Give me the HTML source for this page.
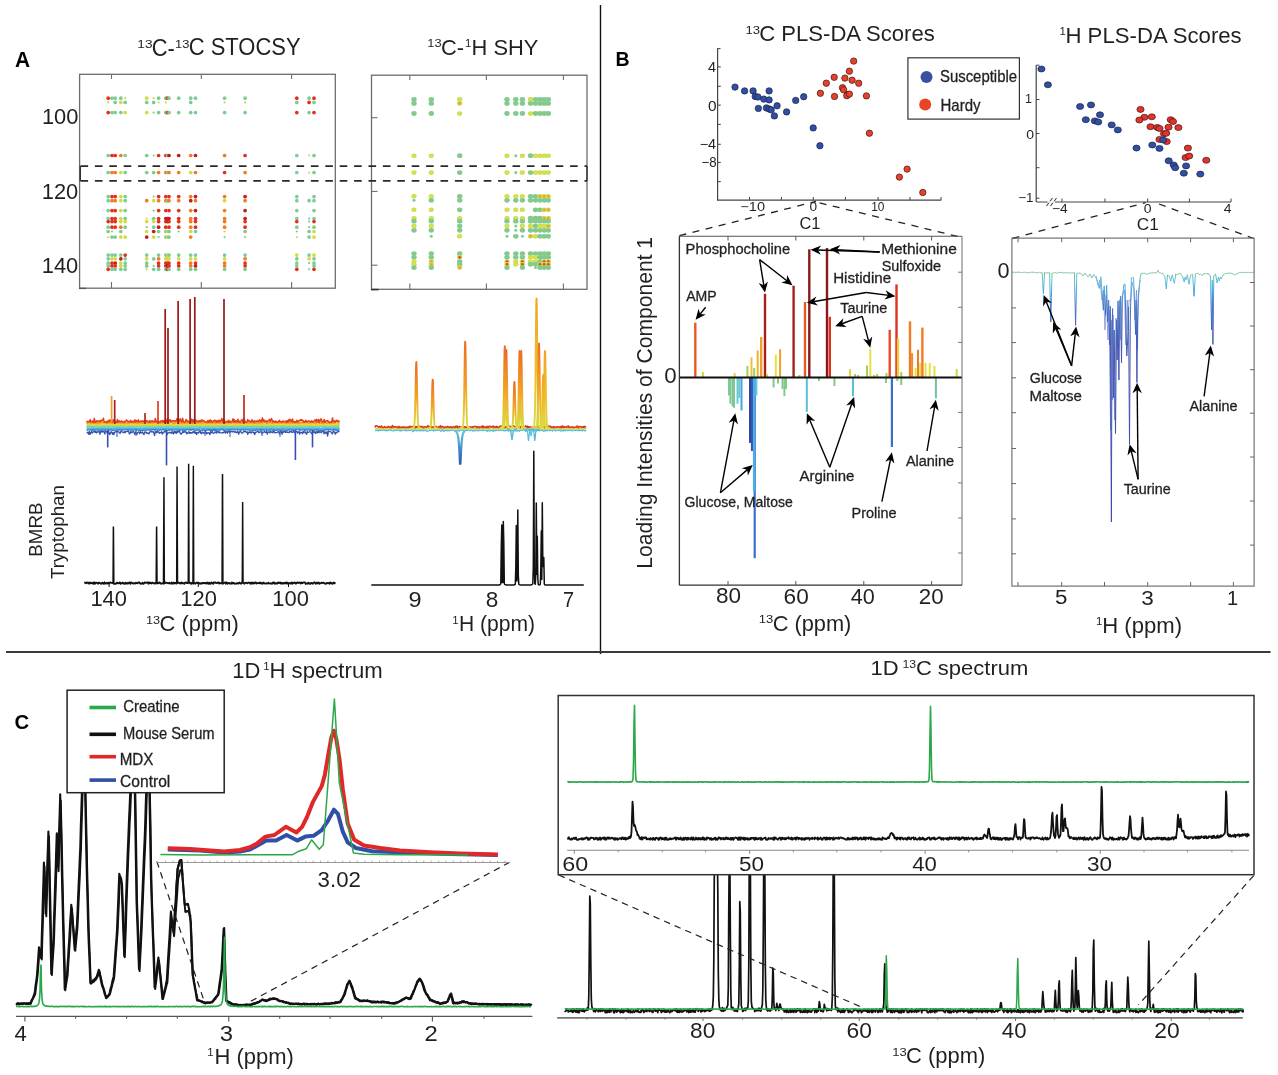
<!DOCTYPE html>
<html><head><meta charset="utf-8"><style>
html,body{margin:0;padding:0;background:#fff;}
svg{display:block;font-family:"Liberation Sans",sans-serif;will-change:transform;}
</style></head><body>
<svg width="1278" height="1075" viewBox="0 0 1278 1075">
<rect width="1278" height="1075" fill="#fff"/>
<line x1="600.5" y1="5.0" x2="600.5" y2="654.0" stroke="#111" stroke-width="1.4" />
<line x1="6.0" y1="652.0" x2="1270.6" y2="652.0" stroke="#3a3a38" stroke-width="2.1" />
<g>
<circle cx="108.2" cy="98.2" r="1.85" fill="#e3301c" stroke="none" stroke-width="0" />
<circle cx="112.0" cy="98.2" r="1.85" fill="#7dcc95" stroke="none" stroke-width="0" />
<circle cx="115.2" cy="98.2" r="1.85" fill="#7dcc95" stroke="none" stroke-width="0" />
<circle cx="120.8" cy="98.2" r="1.85" fill="#7dcc95" stroke="none" stroke-width="0" />
<circle cx="125.2" cy="98.2" r="1.1" fill="#d3db3e" stroke="none" stroke-width="0" />
<circle cx="146.7" cy="98.2" r="1.85" fill="#d3db3e" stroke="none" stroke-width="0" />
<circle cx="153.7" cy="98.2" r="1.1" fill="#d3db3e" stroke="none" stroke-width="0" />
<circle cx="158.6" cy="98.2" r="1.85" fill="#7dcc95" stroke="none" stroke-width="0" />
<circle cx="165.8" cy="98.2" r="1.85" fill="#7dcc95" stroke="none" stroke-width="0" />
<circle cx="167.5" cy="98.2" r="1.85" fill="#e3301c" stroke="none" stroke-width="0" />
<circle cx="169.0" cy="98.2" r="1.85" fill="#7dcc95" stroke="none" stroke-width="0" />
<circle cx="178.7" cy="98.2" r="1.85" fill="#7dcc95" stroke="none" stroke-width="0" />
<circle cx="190.7" cy="98.2" r="1.85" fill="#7dcc95" stroke="none" stroke-width="0" />
<circle cx="195.5" cy="98.2" r="1.85" fill="#7dcc95" stroke="none" stroke-width="0" />
<circle cx="224.6" cy="98.2" r="1.85" fill="#7dcc95" stroke="none" stroke-width="0" />
<circle cx="245.1" cy="98.2" r="1.85" fill="#7dcc95" stroke="none" stroke-width="0" />
<circle cx="296.8" cy="98.2" r="1.85" fill="#e3301c" stroke="none" stroke-width="0" />
<circle cx="309.1" cy="98.2" r="1.85" fill="#7dcc95" stroke="none" stroke-width="0" />
<circle cx="314.0" cy="98.2" r="1.85" fill="#e3301c" stroke="none" stroke-width="0" />
<circle cx="108.2" cy="102.4" r="1.1" fill="#d3db3e" stroke="none" stroke-width="0" />
<circle cx="115.2" cy="102.4" r="1.85" fill="#7dcc95" stroke="none" stroke-width="0" />
<circle cx="120.8" cy="102.4" r="1.85" fill="#d3db3e" stroke="none" stroke-width="0" />
<circle cx="125.2" cy="102.4" r="1.85" fill="#7dcc95" stroke="none" stroke-width="0" />
<circle cx="146.7" cy="102.4" r="1.85" fill="#7dcc95" stroke="none" stroke-width="0" />
<circle cx="153.7" cy="102.4" r="1.85" fill="#7dcc95" stroke="none" stroke-width="0" />
<circle cx="158.6" cy="102.4" r="1.1" fill="#d3db3e" stroke="none" stroke-width="0" />
<circle cx="165.8" cy="102.4" r="1.1" fill="#d3db3e" stroke="none" stroke-width="0" />
<circle cx="190.7" cy="102.4" r="1.85" fill="#7dcc95" stroke="none" stroke-width="0" />
<circle cx="224.6" cy="102.4" r="1.1" fill="#d3db3e" stroke="none" stroke-width="0" />
<circle cx="245.1" cy="102.4" r="1.1" fill="#d3db3e" stroke="none" stroke-width="0" />
<circle cx="296.8" cy="102.4" r="1.85" fill="#7dcc95" stroke="none" stroke-width="0" />
<circle cx="309.1" cy="102.4" r="1.85" fill="#e3301c" stroke="none" stroke-width="0" />
<circle cx="314.0" cy="102.4" r="1.85" fill="#7dcc95" stroke="none" stroke-width="0" />
<circle cx="108.2" cy="112.6" r="1.85" fill="#e3301c" stroke="none" stroke-width="0" />
<circle cx="112.0" cy="112.6" r="1.85" fill="#7dcc95" stroke="none" stroke-width="0" />
<circle cx="115.2" cy="112.6" r="1.85" fill="#7dcc95" stroke="none" stroke-width="0" />
<circle cx="120.8" cy="112.6" r="1.85" fill="#7dcc95" stroke="none" stroke-width="0" />
<circle cx="125.2" cy="112.6" r="1.85" fill="#d3db3e" stroke="none" stroke-width="0" />
<circle cx="146.7" cy="112.6" r="1.85" fill="#d3db3e" stroke="none" stroke-width="0" />
<circle cx="153.7" cy="112.6" r="1.1" fill="#7dcc95" stroke="none" stroke-width="0" />
<circle cx="158.6" cy="112.6" r="1.85" fill="#7dcc95" stroke="none" stroke-width="0" />
<circle cx="165.8" cy="112.6" r="1.85" fill="#7dcc95" stroke="none" stroke-width="0" />
<circle cx="167.5" cy="112.6" r="1.85" fill="#e3301c" stroke="none" stroke-width="0" />
<circle cx="169.0" cy="112.6" r="1.85" fill="#7dcc95" stroke="none" stroke-width="0" />
<circle cx="178.7" cy="112.6" r="1.85" fill="#7dcc95" stroke="none" stroke-width="0" />
<circle cx="190.7" cy="112.6" r="1.85" fill="#7dcc95" stroke="none" stroke-width="0" />
<circle cx="195.5" cy="112.6" r="1.85" fill="#7dcc95" stroke="none" stroke-width="0" />
<circle cx="224.6" cy="112.6" r="1.85" fill="#7dcc95" stroke="none" stroke-width="0" />
<circle cx="245.1" cy="112.6" r="1.85" fill="#7dcc95" stroke="none" stroke-width="0" />
<circle cx="296.8" cy="112.6" r="1.85" fill="#e3301c" stroke="none" stroke-width="0" />
<circle cx="309.1" cy="112.6" r="1.85" fill="#7dcc95" stroke="none" stroke-width="0" />
<circle cx="314.0" cy="112.6" r="1.85" fill="#e3301c" stroke="none" stroke-width="0" />
<circle cx="108.2" cy="155.5" r="1.85" fill="#7dcc95" stroke="none" stroke-width="0" />
<circle cx="112.0" cy="155.5" r="1.85" fill="#e3301c" stroke="none" stroke-width="0" />
<circle cx="115.2" cy="155.5" r="1.85" fill="#e3301c" stroke="none" stroke-width="0" />
<circle cx="120.8" cy="155.5" r="1.85" fill="#f07c22" stroke="none" stroke-width="0" />
<circle cx="125.2" cy="155.5" r="1.85" fill="#7dcc95" stroke="none" stroke-width="0" />
<circle cx="146.7" cy="155.5" r="1.85" fill="#7dcc95" stroke="none" stroke-width="0" />
<circle cx="153.7" cy="155.5" r="1.1" fill="#7dcc95" stroke="none" stroke-width="0" />
<circle cx="158.6" cy="155.5" r="1.85" fill="#e3301c" stroke="none" stroke-width="0" />
<circle cx="165.8" cy="155.5" r="1.85" fill="#e3301c" stroke="none" stroke-width="0" />
<circle cx="167.5" cy="155.5" r="1.85" fill="#7dcc95" stroke="none" stroke-width="0" />
<circle cx="169.0" cy="155.5" r="1.85" fill="#c21d1e" stroke="none" stroke-width="0" />
<circle cx="178.7" cy="155.5" r="1.85" fill="#c21d1e" stroke="none" stroke-width="0" />
<circle cx="190.7" cy="155.5" r="1.85" fill="#f07c22" stroke="none" stroke-width="0" />
<circle cx="195.5" cy="155.5" r="1.85" fill="#c21d1e" stroke="none" stroke-width="0" />
<circle cx="224.6" cy="155.5" r="1.85" fill="#f07c22" stroke="none" stroke-width="0" />
<circle cx="245.1" cy="155.5" r="1.85" fill="#e3301c" stroke="none" stroke-width="0" />
<circle cx="296.8" cy="155.5" r="1.85" fill="#7dcc95" stroke="none" stroke-width="0" />
<circle cx="309.1" cy="155.5" r="1.1" fill="#d3db3e" stroke="none" stroke-width="0" />
<circle cx="314.0" cy="155.5" r="1.85" fill="#7dcc95" stroke="none" stroke-width="0" />
<circle cx="108.2" cy="172.5" r="1.85" fill="#7dcc95" stroke="none" stroke-width="0" />
<circle cx="112.0" cy="172.5" r="1.85" fill="#f07c22" stroke="none" stroke-width="0" />
<circle cx="115.2" cy="172.5" r="1.85" fill="#f07c22" stroke="none" stroke-width="0" />
<circle cx="120.8" cy="172.5" r="1.85" fill="#d3db3e" stroke="none" stroke-width="0" />
<circle cx="125.2" cy="172.5" r="1.85" fill="#7dcc95" stroke="none" stroke-width="0" />
<circle cx="146.7" cy="172.5" r="1.85" fill="#7dcc95" stroke="none" stroke-width="0" />
<circle cx="153.7" cy="172.5" r="1.85" fill="#7dcc95" stroke="none" stroke-width="0" />
<circle cx="158.6" cy="172.5" r="1.85" fill="#f07c22" stroke="none" stroke-width="0" />
<circle cx="165.8" cy="172.5" r="1.85" fill="#f07c22" stroke="none" stroke-width="0" />
<circle cx="167.5" cy="172.5" r="1.85" fill="#7dcc95" stroke="none" stroke-width="0" />
<circle cx="169.0" cy="172.5" r="1.85" fill="#f07c22" stroke="none" stroke-width="0" />
<circle cx="178.7" cy="172.5" r="1.85" fill="#f07c22" stroke="none" stroke-width="0" />
<circle cx="190.7" cy="172.5" r="1.85" fill="#d3db3e" stroke="none" stroke-width="0" />
<circle cx="195.5" cy="172.5" r="1.85" fill="#f07c22" stroke="none" stroke-width="0" />
<circle cx="224.6" cy="172.5" r="1.85" fill="#e3301c" stroke="none" stroke-width="0" />
<circle cx="245.1" cy="172.5" r="1.85" fill="#f07c22" stroke="none" stroke-width="0" />
<circle cx="296.8" cy="172.5" r="1.85" fill="#7dcc95" stroke="none" stroke-width="0" />
<circle cx="309.1" cy="172.5" r="1.1" fill="#d3db3e" stroke="none" stroke-width="0" />
<circle cx="314.0" cy="172.5" r="1.85" fill="#7dcc95" stroke="none" stroke-width="0" />
<circle cx="108.2" cy="196.6" r="1.85" fill="#7dcc95" stroke="none" stroke-width="0" />
<circle cx="112.0" cy="196.6" r="1.85" fill="#e3301c" stroke="none" stroke-width="0" />
<circle cx="115.2" cy="196.6" r="1.85" fill="#e3301c" stroke="none" stroke-width="0" />
<circle cx="120.8" cy="196.6" r="1.85" fill="#d3db3e" stroke="none" stroke-width="0" />
<circle cx="125.2" cy="196.6" r="1.85" fill="#7dcc95" stroke="none" stroke-width="0" />
<circle cx="153.7" cy="196.6" r="1.1" fill="#7dcc95" stroke="none" stroke-width="0" />
<circle cx="158.6" cy="196.6" r="1.85" fill="#e3301c" stroke="none" stroke-width="0" />
<circle cx="165.8" cy="196.6" r="1.85" fill="#e3301c" stroke="none" stroke-width="0" />
<circle cx="169.0" cy="196.6" r="1.85" fill="#e3301c" stroke="none" stroke-width="0" />
<circle cx="178.7" cy="196.6" r="1.85" fill="#e3301c" stroke="none" stroke-width="0" />
<circle cx="190.7" cy="196.6" r="1.85" fill="#f07c22" stroke="none" stroke-width="0" />
<circle cx="195.5" cy="196.6" r="1.85" fill="#c21d1e" stroke="none" stroke-width="0" />
<circle cx="224.6" cy="196.6" r="1.85" fill="#f07c22" stroke="none" stroke-width="0" />
<circle cx="245.1" cy="196.6" r="1.85" fill="#c21d1e" stroke="none" stroke-width="0" />
<circle cx="296.8" cy="196.6" r="1.85" fill="#7dcc95" stroke="none" stroke-width="0" />
<circle cx="314.0" cy="196.6" r="1.85" fill="#7dcc95" stroke="none" stroke-width="0" />
<circle cx="108.2" cy="200.7" r="1.85" fill="#7dcc95" stroke="none" stroke-width="0" />
<circle cx="112.0" cy="200.7" r="1.85" fill="#f07c22" stroke="none" stroke-width="0" />
<circle cx="115.2" cy="200.7" r="1.85" fill="#f07c22" stroke="none" stroke-width="0" />
<circle cx="120.8" cy="200.7" r="1.85" fill="#d3db3e" stroke="none" stroke-width="0" />
<circle cx="125.2" cy="200.7" r="1.85" fill="#7dcc95" stroke="none" stroke-width="0" />
<circle cx="146.7" cy="200.7" r="1.85" fill="#f07c22" stroke="none" stroke-width="0" />
<circle cx="153.7" cy="200.7" r="1.85" fill="#d3db3e" stroke="none" stroke-width="0" />
<circle cx="158.6" cy="200.7" r="1.85" fill="#f07c22" stroke="none" stroke-width="0" />
<circle cx="165.8" cy="200.7" r="1.85" fill="#f07c22" stroke="none" stroke-width="0" />
<circle cx="167.5" cy="200.7" r="1.85" fill="#7dcc95" stroke="none" stroke-width="0" />
<circle cx="169.0" cy="200.7" r="1.85" fill="#f07c22" stroke="none" stroke-width="0" />
<circle cx="178.7" cy="200.7" r="1.85" fill="#f07c22" stroke="none" stroke-width="0" />
<circle cx="190.7" cy="200.7" r="1.85" fill="#c21d1e" stroke="none" stroke-width="0" />
<circle cx="195.5" cy="200.7" r="1.85" fill="#f07c22" stroke="none" stroke-width="0" />
<circle cx="224.6" cy="200.7" r="1.85" fill="#d3db3e" stroke="none" stroke-width="0" />
<circle cx="245.1" cy="200.7" r="1.85" fill="#f07c22" stroke="none" stroke-width="0" />
<circle cx="296.8" cy="200.7" r="1.85" fill="#7dcc95" stroke="none" stroke-width="0" />
<circle cx="309.1" cy="200.7" r="1.85" fill="#7dcc95" stroke="none" stroke-width="0" />
<circle cx="314.0" cy="200.7" r="1.85" fill="#7dcc95" stroke="none" stroke-width="0" />
<circle cx="108.2" cy="210.6" r="1.85" fill="#7dcc95" stroke="none" stroke-width="0" />
<circle cx="112.0" cy="210.6" r="1.85" fill="#e3301c" stroke="none" stroke-width="0" />
<circle cx="115.2" cy="210.6" r="1.85" fill="#e3301c" stroke="none" stroke-width="0" />
<circle cx="120.8" cy="210.6" r="1.85" fill="#d3db3e" stroke="none" stroke-width="0" />
<circle cx="125.2" cy="210.6" r="1.85" fill="#7dcc95" stroke="none" stroke-width="0" />
<circle cx="153.7" cy="210.6" r="1.1" fill="#7dcc95" stroke="none" stroke-width="0" />
<circle cx="158.6" cy="210.6" r="1.85" fill="#e3301c" stroke="none" stroke-width="0" />
<circle cx="165.8" cy="210.6" r="1.85" fill="#e3301c" stroke="none" stroke-width="0" />
<circle cx="169.0" cy="210.6" r="1.85" fill="#e3301c" stroke="none" stroke-width="0" />
<circle cx="178.7" cy="210.6" r="1.85" fill="#e3301c" stroke="none" stroke-width="0" />
<circle cx="190.7" cy="210.6" r="1.85" fill="#f07c22" stroke="none" stroke-width="0" />
<circle cx="195.5" cy="210.6" r="1.85" fill="#c21d1e" stroke="none" stroke-width="0" />
<circle cx="224.6" cy="210.6" r="1.85" fill="#f07c22" stroke="none" stroke-width="0" />
<circle cx="245.1" cy="210.6" r="1.85" fill="#c21d1e" stroke="none" stroke-width="0" />
<circle cx="296.8" cy="210.6" r="1.85" fill="#7dcc95" stroke="none" stroke-width="0" />
<circle cx="314.0" cy="210.6" r="1.85" fill="#7dcc95" stroke="none" stroke-width="0" />
<circle cx="108.2" cy="218.5" r="1.85" fill="#7dcc95" stroke="none" stroke-width="0" />
<circle cx="112.0" cy="218.5" r="1.85" fill="#e3301c" stroke="none" stroke-width="0" />
<circle cx="115.2" cy="218.5" r="1.85" fill="#e3301c" stroke="none" stroke-width="0" />
<circle cx="120.8" cy="218.5" r="1.85" fill="#d3db3e" stroke="none" stroke-width="0" />
<circle cx="125.2" cy="218.5" r="1.85" fill="#7dcc95" stroke="none" stroke-width="0" />
<circle cx="146.7" cy="218.5" r="1.1" fill="#d3db3e" stroke="none" stroke-width="0" />
<circle cx="153.7" cy="218.5" r="1.85" fill="#7dcc95" stroke="none" stroke-width="0" />
<circle cx="158.6" cy="218.5" r="1.85" fill="#e3301c" stroke="none" stroke-width="0" />
<circle cx="165.8" cy="218.5" r="1.85" fill="#c21d1e" stroke="none" stroke-width="0" />
<circle cx="167.5" cy="218.5" r="1.85" fill="#c21d1e" stroke="none" stroke-width="0" />
<circle cx="169.0" cy="218.5" r="1.85" fill="#c21d1e" stroke="none" stroke-width="0" />
<circle cx="178.7" cy="218.5" r="1.85" fill="#e3301c" stroke="none" stroke-width="0" />
<circle cx="190.7" cy="218.5" r="1.85" fill="#f07c22" stroke="none" stroke-width="0" />
<circle cx="195.5" cy="218.5" r="1.85" fill="#e3301c" stroke="none" stroke-width="0" />
<circle cx="224.6" cy="218.5" r="1.85" fill="#f07c22" stroke="none" stroke-width="0" />
<circle cx="245.1" cy="218.5" r="1.85" fill="#c21d1e" stroke="none" stroke-width="0" />
<circle cx="296.8" cy="218.5" r="1.85" fill="#7dcc95" stroke="none" stroke-width="0" />
<circle cx="309.1" cy="218.5" r="1.1" fill="#7dcc95" stroke="none" stroke-width="0" />
<circle cx="314.0" cy="218.5" r="1.85" fill="#7dcc95" stroke="none" stroke-width="0" />
<circle cx="108.2" cy="221.6" r="1.85" fill="#e3301c" stroke="none" stroke-width="0" />
<circle cx="112.0" cy="221.6" r="1.85" fill="#e3301c" stroke="none" stroke-width="0" />
<circle cx="115.2" cy="221.6" r="1.85" fill="#e3301c" stroke="none" stroke-width="0" />
<circle cx="120.8" cy="221.6" r="1.85" fill="#d3db3e" stroke="none" stroke-width="0" />
<circle cx="125.2" cy="221.6" r="1.85" fill="#d3db3e" stroke="none" stroke-width="0" />
<circle cx="146.7" cy="221.6" r="1.85" fill="#d3db3e" stroke="none" stroke-width="0" />
<circle cx="153.7" cy="221.6" r="1.85" fill="#d3db3e" stroke="none" stroke-width="0" />
<circle cx="158.6" cy="221.6" r="1.85" fill="#e3301c" stroke="none" stroke-width="0" />
<circle cx="165.8" cy="221.6" r="1.85" fill="#e3301c" stroke="none" stroke-width="0" />
<circle cx="167.5" cy="221.6" r="1.85" fill="#c21d1e" stroke="none" stroke-width="0" />
<circle cx="169.0" cy="221.6" r="1.85" fill="#e3301c" stroke="none" stroke-width="0" />
<circle cx="178.7" cy="221.6" r="1.85" fill="#e3301c" stroke="none" stroke-width="0" />
<circle cx="190.7" cy="221.6" r="1.85" fill="#f07c22" stroke="none" stroke-width="0" />
<circle cx="195.5" cy="221.6" r="1.85" fill="#e3301c" stroke="none" stroke-width="0" />
<circle cx="224.6" cy="221.6" r="1.85" fill="#f07c22" stroke="none" stroke-width="0" />
<circle cx="245.1" cy="221.6" r="1.85" fill="#e3301c" stroke="none" stroke-width="0" />
<circle cx="296.8" cy="221.6" r="1.85" fill="#e3301c" stroke="none" stroke-width="0" />
<circle cx="309.1" cy="221.6" r="1.1" fill="#7dcc95" stroke="none" stroke-width="0" />
<circle cx="314.0" cy="221.6" r="1.85" fill="#e3301c" stroke="none" stroke-width="0" />
<circle cx="108.2" cy="227.2" r="1.85" fill="#7dcc95" stroke="none" stroke-width="0" />
<circle cx="112.0" cy="227.2" r="1.85" fill="#e3301c" stroke="none" stroke-width="0" />
<circle cx="115.2" cy="227.2" r="1.85" fill="#e3301c" stroke="none" stroke-width="0" />
<circle cx="120.8" cy="227.2" r="1.85" fill="#f07c22" stroke="none" stroke-width="0" />
<circle cx="125.2" cy="227.2" r="1.85" fill="#7dcc95" stroke="none" stroke-width="0" />
<circle cx="146.7" cy="227.2" r="1.1" fill="#7dcc95" stroke="none" stroke-width="0" />
<circle cx="153.7" cy="227.2" r="1.85" fill="#7dcc95" stroke="none" stroke-width="0" />
<circle cx="158.6" cy="227.2" r="1.85" fill="#c21d1e" stroke="none" stroke-width="0" />
<circle cx="165.8" cy="227.2" r="1.85" fill="#e3301c" stroke="none" stroke-width="0" />
<circle cx="169.0" cy="227.2" r="1.85" fill="#e3301c" stroke="none" stroke-width="0" />
<circle cx="178.7" cy="227.2" r="1.85" fill="#e3301c" stroke="none" stroke-width="0" />
<circle cx="190.7" cy="227.2" r="1.85" fill="#f07c22" stroke="none" stroke-width="0" />
<circle cx="195.5" cy="227.2" r="1.85" fill="#e3301c" stroke="none" stroke-width="0" />
<circle cx="224.6" cy="227.2" r="1.85" fill="#f07c22" stroke="none" stroke-width="0" />
<circle cx="245.1" cy="227.2" r="1.85" fill="#e3301c" stroke="none" stroke-width="0" />
<circle cx="296.8" cy="227.2" r="1.85" fill="#7dcc95" stroke="none" stroke-width="0" />
<circle cx="309.1" cy="227.2" r="1.1" fill="#7dcc95" stroke="none" stroke-width="0" />
<circle cx="314.0" cy="227.2" r="1.85" fill="#7dcc95" stroke="none" stroke-width="0" />
<circle cx="108.2" cy="231.5" r="1.85" fill="#7dcc95" stroke="none" stroke-width="0" />
<circle cx="112.0" cy="231.5" r="1.1" fill="#7dcc95" stroke="none" stroke-width="0" />
<circle cx="120.8" cy="231.5" r="1.85" fill="#7dcc95" stroke="none" stroke-width="0" />
<circle cx="146.7" cy="231.5" r="1.85" fill="#d3db3e" stroke="none" stroke-width="0" />
<circle cx="153.7" cy="231.5" r="1.85" fill="#c21d1e" stroke="none" stroke-width="0" />
<circle cx="158.6" cy="231.5" r="1.85" fill="#7dcc95" stroke="none" stroke-width="0" />
<circle cx="165.8" cy="231.5" r="1.85" fill="#7dcc95" stroke="none" stroke-width="0" />
<circle cx="167.5" cy="231.5" r="1.85" fill="#d3db3e" stroke="none" stroke-width="0" />
<circle cx="169.0" cy="231.5" r="1.85" fill="#7dcc95" stroke="none" stroke-width="0" />
<circle cx="178.7" cy="231.5" r="1.1" fill="#7dcc95" stroke="none" stroke-width="0" />
<circle cx="190.7" cy="231.5" r="1.85" fill="#d3db3e" stroke="none" stroke-width="0" />
<circle cx="195.5" cy="231.5" r="1.85" fill="#7dcc95" stroke="none" stroke-width="0" />
<circle cx="224.6" cy="231.5" r="1.1" fill="#d3db3e" stroke="none" stroke-width="0" />
<circle cx="245.1" cy="231.5" r="1.85" fill="#7dcc95" stroke="none" stroke-width="0" />
<circle cx="296.8" cy="231.5" r="1.1" fill="#7dcc95" stroke="none" stroke-width="0" />
<circle cx="309.1" cy="231.5" r="1.85" fill="#7dcc95" stroke="none" stroke-width="0" />
<circle cx="314.0" cy="231.5" r="1.85" fill="#d3db3e" stroke="none" stroke-width="0" />
<circle cx="108.2" cy="237.1" r="1.1" fill="#d3db3e" stroke="none" stroke-width="0" />
<circle cx="112.0" cy="237.1" r="1.85" fill="#7dcc95" stroke="none" stroke-width="0" />
<circle cx="115.2" cy="237.1" r="1.85" fill="#7dcc95" stroke="none" stroke-width="0" />
<circle cx="120.8" cy="237.1" r="1.85" fill="#d3db3e" stroke="none" stroke-width="0" />
<circle cx="125.2" cy="237.1" r="1.85" fill="#d3db3e" stroke="none" stroke-width="0" />
<circle cx="146.7" cy="237.1" r="1.85" fill="#c21d1e" stroke="none" stroke-width="0" />
<circle cx="153.7" cy="237.1" r="1.85" fill="#d3db3e" stroke="none" stroke-width="0" />
<circle cx="158.6" cy="237.1" r="1.1" fill="#7dcc95" stroke="none" stroke-width="0" />
<circle cx="165.8" cy="237.1" r="1.85" fill="#7dcc95" stroke="none" stroke-width="0" />
<circle cx="167.5" cy="237.1" r="1.85" fill="#d3db3e" stroke="none" stroke-width="0" />
<circle cx="169.0" cy="237.1" r="1.85" fill="#7dcc95" stroke="none" stroke-width="0" />
<circle cx="190.7" cy="237.1" r="1.85" fill="#f07c22" stroke="none" stroke-width="0" />
<circle cx="224.6" cy="237.1" r="1.1" fill="#7dcc95" stroke="none" stroke-width="0" />
<circle cx="245.1" cy="237.1" r="1.1" fill="#7dcc95" stroke="none" stroke-width="0" />
<circle cx="296.8" cy="237.1" r="1.1" fill="#d3db3e" stroke="none" stroke-width="0" />
<circle cx="309.1" cy="237.1" r="1.85" fill="#7dcc95" stroke="none" stroke-width="0" />
<circle cx="314.0" cy="237.1" r="1.85" fill="#d3db3e" stroke="none" stroke-width="0" />
<circle cx="108.2" cy="255.1" r="1.85" fill="#7dcc95" stroke="none" stroke-width="0" />
<circle cx="112.0" cy="255.1" r="1.85" fill="#7dcc95" stroke="none" stroke-width="0" />
<circle cx="115.2" cy="255.1" r="1.85" fill="#7dcc95" stroke="none" stroke-width="0" />
<circle cx="120.8" cy="255.1" r="1.85" fill="#7dcc95" stroke="none" stroke-width="0" />
<circle cx="125.2" cy="255.1" r="1.85" fill="#e3301c" stroke="none" stroke-width="0" />
<circle cx="146.7" cy="255.1" r="1.85" fill="#7dcc95" stroke="none" stroke-width="0" />
<circle cx="158.6" cy="255.1" r="1.85" fill="#7dcc95" stroke="none" stroke-width="0" />
<circle cx="165.8" cy="255.1" r="1.85" fill="#7dcc95" stroke="none" stroke-width="0" />
<circle cx="167.5" cy="255.1" r="1.85" fill="#d3db3e" stroke="none" stroke-width="0" />
<circle cx="169.0" cy="255.1" r="1.85" fill="#7dcc95" stroke="none" stroke-width="0" />
<circle cx="178.7" cy="255.1" r="1.85" fill="#7dcc95" stroke="none" stroke-width="0" />
<circle cx="190.7" cy="255.1" r="1.85" fill="#7dcc95" stroke="none" stroke-width="0" />
<circle cx="195.5" cy="255.1" r="1.85" fill="#7dcc95" stroke="none" stroke-width="0" />
<circle cx="224.6" cy="255.1" r="1.85" fill="#7dcc95" stroke="none" stroke-width="0" />
<circle cx="245.1" cy="255.1" r="1.85" fill="#7dcc95" stroke="none" stroke-width="0" />
<circle cx="296.8" cy="255.1" r="1.85" fill="#d3db3e" stroke="none" stroke-width="0" />
<circle cx="309.1" cy="255.1" r="1.85" fill="#7dcc95" stroke="none" stroke-width="0" />
<circle cx="314.0" cy="255.1" r="1.85" fill="#d3db3e" stroke="none" stroke-width="0" />
<circle cx="108.2" cy="258.8" r="1.85" fill="#7dcc95" stroke="none" stroke-width="0" />
<circle cx="112.0" cy="258.8" r="1.85" fill="#d3db3e" stroke="none" stroke-width="0" />
<circle cx="115.2" cy="258.8" r="1.85" fill="#d3db3e" stroke="none" stroke-width="0" />
<circle cx="120.8" cy="258.8" r="1.85" fill="#c21d1e" stroke="none" stroke-width="0" />
<circle cx="125.2" cy="258.8" r="1.85" fill="#7dcc95" stroke="none" stroke-width="0" />
<circle cx="146.7" cy="258.8" r="1.85" fill="#d3db3e" stroke="none" stroke-width="0" />
<circle cx="153.7" cy="258.8" r="1.85" fill="#7dcc95" stroke="none" stroke-width="0" />
<circle cx="158.6" cy="258.8" r="1.85" fill="#f07c22" stroke="none" stroke-width="0" />
<circle cx="165.8" cy="258.8" r="1.85" fill="#d3db3e" stroke="none" stroke-width="0" />
<circle cx="167.5" cy="258.8" r="1.85" fill="#d3db3e" stroke="none" stroke-width="0" />
<circle cx="169.0" cy="258.8" r="1.85" fill="#d3db3e" stroke="none" stroke-width="0" />
<circle cx="178.7" cy="258.8" r="1.85" fill="#d3db3e" stroke="none" stroke-width="0" />
<circle cx="190.7" cy="258.8" r="1.85" fill="#d3db3e" stroke="none" stroke-width="0" />
<circle cx="195.5" cy="258.8" r="1.85" fill="#d3db3e" stroke="none" stroke-width="0" />
<circle cx="224.6" cy="258.8" r="1.85" fill="#d3db3e" stroke="none" stroke-width="0" />
<circle cx="245.1" cy="258.8" r="1.85" fill="#f07c22" stroke="none" stroke-width="0" />
<circle cx="296.8" cy="258.8" r="1.85" fill="#7dcc95" stroke="none" stroke-width="0" />
<circle cx="309.1" cy="258.8" r="1.85" fill="#d3db3e" stroke="none" stroke-width="0" />
<circle cx="314.0" cy="258.8" r="1.85" fill="#7dcc95" stroke="none" stroke-width="0" />
<circle cx="108.2" cy="263.1" r="1.85" fill="#7dcc95" stroke="none" stroke-width="0" />
<circle cx="112.0" cy="263.1" r="1.85" fill="#e3301c" stroke="none" stroke-width="0" />
<circle cx="115.2" cy="263.1" r="1.85" fill="#c21d1e" stroke="none" stroke-width="0" />
<circle cx="120.8" cy="263.1" r="1.85" fill="#d3db3e" stroke="none" stroke-width="0" />
<circle cx="125.2" cy="263.1" r="1.85" fill="#7dcc95" stroke="none" stroke-width="0" />
<circle cx="146.7" cy="263.1" r="1.85" fill="#7dcc95" stroke="none" stroke-width="0" />
<circle cx="158.6" cy="263.1" r="1.85" fill="#e3301c" stroke="none" stroke-width="0" />
<circle cx="165.8" cy="263.1" r="1.85" fill="#e3301c" stroke="none" stroke-width="0" />
<circle cx="167.5" cy="263.1" r="1.85" fill="#e3301c" stroke="none" stroke-width="0" />
<circle cx="169.0" cy="263.1" r="1.85" fill="#e3301c" stroke="none" stroke-width="0" />
<circle cx="178.7" cy="263.1" r="1.85" fill="#e3301c" stroke="none" stroke-width="0" />
<circle cx="190.7" cy="263.1" r="1.85" fill="#f07c22" stroke="none" stroke-width="0" />
<circle cx="195.5" cy="263.1" r="1.85" fill="#e3301c" stroke="none" stroke-width="0" />
<circle cx="224.6" cy="263.1" r="1.85" fill="#f07c22" stroke="none" stroke-width="0" />
<circle cx="245.1" cy="263.1" r="1.85" fill="#e3301c" stroke="none" stroke-width="0" />
<circle cx="296.8" cy="263.1" r="1.85" fill="#7dcc95" stroke="none" stroke-width="0" />
<circle cx="309.1" cy="263.1" r="1.1" fill="#7dcc95" stroke="none" stroke-width="0" />
<circle cx="314.0" cy="263.1" r="1.85" fill="#7dcc95" stroke="none" stroke-width="0" />
<circle cx="108.2" cy="265.9" r="1.85" fill="#7dcc95" stroke="none" stroke-width="0" />
<circle cx="112.0" cy="265.9" r="1.85" fill="#e3301c" stroke="none" stroke-width="0" />
<circle cx="115.2" cy="265.9" r="1.85" fill="#e3301c" stroke="none" stroke-width="0" />
<circle cx="120.8" cy="265.9" r="1.85" fill="#d3db3e" stroke="none" stroke-width="0" />
<circle cx="125.2" cy="265.9" r="1.85" fill="#7dcc95" stroke="none" stroke-width="0" />
<circle cx="146.7" cy="265.9" r="1.85" fill="#7dcc95" stroke="none" stroke-width="0" />
<circle cx="153.7" cy="265.9" r="1.1" fill="#7dcc95" stroke="none" stroke-width="0" />
<circle cx="158.6" cy="265.9" r="1.85" fill="#e3301c" stroke="none" stroke-width="0" />
<circle cx="165.8" cy="265.9" r="1.85" fill="#e3301c" stroke="none" stroke-width="0" />
<circle cx="167.5" cy="265.9" r="1.85" fill="#c21d1e" stroke="none" stroke-width="0" />
<circle cx="169.0" cy="265.9" r="1.85" fill="#e3301c" stroke="none" stroke-width="0" />
<circle cx="178.7" cy="265.9" r="1.85" fill="#e3301c" stroke="none" stroke-width="0" />
<circle cx="190.7" cy="265.9" r="1.85" fill="#f07c22" stroke="none" stroke-width="0" />
<circle cx="195.5" cy="265.9" r="1.85" fill="#c21d1e" stroke="none" stroke-width="0" />
<circle cx="224.6" cy="265.9" r="1.85" fill="#f07c22" stroke="none" stroke-width="0" />
<circle cx="245.1" cy="265.9" r="1.85" fill="#e3301c" stroke="none" stroke-width="0" />
<circle cx="296.8" cy="265.9" r="1.85" fill="#7dcc95" stroke="none" stroke-width="0" />
<circle cx="314.0" cy="265.9" r="1.85" fill="#7dcc95" stroke="none" stroke-width="0" />
<circle cx="108.2" cy="269.3" r="1.85" fill="#e3301c" stroke="none" stroke-width="0" />
<circle cx="112.0" cy="269.3" r="1.85" fill="#7dcc95" stroke="none" stroke-width="0" />
<circle cx="115.2" cy="269.3" r="1.85" fill="#7dcc95" stroke="none" stroke-width="0" />
<circle cx="120.8" cy="269.3" r="1.85" fill="#7dcc95" stroke="none" stroke-width="0" />
<circle cx="125.2" cy="269.3" r="1.85" fill="#7dcc95" stroke="none" stroke-width="0" />
<circle cx="146.7" cy="269.3" r="1.1" fill="#d3db3e" stroke="none" stroke-width="0" />
<circle cx="153.7" cy="269.3" r="1.85" fill="#7dcc95" stroke="none" stroke-width="0" />
<circle cx="158.6" cy="269.3" r="1.85" fill="#7dcc95" stroke="none" stroke-width="0" />
<circle cx="165.8" cy="269.3" r="1.85" fill="#7dcc95" stroke="none" stroke-width="0" />
<circle cx="167.5" cy="269.3" r="1.85" fill="#e3301c" stroke="none" stroke-width="0" />
<circle cx="169.0" cy="269.3" r="1.85" fill="#7dcc95" stroke="none" stroke-width="0" />
<circle cx="178.7" cy="269.3" r="1.85" fill="#7dcc95" stroke="none" stroke-width="0" />
<circle cx="190.7" cy="269.3" r="1.85" fill="#7dcc95" stroke="none" stroke-width="0" />
<circle cx="195.5" cy="269.3" r="1.85" fill="#7dcc95" stroke="none" stroke-width="0" />
<circle cx="224.6" cy="269.3" r="1.85" fill="#7dcc95" stroke="none" stroke-width="0" />
<circle cx="245.1" cy="269.3" r="1.85" fill="#7dcc95" stroke="none" stroke-width="0" />
<circle cx="296.8" cy="269.3" r="1.85" fill="#e3301c" stroke="none" stroke-width="0" />
<circle cx="309.1" cy="269.3" r="1.1" fill="#7dcc95" stroke="none" stroke-width="0" />
<circle cx="314.0" cy="269.3" r="1.85" fill="#e3301c" stroke="none" stroke-width="0" />
</g>
<rect x="79.6" y="74.3" width="255.7" height="213.9" fill="none" stroke="#6d6d6d" stroke-width="1.3" />
<line x1="111.5" y1="74.3" x2="111.5" y2="79.0" stroke="#6d6d6d" stroke-width="1.1" />
<line x1="111.5" y1="288.2" x2="111.5" y2="282.0" stroke="#6d6d6d" stroke-width="1.1" />
<line x1="201.3" y1="74.3" x2="201.3" y2="79.0" stroke="#6d6d6d" stroke-width="1.1" />
<line x1="201.3" y1="288.2" x2="201.3" y2="282.0" stroke="#6d6d6d" stroke-width="1.1" />
<line x1="291.6" y1="74.3" x2="291.6" y2="79.0" stroke="#6d6d6d" stroke-width="1.1" />
<line x1="291.6" y1="288.2" x2="291.6" y2="282.0" stroke="#6d6d6d" stroke-width="1.1" />
<ellipse cx="414" cy="99.4" rx="2.7" ry="2.4" fill="#84ca8c"/>
<ellipse cx="431.3" cy="99.4" rx="2.7" ry="2.4" fill="#84ca8c"/>
<ellipse cx="459.7" cy="99.4" rx="2.6" ry="2.3" fill="#c9dc55"/>
<circle cx="459.7" cy="99.4" r="1.3" fill="#e6e03a" stroke="none" stroke-width="0" />
<ellipse cx="507" cy="99.4" rx="2.7" ry="2.4" fill="#84ca8c"/>
<ellipse cx="515.8" cy="99.4" rx="2.7" ry="2.4" fill="#84ca8c"/>
<ellipse cx="522.4" cy="99.4" rx="2.7" ry="2.4" fill="#84ca8c"/>
<ellipse cx="530.5" cy="99.4" rx="2.6" ry="2.3" fill="#c9dc55"/>
<circle cx="530.5" cy="99.4" r="1.3" fill="#e6e03a" stroke="none" stroke-width="0" />
<ellipse cx="535.5" cy="99.4" rx="2.7" ry="2.4" fill="#84ca8c"/>
<ellipse cx="540" cy="99.4" rx="2.7" ry="2.4" fill="#84ca8c"/>
<ellipse cx="544.2" cy="99.4" rx="2.7" ry="2.4" fill="#84ca8c"/>
<ellipse cx="548.3" cy="99.4" rx="2.7" ry="2.4" fill="#84ca8c"/>
<ellipse cx="414" cy="103.4" rx="2.7" ry="2.4" fill="#84ca8c"/>
<ellipse cx="431.3" cy="103.4" rx="2.7" ry="2.4" fill="#84ca8c"/>
<ellipse cx="459.7" cy="103.4" rx="2.6" ry="2.3" fill="#c9dc55"/>
<circle cx="459.7" cy="103.4" r="1.4" fill="#f2a22a" stroke="none" stroke-width="0" />
<ellipse cx="507" cy="103.4" rx="2.7" ry="2.4" fill="#84ca8c"/>
<ellipse cx="515.8" cy="103.4" rx="2.7" ry="2.4" fill="#84ca8c"/>
<ellipse cx="522.4" cy="103.4" rx="2.7" ry="2.4" fill="#84ca8c"/>
<ellipse cx="530.5" cy="103.4" rx="2.7" ry="2.4" fill="#84ca8c"/>
<ellipse cx="535.5" cy="103.4" rx="2.7" ry="2.4" fill="#84ca8c"/>
<ellipse cx="540" cy="103.4" rx="2.7" ry="2.4" fill="#84ca8c"/>
<ellipse cx="544.2" cy="103.4" rx="2.7" ry="2.4" fill="#84ca8c"/>
<ellipse cx="548.3" cy="103.4" rx="2.7" ry="2.4" fill="#84ca8c"/>
<ellipse cx="414" cy="113.5" rx="2.7" ry="2.4" fill="#84ca8c"/>
<ellipse cx="431.3" cy="113.5" rx="2.7" ry="2.4" fill="#84ca8c"/>
<ellipse cx="459.7" cy="113.5" rx="2.6" ry="2.3" fill="#c9dc55"/>
<circle cx="459.7" cy="113.5" r="1.3" fill="#e6e03a" stroke="none" stroke-width="0" />
<ellipse cx="507" cy="113.5" rx="2.7" ry="2.4" fill="#84ca8c"/>
<ellipse cx="515.8" cy="113.5" rx="2.7" ry="2.4" fill="#84ca8c"/>
<ellipse cx="522.4" cy="113.5" rx="2.7" ry="2.4" fill="#84ca8c"/>
<ellipse cx="530.5" cy="113.5" rx="2.6" ry="2.3" fill="#c9dc55"/>
<circle cx="530.5" cy="113.5" r="1.3" fill="#e6e03a" stroke="none" stroke-width="0" />
<ellipse cx="535.5" cy="113.5" rx="2.7" ry="2.4" fill="#84ca8c"/>
<ellipse cx="540" cy="113.5" rx="2.7" ry="2.4" fill="#84ca8c"/>
<ellipse cx="544.2" cy="113.5" rx="2.7" ry="2.4" fill="#84ca8c"/>
<ellipse cx="548.3" cy="113.5" rx="2.7" ry="2.4" fill="#84ca8c"/>
<ellipse cx="414" cy="155.7" rx="2.6" ry="2.3" fill="#c9dc55"/>
<circle cx="414.0" cy="155.7" r="1.3" fill="#e6e03a" stroke="none" stroke-width="0" />
<ellipse cx="431.3" cy="155.7" rx="2.6" ry="2.3" fill="#c9dc55"/>
<circle cx="431.3" cy="155.7" r="1.3" fill="#e6e03a" stroke="none" stroke-width="0" />
<ellipse cx="459.7" cy="155.7" rx="2.7" ry="2.4" fill="#84ca8c"/>
<ellipse cx="507" cy="155.7" rx="2.6" ry="2.3" fill="#c9dc55"/>
<circle cx="507.0" cy="155.7" r="1.3" fill="#e6e03a" stroke="none" stroke-width="0" />
<circle cx="515.8" cy="155.7" r="1.5" fill="#7dcc95" stroke="none" stroke-width="0" />
<ellipse cx="522.4" cy="155.7" rx="2.6" ry="2.3" fill="#c9dc55"/>
<circle cx="522.4" cy="155.7" r="1.3" fill="#e6e03a" stroke="none" stroke-width="0" />
<ellipse cx="530.5" cy="155.7" rx="2.7" ry="2.4" fill="#84ca8c"/>
<ellipse cx="535.5" cy="155.7" rx="2.6" ry="2.3" fill="#c9dc55"/>
<circle cx="535.5" cy="155.7" r="1.3" fill="#e6e03a" stroke="none" stroke-width="0" />
<ellipse cx="540" cy="155.7" rx="2.6" ry="2.3" fill="#c9dc55"/>
<circle cx="540.0" cy="155.7" r="1.3" fill="#e6e03a" stroke="none" stroke-width="0" />
<ellipse cx="544.2" cy="155.7" rx="2.6" ry="2.3" fill="#c9dc55"/>
<circle cx="544.2" cy="155.7" r="1.3" fill="#e6e03a" stroke="none" stroke-width="0" />
<ellipse cx="548.3" cy="155.7" rx="2.6" ry="2.3" fill="#c9dc55"/>
<circle cx="548.3" cy="155.7" r="1.3" fill="#e6e03a" stroke="none" stroke-width="0" />
<ellipse cx="414" cy="172.6" rx="2.6" ry="2.3" fill="#c9dc55"/>
<circle cx="414.0" cy="172.6" r="1.3" fill="#e6e03a" stroke="none" stroke-width="0" />
<ellipse cx="431.3" cy="172.6" rx="2.6" ry="2.3" fill="#c9dc55"/>
<circle cx="431.3" cy="172.6" r="1.3" fill="#e6e03a" stroke="none" stroke-width="0" />
<ellipse cx="459.7" cy="172.6" rx="2.7" ry="2.4" fill="#84ca8c"/>
<ellipse cx="507" cy="172.6" rx="2.6" ry="2.3" fill="#c9dc55"/>
<circle cx="507.0" cy="172.6" r="1.3" fill="#e6e03a" stroke="none" stroke-width="0" />
<circle cx="515.8" cy="172.6" r="1.5" fill="#7dcc95" stroke="none" stroke-width="0" />
<ellipse cx="522.4" cy="172.6" rx="2.6" ry="2.3" fill="#c9dc55"/>
<circle cx="522.4" cy="172.6" r="1.3" fill="#e6e03a" stroke="none" stroke-width="0" />
<ellipse cx="530.5" cy="172.6" rx="2.7" ry="2.4" fill="#84ca8c"/>
<ellipse cx="535.5" cy="172.6" rx="2.6" ry="2.3" fill="#c9dc55"/>
<circle cx="535.5" cy="172.6" r="1.3" fill="#e6e03a" stroke="none" stroke-width="0" />
<ellipse cx="540" cy="172.6" rx="2.6" ry="2.3" fill="#c9dc55"/>
<circle cx="540.0" cy="172.6" r="1.3" fill="#e6e03a" stroke="none" stroke-width="0" />
<ellipse cx="544.2" cy="172.6" rx="2.6" ry="2.3" fill="#c9dc55"/>
<circle cx="544.2" cy="172.6" r="1.3" fill="#e6e03a" stroke="none" stroke-width="0" />
<ellipse cx="548.3" cy="172.6" rx="2.6" ry="2.3" fill="#c9dc55"/>
<circle cx="548.3" cy="172.6" r="1.3" fill="#e6e03a" stroke="none" stroke-width="0" />
<ellipse cx="414" cy="196.3" rx="2.6" ry="2.3" fill="#c9dc55"/>
<circle cx="414.0" cy="196.3" r="1.3" fill="#e6e03a" stroke="none" stroke-width="0" />
<ellipse cx="431.3" cy="196.3" rx="2.6" ry="2.3" fill="#c9dc55"/>
<circle cx="431.3" cy="196.3" r="1.3" fill="#e6e03a" stroke="none" stroke-width="0" />
<ellipse cx="459.7" cy="196.3" rx="2.7" ry="2.4" fill="#84ca8c"/>
<ellipse cx="507" cy="196.3" rx="2.6" ry="2.3" fill="#c9dc55"/>
<circle cx="507.0" cy="196.3" r="1.3" fill="#e6e03a" stroke="none" stroke-width="0" />
<ellipse cx="515.8" cy="196.3" rx="2.6" ry="2.3" fill="#c9dc55"/>
<circle cx="515.8" cy="196.3" r="1.3" fill="#e6e03a" stroke="none" stroke-width="0" />
<ellipse cx="522.4" cy="196.3" rx="2.6" ry="2.3" fill="#c9dc55"/>
<circle cx="522.4" cy="196.3" r="1.3" fill="#e6e03a" stroke="none" stroke-width="0" />
<ellipse cx="530.5" cy="196.3" rx="2.7" ry="2.4" fill="#84ca8c"/>
<ellipse cx="535.5" cy="196.3" rx="2.7" ry="2.4" fill="#84ca8c"/>
<ellipse cx="540" cy="196.3" rx="2.6" ry="2.3" fill="#c9dc55"/>
<circle cx="540.0" cy="196.3" r="1.4" fill="#f2a22a" stroke="none" stroke-width="0" />
<ellipse cx="544.2" cy="196.3" rx="2.6" ry="2.3" fill="#c9dc55"/>
<circle cx="544.2" cy="196.3" r="1.4" fill="#f2a22a" stroke="none" stroke-width="0" />
<ellipse cx="548.3" cy="196.3" rx="2.6" ry="2.3" fill="#c9dc55"/>
<circle cx="548.3" cy="196.3" r="1.4" fill="#f2a22a" stroke="none" stroke-width="0" />
<circle cx="414.0" cy="200.3" r="1.5" fill="#7dcc95" stroke="none" stroke-width="0" />
<ellipse cx="431.3" cy="200.3" rx="2.7" ry="2.4" fill="#84ca8c"/>
<ellipse cx="459.7" cy="200.3" rx="2.7" ry="2.4" fill="#84ca8c"/>
<ellipse cx="507" cy="200.3" rx="2.7" ry="2.4" fill="#84ca8c"/>
<ellipse cx="515.8" cy="200.3" rx="2.7" ry="2.4" fill="#84ca8c"/>
<ellipse cx="522.4" cy="200.3" rx="2.7" ry="2.4" fill="#84ca8c"/>
<ellipse cx="530.5" cy="200.3" rx="2.7" ry="2.4" fill="#84ca8c"/>
<ellipse cx="535.5" cy="200.3" rx="2.7" ry="2.4" fill="#84ca8c"/>
<ellipse cx="540" cy="200.3" rx="2.7" ry="2.4" fill="#84ca8c"/>
<ellipse cx="544.2" cy="200.3" rx="2.7" ry="2.4" fill="#84ca8c"/>
<ellipse cx="548.3" cy="200.3" rx="2.7" ry="2.4" fill="#84ca8c"/>
<ellipse cx="414" cy="209.8" rx="2.6" ry="2.3" fill="#c9dc55"/>
<circle cx="414.0" cy="209.8" r="1.3" fill="#e6e03a" stroke="none" stroke-width="0" />
<ellipse cx="431.3" cy="209.8" rx="2.6" ry="2.3" fill="#c9dc55"/>
<circle cx="431.3" cy="209.8" r="1.3" fill="#e6e03a" stroke="none" stroke-width="0" />
<ellipse cx="459.7" cy="209.8" rx="2.7" ry="2.4" fill="#84ca8c"/>
<ellipse cx="507" cy="209.8" rx="2.6" ry="2.3" fill="#c9dc55"/>
<circle cx="507.0" cy="209.8" r="1.3" fill="#e6e03a" stroke="none" stroke-width="0" />
<ellipse cx="515.8" cy="209.8" rx="2.6" ry="2.3" fill="#c9dc55"/>
<circle cx="515.8" cy="209.8" r="1.3" fill="#e6e03a" stroke="none" stroke-width="0" />
<ellipse cx="522.4" cy="209.8" rx="2.6" ry="2.3" fill="#c9dc55"/>
<circle cx="522.4" cy="209.8" r="1.3" fill="#e6e03a" stroke="none" stroke-width="0" />
<ellipse cx="535.5" cy="209.8" rx="2.7" ry="2.4" fill="#84ca8c"/>
<ellipse cx="540" cy="209.8" rx="2.7" ry="2.4" fill="#84ca8c"/>
<ellipse cx="544.2" cy="209.8" rx="2.6" ry="2.3" fill="#c9dc55"/>
<circle cx="544.2" cy="209.8" r="1.4" fill="#f2a22a" stroke="none" stroke-width="0" />
<ellipse cx="548.3" cy="209.8" rx="2.6" ry="2.3" fill="#c9dc55"/>
<circle cx="548.3" cy="209.8" r="1.4" fill="#f2a22a" stroke="none" stroke-width="0" />
<ellipse cx="414" cy="218.2" rx="2.6" ry="2.3" fill="#c9dc55"/>
<circle cx="414.0" cy="218.2" r="1.3" fill="#e6e03a" stroke="none" stroke-width="0" />
<ellipse cx="431.3" cy="218.2" rx="2.6" ry="2.3" fill="#c9dc55"/>
<circle cx="431.3" cy="218.2" r="1.3" fill="#e6e03a" stroke="none" stroke-width="0" />
<ellipse cx="459.7" cy="218.2" rx="2.6" ry="2.3" fill="#c9dc55"/>
<circle cx="459.7" cy="218.2" r="1.3" fill="#e6e03a" stroke="none" stroke-width="0" />
<ellipse cx="507" cy="218.2" rx="2.6" ry="2.3" fill="#c9dc55"/>
<circle cx="507.0" cy="218.2" r="1.3" fill="#e6e03a" stroke="none" stroke-width="0" />
<ellipse cx="515.8" cy="218.2" rx="2.6" ry="2.3" fill="#c9dc55"/>
<circle cx="515.8" cy="218.2" r="1.3" fill="#e6e03a" stroke="none" stroke-width="0" />
<ellipse cx="522.4" cy="218.2" rx="2.6" ry="2.3" fill="#c9dc55"/>
<circle cx="522.4" cy="218.2" r="1.3" fill="#e6e03a" stroke="none" stroke-width="0" />
<ellipse cx="530.5" cy="218.2" rx="2.7" ry="2.4" fill="#84ca8c"/>
<ellipse cx="535.5" cy="218.2" rx="2.7" ry="2.4" fill="#84ca8c"/>
<ellipse cx="540" cy="218.2" rx="2.7" ry="2.4" fill="#84ca8c"/>
<ellipse cx="544.2" cy="218.2" rx="2.6" ry="2.3" fill="#c9dc55"/>
<circle cx="544.2" cy="218.2" r="1.4" fill="#f2a22a" stroke="none" stroke-width="0" />
<ellipse cx="548.3" cy="218.2" rx="2.6" ry="2.3" fill="#c9dc55"/>
<circle cx="548.3" cy="218.2" r="1.4" fill="#f2a22a" stroke="none" stroke-width="0" />
<ellipse cx="414" cy="221.2" rx="2.7" ry="2.4" fill="#84ca8c"/>
<ellipse cx="431.3" cy="221.2" rx="2.7" ry="2.4" fill="#84ca8c"/>
<ellipse cx="459.7" cy="221.2" rx="2.7" ry="2.4" fill="#84ca8c"/>
<ellipse cx="507" cy="221.2" rx="2.7" ry="2.4" fill="#84ca8c"/>
<ellipse cx="515.8" cy="221.2" rx="2.7" ry="2.4" fill="#84ca8c"/>
<ellipse cx="522.4" cy="221.2" rx="2.7" ry="2.4" fill="#84ca8c"/>
<ellipse cx="530.5" cy="221.2" rx="2.7" ry="2.4" fill="#84ca8c"/>
<ellipse cx="535.5" cy="221.2" rx="2.7" ry="2.4" fill="#84ca8c"/>
<ellipse cx="540" cy="221.2" rx="2.7" ry="2.4" fill="#84ca8c"/>
<ellipse cx="544.2" cy="221.2" rx="2.7" ry="2.4" fill="#84ca8c"/>
<ellipse cx="548.3" cy="221.2" rx="2.7" ry="2.4" fill="#84ca8c"/>
<ellipse cx="414" cy="226.1" rx="2.6" ry="2.3" fill="#c9dc55"/>
<circle cx="414.0" cy="226.1" r="1.3" fill="#e6e03a" stroke="none" stroke-width="0" />
<ellipse cx="431.3" cy="226.1" rx="2.6" ry="2.3" fill="#c9dc55"/>
<circle cx="431.3" cy="226.1" r="1.3" fill="#e6e03a" stroke="none" stroke-width="0" />
<ellipse cx="459.7" cy="226.1" rx="2.7" ry="2.4" fill="#84ca8c"/>
<ellipse cx="507" cy="226.1" rx="2.6" ry="2.3" fill="#c9dc55"/>
<circle cx="507.0" cy="226.1" r="1.3" fill="#e6e03a" stroke="none" stroke-width="0" />
<circle cx="515.8" cy="226.1" r="1.5" fill="#7dcc95" stroke="none" stroke-width="0" />
<ellipse cx="522.4" cy="226.1" rx="2.6" ry="2.3" fill="#c9dc55"/>
<circle cx="522.4" cy="226.1" r="1.3" fill="#e6e03a" stroke="none" stroke-width="0" />
<ellipse cx="530.5" cy="226.1" rx="2.6" ry="2.3" fill="#c9dc55"/>
<circle cx="530.5" cy="226.1" r="1.3" fill="#e6e03a" stroke="none" stroke-width="0" />
<ellipse cx="535.5" cy="226.1" rx="2.7" ry="2.4" fill="#84ca8c"/>
<ellipse cx="540" cy="226.1" rx="2.6" ry="2.3" fill="#c9dc55"/>
<circle cx="540.0" cy="226.1" r="1.3" fill="#e6e03a" stroke="none" stroke-width="0" />
<ellipse cx="544.2" cy="226.1" rx="2.6" ry="2.3" fill="#c9dc55"/>
<circle cx="544.2" cy="226.1" r="1.3" fill="#e6e03a" stroke="none" stroke-width="0" />
<ellipse cx="548.3" cy="226.1" rx="2.6" ry="2.3" fill="#c9dc55"/>
<circle cx="548.3" cy="226.1" r="1.4" fill="#f2a22a" stroke="none" stroke-width="0" />
<ellipse cx="414" cy="230.3" rx="2.7" ry="2.4" fill="#84ca8c"/>
<ellipse cx="431.3" cy="230.3" rx="2.7" ry="2.4" fill="#84ca8c"/>
<ellipse cx="459.7" cy="230.3" rx="2.7" ry="2.4" fill="#84ca8c"/>
<ellipse cx="507" cy="230.3" rx="2.7" ry="2.4" fill="#84ca8c"/>
<circle cx="515.8" cy="230.3" r="1.5" fill="#7dcc95" stroke="none" stroke-width="0" />
<ellipse cx="522.4" cy="230.3" rx="2.7" ry="2.4" fill="#84ca8c"/>
<ellipse cx="530.5" cy="230.3" rx="2.7" ry="2.4" fill="#84ca8c"/>
<ellipse cx="535.5" cy="230.3" rx="2.7" ry="2.4" fill="#84ca8c"/>
<ellipse cx="540" cy="230.3" rx="2.7" ry="2.4" fill="#84ca8c"/>
<ellipse cx="544.2" cy="230.3" rx="2.7" ry="2.4" fill="#84ca8c"/>
<ellipse cx="548.3" cy="230.3" rx="2.7" ry="2.4" fill="#84ca8c"/>
<circle cx="431.3" cy="236.3" r="1.5" fill="#7dcc95" stroke="none" stroke-width="0" />
<ellipse cx="459.7" cy="236.3" rx="2.6" ry="2.3" fill="#c9dc55"/>
<circle cx="459.7" cy="236.3" r="1.3" fill="#e6e03a" stroke="none" stroke-width="0" />
<circle cx="507.0" cy="236.3" r="1.5" fill="#7dcc95" stroke="none" stroke-width="0" />
<ellipse cx="515.8" cy="236.3" rx="2.7" ry="2.4" fill="#84ca8c"/>
<circle cx="522.4" cy="236.3" r="1.5" fill="#7dcc95" stroke="none" stroke-width="0" />
<ellipse cx="530.5" cy="236.3" rx="2.6" ry="2.3" fill="#c9dc55"/>
<circle cx="530.5" cy="236.3" r="1.4" fill="#f2a22a" stroke="none" stroke-width="0" />
<ellipse cx="535.5" cy="236.3" rx="2.6" ry="2.3" fill="#c9dc55"/>
<circle cx="535.5" cy="236.3" r="1.3" fill="#e6e03a" stroke="none" stroke-width="0" />
<ellipse cx="540" cy="236.3" rx="2.7" ry="2.4" fill="#84ca8c"/>
<ellipse cx="544.2" cy="236.3" rx="2.7" ry="2.4" fill="#84ca8c"/>
<ellipse cx="548.3" cy="236.3" rx="2.7" ry="2.4" fill="#84ca8c"/>
<ellipse cx="414" cy="253.6" rx="2.7" ry="2.4" fill="#84ca8c"/>
<ellipse cx="431.3" cy="253.6" rx="2.7" ry="2.4" fill="#84ca8c"/>
<ellipse cx="459.7" cy="253.6" rx="2.7" ry="2.4" fill="#84ca8c"/>
<ellipse cx="507" cy="253.6" rx="2.7" ry="2.4" fill="#84ca8c"/>
<ellipse cx="515.8" cy="253.6" rx="2.7" ry="2.4" fill="#84ca8c"/>
<ellipse cx="522.4" cy="253.6" rx="2.7" ry="2.4" fill="#84ca8c"/>
<ellipse cx="530.5" cy="253.6" rx="2.7" ry="2.4" fill="#84ca8c"/>
<ellipse cx="535.5" cy="253.6" rx="2.7" ry="2.4" fill="#84ca8c"/>
<ellipse cx="540" cy="253.6" rx="2.7" ry="2.4" fill="#84ca8c"/>
<ellipse cx="544.2" cy="253.6" rx="2.7" ry="2.4" fill="#84ca8c"/>
<ellipse cx="548.3" cy="253.6" rx="2.7" ry="2.4" fill="#84ca8c"/>
<ellipse cx="414" cy="257.3" rx="2.7" ry="2.4" fill="#84ca8c"/>
<ellipse cx="431.3" cy="257.3" rx="2.7" ry="2.4" fill="#84ca8c"/>
<ellipse cx="459.7" cy="257.3" rx="2.6" ry="2.3" fill="#c9dc55"/>
<circle cx="459.7" cy="257.3" r="1.4" fill="#ec4a1e" stroke="none" stroke-width="0" />
<ellipse cx="507" cy="257.3" rx="2.7" ry="2.4" fill="#84ca8c"/>
<ellipse cx="515.8" cy="257.3" rx="2.7" ry="2.4" fill="#84ca8c"/>
<ellipse cx="522.4" cy="257.3" rx="2.7" ry="2.4" fill="#84ca8c"/>
<ellipse cx="530.5" cy="257.3" rx="2.6" ry="2.3" fill="#c9dc55"/>
<circle cx="530.5" cy="257.3" r="1.3" fill="#e6e03a" stroke="none" stroke-width="0" />
<ellipse cx="535.5" cy="257.3" rx="2.6" ry="2.3" fill="#c9dc55"/>
<circle cx="535.5" cy="257.3" r="1.3" fill="#e6e03a" stroke="none" stroke-width="0" />
<ellipse cx="540" cy="257.3" rx="2.7" ry="2.4" fill="#84ca8c"/>
<ellipse cx="544.2" cy="257.3" rx="2.7" ry="2.4" fill="#84ca8c"/>
<ellipse cx="548.3" cy="257.3" rx="2.7" ry="2.4" fill="#84ca8c"/>
<ellipse cx="414" cy="261.6" rx="2.6" ry="2.3" fill="#c9dc55"/>
<circle cx="414.0" cy="261.6" r="1.3" fill="#e6e03a" stroke="none" stroke-width="0" />
<ellipse cx="431.3" cy="261.6" rx="2.6" ry="2.3" fill="#c9dc55"/>
<circle cx="431.3" cy="261.6" r="1.4" fill="#f2a22a" stroke="none" stroke-width="0" />
<ellipse cx="459.7" cy="261.6" rx="2.7" ry="2.4" fill="#84ca8c"/>
<ellipse cx="507" cy="261.6" rx="2.6" ry="2.3" fill="#c9dc55"/>
<circle cx="507.0" cy="261.6" r="1.4" fill="#ec4a1e" stroke="none" stroke-width="0" />
<ellipse cx="515.8" cy="261.6" rx="2.6" ry="2.3" fill="#c9dc55"/>
<circle cx="515.8" cy="261.6" r="1.3" fill="#e6e03a" stroke="none" stroke-width="0" />
<ellipse cx="522.4" cy="261.6" rx="2.6" ry="2.3" fill="#c9dc55"/>
<circle cx="522.4" cy="261.6" r="1.4" fill="#ec4a1e" stroke="none" stroke-width="0" />
<ellipse cx="530.5" cy="261.6" rx="2.6" ry="2.3" fill="#c9dc55"/>
<circle cx="530.5" cy="261.6" r="1.3" fill="#e6e03a" stroke="none" stroke-width="0" />
<ellipse cx="535.5" cy="261.6" rx="2.6" ry="2.3" fill="#c9dc55"/>
<circle cx="535.5" cy="261.6" r="1.3" fill="#e6e03a" stroke="none" stroke-width="0" />
<ellipse cx="540" cy="261.6" rx="2.7" ry="2.4" fill="#84ca8c"/>
<ellipse cx="544.2" cy="261.6" rx="2.6" ry="2.3" fill="#c9dc55"/>
<circle cx="544.2" cy="261.6" r="1.4" fill="#ec4a1e" stroke="none" stroke-width="0" />
<ellipse cx="548.3" cy="261.6" rx="2.6" ry="2.3" fill="#c9dc55"/>
<circle cx="548.3" cy="261.6" r="1.4" fill="#ec4a1e" stroke="none" stroke-width="0" />
<ellipse cx="414" cy="264.3" rx="2.6" ry="2.3" fill="#c9dc55"/>
<circle cx="414.0" cy="264.3" r="1.3" fill="#e6e03a" stroke="none" stroke-width="0" />
<ellipse cx="431.3" cy="264.3" rx="2.6" ry="2.3" fill="#c9dc55"/>
<circle cx="431.3" cy="264.3" r="1.4" fill="#f2a22a" stroke="none" stroke-width="0" />
<ellipse cx="459.7" cy="264.3" rx="2.7" ry="2.4" fill="#84ca8c"/>
<ellipse cx="507" cy="264.3" rx="2.6" ry="2.3" fill="#c9dc55"/>
<circle cx="507.0" cy="264.3" r="1.4" fill="#ec4a1e" stroke="none" stroke-width="0" />
<ellipse cx="515.8" cy="264.3" rx="2.6" ry="2.3" fill="#c9dc55"/>
<circle cx="515.8" cy="264.3" r="1.3" fill="#e6e03a" stroke="none" stroke-width="0" />
<ellipse cx="522.4" cy="264.3" rx="2.6" ry="2.3" fill="#c9dc55"/>
<circle cx="522.4" cy="264.3" r="1.4" fill="#ec4a1e" stroke="none" stroke-width="0" />
<ellipse cx="530.5" cy="264.3" rx="2.7" ry="2.4" fill="#84ca8c"/>
<ellipse cx="535.5" cy="264.3" rx="2.7" ry="2.4" fill="#84ca8c"/>
<ellipse cx="540" cy="264.3" rx="2.6" ry="2.3" fill="#c9dc55"/>
<circle cx="540.0" cy="264.3" r="1.4" fill="#ec4a1e" stroke="none" stroke-width="0" />
<ellipse cx="544.2" cy="264.3" rx="2.6" ry="2.3" fill="#c9dc55"/>
<circle cx="544.2" cy="264.3" r="1.4" fill="#ec4a1e" stroke="none" stroke-width="0" />
<ellipse cx="548.3" cy="264.3" rx="2.6" ry="2.3" fill="#c9dc55"/>
<circle cx="548.3" cy="264.3" r="1.4" fill="#ec4a1e" stroke="none" stroke-width="0" />
<ellipse cx="414" cy="267.6" rx="2.7" ry="2.4" fill="#84ca8c"/>
<ellipse cx="431.3" cy="267.6" rx="2.7" ry="2.4" fill="#84ca8c"/>
<ellipse cx="459.7" cy="267.6" rx="2.6" ry="2.3" fill="#c9dc55"/>
<circle cx="459.7" cy="267.6" r="1.4" fill="#f2a22a" stroke="none" stroke-width="0" />
<ellipse cx="507" cy="267.6" rx="2.7" ry="2.4" fill="#84ca8c"/>
<ellipse cx="522.4" cy="267.6" rx="2.7" ry="2.4" fill="#84ca8c"/>
<circle cx="535.5" cy="267.6" r="1.5" fill="#7dcc95" stroke="none" stroke-width="0" />
<ellipse cx="540" cy="267.6" rx="2.7" ry="2.4" fill="#84ca8c"/>
<ellipse cx="544.2" cy="267.6" rx="2.7" ry="2.4" fill="#84ca8c"/>
<ellipse cx="548.3" cy="267.6" rx="2.7" ry="2.4" fill="#84ca8c"/>
<rect x="371.5" y="75.2" width="215.5" height="214.1" fill="none" stroke="#6d6d6d" stroke-width="1.3" />
<line x1="409.8" y1="75.2" x2="409.8" y2="80.0" stroke="#6d6d6d" stroke-width="1.1" />
<line x1="409.8" y1="289.3" x2="409.8" y2="283.5" stroke="#6d6d6d" stroke-width="1.1" />
<line x1="486.4" y1="75.2" x2="486.4" y2="80.0" stroke="#6d6d6d" stroke-width="1.1" />
<line x1="486.4" y1="289.3" x2="486.4" y2="283.5" stroke="#6d6d6d" stroke-width="1.1" />
<line x1="563.4" y1="75.2" x2="563.4" y2="80.0" stroke="#6d6d6d" stroke-width="1.1" />
<line x1="563.4" y1="289.3" x2="563.4" y2="283.5" stroke="#6d6d6d" stroke-width="1.1" />
<line x1="371.5" y1="117.7" x2="377.5" y2="117.7" stroke="#6d6d6d" stroke-width="1.1" />
<line x1="371.5" y1="191.4" x2="377.5" y2="191.4" stroke="#6d6d6d" stroke-width="1.1" />
<line x1="371.5" y1="265.2" x2="377.5" y2="265.2" stroke="#6d6d6d" stroke-width="1.1" />
<line x1="371.0" y1="289.6" x2="378.5" y2="289.6" stroke="#333" stroke-width="1.6" />
<line x1="79.0" y1="288.4" x2="86.0" y2="288.4" stroke="#555" stroke-width="1.4" />
<line x1="80.5" y1="166.1" x2="587.0" y2="166.1" stroke="#2a2a2a" stroke-width="1.6" stroke-dasharray="7.6 6.8"/>
<line x1="80.5" y1="180.9" x2="587.0" y2="180.9" stroke="#2a2a2a" stroke-width="1.6" stroke-dasharray="7.6 6.8"/>
<line x1="80.3" y1="166.1" x2="80.3" y2="180.9" stroke="#2a2a2a" stroke-width="1.3" />
<line x1="587.0" y1="166.1" x2="587.0" y2="180.9" stroke="#2a2a2a" stroke-width="1.3" />
<polyline points="86.6,432.9 87.3,432.8 88.0,432.1 88.7,434.4 89.4,431.4 90.1,434.4 90.8,432.7 91.5,431.5 92.2,433.1 92.9,431.9 93.6,431.8 94.3,431.6 95.0,432.2 95.7,431.4 96.4,433.0 97.1,431.7 97.8,432.2 98.5,431.3 99.2,431.8 99.9,434.3 100.6,431.3 101.3,432.0 102.0,431.4 102.7,431.9 103.4,431.7 104.1,431.7 104.8,434.0 105.5,431.2 106.2,431.4 106.9,432.1 107.6,434.0 108.3,431.5 109.0,432.1 109.7,434.7 110.4,433.2 111.1,431.7 111.8,432.1 112.5,434.4 113.2,432.5 113.9,434.6 114.6,432.1 115.3,431.9 116.0,431.7 116.7,431.8 117.4,431.5 118.1,431.6 118.8,431.8 119.5,433.0 120.2,433.3 120.9,431.2 121.6,431.8 122.3,432.2 123.0,431.9 123.7,432.7 124.4,431.8 125.1,432.7 125.8,431.3 126.5,431.7 127.2,431.5 127.9,431.2 128.6,431.2 129.3,433.9 130.0,433.6 130.7,431.5 131.4,432.4 132.1,432.6 132.8,431.6 133.5,431.2 134.2,432.7 134.9,434.4 135.6,432.0 136.3,433.4 137.0,434.2 137.7,432.6 138.4,431.9 139.1,432.3 139.8,433.6 140.5,431.6 141.2,433.0 141.9,432.7 142.6,432.0 143.3,433.9 144.0,434.5 144.7,432.0 145.4,432.3 146.1,431.9 146.8,433.6 147.5,433.2 148.2,432.9 148.9,433.9 149.6,432.4 150.4,431.5 151.1,431.6 151.8,432.0 152.5,431.9 153.2,431.6 153.9,433.0 154.6,435.6 155.3,431.4 156.0,431.6 156.7,432.9 157.4,431.3 158.1,432.1 158.8,431.8 159.5,433.4 160.2,432.7 160.9,432.6 161.6,431.6 162.3,434.1 163.0,432.3 163.7,432.8 164.4,431.5 165.1,431.6 165.8,431.8 166.5,431.6 167.2,434.6 167.9,432.9 168.6,433.0 169.3,432.4 170.0,432.1 170.7,432.8 171.4,433.4 172.1,431.6 172.8,432.7 173.5,433.9 174.2,431.2 174.9,432.7 175.6,431.4 176.3,433.5 177.0,431.4 177.7,432.4 178.4,431.4 179.1,431.8 179.8,431.6 180.5,434.2 181.2,434.1 181.9,433.1 182.6,431.7 183.3,432.5 184.0,431.2 184.7,432.1 185.4,431.8 186.1,431.8 186.8,434.0 187.5,432.8 188.2,433.1 188.9,431.5 189.6,433.3 190.3,432.4 191.0,433.2 191.7,432.6 192.4,432.9 193.1,431.5 193.8,432.8 194.5,431.5 195.2,433.3 195.9,432.1 196.6,434.5 197.3,432.3 198.0,432.7 198.7,433.0 199.4,431.3 200.1,431.2 200.8,433.3 201.5,433.7 202.2,431.8 202.9,432.7 203.6,433.2 204.3,432.4 205.0,432.8 205.7,431.4 206.4,433.8 207.1,432.8 207.8,433.4 208.5,432.7 209.2,432.8 209.9,434.7 210.6,431.7 211.3,432.9 212.0,431.4 212.7,432.5 213.4,433.5 214.1,432.7 214.8,431.8 215.5,432.0 216.2,433.3 216.9,431.3 217.6,432.1 218.3,431.6 219.0,433.0 219.7,431.9 220.4,432.5 221.1,432.9 221.8,432.9 222.5,432.7 223.2,432.9 223.9,432.0 224.6,431.3 225.3,433.1 226.0,431.9 226.7,431.6 227.4,433.3 228.1,431.5 228.8,431.5 229.5,432.2 230.2,431.4 230.9,431.9 231.6,431.5 232.3,431.6 233.0,432.0 233.7,431.3 234.4,431.6 235.1,432.5 235.8,431.5 236.5,432.6 237.2,432.4 237.9,431.4 238.6,434.2 239.3,432.6 240.0,431.2 240.7,431.5 241.4,432.6 242.1,433.2 242.8,432.9 243.5,431.5 244.2,431.5 244.9,431.7 245.6,431.6 246.3,432.4 247.0,431.6 247.7,434.3 248.4,432.9 249.1,431.8 249.8,432.5 250.5,432.0 251.2,433.1 251.9,431.7 252.6,431.8 253.3,432.7 254.0,432.2 254.7,434.7 255.4,432.2 256.1,432.2 256.8,432.0 257.5,431.2 258.2,431.2 258.9,432.6 259.6,432.3 260.3,431.8 261.0,431.7 261.7,433.2 262.4,433.3 263.1,432.3 263.8,432.2 264.5,431.4 265.2,432.3 265.9,432.5 266.6,431.4 267.3,434.2 268.0,431.9 268.7,432.1 269.4,431.8 270.1,432.8 270.8,431.4 271.5,432.3 272.2,431.8 272.9,432.8 273.6,431.4 274.3,431.6 275.0,432.8 275.7,432.6 276.5,432.6 277.2,432.3 277.9,431.6 278.6,431.7 279.3,433.8 280.0,432.9 280.7,431.3 281.4,431.7 282.1,434.4 282.8,431.4 283.5,432.2 284.2,431.3 284.9,432.0 285.6,432.4 286.3,431.3 287.0,432.4 287.7,432.2 288.4,432.4 289.1,432.7 289.8,431.2 290.5,431.9 291.2,431.3 291.9,432.4 292.6,432.4 293.3,431.5 294.0,431.7 294.7,432.8 295.4,432.5 296.1,431.5 296.8,431.3 297.5,433.1 298.2,432.2 298.9,431.4 299.6,434.2 300.3,432.1 301.0,432.5 301.7,432.3 302.4,433.6 303.1,431.4 303.8,432.8 304.5,432.0 305.2,431.7 305.9,433.1 306.6,434.3 307.3,431.6 308.0,432.3 308.7,432.1 309.4,431.8 310.1,431.9 310.8,432.0 311.5,433.7 312.2,433.6 312.9,432.3 313.6,431.7 314.3,432.6 315.0,431.8 315.7,433.6 316.4,431.9 317.1,431.6 317.8,433.0 318.5,431.4 319.2,432.5 319.9,431.2 320.6,432.3 321.3,432.7 322.0,431.4 322.7,431.7 323.4,431.5 324.1,433.8 324.8,431.7 325.5,433.2 326.2,433.4 326.9,431.6 327.6,436.2 328.3,431.9 329.0,431.3 329.7,431.6 330.4,431.7 331.1,432.0 331.8,433.3 332.5,433.9 333.2,431.4 333.9,431.9 334.6,432.0 335.3,434.2 336.0,432.3 336.7,432.8 337.4,431.9 338.1,431.6 338.8,431.5 339.5,431.5" fill="none" stroke="#3552b0" stroke-width="1.3" stroke-linejoin="round" />
<polyline points="86.6,430.2 87.3,430.2 88.0,429.8 88.7,429.5 89.4,429.2 90.1,430.0 90.8,429.8 91.5,430.1 92.2,429.6 92.9,430.1 93.6,429.5 94.3,430.2 95.0,430.1 95.7,429.7 96.4,429.8 97.1,430.0 97.8,429.4 98.5,429.9 99.2,430.2 99.9,429.5 100.6,430.2 101.3,430.0 102.0,430.2 102.7,429.6 103.4,429.3 104.1,430.2 104.8,430.2 105.5,429.7 106.2,429.3 106.9,429.4 107.6,430.0 108.3,429.5 109.0,430.3 109.7,429.9 110.4,429.4 111.1,430.0 111.8,429.6 112.5,430.3 113.2,430.3 113.9,429.8 114.6,430.0 115.3,430.0 116.0,430.2 116.7,430.4 117.4,429.2 118.1,429.6 118.8,429.9 119.5,429.6 120.2,429.9 120.9,429.3 121.6,430.3 122.3,429.8 123.0,429.3 123.7,430.0 124.4,429.6 125.1,429.4 125.8,429.8 126.5,429.4 127.2,429.5 127.9,430.2 128.6,430.0 129.3,429.2 130.0,430.1 130.7,429.2 131.4,429.6 132.1,430.3 132.8,429.9 133.5,429.6 134.2,429.7 134.9,429.7 135.6,429.4 136.3,430.4 137.0,429.3 137.7,429.7 138.4,430.1 139.1,429.7 139.8,430.4 140.5,429.5 141.2,430.4 141.9,430.3 142.6,430.0 143.3,430.3 144.0,429.7 144.7,430.2 145.4,430.2 146.1,429.8 146.8,429.8 147.5,430.0 148.2,429.7 148.9,429.3 149.6,430.1 150.4,429.5 151.1,429.8 151.8,430.1 152.5,429.4 153.2,429.2 153.9,429.3 154.6,429.9 155.3,429.6 156.0,429.5 156.7,429.7 157.4,430.3 158.1,429.5 158.8,429.7 159.5,430.3 160.2,429.9 160.9,429.5 161.6,429.8 162.3,429.8 163.0,429.4 163.7,429.7 164.4,429.6 165.1,430.2 165.8,429.6 166.5,430.0 167.2,430.4 167.9,430.3 168.6,429.7 169.3,429.9 170.0,429.6 170.7,429.7 171.4,429.8 172.1,430.2 172.8,430.3 173.5,429.5 174.2,429.2 174.9,429.7 175.6,429.3 176.3,429.2 177.0,430.1 177.7,429.3 178.4,430.1 179.1,429.6 179.8,430.3 180.5,430.2 181.2,429.3 181.9,429.4 182.6,430.3 183.3,429.9 184.0,429.7 184.7,430.1 185.4,430.2 186.1,429.8 186.8,429.8 187.5,429.3 188.2,429.6 188.9,429.4 189.6,430.0 190.3,429.9 191.0,429.4 191.7,430.0 192.4,429.3 193.1,429.3 193.8,430.0 194.5,429.8 195.2,430.3 195.9,430.0 196.6,430.0 197.3,429.4 198.0,430.2 198.7,429.3 199.4,429.9 200.1,430.3 200.8,430.3 201.5,430.3 202.2,429.7 202.9,430.0 203.6,430.1 204.3,429.4 205.0,430.3 205.7,430.3 206.4,429.7 207.1,430.1 207.8,429.7 208.5,429.5 209.2,430.1 209.9,429.3 210.6,430.2 211.3,430.4 212.0,429.5 212.7,430.3 213.4,429.3 214.1,430.2 214.8,429.5 215.5,430.4 216.2,429.7 216.9,430.3 217.6,429.2 218.3,429.3 219.0,430.2 219.7,430.0 220.4,429.8 221.1,429.2 221.8,429.4 222.5,429.6 223.2,429.3 223.9,430.4 224.6,430.1 225.3,430.3 226.0,430.0 226.7,429.6 227.4,429.3 228.1,430.1 228.8,429.3 229.5,429.9 230.2,429.8 230.9,429.8 231.6,429.3 232.3,429.3 233.0,429.8 233.7,429.2 234.4,429.8 235.1,429.4 235.8,429.5 236.5,429.4 237.2,429.9 237.9,429.7 238.6,429.5 239.3,429.5 240.0,429.9 240.7,430.3 241.4,429.7 242.1,429.4 242.8,429.6 243.5,429.5 244.2,429.9 244.9,430.1 245.6,429.9 246.3,429.4 247.0,429.6 247.7,429.7 248.4,429.7 249.1,429.7 249.8,430.4 250.5,429.9 251.2,430.0 251.9,430.1 252.6,430.0 253.3,430.2 254.0,429.6 254.7,430.0 255.4,430.4 256.1,429.4 256.8,430.0 257.5,429.7 258.2,429.3 258.9,429.2 259.6,430.1 260.3,429.3 261.0,430.1 261.7,429.3 262.4,429.6 263.1,429.2 263.8,429.9 264.5,430.1 265.2,429.5 265.9,429.9 266.6,430.3 267.3,429.6 268.0,429.8 268.7,430.1 269.4,430.2 270.1,429.4 270.8,430.0 271.5,429.3 272.2,429.3 272.9,430.4 273.6,429.3 274.3,430.3 275.0,430.1 275.7,430.0 276.5,430.1 277.2,430.0 277.9,429.5 278.6,429.7 279.3,429.4 280.0,430.2 280.7,430.1 281.4,430.1 282.1,429.5 282.8,429.9 283.5,429.5 284.2,430.1 284.9,430.1 285.6,430.4 286.3,430.0 287.0,430.0 287.7,430.1 288.4,429.3 289.1,429.9 289.8,429.2 290.5,429.6 291.2,429.3 291.9,430.3 292.6,429.2 293.3,430.3 294.0,430.3 294.7,429.7 295.4,430.2 296.1,429.3 296.8,429.4 297.5,429.2 298.2,429.3 298.9,429.2 299.6,430.2 300.3,429.3 301.0,429.9 301.7,429.5 302.4,429.4 303.1,429.7 303.8,429.4 304.5,430.4 305.2,429.7 305.9,429.9 306.6,429.9 307.3,430.0 308.0,429.8 308.7,429.5 309.4,429.4 310.1,430.3 310.8,429.4 311.5,429.7 312.2,430.2 312.9,429.9 313.6,430.3 314.3,430.2 315.0,429.8 315.7,429.3 316.4,429.9 317.1,429.8 317.8,430.2 318.5,429.8 319.2,430.0 319.9,430.2 320.6,429.8 321.3,430.2 322.0,430.3 322.7,429.4 323.4,430.3 324.1,430.2 324.8,430.2 325.5,429.6 326.2,429.5 326.9,429.4 327.6,429.6 328.3,430.2 329.0,429.6 329.7,429.2 330.4,429.6 331.1,429.3 331.8,429.9 332.5,430.1 333.2,430.3 333.9,429.3 334.6,429.7 335.3,429.4 336.0,430.3 336.7,430.2 337.4,429.8 338.1,430.3 338.8,429.8 339.5,430.1" fill="none" stroke="#3c7cc8" stroke-width="1.6" stroke-linejoin="round" />
<polyline points="86.6,428.3 87.3,428.2 88.0,428.7 88.7,428.6 89.4,428.4 90.1,428.6 90.8,428.4 91.5,428.5 92.2,428.0 92.9,428.0 93.6,428.0 94.3,428.4 95.0,428.5 95.7,428.0 96.4,428.3 97.1,428.0 97.8,428.5 98.5,428.5 99.2,428.0 99.9,428.7 100.6,428.4 101.3,428.0 102.0,428.2 102.7,428.0 103.4,428.5 104.1,428.6 104.8,428.0 105.5,428.0 106.2,428.4 106.9,428.6 107.6,428.5 108.3,428.3 109.0,428.0 109.7,428.4 110.4,428.3 111.1,428.5 111.8,428.4 112.5,428.5 113.2,428.7 113.9,428.4 114.6,428.6 115.3,428.1 116.0,427.9 116.7,428.6 117.4,427.9 118.1,428.7 118.8,428.3 119.5,427.9 120.2,428.1 120.9,428.5 121.6,428.2 122.3,428.4 123.0,428.0 123.7,428.6 124.4,428.2 125.1,428.6 125.8,428.0 126.5,428.4 127.2,428.3 127.9,428.2 128.6,427.9 129.3,428.3 130.0,428.6 130.7,428.0 131.4,428.3 132.1,427.9 132.8,428.7 133.5,428.7 134.2,428.4 134.9,428.3 135.6,428.0 136.3,428.0 137.0,428.5 137.7,428.5 138.4,428.7 139.1,428.6 139.8,428.3 140.5,428.1 141.2,428.3 141.9,428.2 142.6,428.3 143.3,428.6 144.0,428.3 144.7,428.7 145.4,428.5 146.1,427.9 146.8,428.5 147.5,428.4 148.2,428.4 148.9,427.9 149.6,428.6 150.4,428.3 151.1,428.3 151.8,428.0 152.5,427.9 153.2,427.9 153.9,428.1 154.6,428.1 155.3,428.0 156.0,427.9 156.7,428.5 157.4,428.5 158.1,428.6 158.8,428.1 159.5,428.5 160.2,428.4 160.9,428.0 161.6,428.6 162.3,428.2 163.0,428.0 163.7,428.0 164.4,428.6 165.1,428.1 165.8,428.2 166.5,428.3 167.2,428.2 167.9,428.4 168.6,428.0 169.3,428.2 170.0,428.4 170.7,428.4 171.4,428.4 172.1,428.1 172.8,428.4 173.5,428.7 174.2,428.3 174.9,428.4 175.6,428.6 176.3,428.1 177.0,428.1 177.7,428.7 178.4,428.1 179.1,428.2 179.8,428.2 180.5,428.7 181.2,428.3 181.9,428.6 182.6,428.0 183.3,428.1 184.0,428.4 184.7,428.2 185.4,428.4 186.1,428.3 186.8,428.0 187.5,428.0 188.2,428.3 188.9,428.3 189.6,428.0 190.3,428.1 191.0,427.9 191.7,428.1 192.4,428.1 193.1,428.2 193.8,428.4 194.5,428.6 195.2,428.5 195.9,428.5 196.6,428.1 197.3,428.3 198.0,428.5 198.7,428.6 199.4,428.1 200.1,427.9 200.8,427.9 201.5,428.3 202.2,428.6 202.9,428.0 203.6,428.5 204.3,428.4 205.0,428.6 205.7,428.6 206.4,428.0 207.1,428.5 207.8,428.0 208.5,428.0 209.2,428.2 209.9,428.3 210.6,428.0 211.3,428.1 212.0,428.0 212.7,428.0 213.4,428.0 214.1,427.9 214.8,428.1 215.5,428.2 216.2,428.2 216.9,428.5 217.6,428.4 218.3,428.3 219.0,428.2 219.7,428.4 220.4,428.1 221.1,428.0 221.8,428.0 222.5,428.4 223.2,428.0 223.9,428.1 224.6,428.2 225.3,428.4 226.0,428.4 226.7,428.4 227.4,428.4 228.1,428.1 228.8,428.6 229.5,428.5 230.2,428.2 230.9,428.2 231.6,428.4 232.3,428.0 233.0,428.4 233.7,428.6 234.4,428.2 235.1,428.3 235.8,428.1 236.5,428.6 237.2,428.2 237.9,428.2 238.6,428.5 239.3,428.2 240.0,428.6 240.7,428.2 241.4,428.4 242.1,428.1 242.8,428.4 243.5,428.3 244.2,428.0 244.9,428.6 245.6,428.0 246.3,428.4 247.0,428.4 247.7,428.3 248.4,428.2 249.1,428.3 249.8,428.7 250.5,427.9 251.2,428.6 251.9,428.4 252.6,428.3 253.3,428.4 254.0,428.4 254.7,428.6 255.4,428.7 256.1,428.3 256.8,428.2 257.5,428.2 258.2,428.6 258.9,428.3 259.6,428.0 260.3,428.4 261.0,428.0 261.7,428.2 262.4,428.4 263.1,428.4 263.8,428.3 264.5,428.6 265.2,428.4 265.9,428.7 266.6,428.5 267.3,428.1 268.0,428.5 268.7,428.2 269.4,428.7 270.1,428.4 270.8,428.2 271.5,428.0 272.2,428.6 272.9,428.2 273.6,427.9 274.3,428.5 275.0,427.9 275.7,427.9 276.5,427.9 277.2,428.4 277.9,428.3 278.6,428.3 279.3,428.6 280.0,428.3 280.7,428.1 281.4,428.7 282.1,428.0 282.8,427.9 283.5,428.1 284.2,428.7 284.9,428.2 285.6,428.2 286.3,428.2 287.0,428.2 287.7,428.5 288.4,428.4 289.1,428.1 289.8,428.1 290.5,428.6 291.2,428.3 291.9,428.3 292.6,428.1 293.3,428.7 294.0,428.3 294.7,428.6 295.4,428.4 296.1,428.4 296.8,427.9 297.5,428.6 298.2,428.6 298.9,428.0 299.6,428.0 300.3,428.4 301.0,428.4 301.7,428.1 302.4,428.7 303.1,428.0 303.8,428.4 304.5,428.3 305.2,428.2 305.9,428.4 306.6,428.3 307.3,428.5 308.0,428.5 308.7,427.9 309.4,428.2 310.1,428.3 310.8,428.1 311.5,428.4 312.2,427.9 312.9,428.0 313.6,428.3 314.3,428.1 315.0,428.1 315.7,428.2 316.4,428.4 317.1,428.4 317.8,428.4 318.5,428.3 319.2,428.2 319.9,428.6 320.6,428.6 321.3,428.6 322.0,428.7 322.7,428.4 323.4,428.1 324.1,428.5 324.8,428.1 325.5,428.1 326.2,428.2 326.9,427.9 327.6,428.3 328.3,428.1 329.0,428.1 329.7,428.2 330.4,428.5 331.1,428.4 331.8,428.2 332.5,428.5 333.2,428.2 333.9,428.2 334.6,428.2 335.3,428.1 336.0,428.0 336.7,428.7 337.4,428.4 338.1,428.4 338.8,428.4 339.5,428.3" fill="none" stroke="#4fb4e0" stroke-width="1.8" stroke-linejoin="round" />
<polyline points="86.6,426.9 87.3,426.4 88.0,426.5 88.7,426.8 89.4,426.8 90.1,426.4 90.8,426.6 91.5,426.6 92.2,427.2 92.9,427.1 93.6,426.4 94.3,426.7 95.0,426.7 95.7,426.5 96.4,426.6 97.1,427.2 97.8,427.1 98.5,426.6 99.2,427.0 99.9,426.5 100.6,426.9 101.3,426.5 102.0,426.9 102.7,426.9 103.4,427.2 104.1,426.9 104.8,427.1 105.5,426.6 106.2,426.9 106.9,426.6 107.6,426.5 108.3,427.2 109.0,426.4 109.7,426.7 110.4,426.7 111.1,426.6 111.8,427.1 112.5,427.0 113.2,426.7 113.9,426.9 114.6,427.1 115.3,426.4 116.0,426.9 116.7,427.1 117.4,426.9 118.1,426.8 118.8,426.6 119.5,426.5 120.2,426.5 120.9,426.7 121.6,426.6 122.3,427.0 123.0,426.5 123.7,426.5 124.4,427.0 125.1,426.8 125.8,426.5 126.5,427.1 127.2,426.4 127.9,426.7 128.6,426.7 129.3,426.8 130.0,426.6 130.7,427.1 131.4,426.9 132.1,426.7 132.8,426.9 133.5,426.7 134.2,426.8 134.9,426.9 135.6,426.6 136.3,427.1 137.0,426.5 137.7,427.1 138.4,426.7 139.1,426.8 139.8,426.5 140.5,426.8 141.2,426.7 141.9,426.9 142.6,426.9 143.3,426.5 144.0,426.5 144.7,427.1 145.4,426.6 146.1,426.9 146.8,427.0 147.5,427.0 148.2,426.4 148.9,426.9 149.6,427.1 150.4,426.4 151.1,426.4 151.8,427.1 152.5,427.0 153.2,427.0 153.9,427.0 154.6,426.9 155.3,426.6 156.0,426.5 156.7,426.4 157.4,426.9 158.1,426.9 158.8,427.2 159.5,426.6 160.2,426.5 160.9,426.7 161.6,427.2 162.3,426.6 163.0,427.1 163.7,426.9 164.4,427.0 165.1,426.5 165.8,427.0 166.5,426.7 167.2,427.0 167.9,426.4 168.6,426.6 169.3,426.9 170.0,426.6 170.7,426.8 171.4,426.5 172.1,426.6 172.8,426.9 173.5,426.7 174.2,427.2 174.9,426.7 175.6,426.6 176.3,426.7 177.0,426.9 177.7,426.7 178.4,427.2 179.1,426.6 179.8,426.9 180.5,427.1 181.2,426.6 181.9,426.6 182.6,426.8 183.3,427.1 184.0,427.1 184.7,427.1 185.4,427.0 186.1,426.5 186.8,427.1 187.5,426.5 188.2,426.4 188.9,426.8 189.6,426.4 190.3,426.4 191.0,426.6 191.7,427.2 192.4,426.6 193.1,427.1 193.8,427.2 194.5,426.6 195.2,426.5 195.9,426.6 196.6,426.9 197.3,427.0 198.0,426.7 198.7,427.0 199.4,426.5 200.1,426.4 200.8,426.7 201.5,426.9 202.2,427.1 202.9,427.2 203.6,427.1 204.3,427.2 205.0,426.9 205.7,426.7 206.4,426.4 207.1,426.9 207.8,427.1 208.5,427.0 209.2,426.8 209.9,426.9 210.6,427.0 211.3,427.2 212.0,427.0 212.7,426.9 213.4,427.2 214.1,427.2 214.8,426.4 215.5,427.2 216.2,426.6 216.9,426.4 217.6,426.6 218.3,426.5 219.0,426.4 219.7,427.0 220.4,426.7 221.1,426.5 221.8,427.0 222.5,426.6 223.2,426.7 223.9,426.7 224.6,426.7 225.3,427.0 226.0,426.6 226.7,427.0 227.4,426.8 228.1,426.7 228.8,426.7 229.5,427.1 230.2,426.6 230.9,426.7 231.6,426.6 232.3,426.5 233.0,426.4 233.7,426.9 234.4,427.1 235.1,426.7 235.8,426.8 236.5,427.1 237.2,426.4 237.9,426.6 238.6,427.0 239.3,426.6 240.0,426.6 240.7,426.8 241.4,426.6 242.1,426.5 242.8,426.4 243.5,427.2 244.2,427.0 244.9,426.6 245.6,426.5 246.3,426.8 247.0,426.8 247.7,427.1 248.4,426.7 249.1,426.5 249.8,427.1 250.5,426.5 251.2,426.6 251.9,426.6 252.6,427.1 253.3,427.2 254.0,426.7 254.7,426.9 255.4,427.0 256.1,426.8 256.8,427.0 257.5,426.7 258.2,427.0 258.9,426.5 259.6,426.5 260.3,426.5 261.0,426.5 261.7,427.2 262.4,426.6 263.1,426.9 263.8,426.4 264.5,427.1 265.2,427.0 265.9,426.9 266.6,427.2 267.3,426.4 268.0,427.0 268.7,426.5 269.4,427.2 270.1,426.4 270.8,426.7 271.5,426.8 272.2,426.8 272.9,427.0 273.6,426.5 274.3,427.1 275.0,426.4 275.7,427.2 276.5,427.0 277.2,426.4 277.9,426.4 278.6,426.5 279.3,426.5 280.0,426.5 280.7,426.6 281.4,426.8 282.1,426.8 282.8,426.6 283.5,427.2 284.2,426.9 284.9,426.8 285.6,427.1 286.3,426.9 287.0,427.1 287.7,427.1 288.4,426.7 289.1,427.1 289.8,426.9 290.5,426.4 291.2,426.7 291.9,426.9 292.6,427.0 293.3,427.0 294.0,427.0 294.7,427.0 295.4,427.1 296.1,426.6 296.8,427.1 297.5,427.1 298.2,427.0 298.9,426.6 299.6,426.9 300.3,427.1 301.0,427.1 301.7,426.6 302.4,426.4 303.1,426.8 303.8,426.5 304.5,426.8 305.2,426.5 305.9,426.5 306.6,427.1 307.3,426.9 308.0,426.5 308.7,426.8 309.4,426.6 310.1,426.8 310.8,427.0 311.5,427.1 312.2,426.4 312.9,426.4 313.6,427.1 314.3,426.5 315.0,427.1 315.7,426.9 316.4,426.9 317.1,426.9 317.8,426.7 318.5,427.1 319.2,427.2 319.9,426.6 320.6,426.6 321.3,426.7 322.0,426.7 322.7,426.8 323.4,427.2 324.1,426.7 324.8,427.1 325.5,426.6 326.2,426.7 326.9,427.0 327.6,426.9 328.3,427.1 329.0,426.9 329.7,426.6 330.4,427.0 331.1,426.6 331.8,426.4 332.5,426.7 333.2,427.2 333.9,426.4 334.6,427.1 335.3,427.0 336.0,426.9 336.7,426.9 337.4,426.6 338.1,426.8 338.8,427.2 339.5,427.1" fill="none" stroke="#68cfc8" stroke-width="1.8" stroke-linejoin="round" />
<polyline points="86.6,425.2 87.3,425.3 88.0,425.2 88.7,425.2 89.4,425.2 90.1,425.1 90.8,425.6 91.5,424.9 92.2,425.0 92.9,425.4 93.6,425.6 94.3,425.4 95.0,425.0 95.7,425.3 96.4,425.7 97.1,425.6 97.8,425.1 98.5,425.7 99.2,425.7 99.9,425.0 100.6,425.6 101.3,425.1 102.0,424.9 102.7,425.2 103.4,425.7 104.1,425.5 104.8,425.0 105.5,425.6 106.2,425.1 106.9,425.5 107.6,425.3 108.3,425.4 109.0,425.3 109.7,425.4 110.4,425.4 111.1,425.6 111.8,425.3 112.5,425.6 113.2,425.3 113.9,425.0 114.6,425.4 115.3,425.6 116.0,425.2 116.7,425.2 117.4,425.4 118.1,425.1 118.8,425.1 119.5,425.3 120.2,425.0 120.9,425.3 121.6,425.3 122.3,425.3 123.0,425.3 123.7,425.3 124.4,425.5 125.1,425.6 125.8,425.2 126.5,425.4 127.2,425.1 127.9,425.1 128.6,425.3 129.3,425.1 130.0,425.1 130.7,425.4 131.4,425.3 132.1,425.0 132.8,425.4 133.5,425.7 134.2,425.1 134.9,425.5 135.6,425.2 136.3,425.5 137.0,425.6 137.7,425.7 138.4,425.6 139.1,425.1 139.8,425.6 140.5,425.0 141.2,425.6 141.9,425.4 142.6,425.7 143.3,425.2 144.0,425.6 144.7,425.3 145.4,425.0 146.1,425.6 146.8,425.0 147.5,425.4 148.2,425.4 148.9,425.4 149.6,425.4 150.4,425.7 151.1,425.4 151.8,424.9 152.5,425.4 153.2,425.7 153.9,425.5 154.6,425.3 155.3,425.3 156.0,425.5 156.7,425.5 157.4,424.9 158.1,425.1 158.8,425.2 159.5,424.9 160.2,425.4 160.9,425.4 161.6,425.1 162.3,425.4 163.0,425.7 163.7,425.3 164.4,425.1 165.1,425.3 165.8,425.4 166.5,425.0 167.2,425.4 167.9,425.4 168.6,424.9 169.3,425.3 170.0,424.9 170.7,425.4 171.4,425.1 172.1,425.0 172.8,425.2 173.5,425.4 174.2,424.9 174.9,425.5 175.6,425.2 176.3,425.4 177.0,425.3 177.7,425.3 178.4,425.0 179.1,424.9 179.8,425.1 180.5,425.7 181.2,425.4 181.9,425.0 182.6,425.4 183.3,425.3 184.0,425.1 184.7,425.5 185.4,425.6 186.1,425.7 186.8,425.3 187.5,425.6 188.2,425.6 188.9,425.1 189.6,425.3 190.3,425.1 191.0,425.5 191.7,425.6 192.4,425.5 193.1,425.2 193.8,425.5 194.5,425.2 195.2,425.0 195.9,425.2 196.6,425.1 197.3,425.7 198.0,424.9 198.7,425.6 199.4,425.2 200.1,424.9 200.8,425.6 201.5,425.2 202.2,425.0 202.9,425.4 203.6,425.3 204.3,425.3 205.0,425.2 205.7,425.0 206.4,425.6 207.1,425.0 207.8,425.0 208.5,425.3 209.2,425.5 209.9,425.2 210.6,425.7 211.3,425.6 212.0,425.4 212.7,425.6 213.4,425.7 214.1,425.1 214.8,425.1 215.5,425.7 216.2,425.2 216.9,425.7 217.6,425.5 218.3,425.4 219.0,425.4 219.7,425.5 220.4,425.6 221.1,425.4 221.8,425.0 222.5,424.9 223.2,425.0 223.9,425.5 224.6,425.0 225.3,424.9 226.0,425.1 226.7,425.1 227.4,425.6 228.1,425.5 228.8,424.9 229.5,425.2 230.2,425.4 230.9,425.1 231.6,425.7 232.3,425.6 233.0,425.0 233.7,425.1 234.4,425.6 235.1,425.7 235.8,425.0 236.5,425.1 237.2,425.5 237.9,425.2 238.6,425.1 239.3,425.4 240.0,425.4 240.7,424.9 241.4,425.3 242.1,425.3 242.8,425.1 243.5,425.1 244.2,425.6 244.9,425.0 245.6,425.0 246.3,425.3 247.0,424.9 247.7,425.0 248.4,425.2 249.1,425.3 249.8,425.6 250.5,425.1 251.2,425.1 251.9,425.4 252.6,425.2 253.3,425.0 254.0,425.0 254.7,425.4 255.4,425.4 256.1,425.1 256.8,425.0 257.5,425.0 258.2,425.2 258.9,425.6 259.6,425.5 260.3,425.6 261.0,425.5 261.7,425.3 262.4,424.9 263.1,425.0 263.8,424.9 264.5,425.6 265.2,425.2 265.9,425.6 266.6,425.2 267.3,425.0 268.0,425.4 268.7,425.0 269.4,425.6 270.1,425.3 270.8,425.2 271.5,425.2 272.2,425.4 272.9,425.2 273.6,425.1 274.3,425.6 275.0,425.4 275.7,425.0 276.5,425.5 277.2,425.3 277.9,425.1 278.6,425.1 279.3,425.5 280.0,425.1 280.7,425.4 281.4,425.0 282.1,425.2 282.8,425.4 283.5,425.1 284.2,424.9 284.9,425.2 285.6,425.4 286.3,424.9 287.0,425.3 287.7,425.2 288.4,425.5 289.1,425.0 289.8,425.0 290.5,424.9 291.2,425.5 291.9,425.4 292.6,425.5 293.3,425.4 294.0,425.7 294.7,425.1 295.4,424.9 296.1,425.4 296.8,425.1 297.5,425.0 298.2,425.0 298.9,425.4 299.6,425.6 300.3,425.0 301.0,425.2 301.7,425.6 302.4,425.5 303.1,425.7 303.8,425.1 304.5,425.4 305.2,424.9 305.9,425.2 306.6,425.3 307.3,425.1 308.0,425.2 308.7,424.9 309.4,425.6 310.1,425.0 310.8,425.3 311.5,425.1 312.2,425.3 312.9,425.2 313.6,425.6 314.3,425.5 315.0,425.6 315.7,425.4 316.4,424.9 317.1,425.5 317.8,425.1 318.5,425.5 319.2,425.4 319.9,425.1 320.6,425.7 321.3,425.5 322.0,425.3 322.7,425.1 323.4,425.1 324.1,425.0 324.8,424.9 325.5,425.1 326.2,425.1 326.9,425.6 327.6,425.1 328.3,425.7 329.0,425.3 329.7,425.0 330.4,425.0 331.1,425.7 331.8,425.0 332.5,425.4 333.2,425.4 333.9,425.2 334.6,425.0 335.3,425.3 336.0,425.3 336.7,425.3 337.4,425.0 338.1,425.0 338.8,425.2 339.5,425.1" fill="none" stroke="#b8dc58" stroke-width="1.8" stroke-linejoin="round" />
<polyline points="86.6,424.2 87.3,424.0 88.0,423.9 88.7,424.0 89.4,424.2 90.1,424.3 90.8,424.4 91.5,424.0 92.2,424.0 92.9,423.9 93.6,424.0 94.3,423.8 95.0,424.4 95.7,424.1 96.4,424.0 97.1,424.2 97.8,424.2 98.5,423.8 99.2,424.2 99.9,424.2 100.6,423.9 101.3,424.1 102.0,424.1 102.7,423.6 103.4,424.2 104.1,423.9 104.8,423.9 105.5,424.2 106.2,423.8 106.9,423.6 107.6,424.0 108.3,423.8 109.0,424.3 109.7,423.8 110.4,424.3 111.1,423.9 111.8,424.3 112.5,424.2 113.2,424.2 113.9,424.2 114.6,424.3 115.3,424.3 116.0,424.1 116.7,424.3 117.4,423.8 118.1,423.7 118.8,424.3 119.5,424.0 120.2,424.1 120.9,423.6 121.6,423.8 122.3,424.2 123.0,423.7 123.7,424.3 124.4,424.3 125.1,424.2 125.8,423.7 126.5,424.1 127.2,424.3 127.9,423.6 128.6,423.9 129.3,423.7 130.0,424.3 130.7,423.7 131.4,424.3 132.1,424.2 132.8,424.2 133.5,424.4 134.2,424.3 134.9,423.7 135.6,424.2 136.3,423.9 137.0,424.4 137.7,423.9 138.4,423.8 139.1,424.0 139.8,423.9 140.5,424.1 141.2,424.0 141.9,423.9 142.6,424.1 143.3,424.4 144.0,424.0 144.7,424.2 145.4,424.2 146.1,423.9 146.8,423.7 147.5,424.0 148.2,424.0 148.9,423.8 149.6,424.0 150.4,423.9 151.1,423.9 151.8,424.0 152.5,424.3 153.2,424.1 153.9,424.3 154.6,424.2 155.3,424.0 156.0,423.8 156.7,424.2 157.4,424.1 158.1,423.6 158.8,423.7 159.5,424.4 160.2,423.8 160.9,423.6 161.6,424.3 162.3,424.4 163.0,424.1 163.7,424.2 164.4,423.8 165.1,423.9 165.8,424.0 166.5,423.7 167.2,423.8 167.9,424.1 168.6,423.9 169.3,424.1 170.0,424.4 170.7,424.4 171.4,424.4 172.1,423.9 172.8,424.0 173.5,423.9 174.2,423.7 174.9,423.6 175.6,423.9 176.3,424.2 177.0,423.9 177.7,424.0 178.4,423.7 179.1,423.8 179.8,424.3 180.5,424.2 181.2,424.4 181.9,424.0 182.6,423.8 183.3,424.1 184.0,423.8 184.7,423.8 185.4,423.9 186.1,424.2 186.8,424.2 187.5,423.8 188.2,424.3 188.9,424.3 189.6,423.7 190.3,423.7 191.0,424.0 191.7,423.7 192.4,424.4 193.1,423.8 193.8,424.1 194.5,423.7 195.2,424.1 195.9,423.8 196.6,423.8 197.3,424.0 198.0,423.8 198.7,424.1 199.4,424.3 200.1,423.8 200.8,423.9 201.5,424.0 202.2,424.3 202.9,423.7 203.6,423.8 204.3,423.7 205.0,424.3 205.7,423.8 206.4,424.2 207.1,424.3 207.8,424.3 208.5,424.0 209.2,423.9 209.9,423.8 210.6,424.0 211.3,424.3 212.0,423.8 212.7,424.4 213.4,424.3 214.1,423.7 214.8,423.8 215.5,424.1 216.2,423.7 216.9,423.6 217.6,423.9 218.3,423.9 219.0,423.8 219.7,424.1 220.4,424.2 221.1,424.3 221.8,424.1 222.5,424.2 223.2,423.6 223.9,424.1 224.6,424.0 225.3,423.8 226.0,423.6 226.7,424.4 227.4,423.7 228.1,423.7 228.8,423.8 229.5,423.7 230.2,424.1 230.9,424.0 231.6,423.8 232.3,424.0 233.0,424.3 233.7,424.0 234.4,424.4 235.1,424.2 235.8,423.8 236.5,424.0 237.2,423.8 237.9,423.7 238.6,423.7 239.3,424.2 240.0,423.8 240.7,424.3 241.4,423.7 242.1,424.2 242.8,423.8 243.5,423.7 244.2,424.1 244.9,424.2 245.6,423.9 246.3,423.9 247.0,423.7 247.7,424.1 248.4,423.9 249.1,424.4 249.8,424.2 250.5,424.1 251.2,424.3 251.9,424.4 252.6,424.0 253.3,424.0 254.0,423.7 254.7,424.0 255.4,423.9 256.1,423.6 256.8,424.4 257.5,423.6 258.2,423.8 258.9,423.8 259.6,424.3 260.3,423.8 261.0,424.4 261.7,424.1 262.4,423.9 263.1,423.9 263.8,424.0 264.5,424.2 265.2,424.2 265.9,423.7 266.6,424.0 267.3,423.6 268.0,423.7 268.7,424.1 269.4,423.8 270.1,423.8 270.8,424.4 271.5,423.7 272.2,423.9 272.9,423.9 273.6,424.1 274.3,424.2 275.0,423.9 275.7,423.8 276.5,424.3 277.2,424.1 277.9,424.1 278.6,424.4 279.3,423.8 280.0,423.9 280.7,424.1 281.4,423.8 282.1,423.6 282.8,423.8 283.5,423.9 284.2,424.1 284.9,424.3 285.6,423.9 286.3,423.9 287.0,424.0 287.7,424.3 288.4,424.2 289.1,423.7 289.8,424.2 290.5,424.0 291.2,423.7 291.9,423.8 292.6,423.6 293.3,423.8 294.0,423.9 294.7,424.1 295.4,423.8 296.1,424.1 296.8,424.1 297.5,424.3 298.2,424.1 298.9,423.9 299.6,424.0 300.3,424.1 301.0,423.6 301.7,423.9 302.4,424.1 303.1,423.6 303.8,423.7 304.5,423.7 305.2,424.2 305.9,423.6 306.6,423.8 307.3,424.3 308.0,424.3 308.7,424.1 309.4,424.0 310.1,423.8 310.8,424.1 311.5,423.6 312.2,424.3 312.9,424.1 313.6,424.1 314.3,424.4 315.0,424.1 315.7,424.2 316.4,423.8 317.1,424.1 317.8,424.1 318.5,424.3 319.2,424.4 319.9,423.8 320.6,423.7 321.3,424.1 322.0,424.2 322.7,423.6 323.4,423.9 324.1,424.1 324.8,424.4 325.5,423.8 326.2,423.8 326.9,423.8 327.6,423.8 328.3,424.1 329.0,424.3 329.7,423.9 330.4,423.9 331.1,423.9 331.8,423.9 332.5,423.7 333.2,423.8 333.9,423.8 334.6,424.2 335.3,423.8 336.0,424.4 336.7,423.7 337.4,423.6 338.1,423.8 338.8,424.2 339.5,423.7" fill="none" stroke="#f0d232" stroke-width="1.8" stroke-linejoin="round" />
<polyline points="86.6,422.4 87.3,423.1 88.0,422.0 88.7,421.8 89.4,422.1 90.1,423.3 90.8,423.0 91.5,423.1 92.2,422.0 92.9,422.8 93.6,422.4 94.3,423.1 95.0,423.0 95.7,422.2 96.4,423.2 97.1,422.7 97.8,423.3 98.5,422.8 99.2,421.0 99.9,423.2 100.6,421.8 101.3,422.4 102.0,422.1 102.7,422.2 103.4,422.6 104.1,422.8 104.8,422.6 105.5,421.9 106.2,422.9 106.9,423.1 107.6,423.2 108.3,422.6 109.0,422.9 109.7,421.5 110.4,422.6 111.1,421.3 111.8,423.1 112.5,423.1 113.2,422.5 113.9,422.5 114.6,422.3 115.3,423.1 116.0,422.9 116.7,423.0 117.4,422.9 118.1,423.0 118.8,421.4 119.5,422.3 120.2,423.3 120.9,423.2 121.6,422.2 122.3,422.7 123.0,422.9 123.7,423.3 124.4,421.0 125.1,423.3 125.8,422.4 126.5,422.8 127.2,423.0 127.9,423.0 128.6,422.8 129.3,423.0 130.0,421.3 130.7,421.7 131.4,422.1 132.1,422.9 132.8,422.9 133.5,422.9 134.2,422.9 134.9,420.1 135.6,422.8 136.3,423.3 137.0,422.6 137.7,420.9 138.4,423.2 139.1,421.9 139.8,422.4 140.5,423.0 141.2,422.7 141.9,422.1 142.6,423.2 143.3,422.9 144.0,422.2 144.7,421.7 145.4,422.4 146.1,422.7 146.8,420.9 147.5,421.6 148.2,423.1 148.9,423.2 149.6,423.0 150.4,422.4 151.1,422.7 151.8,423.0 152.5,422.5 153.2,423.0 153.9,422.1 154.6,422.6 155.3,421.9 156.0,422.2 156.7,421.6 157.4,423.0 158.1,422.9 158.8,422.2 159.5,423.1 160.2,422.6 160.9,423.2 161.6,422.3 162.3,423.0 163.0,420.7 163.7,422.5 164.4,422.7 165.1,422.7 165.8,422.6 166.5,423.0 167.2,422.8 167.9,422.9 168.6,422.7 169.3,420.7 170.0,422.5 170.7,422.2 171.4,421.2 172.1,421.9 172.8,423.2 173.5,422.9 174.2,423.3 174.9,423.0 175.6,422.3 176.3,421.3 177.0,421.6 177.7,423.0 178.4,422.9 179.1,422.8 179.8,423.1 180.5,422.2 181.2,422.6 181.9,423.2 182.6,423.0 183.3,421.8 184.0,422.8 184.7,423.2 185.4,422.3 186.1,422.8 186.8,422.9 187.5,422.9 188.2,421.6 188.9,422.4 189.6,422.5 190.3,423.0 191.0,423.1 191.7,422.7 192.4,423.2 193.1,423.0 193.8,423.0 194.5,423.2 195.2,422.6 195.9,422.7 196.6,423.2 197.3,422.1 198.0,423.0 198.7,422.8 199.4,422.9 200.1,420.9 200.8,423.0 201.5,421.0 202.2,422.8 202.9,420.2 203.6,422.7 204.3,422.3 205.0,422.5 205.7,422.1 206.4,423.1 207.1,423.0 207.8,423.1 208.5,422.5 209.2,422.3 209.9,422.8 210.6,421.8 211.3,423.2 212.0,422.8 212.7,423.0 213.4,422.3 214.1,421.9 214.8,423.2 215.5,422.0 216.2,422.9 216.9,421.9 217.6,421.8 218.3,423.1 219.0,421.5 219.7,423.1 220.4,421.9 221.1,423.1 221.8,423.1 222.5,422.2 223.2,422.5 223.9,422.9 224.6,422.4 225.3,422.7 226.0,423.0 226.7,422.8 227.4,422.9 228.1,422.4 228.8,422.9 229.5,422.1 230.2,423.1 230.9,421.6 231.6,423.0 232.3,422.4 233.0,421.8 233.7,420.8 234.4,423.2 235.1,421.0 235.8,421.8 236.5,421.4 237.2,423.1 237.9,422.6 238.6,422.7 239.3,423.1 240.0,421.6 240.7,423.0 241.4,422.6 242.1,422.9 242.8,423.0 243.5,420.8 244.2,422.3 244.9,422.2 245.6,422.1 246.3,422.1 247.0,423.1 247.7,422.3 248.4,422.3 249.1,423.2 249.8,422.5 250.5,422.6 251.2,423.2 251.9,421.1 252.6,422.4 253.3,422.8 254.0,423.2 254.7,423.2 255.4,423.0 256.1,423.3 256.8,421.3 257.5,422.7 258.2,422.9 258.9,422.6 259.6,423.0 260.3,422.7 261.0,421.6 261.7,421.6 262.4,423.0 263.1,421.4 263.8,422.0 264.5,421.7 265.2,421.7 265.9,422.9 266.6,423.2 267.3,423.0 268.0,422.6 268.7,422.4 269.4,422.6 270.1,422.2 270.8,421.7 271.5,422.7 272.2,422.9 272.9,423.1 273.6,422.2 274.3,422.3 275.0,422.5 275.7,422.7 276.5,423.1 277.2,422.6 277.9,422.8 278.6,422.7 279.3,422.2 280.0,422.7 280.7,421.8 281.4,423.0 282.1,422.8 282.8,422.7 283.5,422.7 284.2,422.0 284.9,422.9 285.6,423.1 286.3,421.2 287.0,423.2 287.7,422.6 288.4,422.4 289.1,423.1 289.8,422.0 290.5,423.1 291.2,421.3 291.9,422.9 292.6,422.5 293.3,421.6 294.0,422.8 294.7,423.3 295.4,423.1 296.1,422.5 296.8,422.9 297.5,423.2 298.2,421.1 298.9,423.1 299.6,422.8 300.3,423.2 301.0,423.1 301.7,422.9 302.4,421.8 303.1,420.4 303.8,422.7 304.5,422.5 305.2,422.4 305.9,422.5 306.6,422.3 307.3,422.2 308.0,422.8 308.7,422.7 309.4,422.9 310.1,422.4 310.8,422.7 311.5,422.0 312.2,422.4 312.9,422.3 313.6,421.8 314.3,423.2 315.0,422.2 315.7,423.2 316.4,422.3 317.1,422.2 317.8,421.9 318.5,422.4 319.2,423.2 319.9,422.7 320.6,421.9 321.3,422.8 322.0,423.2 322.7,422.4 323.4,423.3 324.1,422.4 324.8,422.3 325.5,422.6 326.2,423.1 326.9,423.2 327.6,422.6 328.3,421.7 329.0,423.1 329.7,422.9 330.4,422.8 331.1,422.8 331.8,421.2 332.5,422.7 333.2,423.2 333.9,422.6 334.6,422.9 335.3,422.3 336.0,421.2 336.7,420.3 337.4,421.8 338.1,422.7 338.8,422.9 339.5,423.3" fill="none" stroke="#f3992a" stroke-width="1.7" stroke-linejoin="round" />
<polyline points="86.6,420.9 87.3,421.7 88.0,421.4 88.7,421.9 89.4,421.2 90.1,419.7 90.8,421.9 91.5,421.6 92.2,421.0 92.9,422.2 93.6,422.4 94.3,418.4 95.0,421.9 95.7,422.4 96.4,421.0 97.1,420.7 97.8,421.4 98.5,421.5 99.2,421.6 99.9,420.8 100.6,421.5 101.3,420.2 102.0,420.6 102.7,420.4 103.4,418.2 104.1,421.9 104.8,422.0 105.5,422.1 106.2,421.5 106.9,422.4 107.6,421.1 108.3,421.9 109.0,420.1 109.7,419.9 110.4,421.6 111.1,420.5 111.8,421.9 112.5,422.2 113.2,419.7 113.9,420.8 114.6,421.8 115.3,421.5 116.0,422.0 116.7,422.2 117.4,419.4 118.1,422.3 118.8,421.3 119.5,420.7 120.2,421.8 120.9,421.7 121.6,421.0 122.3,421.8 123.0,421.8 123.7,421.9 124.4,422.3 125.1,421.7 125.8,420.9 126.5,419.9 127.2,420.8 127.9,421.8 128.6,421.4 129.3,421.8 130.0,422.1 130.7,420.2 131.4,422.0 132.1,421.7 132.8,421.5 133.5,422.1 134.2,420.6 134.9,420.0 135.6,422.1 136.3,420.6 137.0,421.4 137.7,421.0 138.4,419.9 139.1,422.3 139.8,421.7 140.5,421.2 141.2,420.9 141.9,421.6 142.6,421.0 143.3,421.6 144.0,420.8 144.7,420.7 145.4,422.3 146.1,420.4 146.8,420.8 147.5,421.4 148.2,421.9 148.9,422.1 149.6,420.6 150.4,422.3 151.1,421.0 151.8,421.4 152.5,420.7 153.2,421.4 153.9,421.4 154.6,422.3 155.3,418.5 156.0,420.9 156.7,422.0 157.4,422.2 158.1,420.4 158.8,422.4 159.5,421.7 160.2,422.2 160.9,421.0 161.6,421.3 162.3,420.6 163.0,422.3 163.7,420.7 164.4,422.0 165.1,420.7 165.8,422.4 166.5,421.9 167.2,419.0 167.9,421.9 168.6,420.8 169.3,420.3 170.0,419.6 170.7,421.7 171.4,421.4 172.1,420.6 172.8,420.7 173.5,421.1 174.2,420.7 174.9,421.5 175.6,420.8 176.3,420.9 177.0,418.6 177.7,419.5 178.4,421.1 179.1,421.7 179.8,419.1 180.5,419.0 181.2,421.4 181.9,422.0 182.6,418.3 183.3,421.1 184.0,422.2 184.7,422.0 185.4,421.6 186.1,419.4 186.8,420.4 187.5,421.9 188.2,421.0 188.9,421.5 189.6,421.9 190.3,422.2 191.0,421.7 191.7,419.1 192.4,422.4 193.1,419.8 193.8,421.8 194.5,421.7 195.2,420.6 195.9,420.3 196.6,421.3 197.3,421.2 198.0,422.0 198.7,420.9 199.4,420.7 200.1,421.6 200.8,421.6 201.5,419.9 202.2,420.3 202.9,420.8 203.6,420.7 204.3,420.9 205.0,421.7 205.7,421.9 206.4,422.1 207.1,422.3 207.8,420.6 208.5,422.3 209.2,420.2 209.9,421.9 210.6,420.0 211.3,420.5 212.0,422.3 212.7,422.3 213.4,420.7 214.1,421.0 214.8,420.2 215.5,420.7 216.2,422.2 216.9,420.6 217.6,422.1 218.3,421.5 219.0,420.0 219.7,421.9 220.4,420.9 221.1,421.3 221.8,418.4 222.5,419.8 223.2,422.3 223.9,419.6 224.6,421.2 225.3,422.2 226.0,422.2 226.7,421.7 227.4,421.2 228.1,422.3 228.8,420.2 229.5,422.2 230.2,421.4 230.9,422.0 231.6,421.8 232.3,421.5 233.0,418.8 233.7,421.9 234.4,419.8 235.1,421.4 235.8,422.1 236.5,420.9 237.2,421.6 237.9,419.2 238.6,421.9 239.3,421.3 240.0,422.3 240.7,421.2 241.4,420.7 242.1,419.5 242.8,422.0 243.5,422.0 244.2,418.4 244.9,422.2 245.6,422.0 246.3,422.2 247.0,421.9 247.7,419.5 248.4,421.1 249.1,420.7 249.8,421.1 250.5,422.0 251.2,421.6 251.9,419.9 252.6,420.4 253.3,422.0 254.0,422.4 254.7,420.7 255.4,421.5 256.1,421.5 256.8,421.1 257.5,421.1 258.2,421.7 258.9,420.4 259.6,419.9 260.3,421.8 261.0,420.3 261.7,421.6 262.4,417.8 263.1,421.0 263.8,419.7 264.5,421.8 265.2,421.1 265.9,420.7 266.6,421.8 267.3,421.8 268.0,420.8 268.7,420.3 269.4,419.4 270.1,421.5 270.8,420.3 271.5,418.5 272.2,420.6 272.9,422.0 273.6,420.9 274.3,422.0 275.0,422.0 275.7,421.1 276.5,422.0 277.2,421.9 277.9,422.2 278.6,421.4 279.3,420.4 280.0,421.7 280.7,421.6 281.4,422.0 282.1,422.2 282.8,421.0 283.5,421.4 284.2,421.8 284.9,421.5 285.6,421.5 286.3,421.0 287.0,422.4 287.7,420.6 288.4,421.8 289.1,419.2 289.8,420.9 290.5,419.5 291.2,420.9 291.9,421.6 292.6,419.1 293.3,422.1 294.0,421.8 294.7,422.0 295.4,421.6 296.1,422.2 296.8,420.4 297.5,420.8 298.2,421.9 298.9,421.2 299.6,420.4 300.3,419.7 301.0,420.4 301.7,419.5 302.4,420.8 303.1,420.9 303.8,422.2 304.5,422.3 305.2,421.1 305.9,420.4 306.6,422.1 307.3,421.7 308.0,421.2 308.7,421.0 309.4,421.0 310.1,421.6 310.8,422.1 311.5,420.9 312.2,421.4 312.9,422.2 313.6,421.1 314.3,420.9 315.0,419.8 315.7,421.1 316.4,419.4 317.1,422.1 317.8,420.5 318.5,419.4 319.2,422.2 319.9,420.9 320.6,419.1 321.3,419.1 322.0,421.9 322.7,421.4 323.4,421.7 324.1,419.5 324.8,422.4 325.5,421.2 326.2,420.8 326.9,421.0 327.6,420.6 328.3,421.4 329.0,422.2 329.7,422.4 330.4,421.9 331.1,422.3 331.8,421.8 332.5,418.0 333.2,421.3 333.9,421.3 334.6,420.7 335.3,422.2 336.0,421.2 336.7,420.5 337.4,420.7 338.1,421.2 338.8,420.9 339.5,421.9" fill="none" stroke="#e3401e" stroke-width="1.5" stroke-linejoin="round" />
<line x1="111.6" y1="424.0" x2="111.6" y2="396.0" stroke="#f09a2a" stroke-width="1.7" />
<line x1="114.7" y1="424.0" x2="114.7" y2="400.0" stroke="#a82020" stroke-width="1.7" />
<line x1="145.0" y1="424.0" x2="145.0" y2="413.0" stroke="#b02820" stroke-width="1.7" />
<line x1="158.0" y1="424.0" x2="158.0" y2="401.0" stroke="#e0401e" stroke-width="1.7" />
<line x1="165.2" y1="424.0" x2="165.2" y2="309.0" stroke="#9a1818" stroke-width="1.7" />
<line x1="168.0" y1="424.0" x2="168.0" y2="328.0" stroke="#9a1818" stroke-width="1.7" />
<line x1="178.1" y1="424.0" x2="178.1" y2="301.0" stroke="#9a1818" stroke-width="1.7" />
<line x1="190.1" y1="424.0" x2="190.1" y2="299.0" stroke="#9a1818" stroke-width="1.7" />
<line x1="194.8" y1="424.0" x2="194.8" y2="297.0" stroke="#9a1818" stroke-width="1.7" />
<line x1="224.0" y1="424.0" x2="224.0" y2="299.0" stroke="#9a1818" stroke-width="1.7" />
<line x1="244.0" y1="424.0" x2="244.0" y2="395.0" stroke="#c42a1c" stroke-width="1.7" />
<line x1="107.7" y1="430.0" x2="107.7" y2="447.4" stroke="#3550b0" stroke-width="1.6" />
<line x1="166.5" y1="430.0" x2="166.5" y2="465.4" stroke="#3550b0" stroke-width="1.6" />
<line x1="295.4" y1="430.0" x2="295.4" y2="460.0" stroke="#3550b0" stroke-width="1.6" />
<line x1="312.5" y1="430.0" x2="312.5" y2="447.4" stroke="#3550b0" stroke-width="1.6" />
<line x1="117.0" y1="430.0" x2="117.0" y2="437.0" stroke="#3e62be" stroke-width="1.1" />
<line x1="136.0" y1="430.0" x2="136.0" y2="436.0" stroke="#3e62be" stroke-width="1.1" />
<line x1="205.0" y1="430.0" x2="205.0" y2="436.0" stroke="#3e62be" stroke-width="1.1" />
<line x1="230.0" y1="430.0" x2="230.0" y2="437.0" stroke="#3e62be" stroke-width="1.1" />
<line x1="262.0" y1="430.0" x2="262.0" y2="436.0" stroke="#3e62be" stroke-width="1.1" />
<line x1="280.0" y1="430.0" x2="280.0" y2="437.0" stroke="#3e62be" stroke-width="1.1" />
<defs><linearGradient id="gshy" x1="0" y1="0" x2="0" y2="1"><stop offset="0" stop-color="#ec6a22"/><stop offset="0.55" stop-color="#f2a626"/><stop offset="1" stop-color="#d8dc40"/></linearGradient><linearGradient id="gshy2" x1="0" y1="0" x2="0" y2="1"><stop offset="0" stop-color="#f2a420"/><stop offset="0.6" stop-color="#f0c028"/><stop offset="1" stop-color="#d8dc40"/></linearGradient><linearGradient id="gneg" x1="0" y1="0" x2="0" y2="1"><stop offset="0" stop-color="#68c8d0"/><stop offset="0.4" stop-color="#4a9ad8"/><stop offset="1" stop-color="#3058b0"/></linearGradient></defs>
<polyline points="375.0,430.5 375.6,430.8 376.2,430.5 376.8,430.5 377.4,430.2 378.0,431.0 378.6,430.3 379.2,430.7 379.8,430.4 380.4,430.0 381.0,430.6 381.6,430.0 382.2,430.2 382.8,430.1 383.4,430.1 384.0,430.4 384.6,430.0 385.2,430.2 385.8,431.0 386.4,430.0 387.0,430.6 387.6,430.6 388.2,430.5 388.8,430.1 389.4,430.3 390.0,430.0 390.6,430.5 391.2,430.2 391.8,430.6 392.4,430.9 393.0,431.0 393.6,431.0 394.2,430.7 394.8,430.2 395.4,430.4 396.0,430.6 396.6,430.1 397.2,430.2 397.8,430.3 398.4,430.3 399.0,430.1 399.6,430.4 400.2,431.2 400.8,430.2 401.4,430.0 402.0,431.0 402.6,430.8 403.2,430.5 403.8,430.5 404.4,430.5 405.0,430.2 405.6,430.4 406.2,431.1 406.8,430.6 407.4,430.5 408.0,430.3 408.6,430.6 409.2,430.2 409.8,430.6 410.4,430.0 411.0,430.3 411.6,430.0 412.2,430.4 412.8,431.8 413.4,430.7 414.0,430.0 414.6,430.9 415.2,430.3 415.8,430.1 416.4,430.8 417.0,430.8 417.6,430.3 418.2,430.2 418.8,430.3 419.4,430.8 420.0,431.1 420.6,430.5 421.2,430.7 421.8,430.1 422.4,430.3 423.0,431.0 423.6,430.4 424.2,430.1 424.8,430.6 425.4,430.4 426.0,430.8 426.6,431.2 427.2,430.9 427.8,431.5 428.4,431.0 429.0,430.8 429.6,430.2 430.2,430.5 430.8,430.5 431.4,430.3 432.0,430.3 432.6,430.3 433.2,430.3 433.8,431.0 434.4,430.5 435.0,430.1 435.6,430.7 436.2,430.1 436.8,430.2 437.4,430.0 438.0,430.5 438.6,430.3 439.2,430.2 439.8,430.5 440.4,430.2 441.0,431.4 441.6,431.0 442.2,430.0 442.8,430.7 443.4,430.0 444.0,431.5 444.6,431.0 445.2,430.2 445.8,430.4 446.4,430.1 447.0,430.6 447.6,430.9 448.2,430.6 448.8,430.6 449.4,430.7 450.0,430.4 450.6,430.3 451.2,430.4 451.8,430.5 452.4,430.1 453.0,430.0 453.6,430.1 454.2,430.6 454.8,431.4 455.4,430.8 456.0,430.1 456.6,430.7 457.2,430.9 457.8,430.4 458.4,430.2 459.0,431.3 459.6,430.8 460.2,430.3 460.8,430.2 461.4,430.2 462.0,430.1 462.6,430.6 463.2,430.1 463.8,430.8 464.4,430.9 465.0,430.2 465.6,430.3 466.2,430.5 466.8,430.1 467.4,430.4 468.0,430.0 468.6,430.2 469.2,430.3 469.8,430.7 470.4,430.7 471.0,430.2 471.6,430.1 472.2,430.3 472.8,431.2 473.4,430.2 474.0,431.0 474.6,430.7 475.2,430.0 475.8,430.9 476.4,430.4 477.0,430.4 477.6,430.8 478.2,430.0 478.8,430.9 479.4,430.1 480.0,430.2 480.6,430.4 481.2,430.3 481.8,430.4 482.4,430.3 483.0,430.8 483.6,430.0 484.2,430.3 484.8,430.1 485.4,430.6 486.0,430.4 486.6,430.2 487.2,431.6 487.8,430.3 488.4,430.9 489.0,430.8 489.6,430.1 490.2,431.0 490.8,430.4 491.4,430.6 492.0,430.1 492.6,430.8 493.2,431.7 493.8,430.2 494.4,430.1 495.0,431.0 495.6,430.5 496.2,430.0 496.8,430.7 497.4,430.1 498.0,430.1 498.6,430.4 499.2,430.5 499.8,430.6 500.4,430.1 501.0,430.3 501.6,430.2 502.2,430.6 502.8,430.2 503.4,430.0 504.0,430.9 504.6,430.4 505.2,430.9 505.8,430.4 506.4,430.1 507.0,430.5 507.6,430.5 508.2,431.0 508.8,431.1 509.4,430.6 510.0,430.4 510.6,431.0 511.2,430.0 511.8,430.8 512.4,430.7 513.0,430.7 513.6,430.7 514.2,430.6 514.8,431.0 515.4,430.3 516.0,430.9 516.6,430.0 517.2,431.3 517.8,430.6 518.4,430.5 519.0,430.7 519.6,431.4 520.2,430.1 520.8,430.0 521.4,430.2 522.0,430.5 522.6,430.3 523.2,430.2 523.8,430.2 524.4,430.1 525.0,430.5 525.6,431.4 526.2,430.0 526.8,430.7 527.4,431.2 528.0,430.9 528.6,430.1 529.2,430.4 529.8,430.4 530.4,430.7 531.0,430.2 531.6,430.4 532.2,430.5 532.8,430.2 533.4,430.0 534.0,431.2 534.6,430.5 535.2,430.7 535.8,430.3 536.4,430.8 537.0,430.1 537.6,430.6 538.2,430.6 538.8,430.2 539.4,430.8 540.0,430.3 540.6,430.1 541.2,430.4 541.8,430.4 542.4,430.3 543.0,430.6 543.6,431.4 544.2,431.1 544.8,430.2 545.4,430.9 546.0,430.4 546.6,430.7 547.2,430.1 547.8,430.8 548.4,430.2 549.0,430.1 549.6,430.4 550.2,430.8 550.8,430.0 551.4,430.4 552.0,430.3 552.6,431.2 553.2,430.4 553.8,430.2 554.4,430.2 555.0,430.3 555.6,431.1 556.2,430.2 556.8,430.0 557.4,430.2 558.0,430.6 558.6,430.4 559.2,430.1 559.8,430.4 560.4,431.1 561.0,431.1 561.6,430.6 562.2,430.8 562.8,430.1 563.4,431.1 564.0,430.6 564.6,430.0 565.2,431.0 565.8,430.1 566.4,430.2 567.0,430.3 567.6,430.8 568.2,430.5 568.8,430.5 569.4,430.2 570.0,430.5 570.6,430.1 571.2,430.6 571.8,430.3 572.4,430.8 573.0,430.2 573.6,430.1 574.2,430.7 574.8,430.3 575.4,430.2 576.0,430.4 576.6,430.0 577.2,430.2 577.8,430.7 578.4,430.2 579.0,430.4 579.6,430.8 580.2,430.2 580.8,430.2 581.4,430.7 582.0,430.3 582.6,430.8 583.2,430.5 583.8,430.1 584.4,430.7 585.0,431.0 585.6,430.5 586.2,430.0" fill="none" stroke="#5cb8e0" stroke-width="1.2" stroke-linejoin="round" />
<polyline points="375.0,428.8 375.6,428.9 376.2,429.0 376.8,428.6 377.4,429.1 378.0,428.9 378.6,428.6 379.2,429.2 379.8,429.1 380.4,429.2 381.0,429.0 381.6,428.7 382.2,429.1 382.8,429.2 383.4,428.9 384.0,429.2 384.6,429.3 385.2,428.8 385.8,429.3 386.4,429.2 387.0,429.1 387.6,428.5 388.2,428.8 388.8,429.0 389.4,429.0 390.0,429.1 390.6,429.0 391.2,428.6 391.8,429.2 392.4,428.9 393.0,429.2 393.6,428.7 394.2,429.3 394.8,428.9 395.4,429.1 396.0,429.1 396.6,429.2 397.2,428.8 397.8,428.6 398.4,428.8 399.0,428.6 399.6,428.9 400.2,429.2 400.8,428.8 401.4,428.6 402.0,428.5 402.6,428.8 403.2,429.0 403.8,428.5 404.4,429.0 405.0,428.7 405.6,428.6 406.2,429.2 406.8,428.9 407.4,429.2 408.0,428.9 408.6,428.6 409.2,428.7 409.8,428.8 410.4,429.0 411.0,429.1 411.6,429.1 412.2,429.0 412.8,428.7 413.4,428.8 414.0,428.8 414.6,428.9 415.2,428.7 415.8,428.9 416.4,428.9 417.0,428.5 417.6,429.2 418.2,429.0 418.8,429.1 419.4,429.1 420.0,429.1 420.6,429.3 421.2,428.8 421.8,428.8 422.4,428.5 423.0,429.0 423.6,429.0 424.2,429.0 424.8,429.3 425.4,428.7 426.0,428.7 426.6,429.1 427.2,429.1 427.8,428.9 428.4,428.5 429.0,428.8 429.6,429.2 430.2,428.9 430.8,428.9 431.4,428.8 432.0,429.0 432.6,429.0 433.2,429.1 433.8,429.2 434.4,429.1 435.0,428.8 435.6,428.7 436.2,429.1 436.8,429.1 437.4,429.2 438.0,428.7 438.6,429.2 439.2,429.2 439.8,428.6 440.4,428.7 441.0,429.0 441.6,428.6 442.2,429.2 442.8,428.7 443.4,429.0 444.0,428.7 444.6,428.7 445.2,428.7 445.8,428.9 446.4,429.1 447.0,428.7 447.6,429.0 448.2,428.8 448.8,429.0 449.4,428.8 450.0,428.7 450.6,428.6 451.2,428.5 451.8,429.1 452.4,428.8 453.0,428.6 453.6,429.2 454.2,429.0 454.8,428.5 455.4,429.1 456.0,429.0 456.6,428.9 457.2,428.9 457.8,429.3 458.4,428.8 459.0,429.0 459.6,429.0 460.2,428.8 460.8,428.8 461.4,429.1 462.0,429.0 462.6,428.9 463.2,428.9 463.8,428.7 464.4,429.1 465.0,428.5 465.6,429.0 466.2,428.9 466.8,428.7 467.4,429.0 468.0,429.0 468.6,428.6 469.2,428.9 469.8,428.6 470.4,429.1 471.0,428.8 471.6,428.8 472.2,428.7 472.8,428.5 473.4,428.6 474.0,428.6 474.6,429.0 475.2,429.2 475.8,428.7 476.4,428.6 477.0,428.9 477.6,428.6 478.2,428.8 478.8,429.1 479.4,428.7 480.0,429.1 480.6,428.9 481.2,428.6 481.8,428.7 482.4,429.0 483.0,428.6 483.6,428.7 484.2,429.0 484.8,429.2 485.4,428.9 486.0,429.0 486.6,428.5 487.2,428.7 487.8,428.8 488.4,429.2 489.0,428.8 489.6,429.1 490.2,428.5 490.8,428.9 491.4,429.2 492.0,429.1 492.6,429.0 493.2,428.6 493.8,429.2 494.4,428.6 495.0,429.3 495.6,429.1 496.2,429.1 496.8,428.9 497.4,428.6 498.0,428.8 498.6,429.0 499.2,429.0 499.8,428.8 500.4,429.1 501.0,428.5 501.6,428.7 502.2,428.6 502.8,428.8 503.4,429.1 504.0,429.1 504.6,428.6 505.2,428.7 505.8,428.6 506.4,429.0 507.0,428.9 507.6,428.7 508.2,428.8 508.8,429.2 509.4,428.8 510.0,429.1 510.6,429.0 511.2,428.9 511.8,428.9 512.4,428.8 513.0,428.7 513.6,428.9 514.2,428.7 514.8,428.8 515.4,428.6 516.0,429.2 516.6,428.8 517.2,428.7 517.8,428.5 518.4,428.7 519.0,429.2 519.6,428.8 520.2,429.0 520.8,428.7 521.4,429.0 522.0,428.9 522.6,429.1 523.2,428.9 523.8,428.8 524.4,428.7 525.0,429.0 525.6,429.2 526.2,429.1 526.8,428.9 527.4,428.8 528.0,429.2 528.6,429.2 529.2,428.6 529.8,429.0 530.4,429.1 531.0,429.0 531.6,429.3 532.2,429.2 532.8,428.7 533.4,429.3 534.0,428.8 534.6,428.8 535.2,429.3 535.8,428.6 536.4,428.8 537.0,429.0 537.6,428.7 538.2,428.7 538.8,429.1 539.4,429.0 540.0,429.1 540.6,429.1 541.2,429.2 541.8,429.2 542.4,429.2 543.0,429.3 543.6,428.9 544.2,429.1 544.8,428.9 545.4,429.3 546.0,429.0 546.6,428.8 547.2,429.0 547.8,428.7 548.4,428.6 549.0,428.8 549.6,428.6 550.2,428.5 550.8,428.6 551.4,428.9 552.0,429.1 552.6,428.5 553.2,429.0 553.8,428.6 554.4,428.9 555.0,428.7 555.6,428.9 556.2,429.1 556.8,428.8 557.4,428.8 558.0,429.1 558.6,428.6 559.2,428.8 559.8,429.1 560.4,429.2 561.0,429.3 561.6,428.7 562.2,429.0 562.8,428.8 563.4,429.1 564.0,429.2 564.6,428.6 565.2,428.8 565.8,429.2 566.4,428.8 567.0,429.0 567.6,429.2 568.2,428.7 568.8,429.1 569.4,428.5 570.0,428.8 570.6,428.6 571.2,428.8 571.8,428.7 572.4,428.5 573.0,429.1 573.6,428.6 574.2,429.0 574.8,428.9 575.4,429.2 576.0,429.2 576.6,429.0 577.2,428.6 577.8,429.1 578.4,428.6 579.0,429.2 579.6,428.7 580.2,428.7 580.8,428.7 581.4,428.8 582.0,429.1 582.6,429.2 583.2,429.1 583.8,429.1 584.4,428.7 585.0,428.8 585.6,428.7 586.2,428.8" fill="none" stroke="#b8d850" stroke-width="1.4" stroke-linejoin="round" />
<polyline points="375.0,427.4 375.6,425.7 376.2,425.7 376.8,425.8 377.4,426.6 378.0,426.8 378.6,427.2 379.2,427.1 379.8,426.3 380.4,427.2 381.0,426.6 381.6,426.0 382.2,427.4 382.8,427.3 383.4,427.4 384.0,427.4 384.6,426.7 385.2,427.2 385.8,427.3 386.4,427.2 387.0,427.5 387.6,427.2 388.2,426.4 388.8,426.9 389.4,427.5 390.0,426.9 390.6,426.7 391.2,427.4 391.8,427.4 392.4,425.6 393.0,427.0 393.6,426.6 394.2,427.2 394.8,426.9 395.4,426.8 396.0,426.9 396.6,427.1 397.2,427.6 397.8,427.1 398.4,427.2 399.0,426.3 399.6,427.6 400.2,427.3 400.8,427.2 401.4,427.4 402.0,427.0 402.6,427.2 403.2,427.5 403.8,426.9 404.4,427.2 405.0,427.5 405.6,427.3 406.2,427.5 406.8,427.1 407.4,427.3 408.0,427.6 408.6,426.9 409.2,427.2 409.8,426.1 410.4,427.1 411.0,426.8 411.6,427.4 412.2,426.4 412.8,427.2 413.4,426.6 414.0,427.6 414.6,426.6 415.2,427.6 415.8,426.5 416.4,427.0 417.0,427.3 417.6,426.6 418.2,425.7 418.8,425.9 419.4,427.3 420.0,426.5 420.6,426.9 421.2,427.5 421.8,426.3 422.4,426.7 423.0,427.1 423.6,427.6 424.2,427.0 424.8,426.8 425.4,426.7 426.0,427.3 426.6,427.3 427.2,427.0 427.8,425.6 428.4,427.3 429.0,426.6 429.6,427.3 430.2,426.7 430.8,425.6 431.4,426.9 432.0,427.5 432.6,427.0 433.2,426.8 433.8,427.2 434.4,427.1 435.0,426.5 435.6,427.5 436.2,426.4 436.8,427.5 437.4,427.5 438.0,427.4 438.6,426.8 439.2,427.2 439.8,426.5 440.4,425.7 441.0,427.5 441.6,426.5 442.2,426.5 442.8,426.5 443.4,427.5 444.0,427.4 444.6,427.4 445.2,427.1 445.8,427.0 446.4,427.1 447.0,426.9 447.6,426.5 448.2,427.2 448.8,427.0 449.4,427.4 450.0,427.3 450.6,426.9 451.2,427.4 451.8,427.1 452.4,427.5 453.0,427.1 453.6,426.5 454.2,426.9 454.8,427.4 455.4,427.3 456.0,426.1 456.6,427.2 457.2,426.0 457.8,427.4 458.4,427.2 459.0,427.3 459.6,426.4 460.2,426.7 460.8,427.4 461.4,427.5 462.0,427.3 462.6,427.2 463.2,426.6 463.8,427.0 464.4,426.8 465.0,427.3 465.6,426.9 466.2,427.4 466.8,427.3 467.4,427.1 468.0,427.1 468.6,427.6 469.2,427.1 469.8,427.1 470.4,427.0 471.0,427.1 471.6,427.0 472.2,426.8 472.8,427.3 473.4,426.7 474.0,426.5 474.6,426.9 475.2,426.5 475.8,426.8 476.4,426.6 477.0,427.4 477.6,427.6 478.2,426.8 478.8,426.9 479.4,427.6 480.0,427.0 480.6,427.1 481.2,426.8 481.8,426.4 482.4,427.5 483.0,425.9 483.6,427.3 484.2,426.8 484.8,427.4 485.4,427.4 486.0,427.3 486.6,426.4 487.2,427.5 487.8,426.7 488.4,427.4 489.0,426.2 489.6,426.4 490.2,427.0 490.8,426.4 491.4,427.0 492.0,427.1 492.6,427.1 493.2,426.0 493.8,427.0 494.4,427.3 495.0,426.9 495.6,427.3 496.2,426.3 496.8,427.4 497.4,426.7 498.0,427.3 498.6,427.5 499.2,427.4 499.8,426.4 500.4,426.0 501.0,426.5 501.6,426.2 502.2,427.3 502.8,426.9 503.4,427.5 504.0,427.5 504.6,427.0 505.2,427.5 505.8,427.2 506.4,425.8 507.0,427.1 507.6,427.3 508.2,426.5 508.8,425.6 509.4,427.2 510.0,426.7 510.6,427.5 511.2,426.5 511.8,426.8 512.4,426.7 513.0,426.5 513.6,425.9 514.2,426.4 514.8,426.7 515.4,427.4 516.0,427.1 516.6,427.3 517.2,427.5 517.8,427.1 518.4,427.0 519.0,426.5 519.6,426.6 520.2,427.3 520.8,426.5 521.4,426.8 522.0,425.9 522.6,426.8 523.2,427.5 523.8,427.3 524.4,427.0 525.0,427.3 525.6,425.8 526.2,427.5 526.8,427.0 527.4,426.2 528.0,427.6 528.6,426.7 529.2,427.1 529.8,427.1 530.4,427.0 531.0,427.0 531.6,427.5 532.2,427.5 532.8,427.2 533.4,427.5 534.0,426.6 534.6,427.4 535.2,427.0 535.8,427.2 536.4,427.3 537.0,426.4 537.6,426.7 538.2,427.0 538.8,427.5 539.4,426.5 540.0,426.3 540.6,427.2 541.2,427.2 541.8,426.4 542.4,426.9 543.0,426.8 543.6,427.5 544.2,427.4 544.8,427.5 545.4,426.1 546.0,426.9 546.6,427.0 547.2,427.0 547.8,425.5 548.4,427.5 549.0,426.4 549.6,427.3 550.2,426.2 550.8,427.1 551.4,426.9 552.0,427.5 552.6,427.0 553.2,426.5 553.8,427.5 554.4,427.2 555.0,427.1 555.6,427.3 556.2,427.1 556.8,427.1 557.4,426.8 558.0,426.9 558.6,426.7 559.2,427.1 559.8,427.4 560.4,426.7 561.0,427.4 561.6,427.5 562.2,425.8 562.8,427.2 563.4,427.1 564.0,426.5 564.6,427.3 565.2,427.3 565.8,427.1 566.4,426.6 567.0,427.1 567.6,427.0 568.2,425.8 568.8,427.2 569.4,427.0 570.0,427.3 570.6,427.3 571.2,427.1 571.8,426.9 572.4,427.0 573.0,427.4 573.6,427.2 574.2,427.2 574.8,427.4 575.4,427.1 576.0,427.2 576.6,427.0 577.2,426.0 577.8,427.1 578.4,427.5 579.0,426.6 579.6,426.9 580.2,426.8 580.8,426.6 581.4,427.0 582.0,427.4 582.6,427.2 583.2,426.5 583.8,427.5 584.4,426.3 585.0,427.0 585.6,426.9 586.2,426.6" fill="none" stroke="#e03a1c" stroke-width="1.6" stroke-linejoin="round" />
<path d="M411.30,428.19 L411.55,428.16 L411.80,428.12 L412.05,428.08 L412.30,428.02 L412.55,427.96 L412.80,427.89 L413.05,427.79 L413.30,427.67 L413.55,427.49 L413.80,427.17 L414.05,426.57 L414.30,425.34 L414.55,422.92 L414.80,418.54 L415.05,411.42 L415.30,401.25 L415.55,388.71 L415.80,375.84 L416.05,365.84 L416.30,362.00 L416.55,365.84 L416.80,375.84 L417.05,388.71 L417.30,401.25 L417.55,411.42 L417.80,418.54 L418.05,422.92 L418.30,425.34 L418.55,426.57 L418.80,427.17 L419.05,427.49 L419.30,427.67 L419.55,427.79 L419.80,427.89 L420.05,427.96 L420.30,428.02 L420.55,428.08 L420.80,428.12 L421.05,428.16 L421.30,428.19" fill="none" stroke="url(#gshy)" stroke-width="1.9" stroke-linejoin="round"/>
<path d="M427.70,428.27 L427.95,428.25 L428.20,428.22 L428.45,428.19 L428.70,428.15 L428.95,428.11 L429.20,428.05 L429.45,427.98 L429.70,427.89 L429.95,427.75 L430.20,427.52 L430.45,427.08 L430.70,426.17 L430.95,424.40 L431.20,421.18 L431.45,415.94 L431.70,408.46 L431.95,399.24 L432.20,389.78 L432.45,382.42 L432.70,379.60 L432.95,382.42 L433.20,389.78 L433.45,399.24 L433.70,408.46 L433.95,415.94 L434.20,421.18 L434.45,424.40 L434.70,426.17 L434.95,427.08 L435.20,427.52 L435.45,427.75 L435.70,427.89 L435.95,427.98 L436.20,428.05 L436.45,428.11 L436.70,428.15 L436.95,428.19 L437.20,428.22 L437.45,428.25 L437.70,428.27" fill="none" stroke="url(#gshy)" stroke-width="1.9" stroke-linejoin="round"/>
<path d="M460.20,428.10 L460.45,428.05 L460.70,428.00 L460.95,427.95 L461.20,427.88 L461.45,427.80 L461.70,427.70 L461.95,427.58 L462.20,427.41 L462.45,427.18 L462.70,426.77 L462.95,425.97 L463.20,424.37 L463.45,421.21 L463.70,415.48 L463.95,406.18 L464.20,392.89 L464.45,376.50 L464.70,359.69 L464.95,346.62 L465.20,341.60 L465.45,346.62 L465.70,359.69 L465.95,376.50 L466.20,392.89 L466.45,406.18 L466.70,415.48 L466.95,421.21 L467.20,424.37 L467.45,425.97 L467.70,426.77 L467.95,427.18 L468.20,427.41 L468.45,427.58 L468.70,427.70 L468.95,427.80 L469.20,427.88 L469.45,427.95 L469.70,428.00 L469.95,428.05 L470.20,428.10" fill="none" stroke="url(#gshy)" stroke-width="1.9" stroke-linejoin="round"/>
<path d="M499.80,428.12 L500.05,428.08 L500.30,428.03 L500.55,427.98 L500.80,427.91 L501.05,427.84 L501.30,427.74 L501.55,427.63 L501.80,427.47 L502.05,427.25 L502.30,426.86 L502.55,426.11 L502.80,424.59 L503.05,421.60 L503.30,416.19 L503.55,407.39 L503.80,394.81 L504.05,379.31 L504.30,363.41 L504.55,351.04 L504.80,346.30 L505.05,351.04 L505.30,363.41 L505.55,379.31 L505.80,394.81 L506.05,407.39 L506.30,416.19 L506.55,421.60 L506.80,424.59 L507.05,426.11 L507.30,426.86 L507.55,427.25 L507.80,427.47 L508.05,427.63 L508.30,427.74 L508.55,427.84 L508.80,427.91 L509.05,427.98 L509.30,428.03 L509.55,428.08 L509.80,428.12" fill="none" stroke="url(#gshy)" stroke-width="1.9" stroke-linejoin="round"/>
<path d="M501.30,428.13 L501.55,428.10 L501.80,428.05 L502.05,428.00 L502.30,427.94 L502.55,427.87 L502.80,427.78 L503.05,427.67 L503.30,427.52 L503.55,427.30 L503.80,426.93 L504.05,426.22 L504.30,424.76 L504.55,421.91 L504.80,416.74 L505.05,408.34 L505.30,396.33 L505.55,381.53 L505.80,366.34 L506.05,354.53 L506.30,350.00 L506.55,354.53 L506.80,366.34 L507.05,381.53 L507.30,396.33 L507.55,408.34 L507.80,416.74 L508.05,421.91 L508.30,424.76 L508.55,426.22 L508.80,426.93 L509.05,427.30 L509.30,427.52 L509.55,427.67 L509.80,427.78 L510.05,427.87 L510.30,427.94 L510.55,428.00 L510.80,428.05 L511.05,428.10 L511.30,428.13" fill="none" stroke="url(#gshy)" stroke-width="1.9" stroke-linejoin="round"/>
<path d="M509.40,428.28 L509.65,428.26 L509.90,428.23 L510.15,428.20 L510.40,428.17 L510.65,428.12 L510.90,428.07 L511.15,428.01 L511.40,427.92 L511.65,427.79 L511.90,427.57 L512.15,427.15 L512.40,426.29 L512.65,424.60 L512.90,421.54 L513.15,416.56 L513.40,409.44 L513.65,400.67 L513.90,391.68 L514.15,384.68 L514.40,382.00 L514.65,384.68 L514.90,391.68 L515.15,400.67 L515.40,409.44 L515.65,416.56 L515.90,421.54 L516.15,424.60 L516.40,426.29 L516.65,427.15 L516.90,427.57 L517.15,427.79 L517.40,427.92 L517.65,428.01 L517.90,428.07 L518.15,428.12 L518.40,428.17 L518.65,428.20 L518.90,428.23 L519.15,428.26 L519.40,428.28" fill="none" stroke="url(#gshy)" stroke-width="1.9" stroke-linejoin="round"/>
<path d="M514.60,428.14 L514.85,428.10 L515.10,428.06 L515.35,428.01 L515.60,427.95 L515.85,427.87 L516.10,427.79 L516.35,427.68 L516.60,427.53 L516.85,427.32 L517.10,426.95 L517.35,426.25 L517.60,424.81 L517.85,422.00 L518.10,416.89 L518.35,408.60 L518.60,396.74 L518.85,382.12 L519.10,367.13 L519.35,355.47 L519.60,351.00 L519.85,355.47 L520.10,367.13 L520.35,382.12 L520.60,396.74 L520.85,408.60 L521.10,416.89 L521.35,422.00 L521.60,424.81 L521.85,426.25 L522.10,426.95 L522.35,427.32 L522.60,427.53 L522.85,427.68 L523.10,427.79 L523.35,427.87 L523.60,427.95 L523.85,428.01 L524.10,428.06 L524.35,428.10 L524.60,428.14" fill="none" stroke="url(#gshy)" stroke-width="1.9" stroke-linejoin="round"/>
<path d="M516.20,428.14 L516.45,428.10 L516.70,428.06 L516.95,428.01 L517.20,427.95 L517.45,427.87 L517.70,427.79 L517.95,427.68 L518.20,427.53 L518.45,427.32 L518.70,426.95 L518.95,426.25 L519.20,424.81 L519.45,422.00 L519.70,416.89 L519.95,408.60 L520.20,396.74 L520.45,382.12 L520.70,367.13 L520.95,355.47 L521.20,351.00 L521.45,355.47 L521.70,367.13 L521.95,382.12 L522.20,396.74 L522.45,408.60 L522.70,416.89 L522.95,422.00 L523.20,424.81 L523.45,426.25 L523.70,426.95 L523.95,427.32 L524.20,427.53 L524.45,427.68 L524.70,427.79 L524.95,427.87 L525.20,427.95 L525.45,428.01 L525.70,428.06 L525.95,428.10 L526.20,428.14" fill="none" stroke="url(#gshy)" stroke-width="1.9" stroke-linejoin="round"/>
<path d="M531.50,427.90 L531.75,427.83 L532.00,427.76 L532.25,427.67 L532.50,427.57 L532.75,427.45 L533.00,427.30 L533.25,427.12 L533.50,426.88 L533.75,426.52 L534.00,425.91 L534.25,424.72 L534.50,422.31 L534.75,417.59 L535.00,409.03 L535.25,395.11 L535.50,375.22 L535.75,350.71 L536.00,325.56 L536.25,306.00 L536.50,298.50 L536.75,306.00 L537.00,325.56 L537.25,350.71 L537.50,375.22 L537.75,395.11 L538.00,409.03 L538.25,417.59 L538.50,422.31 L538.75,424.72 L539.00,425.91 L539.25,426.52 L539.50,426.88 L539.75,427.12 L540.00,427.30 L540.25,427.45 L540.50,427.57 L540.75,427.67 L541.00,427.76 L541.25,427.83 L541.50,427.90" fill="none" stroke="url(#gshy2)" stroke-width="1.9" stroke-linejoin="round"/>
<path d="M534.00,428.10 L534.25,428.06 L534.50,428.02 L534.75,427.96 L535.00,427.89 L535.25,427.81 L535.50,427.72 L535.75,427.60 L536.00,427.44 L536.25,427.20 L536.50,426.80 L536.75,426.03 L537.00,424.46 L537.25,421.37 L537.50,415.77 L537.75,406.67 L538.00,393.66 L538.25,377.64 L538.50,361.19 L538.75,348.41 L539.00,343.50 L539.25,348.41 L539.50,361.19 L539.75,377.64 L540.00,393.66 L540.25,406.67 L540.50,415.77 L540.75,421.37 L541.00,424.46 L541.25,426.03 L541.50,426.80 L541.75,427.20 L542.00,427.44 L542.25,427.60 L542.50,427.72 L542.75,427.81 L543.00,427.89 L543.25,427.96 L543.50,428.02 L543.75,428.06 L544.00,428.10" fill="none" stroke="url(#gshy)" stroke-width="1.9" stroke-linejoin="round"/>
<path d="M540.00,428.14 L540.25,428.10 L540.50,428.06 L540.75,428.01 L541.00,427.95 L541.25,427.87 L541.50,427.79 L541.75,427.68 L542.00,427.53 L542.25,427.32 L542.50,426.95 L542.75,426.25 L543.00,424.81 L543.25,422.00 L543.50,416.89 L543.75,408.60 L544.00,396.74 L544.25,382.12 L544.50,367.13 L544.75,355.47 L545.00,351.00 L545.25,355.47 L545.50,367.13 L545.75,382.12 L546.00,396.74 L546.25,408.60 L546.50,416.89 L546.75,422.00 L547.00,424.81 L547.25,426.25 L547.50,426.95 L547.75,427.32 L548.00,427.53 L548.25,427.68 L548.50,427.79 L548.75,427.87 L549.00,427.95 L549.25,428.01 L549.50,428.06 L549.75,428.10 L550.00,428.14" fill="none" stroke="url(#gshy2)" stroke-width="1.9" stroke-linejoin="round"/>
<path d="M538.20,428.25 L538.45,428.23 L538.70,428.20 L538.95,428.16 L539.20,428.12 L539.45,428.07 L539.70,428.01 L539.95,427.93 L540.20,427.83 L540.45,427.68 L540.70,427.43 L540.95,426.94 L541.20,425.95 L541.45,424.01 L541.70,420.49 L541.95,414.76 L542.20,406.57 L542.45,396.49 L542.70,386.14 L542.95,378.09 L543.20,375.00 L543.45,378.09 L543.70,386.14 L543.95,396.49 L544.20,406.57 L544.45,414.76 L544.70,420.49 L544.95,424.01 L545.20,425.95 L545.45,426.94 L545.70,427.43 L545.95,427.68 L546.20,427.83 L546.45,427.93 L546.70,428.01 L546.95,428.07 L547.20,428.12 L547.45,428.16 L547.70,428.20 L547.95,428.23 L548.20,428.25" fill="none" stroke="url(#gshy2)" stroke-width="1.9" stroke-linejoin="round"/>
<path d="M455.20,430.64 L455.45,430.81 L455.70,431.01 L455.95,431.24 L456.20,431.50 L456.45,431.82 L456.70,432.20 L456.95,432.66 L457.20,433.22 L457.45,433.91 L457.70,434.77 L457.95,435.87 L458.20,437.27 L458.45,439.08 L458.70,441.45 L458.95,444.54 L459.20,448.49 L459.45,453.30 L459.70,458.50 L459.95,462.85 L460.20,464.60 L460.45,462.85 L460.70,458.50 L460.95,453.30 L461.20,448.49 L461.45,444.54 L461.70,441.45 L461.95,439.08 L462.20,437.27 L462.45,435.87 L462.70,434.77 L462.95,433.91 L463.20,433.22 L463.45,432.66 L463.70,432.20 L463.95,431.82 L464.20,431.50 L464.45,431.24 L464.70,431.01 L464.95,430.81 L465.20,430.64" fill="none" stroke="url(#gneg)" stroke-width="2.2"/>
<path d="M507.00,429.21 L507.25,429.23 L507.50,429.26 L507.75,429.29 L508.00,429.33 L508.25,429.37 L508.50,429.42 L508.75,429.49 L509.00,429.57 L509.25,429.67 L509.50,429.80 L509.75,429.97 L510.00,430.20 L510.25,430.52 L510.50,430.97 L510.75,431.63 L511.00,432.62 L511.25,434.12 L511.50,436.28 L511.75,438.76 L512.00,440.00 L512.25,438.76 L512.50,436.28 L512.75,434.12 L513.00,432.62 L513.25,431.63 L513.50,430.97 L513.75,430.52 L514.00,430.20 L514.25,429.97 L514.50,429.80 L514.75,429.67 L515.00,429.57 L515.25,429.49 L515.50,429.42 L515.75,429.37 L516.00,429.33 L516.25,429.29 L516.50,429.26 L516.75,429.23 L517.00,429.21" fill="none" stroke="#58b8e0" stroke-width="1.4"/>
<path d="M523.50,429.17 L523.75,429.19 L524.00,429.21 L524.25,429.23 L524.50,429.26 L524.75,429.30 L525.00,429.34 L525.25,429.40 L525.50,429.46 L525.75,429.55 L526.00,429.65 L526.25,429.80 L526.50,429.99 L526.75,430.26 L527.00,430.66 L527.25,431.25 L527.50,432.18 L527.75,433.68 L528.00,436.08 L528.25,439.22 L528.50,441.00 L528.75,439.22 L529.00,436.08 L529.25,433.68 L529.50,432.18 L529.75,431.25 L530.00,430.66 L530.25,430.26 L530.50,429.99 L530.75,429.80 L531.00,429.65 L531.25,429.55 L531.50,429.46 L531.75,429.40 L532.00,429.34 L532.25,429.30 L532.50,429.26 L532.75,429.23 L533.00,429.21 L533.25,429.19 L533.50,429.17" fill="none" stroke="#58c0e0" stroke-width="1.2"/>
<path d="M526.00,429.10 L526.25,429.11 L526.50,429.12 L526.75,429.14 L527.00,429.15 L527.25,429.17 L527.50,429.20 L527.75,429.23 L528.00,429.27 L528.25,429.32 L528.50,429.38 L528.75,429.46 L529.00,429.58 L529.25,429.74 L529.50,429.97 L529.75,430.31 L530.00,430.85 L530.25,431.73 L530.50,433.13 L530.75,434.96 L531.00,436.00 L531.25,434.96 L531.50,433.13 L531.75,431.73 L532.00,430.85 L532.25,430.31 L532.50,429.97 L532.75,429.74 L533.00,429.58 L533.25,429.46 L533.50,429.38 L533.75,429.32 L534.00,429.27 L534.25,429.23 L534.50,429.20 L534.75,429.17 L535.00,429.15 L535.25,429.14 L535.50,429.12 L535.75,429.11 L536.00,429.10" fill="none" stroke="#58c0e0" stroke-width="1.2"/>
<path d="M529.80,429.17 L530.05,429.19 L530.30,429.21 L530.55,429.23 L530.80,429.26 L531.05,429.30 L531.30,429.34 L531.55,429.40 L531.80,429.46 L532.05,429.55 L532.30,429.65 L532.55,429.80 L532.80,429.99 L533.05,430.26 L533.30,430.66 L533.55,431.25 L533.80,432.18 L534.05,433.68 L534.30,436.08 L534.55,439.22 L534.80,441.00 L535.05,439.22 L535.30,436.08 L535.55,433.68 L535.80,432.18 L536.05,431.25 L536.30,430.66 L536.55,430.26 L536.80,429.99 L537.05,429.80 L537.30,429.65 L537.55,429.55 L537.80,429.46 L538.05,429.40 L538.30,429.34 L538.55,429.30 L538.80,429.26 L539.05,429.23 L539.30,429.21 L539.55,429.19 L539.80,429.17" fill="none" stroke="#58b0e0" stroke-width="1.2"/>
<polyline points="84.2,582.3 84.8,582.5 85.4,582.9 86.0,583.4 86.6,582.5 87.2,582.5 87.8,582.7 88.4,583.5 89.0,582.5 89.6,583.5 90.2,583.4 90.8,582.5 91.4,583.2 92.0,583.0 92.6,583.0 93.2,583.9 93.8,582.4 94.4,582.3 95.0,583.8 95.6,582.9 96.2,582.6 96.8,582.8 97.4,582.9 98.0,583.8 98.6,582.6 99.2,582.6 99.8,583.2 100.4,583.2 101.0,583.8 101.6,583.6 102.2,582.9 102.8,582.6 103.4,583.6 104.0,583.9 104.6,582.3 105.2,583.5 105.8,583.7 106.4,583.3 107.0,582.6 107.6,583.6 108.2,583.5 108.8,582.6 109.4,583.3 110.0,582.7 110.6,582.4 111.2,582.8 111.8,582.8 112.4,582.9 113.0,583.3 113.6,583.6 114.2,583.8 114.8,583.9 115.4,583.9 116.0,583.6 116.6,582.8 117.2,582.6 117.8,583.3 118.4,583.2 119.0,583.4 119.6,582.4 120.2,582.6 120.8,583.8 121.4,583.3 122.0,583.4 122.6,582.5 123.2,582.9 123.8,583.8 124.4,583.3 125.0,583.9 125.6,582.6 126.2,583.0 126.8,583.6 127.4,583.0 128.0,583.6 128.6,583.2 129.2,582.5 129.8,582.5 130.4,583.9 131.0,582.5 131.6,582.6 132.2,582.8 132.8,583.4 133.4,583.7 134.0,583.1 134.6,583.1 135.2,583.6 135.8,582.7 136.4,582.9 137.0,583.3 137.6,583.3 138.2,582.4 138.8,582.5 139.4,582.5 140.0,583.5 140.6,583.4 141.2,583.9 141.8,583.5 142.4,582.7 143.0,583.5 143.6,583.9 144.2,582.9 144.8,582.3 145.4,582.9 146.0,582.8 146.6,582.6 147.2,582.4 147.8,582.5 148.4,583.7 149.0,582.4 149.6,583.3 150.2,582.6 150.8,582.6 151.4,583.6 152.0,582.8 152.6,582.6 153.2,583.0 153.8,583.4 154.4,583.1 155.0,583.7 155.6,582.9 156.2,583.1 156.8,583.4 157.4,583.0 158.0,583.4 158.6,583.0 159.2,582.5 159.8,582.5 160.4,583.6 161.0,583.5 161.6,583.8 162.2,583.4 162.8,583.2 163.4,582.6 164.0,583.7 164.6,582.5 165.2,583.0 165.8,582.5 166.4,582.9 167.0,582.8 167.6,583.0 168.2,583.4 168.8,583.2 169.4,582.7 170.0,583.5 170.6,583.5 171.2,583.6 171.8,582.4 172.4,583.3 173.0,583.7 173.6,582.7 174.2,582.6 174.8,583.6 175.4,582.9 176.0,582.9 176.6,583.6 177.2,582.9 177.8,582.6 178.4,582.6 179.0,582.9 179.6,583.4 180.2,582.9 180.8,583.5 181.4,582.4 182.0,582.7 182.6,583.3 183.2,583.1 183.8,583.1 184.4,583.8 185.0,582.7 185.6,582.6 186.2,582.4 186.8,583.1 187.4,582.8 188.0,583.1 188.6,582.3 189.2,582.3 189.8,582.9 190.4,583.5 191.0,582.8 191.6,583.8 192.2,583.2 192.8,582.9 193.4,583.5 194.0,582.7 194.6,583.3 195.2,583.7 195.8,583.2 196.4,582.8 197.0,582.5 197.6,583.2 198.2,582.6 198.8,582.9 199.4,583.2 200.0,583.8 200.6,583.4 201.2,583.1 201.8,583.7 202.4,582.8 203.0,582.9 203.6,583.4 204.2,583.2 204.8,582.7 205.4,583.0 206.0,583.6 206.6,582.7 207.2,583.4 207.8,582.4 208.4,583.8 209.0,583.4 209.6,582.8 210.2,583.9 210.8,583.6 211.4,582.4 212.0,582.7 212.6,583.1 213.2,583.9 213.8,582.5 214.4,582.4 215.0,582.8 215.6,582.4 216.2,583.0 216.8,583.2 217.4,583.0 218.0,582.5 218.6,582.3 219.2,583.6 219.8,583.0 220.4,583.1 221.0,583.1 221.6,583.4 222.2,583.7 222.8,583.6 223.4,583.5 224.0,582.8 224.6,582.6 225.2,582.4 225.8,583.7 226.4,582.4 227.0,583.2 227.6,583.8 228.2,582.8 228.8,582.9 229.4,583.0 230.0,583.8 230.6,583.4 231.2,583.6 231.8,582.4 232.4,583.5 233.0,583.0 233.6,582.9 234.2,583.6 234.8,583.5 235.4,583.8 236.0,583.5 236.6,583.8 237.2,583.0 237.8,583.2 238.4,583.6 239.0,583.0 239.6,582.5 240.2,583.2 240.8,583.7 241.4,583.7 242.0,582.5 242.6,582.9 243.2,582.7 243.8,582.8 244.4,583.8 245.0,583.0 245.6,582.8 246.2,582.7 246.8,583.0 247.4,583.4 248.0,582.8 248.6,582.6 249.2,582.7 249.8,582.7 250.4,583.7 251.0,582.6 251.6,583.5 252.2,582.5 252.8,583.6 253.4,582.7 254.0,583.5 254.6,583.0 255.2,582.4 255.8,582.5 256.4,583.6 257.0,583.2 257.6,583.1 258.2,582.9 258.8,583.4 259.4,583.1 260.0,582.4 260.6,583.3 261.2,582.8 261.8,583.7 262.4,583.2 263.0,583.5 263.6,582.5 264.2,583.4 264.8,583.3 265.4,583.7 266.0,583.7 266.6,583.2 267.2,583.2 267.8,583.5 268.4,582.7 269.0,583.2 269.6,583.6 270.2,583.3 270.8,583.2 271.4,583.7 272.0,583.9 272.6,582.7 273.2,582.4 273.8,583.3 274.4,582.5 275.0,583.9 275.6,583.1 276.2,583.2 276.8,583.6 277.4,583.7 278.0,582.5 278.6,583.0 279.2,582.6 279.8,583.0 280.4,582.5 281.0,583.7 281.6,582.9 282.2,582.9 282.8,583.7 283.4,583.6 284.0,582.8 284.6,583.1 285.2,583.4 285.8,582.6 286.4,582.5 287.0,583.7 287.6,582.6 288.2,583.4 288.8,583.5 289.4,583.2 290.0,582.9 290.6,583.7 291.2,583.6 291.8,582.4 292.4,583.7 293.0,583.3 293.6,582.8 294.2,582.6 294.8,582.5 295.4,583.6 296.0,583.7 296.6,582.9 297.2,582.6 297.8,582.4 298.4,583.0 299.0,582.8 299.6,582.4 300.2,582.8 300.8,583.6 301.4,582.4 302.0,582.9 302.6,583.1 303.2,582.6 303.8,582.4 304.4,582.4 305.0,582.5 305.6,583.9 306.2,583.7 306.8,583.4 307.4,583.7 308.0,582.8 308.6,582.7 309.2,583.7 309.8,583.3 310.4,583.8 311.0,582.9 311.6,583.0 312.2,583.4 312.8,583.7 313.4,582.6 314.0,582.7 314.6,582.3 315.2,583.2 315.8,583.8 316.4,583.2 317.0,582.5 317.6,583.4 318.2,583.3 318.8,582.5 319.4,583.8 320.0,583.4 320.6,583.1 321.2,582.9 321.8,582.6 322.4,583.0 323.0,582.9 323.6,582.7 324.2,583.3 324.8,583.4 325.4,583.8 326.0,583.8 326.6,583.0 327.2,583.4 327.8,582.9 328.4,583.0 329.0,583.2 329.6,583.9 330.2,582.4 330.8,583.0 331.4,582.8 332.0,583.6 332.6,583.8 333.2,583.1 333.8,582.4 334.4,583.3 335.0,583.2 335.6,583.4" fill="none" stroke="#111" stroke-width="1.8" stroke-linejoin="round" />
<path d="M112.9,583 L113.2,527 L113.6,527 L114.0,583" fill="none" stroke="#111" stroke-width="1.15"/>
<path d="M156.0,583 L156.4,527 L156.8,527 L157.2,583" fill="none" stroke="#111" stroke-width="1.15"/>
<path d="M163.3,583 L163.8,477.8 L164.1,477.8 L164.5,583" fill="none" stroke="#111" stroke-width="1.15"/>
<path d="M176.5,583 L176.9,467 L177.2,467 L177.7,583" fill="none" stroke="#111" stroke-width="1.15"/>
<path d="M188.1,583 L188.5,464.3 L188.8,464.3 L189.2,583" fill="none" stroke="#111" stroke-width="1.15"/>
<path d="M192.8,583 L193.2,466.2 L193.5,466.2 L193.9,583" fill="none" stroke="#111" stroke-width="1.15"/>
<path d="M221.9,583 L222.3,474.6 L222.7,474.6 L223.1,583" fill="none" stroke="#111" stroke-width="1.15"/>
<path d="M242.1,583 L242.5,502.6 L242.8,502.6 L243.2,583" fill="none" stroke="#111" stroke-width="1.15"/>
<line x1="109.1" y1="583.0" x2="109.1" y2="587.0" stroke="#111" stroke-width="1" />
<line x1="198.3" y1="583.0" x2="198.3" y2="587.0" stroke="#111" stroke-width="1" />
<line x1="288.5" y1="583.0" x2="288.5" y2="587.0" stroke="#111" stroke-width="1" />
<polyline points="371.3,585.1 371.8,585.1 372.3,585.1 372.8,585.1 373.3,585.1 373.8,585.1 374.3,585.1 374.8,585.1 375.3,585.1 375.8,585.1 376.3,585.1 376.8,585.1 377.3,585.1 377.8,585.1 378.3,585.1 378.8,585.1 379.3,585.1 379.8,585.1 380.3,585.1 380.8,585.1 381.3,585.1 381.8,585.1 382.3,585.1 382.8,585.1 383.3,585.1 383.8,585.1 384.3,585.1 384.8,585.1 385.3,585.1 385.8,585.1 386.3,585.1 386.8,585.1 387.3,585.1 387.8,585.1 388.3,585.1 388.8,585.1 389.3,585.1 389.8,585.1 390.3,585.1 390.8,585.1 391.3,585.1 391.8,585.1 392.3,585.1 392.8,585.1 393.3,585.1 393.8,585.1 394.3,585.1 394.8,585.1 395.3,585.1 395.8,585.1 396.3,585.1 396.8,585.1 397.3,585.1 397.8,585.1 398.3,585.1 398.8,585.1 399.3,585.1 399.8,585.1 400.3,585.1 400.8,585.1 401.3,585.1 401.8,585.1 402.3,585.1 402.8,585.1 403.3,585.1 403.8,585.1 404.3,585.1 404.8,585.1 405.3,585.1 405.8,585.1 406.3,585.1 406.8,585.1 407.3,585.1 407.8,585.1 408.3,585.1 408.8,585.1 409.3,585.1 409.8,585.1 410.3,585.1 410.8,585.1 411.3,585.1 411.8,585.1 412.3,585.1 412.8,585.1 413.3,585.1 413.8,585.1 414.3,585.1 414.8,585.1 415.3,585.1 415.8,585.1 416.3,585.1 416.8,585.1 417.3,585.1 417.8,585.1 418.3,585.1 418.8,585.1 419.3,585.1 419.8,585.1 420.3,585.1 420.8,585.1 421.3,585.1 421.8,585.1 422.3,585.1 422.8,585.1 423.3,585.1 423.8,585.1 424.3,585.1 424.8,585.1 425.3,585.1 425.8,585.1 426.3,585.1 426.8,585.1 427.3,585.1 427.8,585.1 428.3,585.1 428.8,585.1 429.3,585.1 429.8,585.1 430.3,585.1 430.8,585.1 431.3,585.1 431.8,585.1 432.3,585.1 432.8,585.1 433.3,585.1 433.8,585.1 434.3,585.1 434.8,585.1 435.3,585.1 435.8,585.1 436.3,585.1 436.8,585.1 437.3,585.1 437.8,585.1 438.3,585.1 438.8,585.1 439.3,585.1 439.8,585.1 440.3,585.1 440.8,585.1 441.3,585.1 441.8,585.1 442.3,585.1 442.8,585.1 443.3,585.1 443.8,585.1 444.3,585.1 444.8,585.1 445.3,585.1 445.8,585.1 446.3,585.1 446.8,585.1 447.3,585.1 447.8,585.1 448.3,585.1 448.8,585.1 449.3,585.1 449.8,585.1 450.3,585.1 450.8,585.1 451.3,585.1 451.8,585.1 452.3,585.1 452.8,585.1 453.3,585.1 453.8,585.1 454.3,585.1 454.8,585.1 455.3,585.1 455.8,585.1 456.3,585.1 456.8,585.1 457.3,585.1 457.8,585.1 458.3,585.1 458.8,585.1 459.3,585.1 459.8,585.1 460.3,585.1 460.8,585.1 461.3,585.1 461.8,585.1 462.3,585.1 462.8,585.1 463.3,585.1 463.8,585.1 464.3,585.1 464.8,585.1 465.3,585.1 465.8,585.1 466.3,585.1 466.8,585.1 467.3,585.1 467.8,585.1 468.3,585.1 468.8,585.1 469.3,585.1 469.8,585.1 470.3,585.1 470.8,585.1 471.3,585.1 471.8,585.1 472.3,585.1 472.8,585.1 473.3,585.1 473.8,585.1 474.3,585.1 474.8,585.1 475.3,585.1 475.8,585.1 476.3,585.1 476.8,585.1 477.3,585.1 477.8,585.1 478.3,585.1 478.8,585.1 479.3,585.1 479.8,585.1 480.3,585.1 480.8,585.1 481.3,585.1 481.8,585.1 482.3,585.1 482.8,585.1 483.3,585.1 483.8,585.1 484.3,585.1 484.8,585.1 485.3,585.1 485.8,585.1 486.3,585.1 486.8,585.1 487.3,585.1 487.8,585.1 488.3,585.1 488.8,585.1 489.3,585.1 489.8,585.1 490.3,585.1 490.8,585.1 491.3,585.1 491.8,585.1 492.3,585.1 492.8,585.1 493.3,585.1 493.8,585.1 494.3,585.1 494.8,585.1 495.3,585.1 495.8,585.1 496.3,585.0 496.8,585.0 497.3,585.0 497.8,585.0 498.3,585.0 498.8,584.9 499.3,584.9 499.8,584.7 500.3,584.5 500.8,583.6 501.3,545.5 501.8,525.1 502.3,582.6 502.8,582.4 503.3,521.5 503.8,543.1 504.3,583.5 504.8,584.4 505.3,584.7 505.8,584.8 506.3,584.9 506.8,585.0 507.3,585.0 507.8,585.0 508.3,585.0 508.8,585.0 509.3,585.1 509.8,585.1 510.3,585.1 510.8,585.1 511.3,585.1 511.8,585.0 512.3,585.0 512.8,585.0 513.3,585.0 513.8,584.9 514.3,584.8 514.8,584.7 515.3,584.2 515.8,567.8 516.3,525.4 516.8,581.1 517.3,575.2 517.8,510.1 518.3,575.2 518.8,584.3 519.3,584.6 519.8,584.8 520.3,584.9 520.8,585.0 521.3,585.0 521.8,585.0 522.3,585.0 522.8,585.0 523.3,585.1 523.8,585.1 524.3,585.1 524.8,585.1 525.3,585.1 525.8,585.1 526.3,585.1 526.8,585.1 527.3,585.0 527.8,585.0 528.3,585.0 528.8,585.0 529.3,585.0 529.8,585.0 530.3,584.9 530.8,584.9 531.3,584.8 531.8,584.6 532.3,584.3 532.8,583.6 533.3,567.4 533.8,451.3 534.3,567.4 534.8,583.6 535.3,584.2 535.8,574.2 536.3,503.0 536.8,574.2 537.3,536.2 537.8,578.6 538.3,584.6 538.8,584.8 539.3,584.9 539.8,584.7 540.3,584.3 540.8,569.4 541.3,531.0 541.8,579.6 542.3,502.8 542.8,561.3 543.3,566.8 543.8,557.4 544.3,583.9 544.8,584.8 545.3,584.9 545.8,585.0 546.3,585.0 546.8,585.0 547.3,585.0 547.8,585.0 548.3,585.1 548.8,585.1 549.3,585.1 549.8,585.1 550.3,585.1 550.8,585.1 551.3,585.1 551.8,585.1 552.3,585.1 552.8,585.1 553.3,585.1 553.8,585.1 554.3,585.1 554.8,585.1 555.3,585.1 555.8,585.1 556.3,585.1 556.8,585.1 557.3,585.1 557.8,585.1 558.3,585.1 558.8,585.1 559.3,585.1 559.8,585.1 560.3,585.1 560.8,585.1 561.3,585.1 561.8,585.1 562.3,585.1 562.8,585.1 563.3,585.1 563.8,585.1 564.3,585.1 564.8,585.1 565.3,585.1 565.8,585.1 566.3,585.1 566.8,585.1 567.3,585.1 567.8,585.1 568.3,585.1 568.8,585.1 569.3,585.1 569.8,585.1 570.3,585.1 570.8,585.1 571.3,585.1 571.8,585.1 572.3,585.1 572.8,585.1 573.3,585.1 573.8,585.1 574.3,585.1 574.8,585.1 575.3,585.1 575.8,585.1 576.3,585.1 576.8,585.1 577.3,585.1 577.8,585.1 578.3,585.1 578.8,585.1 579.3,585.1 579.8,585.1 580.3,585.1 580.8,585.1 581.3,585.1 581.8,585.1 582.3,585.1 582.8,585.1 583.3,585.1 583.8,585.1" fill="none" stroke="#111" stroke-width="1.5" stroke-linejoin="round" />
<line x1="717.6" y1="48.3" x2="717.6" y2="200.2" stroke="#444" stroke-width="1.2" />
<line x1="717.0" y1="200.2" x2="941.2" y2="200.2" stroke="#444" stroke-width="1.2" />
<line x1="717.6" y1="48.6" x2="720.5" y2="48.6" stroke="#444" stroke-width="1" />
<line x1="717.6" y1="66.9" x2="720.8" y2="66.9" stroke="#444" stroke-width="1" />
<line x1="717.6" y1="86.3" x2="720.8" y2="86.3" stroke="#444" stroke-width="1" />
<line x1="717.6" y1="105.1" x2="720.8" y2="105.1" stroke="#444" stroke-width="1" />
<line x1="717.6" y1="124.4" x2="720.8" y2="124.4" stroke="#444" stroke-width="1" />
<line x1="717.6" y1="144.3" x2="720.8" y2="144.3" stroke="#444" stroke-width="1" />
<line x1="717.6" y1="162.4" x2="720.8" y2="162.4" stroke="#444" stroke-width="1" />
<line x1="717.6" y1="181.6" x2="720.8" y2="181.6" stroke="#444" stroke-width="1" />
<line x1="749.5" y1="200.2" x2="749.5" y2="197.0" stroke="#444" stroke-width="1" />
<line x1="781.4" y1="200.2" x2="781.4" y2="197.0" stroke="#444" stroke-width="1" />
<line x1="813.3" y1="200.2" x2="813.3" y2="197.0" stroke="#444" stroke-width="1" />
<line x1="845.4" y1="200.2" x2="845.4" y2="197.0" stroke="#444" stroke-width="1" />
<line x1="878.1" y1="200.2" x2="878.1" y2="197.0" stroke="#444" stroke-width="1" />
<line x1="910.0" y1="200.2" x2="910.0" y2="197.0" stroke="#444" stroke-width="1" />
<line x1="941.0" y1="200.2" x2="941.0" y2="197.0" stroke="#444" stroke-width="1" />
<circle cx="735.0" cy="87.1" r="3.2" fill="#2f4ea6" stroke="#1c2340" stroke-width="0.7" />
<circle cx="744.6" cy="90.9" r="3.2" fill="#2f4ea6" stroke="#1c2340" stroke-width="0.7" />
<circle cx="753.1" cy="90.9" r="3.2" fill="#2f4ea6" stroke="#1c2340" stroke-width="0.7" />
<circle cx="769.1" cy="90.9" r="3.2" fill="#2f4ea6" stroke="#1c2340" stroke-width="0.7" />
<circle cx="755.2" cy="96.5" r="3.2" fill="#2f4ea6" stroke="#1c2340" stroke-width="0.7" />
<circle cx="757.9" cy="97.0" r="3.2" fill="#2f4ea6" stroke="#1c2340" stroke-width="0.7" />
<circle cx="763.8" cy="99.1" r="3.2" fill="#2f4ea6" stroke="#1c2340" stroke-width="0.7" />
<circle cx="769.1" cy="99.9" r="3.2" fill="#2f4ea6" stroke="#1c2340" stroke-width="0.7" />
<circle cx="758.4" cy="108.4" r="3.2" fill="#2f4ea6" stroke="#1c2340" stroke-width="0.7" />
<circle cx="766.4" cy="107.9" r="3.2" fill="#2f4ea6" stroke="#1c2340" stroke-width="0.7" />
<circle cx="769.1" cy="109.0" r="3.2" fill="#2f4ea6" stroke="#1c2340" stroke-width="0.7" />
<circle cx="771.2" cy="109.8" r="3.2" fill="#2f4ea6" stroke="#1c2340" stroke-width="0.7" />
<circle cx="777.1" cy="105.8" r="3.2" fill="#2f4ea6" stroke="#1c2340" stroke-width="0.7" />
<circle cx="774.4" cy="115.9" r="3.2" fill="#2f4ea6" stroke="#1c2340" stroke-width="0.7" />
<circle cx="786.6" cy="111.9" r="3.2" fill="#2f4ea6" stroke="#1c2340" stroke-width="0.7" />
<circle cx="795.7" cy="100.4" r="3.2" fill="#2f4ea6" stroke="#1c2340" stroke-width="0.7" />
<circle cx="803.7" cy="96.7" r="3.2" fill="#2f4ea6" stroke="#1c2340" stroke-width="0.7" />
<circle cx="813.2" cy="127.9" r="3.2" fill="#2f4ea6" stroke="#1c2340" stroke-width="0.7" />
<circle cx="819.9" cy="145.7" r="3.2" fill="#2f4ea6" stroke="#1c2340" stroke-width="0.7" />
<circle cx="853.7" cy="61.1" r="3.2" fill="#e8412a" stroke="#3a1a14" stroke-width="0.7" />
<circle cx="849.4" cy="71.2" r="3.2" fill="#e8412a" stroke="#3a1a14" stroke-width="0.7" />
<circle cx="834.2" cy="77.3" r="3.2" fill="#e8412a" stroke="#3a1a14" stroke-width="0.7" />
<circle cx="826.3" cy="83.2" r="3.2" fill="#e8412a" stroke="#3a1a14" stroke-width="0.7" />
<circle cx="844.9" cy="78.1" r="3.2" fill="#e8412a" stroke="#3a1a14" stroke-width="0.7" />
<circle cx="852.1" cy="80.2" r="3.2" fill="#e8412a" stroke="#3a1a14" stroke-width="0.7" />
<circle cx="858.7" cy="83.2" r="3.2" fill="#e8412a" stroke="#3a1a14" stroke-width="0.7" />
<circle cx="842.5" cy="87.7" r="3.2" fill="#e8412a" stroke="#3a1a14" stroke-width="0.7" />
<circle cx="843.6" cy="89.8" r="3.2" fill="#e8412a" stroke="#3a1a14" stroke-width="0.7" />
<circle cx="820.4" cy="93.3" r="3.2" fill="#e8412a" stroke="#3a1a14" stroke-width="0.7" />
<circle cx="834.5" cy="96.5" r="3.2" fill="#e8412a" stroke="#3a1a14" stroke-width="0.7" />
<circle cx="847.8" cy="94.6" r="3.2" fill="#e8412a" stroke="#3a1a14" stroke-width="0.7" />
<circle cx="846.8" cy="95.7" r="3.2" fill="#e8412a" stroke="#3a1a14" stroke-width="0.7" />
<circle cx="849.4" cy="94.1" r="3.2" fill="#e8412a" stroke="#3a1a14" stroke-width="0.7" />
<circle cx="866.4" cy="95.9" r="3.2" fill="#e8412a" stroke="#3a1a14" stroke-width="0.7" />
<circle cx="869.4" cy="133.2" r="3.2" fill="#e8412a" stroke="#3a1a14" stroke-width="0.7" />
<circle cx="907.1" cy="169.1" r="3.2" fill="#e8412a" stroke="#3a1a14" stroke-width="0.7" />
<circle cx="899.4" cy="177.1" r="3.2" fill="#e8412a" stroke="#3a1a14" stroke-width="0.7" />
<circle cx="922.8" cy="192.5" r="3.2" fill="#e8412a" stroke="#3a1a14" stroke-width="0.7" />
<rect x="907.9" y="57.8" width="111.5" height="61.3" fill="#fff" stroke="#333" stroke-width="1.2" />
<circle cx="926.5" cy="77.0" r="6.0" fill="#3a4fa2" stroke="none" stroke-width="0" />
<circle cx="925.2" cy="104.6" r="6.0" fill="#e84526" stroke="none" stroke-width="0" />
<line x1="1036.2" y1="65.0" x2="1036.2" y2="202.0" stroke="#444" stroke-width="1.2" />
<line x1="1036.2" y1="202.0" x2="1231.1" y2="202.0" stroke="#444" stroke-width="1.2" />
<line x1="1036.2" y1="65.2" x2="1039.5" y2="65.2" stroke="#444" stroke-width="1" />
<line x1="1036.2" y1="99.5" x2="1039.5" y2="99.5" stroke="#444" stroke-width="1" />
<line x1="1036.2" y1="133.5" x2="1039.5" y2="133.5" stroke="#444" stroke-width="1" />
<line x1="1036.2" y1="167.7" x2="1039.5" y2="167.7" stroke="#444" stroke-width="1" />
<line x1="1036.2" y1="198.2" x2="1039.5" y2="198.2" stroke="#444" stroke-width="1" />
<line x1="1062.0" y1="202.0" x2="1062.0" y2="198.5" stroke="#444" stroke-width="1" />
<line x1="1105.0" y1="202.0" x2="1105.0" y2="198.5" stroke="#444" stroke-width="1" />
<line x1="1147.7" y1="202.0" x2="1147.7" y2="198.5" stroke="#444" stroke-width="1" />
<line x1="1189.4" y1="202.0" x2="1189.4" y2="198.5" stroke="#444" stroke-width="1" />
<line x1="1231.0" y1="202.0" x2="1231.0" y2="198.5" stroke="#444" stroke-width="1" />
<line x1="1046.5" y1="206.0" x2="1052.5" y2="198.0" stroke="#444" stroke-width="1.1" />
<line x1="1050.5" y1="206.0" x2="1056.5" y2="198.0" stroke="#444" stroke-width="1.1" />
<line x1="1047.5" y1="202.0" x2="1055.0" y2="202.0" stroke="#fff" stroke-width="1.6" />
<ellipse cx="1140.5" cy="109.4" rx="3.6" ry="3.0" fill="#e8302c" stroke="#3a1a14" stroke-width="0.7"/>
<ellipse cx="1144.4" cy="117.3" rx="3.6" ry="3.0" fill="#e8302c" stroke="#3a1a14" stroke-width="0.7"/>
<ellipse cx="1151.8" cy="116.8" rx="3.6" ry="3.0" fill="#e8302c" stroke="#3a1a14" stroke-width="0.7"/>
<ellipse cx="1139.4" cy="120.0" rx="3.6" ry="3.0" fill="#e8302c" stroke="#3a1a14" stroke-width="0.7"/>
<ellipse cx="1150.5" cy="126.7" rx="3.6" ry="3.0" fill="#e8302c" stroke="#3a1a14" stroke-width="0.7"/>
<ellipse cx="1157.2" cy="127.4" rx="3.6" ry="3.0" fill="#e8302c" stroke="#3a1a14" stroke-width="0.7"/>
<ellipse cx="1159.5" cy="128.5" rx="3.6" ry="3.0" fill="#e8302c" stroke="#3a1a14" stroke-width="0.7"/>
<ellipse cx="1164.0" cy="133.7" rx="3.6" ry="3.0" fill="#e8302c" stroke="#3a1a14" stroke-width="0.7"/>
<ellipse cx="1166.2" cy="133.3" rx="3.6" ry="3.0" fill="#e8302c" stroke="#3a1a14" stroke-width="0.7"/>
<ellipse cx="1168.5" cy="127.2" rx="3.6" ry="3.0" fill="#e8302c" stroke="#3a1a14" stroke-width="0.7"/>
<ellipse cx="1178.4" cy="127.6" rx="3.6" ry="3.0" fill="#e8302c" stroke="#3a1a14" stroke-width="0.7"/>
<ellipse cx="1170.7" cy="119.7" rx="3.6" ry="3.0" fill="#e8302c" stroke="#3a1a14" stroke-width="0.7"/>
<ellipse cx="1173.0" cy="121.5" rx="3.6" ry="3.0" fill="#e8302c" stroke="#3a1a14" stroke-width="0.7"/>
<ellipse cx="1159.5" cy="139.4" rx="3.6" ry="3.0" fill="#e8302c" stroke="#3a1a14" stroke-width="0.7"/>
<ellipse cx="1166.7" cy="141.6" rx="3.6" ry="3.0" fill="#e8302c" stroke="#3a1a14" stroke-width="0.7"/>
<ellipse cx="1187.9" cy="148.1" rx="3.6" ry="3.0" fill="#e8302c" stroke="#3a1a14" stroke-width="0.7"/>
<ellipse cx="1185.6" cy="157.6" rx="3.6" ry="3.0" fill="#e8302c" stroke="#3a1a14" stroke-width="0.7"/>
<ellipse cx="1189.2" cy="156.0" rx="3.6" ry="3.0" fill="#e8302c" stroke="#3a1a14" stroke-width="0.7"/>
<ellipse cx="1206.3" cy="160.3" rx="3.6" ry="3.0" fill="#e8302c" stroke="#3a1a14" stroke-width="0.7"/>
<ellipse cx="1041.4" cy="69.0" rx="3.6" ry="3.0" fill="#2f4ea6" stroke="#1c2340" stroke-width="0.7"/>
<ellipse cx="1047.9" cy="84.8" rx="3.6" ry="3.0" fill="#2f4ea6" stroke="#1c2340" stroke-width="0.7"/>
<ellipse cx="1080.1" cy="106.5" rx="3.6" ry="3.0" fill="#2f4ea6" stroke="#1c2340" stroke-width="0.7"/>
<ellipse cx="1091.0" cy="104.9" rx="3.6" ry="3.0" fill="#2f4ea6" stroke="#1c2340" stroke-width="0.7"/>
<ellipse cx="1100.0" cy="114.8" rx="3.6" ry="3.0" fill="#2f4ea6" stroke="#1c2340" stroke-width="0.7"/>
<ellipse cx="1085.8" cy="119.7" rx="3.6" ry="3.0" fill="#2f4ea6" stroke="#1c2340" stroke-width="0.7"/>
<ellipse cx="1094.8" cy="120.9" rx="3.6" ry="3.0" fill="#2f4ea6" stroke="#1c2340" stroke-width="0.7"/>
<ellipse cx="1098.2" cy="122.0" rx="3.6" ry="3.0" fill="#2f4ea6" stroke="#1c2340" stroke-width="0.7"/>
<ellipse cx="1111.7" cy="124.9" rx="3.6" ry="3.0" fill="#2f4ea6" stroke="#1c2340" stroke-width="0.7"/>
<ellipse cx="1117.8" cy="129.9" rx="3.6" ry="3.0" fill="#2f4ea6" stroke="#1c2340" stroke-width="0.7"/>
<ellipse cx="1136.5" cy="148.1" rx="3.6" ry="3.0" fill="#2f4ea6" stroke="#1c2340" stroke-width="0.7"/>
<ellipse cx="1152.3" cy="145.0" rx="3.6" ry="3.0" fill="#2f4ea6" stroke="#1c2340" stroke-width="0.7"/>
<ellipse cx="1159.5" cy="148.4" rx="3.6" ry="3.0" fill="#2f4ea6" stroke="#1c2340" stroke-width="0.7"/>
<ellipse cx="1163.1" cy="140.0" rx="3.6" ry="3.0" fill="#2f4ea6" stroke="#1c2340" stroke-width="0.7"/>
<ellipse cx="1168.7" cy="160.8" rx="3.6" ry="3.0" fill="#2f4ea6" stroke="#1c2340" stroke-width="0.7"/>
<ellipse cx="1173.7" cy="165.0" rx="3.6" ry="3.0" fill="#2f4ea6" stroke="#1c2340" stroke-width="0.7"/>
<ellipse cx="1175.2" cy="167.7" rx="3.6" ry="3.0" fill="#2f4ea6" stroke="#1c2340" stroke-width="0.7"/>
<ellipse cx="1186.1" cy="165.9" rx="3.6" ry="3.0" fill="#2f4ea6" stroke="#1c2340" stroke-width="0.7"/>
<ellipse cx="1183.8" cy="173.2" rx="3.6" ry="3.0" fill="#2f4ea6" stroke="#1c2340" stroke-width="0.7"/>
<ellipse cx="1200.3" cy="174.1" rx="3.6" ry="3.0" fill="#2f4ea6" stroke="#1c2340" stroke-width="0.7"/>
<line x1="679.4" y1="235.7" x2="816.0" y2="201.5" stroke="#222" stroke-width="1.3" stroke-dasharray="7 6.5"/>
<line x1="819.6" y1="202.9" x2="962.0" y2="237.5" stroke="#222" stroke-width="1.3" stroke-dasharray="7 6.5"/>
<line x1="1012.5" y1="238.5" x2="1145.5" y2="202.7" stroke="#222" stroke-width="1.3" stroke-dasharray="7 6.5"/>
<line x1="1159.0" y1="204.0" x2="1253.7" y2="238.5" stroke="#222" stroke-width="1.3" stroke-dasharray="7 6.5"/>
<line x1="695.3" y1="377.5" x2="695.3" y2="322.7" stroke="#e85a24" stroke-width="2.4" />
<line x1="702.9" y1="377.5" x2="702.9" y2="372.0" stroke="#c8d840" stroke-width="2.0" />
<line x1="734.7" y1="377.5" x2="734.7" y2="373.0" stroke="#e0d840" stroke-width="2.0" />
<line x1="747.4" y1="377.5" x2="747.4" y2="366.0" stroke="#a8d050" stroke-width="2.0" />
<line x1="751.5" y1="377.5" x2="751.5" y2="357.3" stroke="#f0c030" stroke-width="2.0" />
<line x1="754.2" y1="377.5" x2="754.2" y2="368.0" stroke="#98d070" stroke-width="2.0" />
<line x1="757.7" y1="377.5" x2="757.7" y2="350.5" stroke="#f0b030" stroke-width="2.0" />
<line x1="761.2" y1="377.5" x2="761.2" y2="337.0" stroke="#f0a028" stroke-width="2.4" />
<line x1="765.0" y1="377.5" x2="765.0" y2="293.8" stroke="#a8201a" stroke-width="2.4" />
<line x1="767.1" y1="377.5" x2="767.1" y2="374.0" stroke="#c8d840" stroke-width="2.0" />
<line x1="775.8" y1="377.5" x2="775.8" y2="354.6" stroke="#e8e040" stroke-width="2.0" />
<line x1="780.1" y1="377.5" x2="780.1" y2="349.2" stroke="#f0a028" stroke-width="2.0" />
<line x1="793.6" y1="377.5" x2="793.6" y2="285.7" stroke="#a8201a" stroke-width="2.4" />
<line x1="799.5" y1="377.5" x2="799.5" y2="375.0" stroke="#a8d050" stroke-width="2.0" />
<line x1="805.0" y1="377.5" x2="805.0" y2="302.0" stroke="#ea5a24" stroke-width="2.4" />
<line x1="809.3" y1="377.5" x2="809.3" y2="249.3" stroke="#8a1a1a" stroke-width="2.4" />
<line x1="827.0" y1="377.5" x2="827.0" y2="248.0" stroke="#8a1a1a" stroke-width="2.4" />
<line x1="829.8" y1="377.5" x2="829.8" y2="316.8" stroke="#e03020" stroke-width="2.4" />
<line x1="850.0" y1="377.5" x2="850.0" y2="369.0" stroke="#e0d840" stroke-width="2.0" />
<line x1="855.0" y1="377.5" x2="855.0" y2="374.0" stroke="#a8d050" stroke-width="2.0" />
<line x1="858.0" y1="377.5" x2="858.0" y2="375.0" stroke="#a8d050" stroke-width="2.0" />
<line x1="867.0" y1="377.5" x2="867.0" y2="365.4" stroke="#a8d050" stroke-width="2.0" />
<line x1="870.3" y1="377.5" x2="870.3" y2="349.2" stroke="#e8e040" stroke-width="2.0" />
<line x1="874.0" y1="377.5" x2="874.0" y2="375.0" stroke="#a8d050" stroke-width="2.0" />
<line x1="877.0" y1="377.5" x2="877.0" y2="374.0" stroke="#a8d050" stroke-width="2.0" />
<line x1="886.5" y1="377.5" x2="886.5" y2="373.0" stroke="#a8d050" stroke-width="2.0" />
<line x1="889.7" y1="377.5" x2="889.7" y2="329.8" stroke="#e84a22" stroke-width="2.4" />
<line x1="896.5" y1="377.5" x2="896.5" y2="284.4" stroke="#e03020" stroke-width="2.4" />
<line x1="898.0" y1="377.5" x2="898.0" y2="338.4" stroke="#e8d040" stroke-width="2.4" />
<line x1="901.3" y1="377.5" x2="901.3" y2="372.0" stroke="#a8d050" stroke-width="2.0" />
<line x1="910.0" y1="377.5" x2="910.0" y2="321.4" stroke="#f07a26" stroke-width="2.4" />
<line x1="912.1" y1="377.5" x2="912.1" y2="353.2" stroke="#f08a28" stroke-width="2.0" />
<line x1="915.6" y1="377.5" x2="915.6" y2="368.0" stroke="#e8e040" stroke-width="2.0" />
<line x1="918.0" y1="377.5" x2="918.0" y2="349.7" stroke="#f07a26" stroke-width="2.0" />
<line x1="920.2" y1="377.5" x2="920.2" y2="363.0" stroke="#e8e040" stroke-width="2.0" />
<line x1="922.4" y1="377.5" x2="922.4" y2="327.6" stroke="#f07a26" stroke-width="2.4" />
<line x1="925.6" y1="377.5" x2="925.6" y2="363.0" stroke="#e8e040" stroke-width="2.0" />
<line x1="929.7" y1="377.5" x2="929.7" y2="363.0" stroke="#e8e040" stroke-width="2.0" />
<line x1="934.5" y1="377.5" x2="934.5" y2="366.0" stroke="#e8e040" stroke-width="2.0" />
<line x1="956.7" y1="377.5" x2="956.7" y2="369.0" stroke="#c8d840" stroke-width="2.0" />
<line x1="729.0" y1="377.5" x2="729.0" y2="395.6" stroke="#80c890" stroke-width="2.0" />
<line x1="730.4" y1="377.5" x2="730.4" y2="403.7" stroke="#80c890" stroke-width="2.0" />
<line x1="732.6" y1="377.5" x2="732.6" y2="406.4" stroke="#78c898" stroke-width="2.0" />
<line x1="734.0" y1="377.5" x2="734.0" y2="407.8" stroke="#80c890" stroke-width="2.0" />
<line x1="737.5" y1="377.5" x2="737.5" y2="403.7" stroke="#60c8e0" stroke-width="2.0" />
<line x1="739.3" y1="377.5" x2="739.3" y2="398.0" stroke="#70c8c0" stroke-width="2.0" />
<line x1="741.5" y1="377.5" x2="741.5" y2="410.5" stroke="#40a8e0" stroke-width="2.0" />
<line x1="750.1" y1="377.5" x2="750.1" y2="442.9" stroke="#3048a0" stroke-width="2.2" />
<line x1="752.0" y1="377.5" x2="752.0" y2="451.0" stroke="#3458b0" stroke-width="2.2" />
<line x1="754.7" y1="377.5" x2="754.7" y2="558.2" stroke="#3a70c8" stroke-width="2.2" />
<line x1="754.0" y1="377.5" x2="754.0" y2="491.5" stroke="#48b0e8" stroke-width="2.2" />
<line x1="756.4" y1="377.5" x2="756.4" y2="395.6" stroke="#60c8e0" stroke-width="2.0" />
<line x1="773.6" y1="377.5" x2="773.6" y2="387.5" stroke="#80c890" stroke-width="2.0" />
<line x1="778.0" y1="377.5" x2="778.0" y2="383.5" stroke="#90c880" stroke-width="2.0" />
<line x1="782.5" y1="377.5" x2="782.5" y2="389.0" stroke="#80c890" stroke-width="2.0" />
<line x1="784.4" y1="377.5" x2="784.4" y2="396.2" stroke="#88c888" stroke-width="2.0" />
<line x1="786.0" y1="377.5" x2="786.0" y2="389.0" stroke="#80c890" stroke-width="2.0" />
<line x1="806.8" y1="377.5" x2="806.8" y2="411.8" stroke="#58c0d8" stroke-width="2.0" />
<line x1="819.0" y1="377.5" x2="819.0" y2="381.0" stroke="#88c880" stroke-width="2.0" />
<line x1="834.4" y1="377.5" x2="834.4" y2="386.0" stroke="#88c880" stroke-width="2.0" />
<line x1="853.0" y1="377.5" x2="853.0" y2="396.2" stroke="#58c0d8" stroke-width="2.0" />
<line x1="886.0" y1="377.5" x2="886.0" y2="383.0" stroke="#88c880" stroke-width="2.0" />
<line x1="891.9" y1="377.5" x2="891.9" y2="447.0" stroke="#3a70c8" stroke-width="2.2" />
<line x1="897.3" y1="377.5" x2="897.3" y2="381.0" stroke="#88c880" stroke-width="2.0" />
<line x1="901.3" y1="377.5" x2="901.3" y2="385.0" stroke="#88c880" stroke-width="2.0" />
<line x1="935.9" y1="377.5" x2="935.9" y2="398.3" stroke="#70c0a0" stroke-width="2.0" />
<line x1="679.4" y1="377.5" x2="962.0" y2="377.5" stroke="#111" stroke-width="2.0" />
<line x1="679.4" y1="236.3" x2="962.0" y2="236.3" stroke="#555" stroke-width="1.1" />
<line x1="962.0" y1="236.3" x2="962.0" y2="585.2" stroke="#777" stroke-width="1.1" />
<line x1="679.4" y1="236.3" x2="679.4" y2="585.2" stroke="#333" stroke-width="1.3" />
<line x1="679.4" y1="585.2" x2="962.0" y2="585.2" stroke="#333" stroke-width="1.3" />
<line x1="728.0" y1="236.3" x2="728.0" y2="240.5" stroke="#555" stroke-width="1" />
<line x1="728.0" y1="585.2" x2="728.0" y2="581.0" stroke="#555" stroke-width="1" />
<line x1="795.8" y1="236.3" x2="795.8" y2="240.5" stroke="#555" stroke-width="1" />
<line x1="795.8" y1="585.2" x2="795.8" y2="581.0" stroke="#555" stroke-width="1" />
<line x1="863.8" y1="236.3" x2="863.8" y2="240.5" stroke="#555" stroke-width="1" />
<line x1="863.8" y1="585.2" x2="863.8" y2="581.0" stroke="#555" stroke-width="1" />
<line x1="931.6" y1="236.3" x2="931.6" y2="240.5" stroke="#555" stroke-width="1" />
<line x1="931.6" y1="585.2" x2="931.6" y2="581.0" stroke="#555" stroke-width="1" />
<line x1="962.0" y1="272.2" x2="958.0" y2="272.2" stroke="#777" stroke-width="1" />
<line x1="962.0" y1="307.3" x2="958.0" y2="307.3" stroke="#777" stroke-width="1" />
<line x1="962.0" y1="342.4" x2="958.0" y2="342.4" stroke="#777" stroke-width="1" />
<line x1="962.0" y1="412.4" x2="958.0" y2="412.4" stroke="#777" stroke-width="1" />
<line x1="962.0" y1="447.5" x2="958.0" y2="447.5" stroke="#777" stroke-width="1" />
<line x1="962.0" y1="482.9" x2="958.0" y2="482.9" stroke="#777" stroke-width="1" />
<line x1="962.0" y1="518.0" x2="958.0" y2="518.0" stroke="#777" stroke-width="1" />
<line x1="962.0" y1="553.0" x2="958.0" y2="553.0" stroke="#777" stroke-width="1" />
<line x1="705.6" y1="307.3" x2="699.5" y2="314.9" stroke="#000" stroke-width="1.4" />
<path d="M695.6,319.8 L698.5,308.7 L700.2,314.1 L705.8,314.5 Z" fill="#000"/>
<line x1="759.6" y1="259.6" x2="764.0" y2="286.3" stroke="#000" stroke-width="1.4" />
<path d="M765.0,292.5 L758.7,282.9 L763.8,285.2 L767.9,281.4 Z" fill="#000"/>
<line x1="759.6" y1="259.6" x2="787.5" y2="281.3" stroke="#000" stroke-width="1.4" />
<path d="M792.5,285.2 L781.3,282.5 L786.7,280.7 L787.1,275.0 Z" fill="#000"/>
<line x1="879.7" y1="252.0" x2="816.9" y2="250.0" stroke="#000" stroke-width="1.4" />
<path d="M810.6,249.8 L821.2,245.4 L817.9,250.0 L820.9,254.8 Z" fill="#000"/>
<line x1="879.7" y1="252.0" x2="836.1" y2="249.6" stroke="#000" stroke-width="1.4" />
<path d="M829.8,249.2 L840.5,245.1 L837.1,249.6 L840.0,254.5 Z" fill="#000"/>
<line x1="866.2" y1="292.5" x2="813.0" y2="301.7" stroke="#000" stroke-width="1.4" />
<path d="M806.8,302.8 L816.3,296.4 L814.0,301.5 L817.9,305.6 Z" fill="#000"/>
<line x1="866.2" y1="292.5" x2="889.1" y2="295.4" stroke="#000" stroke-width="1.4" />
<path d="M895.4,296.2 L884.4,299.5 L888.1,295.3 L885.6,290.2 Z" fill="#000"/>
<line x1="862.2" y1="316.3" x2="841.1" y2="324.0" stroke="#000" stroke-width="1.4" />
<path d="M835.2,326.2 L843.4,318.2 L842.1,323.7 L846.7,327.0 Z" fill="#000"/>
<line x1="862.2" y1="316.3" x2="868.7" y2="341.7" stroke="#000" stroke-width="1.4" />
<path d="M870.3,347.8 L863.1,338.8 L868.5,340.7 L872.2,336.5 Z" fill="#000"/>
<line x1="720.4" y1="492.8" x2="734.1" y2="419.4" stroke="#000" stroke-width="1.4" />
<path d="M735.3,413.2 L738.0,424.4 L733.9,420.4 L728.7,422.7 Z" fill="#000"/>
<line x1="720.4" y1="492.8" x2="748.0" y2="469.1" stroke="#000" stroke-width="1.4" />
<path d="M752.8,465.0 L747.9,475.4 L747.2,469.8 L741.8,468.3 Z" fill="#000"/>
<line x1="829.8" y1="467.2" x2="809.3" y2="419.0" stroke="#000" stroke-width="1.4" />
<path d="M806.8,413.2 L815.2,421.0 L809.7,420.0 L806.6,424.7 Z" fill="#000"/>
<line x1="829.8" y1="467.2" x2="852.0" y2="403.0" stroke="#000" stroke-width="1.4" />
<path d="M854.1,397.0 L855.1,408.5 L851.7,403.9 L846.2,405.4 Z" fill="#000"/>
<line x1="881.9" y1="501.7" x2="890.7" y2="458.5" stroke="#000" stroke-width="1.4" />
<path d="M891.9,452.3 L894.4,463.5 L890.4,459.5 L885.2,461.7 Z" fill="#000"/>
<line x1="927.0" y1="451.0" x2="934.8" y2="405.9" stroke="#000" stroke-width="1.4" />
<path d="M935.9,399.7 L938.7,410.8 L934.6,406.9 L929.5,409.2 Z" fill="#000"/>
<defs><linearGradient id="g1h" gradientUnits="userSpaceOnUse" x1="0" y1="268" x2="0" y2="525"><stop offset="0" stop-color="#78c070"/><stop offset="0.025" stop-color="#72c0a0"/><stop offset="0.045" stop-color="#5cc0dc"/><stop offset="0.09" stop-color="#4aa2dc"/><stop offset="0.16" stop-color="#4472c4"/><stop offset="0.3" stop-color="#4458b4"/><stop offset="1" stop-color="#3a48a8"/></linearGradient></defs>
<polyline points="1096.0,276.0 1098.0,285.0 1100.0,280.0 1102.0,300.0 1103.5,290.0 1105.0,330.0 1106.2,295.0 1108.0,340.0 1109.0,310.0 1110.6,430.0 1111.6,320.0 1112.3,400.0 1113.0,315.0 1114.6,420.0 1116.0,318.0 1117.5,350.0 1119.3,300.0 1120.8,340.0 1122.0,296.0 1124.5,290.0 1125.8,345.0 1127.2,300.0 1128.2,330.0 1129.0,300.0 1130.8,300.0 1132.0,282.0 1134.0,290.0 1135.0,320.0 1136.5,290.0 1137.5,350.0 1138.3,300.0 1140.0,280.0" fill="none" stroke="#7a8ed0" stroke-width="0.8" stroke-linejoin="round" />
<polyline points="1012.0,272.1 1012.5,272.3 1013.0,272.2 1013.5,272.4 1014.0,272.4 1014.5,272.0 1015.0,271.9 1015.5,272.6 1016.0,272.1 1016.5,272.1 1017.0,272.7 1017.5,272.3 1018.0,272.6 1018.5,272.3 1019.0,272.4 1019.5,272.0 1020.0,272.4 1020.5,272.6 1021.0,272.4 1021.5,272.5 1022.0,272.5 1022.5,272.0 1023.0,272.5 1023.5,272.4 1024.0,272.2 1024.5,272.0 1025.0,272.6 1025.5,272.3 1026.0,272.5 1026.5,272.7 1027.0,272.5 1027.5,272.7 1028.0,272.3 1028.5,272.6 1029.0,272.3 1029.5,272.7 1030.0,272.7 1030.5,272.0 1031.0,272.1 1031.5,272.1 1032.0,272.7 1032.5,272.3 1033.0,272.5 1033.5,272.2 1034.0,272.4 1034.5,272.3 1035.0,272.3 1035.5,272.5 1036.0,272.5 1036.5,272.7 1037.0,272.5 1037.5,272.7 1038.0,272.7 1038.5,272.8 1039.0,272.5 1039.5,272.1 1040.0,272.7 1040.5,272.8 1041.1,272.8 1041.7,272.5 1042.2,272.7 1042.8,283.1 1043.4,293.7 1044.0,283.2 1044.6,272.6 1045.1,273.1 1045.6,272.9 1046.1,272.7 1046.6,272.5 1047.1,273.2 1047.6,273.3 1048.1,272.6 1048.6,273.2 1049.1,272.9 1049.6,272.7 1050.2,297.4 1050.8,321.9 1051.4,297.5 1052.0,273.0 1052.5,273.4 1053.0,273.4 1053.5,272.7 1054.0,273.1 1054.5,272.6 1055.0,273.1 1055.5,272.8 1056.0,273.2 1056.5,273.2 1057.0,272.8 1057.5,273.2 1058.0,272.6 1058.5,272.4 1059.0,272.8 1059.5,272.3 1060.0,272.4 1060.5,272.5 1061.0,272.7 1061.5,272.4 1062.1,272.3 1062.6,273.0 1063.1,272.5 1063.6,273.1 1064.1,273.0 1064.6,272.6 1065.1,272.7 1065.7,272.8 1066.2,272.9 1066.7,272.9 1067.2,272.8 1067.7,272.9 1068.2,273.2 1068.7,272.8 1069.3,272.8 1069.8,273.0 1070.3,272.7 1070.8,272.7 1071.3,273.3 1071.8,272.9 1072.3,273.0 1072.9,272.6 1073.4,272.9 1073.9,273.0 1074.4,272.6 1075.0,299.1 1075.6,325.3 1076.2,299.2 1076.8,273.3 1077.3,273.3 1077.9,272.8 1078.4,273.2 1078.9,273.0 1079.5,273.2 1080.0,272.9 1080.5,273.7 1081.0,274.2 1081.5,274.1 1082.0,274.6 1082.5,275.5 1083.0,276.0 1083.5,275.4 1084.0,274.9 1084.5,273.6 1085.0,273.0 1085.5,273.7 1086.0,274.2 1086.5,274.9 1087.0,275.7 1087.5,276.3 1088.0,277.0 1088.5,276.2 1089.0,275.5 1089.5,274.6 1090.0,273.9 1090.5,275.1 1091.0,276.0 1091.5,277.0 1092.0,278.0 1092.5,277.1 1093.0,276.2 1093.5,275.2 1094.0,274.4 1094.5,275.7 1095.1,276.4 1095.6,277.3 1096.2,278.3 1096.7,279.2 1097.2,281.0 1097.7,282.9 1098.2,284.7 1098.7,286.6 1099.2,288.4 1099.8,284.5 1100.3,280.6 1100.9,276.7 1101.4,283.4 1101.9,290.1 1102.4,296.8 1102.9,303.5 1103.4,310.2 1104.2,285.9 1104.8,300.5 1105.5,315.2 1106.1,300.1 1106.7,285.1 1107.6,321.9 1108.2,310.9 1108.7,300.0 1109.2,322.5 1109.7,345.0 1110.3,306.0 1110.8,414.0 1111.4,522.0 1112.0,330.0 1112.6,308.5 1113.5,398.0 1114.2,330.0 1114.8,381.8 1115.5,433.6 1116.0,376.8 1116.5,320.0 1117.2,360.0 1118.0,301.0 1118.9,380.0 1119.7,310.0 1120.5,296.0 1121.0,329.5 1121.5,363.0 1122.3,300.0 1122.8,294.7 1123.4,289.5 1123.9,284.2 1124.5,284.2 1125.1,284.2 1126.0,330.0 1126.8,356.0 1127.7,340.0 1128.5,306.8 1129.0,375.5 1129.5,444.2 1130.3,320.0 1130.8,298.8 1131.4,277.6 1131.9,277.6 1132.5,277.6 1133.0,277.6 1133.5,277.6 1134.0,288.8 1134.5,300.0 1135.0,317.2 1135.6,334.5 1136.2,300.0 1136.9,382.4 1137.6,320.0 1138.5,292.6 1139.1,287.6 1139.6,282.6 1140.2,277.6 1141.0,273.8 1141.5,274.0 1142.0,273.8 1142.5,273.1 1143.0,272.8 1143.5,273.4 1144.0,273.1 1144.5,273.2 1145.0,273.5 1145.5,273.9 1146.0,273.6 1146.5,273.9 1147.0,274.1 1147.5,274.3 1148.0,273.8 1148.5,273.9 1149.0,273.1 1149.5,273.1 1150.0,273.1 1150.5,273.3 1151.0,272.9 1151.5,272.7 1152.0,272.6 1152.5,272.9 1153.0,272.6 1153.5,273.0 1154.0,273.0 1154.5,272.5 1155.0,272.5 1155.5,272.9 1156.0,272.8 1156.5,272.9 1157.0,272.5 1157.5,271.3 1158.0,270.3 1158.5,271.8 1159.0,272.4 1159.5,272.6 1160.0,272.8 1160.5,272.9 1161.0,273.0 1161.5,273.5 1162.0,273.0 1162.5,273.0 1163.0,273.9 1163.6,274.6 1164.2,275.6 1164.8,276.0 1165.3,280.3 1165.8,284.5 1166.3,288.8 1166.9,281.9 1167.6,274.9 1168.1,275.7 1168.7,275.7 1169.2,276.0 1169.7,277.7 1170.3,279.5 1170.8,281.2 1171.5,277.9 1172.2,274.8 1172.7,276.7 1173.2,278.9 1173.8,281.2 1174.3,283.4 1174.8,280.3 1175.3,277.1 1175.8,273.8 1176.3,274.3 1176.9,274.5 1177.5,274.5 1178.0,274.5 1178.5,274.1 1179.0,273.9 1179.5,273.5 1180.0,273.2 1180.5,274.1 1181.0,274.3 1181.5,275.2 1182.0,275.5 1182.5,276.0 1183.1,278.0 1183.6,280.1 1184.2,282.1 1185.1,277.0 1186.0,279.8 1186.7,277.4 1187.3,274.6 1187.9,278.1 1188.4,281.2 1189.0,284.3 1189.5,281.2 1190.0,278.1 1190.5,275.3 1191.0,274.9 1191.5,274.8 1192.1,274.6 1192.6,274.3 1193.3,285.1 1194.0,296.3 1194.7,285.1 1195.4,274.1 1195.9,273.5 1196.4,274.0 1197.0,273.4 1197.5,273.4 1198.0,273.6 1198.5,273.7 1199.0,273.8 1199.5,274.5 1200.0,274.4 1200.5,274.4 1201.1,274.6 1201.8,275.4 1202.4,275.4 1202.9,275.0 1203.5,274.0 1204.0,273.3 1204.5,273.5 1205.0,273.8 1205.5,273.2 1206.0,273.7 1206.5,273.8 1207.0,273.7 1207.5,273.8 1208.0,273.1 1208.5,274.1 1209.0,274.8 1209.5,274.6 1210.0,275.5 1210.5,276.0 1211.0,303.0 1211.6,330.0 1212.3,280.0 1212.9,344.4 1213.8,276.0 1214.4,275.2 1214.9,274.5 1215.5,274.0 1216.1,277.0 1216.6,280.0 1217.2,283.0 1217.8,280.0 1218.4,277.0 1219.3,281.0 1219.8,279.0 1220.3,277.0 1220.8,278.0 1221.3,279.0 1221.9,277.7 1222.4,276.3 1223.0,274.9 1223.5,274.7 1224.0,274.7 1224.5,273.9 1225.0,273.6 1225.5,273.5 1226.0,273.2 1226.5,273.1 1227.0,273.8 1227.5,273.6 1228.0,272.9 1228.5,273.2 1229.0,273.0 1229.5,272.9 1230.0,272.9 1230.5,273.3 1231.0,273.4 1231.5,273.4 1232.0,273.4 1232.5,273.7 1233.0,273.7 1233.5,274.3 1234.0,274.7 1234.5,274.7 1235.0,274.7 1235.5,274.4 1236.0,274.1 1236.5,274.0 1237.0,273.7 1237.5,273.2 1238.0,273.4 1238.5,273.1 1239.0,272.8 1239.5,272.6 1240.0,272.5 1240.5,272.7 1241.0,272.4 1241.5,272.6 1242.0,272.4 1242.5,272.3 1243.0,272.5 1243.5,272.6 1244.0,272.1 1244.5,272.4 1245.0,272.4 1245.5,272.7 1246.0,272.8 1246.5,272.3 1247.0,272.7 1247.5,272.6 1248.0,272.2 1248.5,272.3 1249.0,272.1 1249.5,272.6 1250.0,272.5 1250.5,272.7 1251.0,272.6 1251.5,272.5 1252.0,272.5 1252.5,272.4 1253.0,272.0 1253.5,272.4 1254.0,272.3" fill="none" stroke="url(#g1h)" stroke-width="1.0" stroke-linejoin="round" />
<rect x="1011.9" y="238.1" width="242.2" height="348.0" fill="none" stroke="#666" stroke-width="1.1" />
<line x1="1018.0" y1="238.1" x2="1018.0" y2="242.3" stroke="#666" stroke-width="1" />
<line x1="1018.0" y1="586.1" x2="1018.0" y2="582.0" stroke="#666" stroke-width="1" />
<line x1="1061.7" y1="238.1" x2="1061.7" y2="242.3" stroke="#666" stroke-width="1" />
<line x1="1061.7" y1="586.1" x2="1061.7" y2="582.0" stroke="#666" stroke-width="1" />
<line x1="1104.5" y1="238.1" x2="1104.5" y2="242.3" stroke="#666" stroke-width="1" />
<line x1="1104.5" y1="586.1" x2="1104.5" y2="582.0" stroke="#666" stroke-width="1" />
<line x1="1147.7" y1="238.1" x2="1147.7" y2="242.3" stroke="#666" stroke-width="1" />
<line x1="1147.7" y1="586.1" x2="1147.7" y2="582.0" stroke="#666" stroke-width="1" />
<line x1="1190.6" y1="238.1" x2="1190.6" y2="242.3" stroke="#666" stroke-width="1" />
<line x1="1190.6" y1="586.1" x2="1190.6" y2="582.0" stroke="#666" stroke-width="1" />
<line x1="1233.4" y1="238.1" x2="1233.4" y2="242.3" stroke="#666" stroke-width="1" />
<line x1="1233.4" y1="586.1" x2="1233.4" y2="582.0" stroke="#666" stroke-width="1" />
<line x1="1011.9" y1="307.9" x2="1016.0" y2="307.9" stroke="#666" stroke-width="1" />
<line x1="1011.9" y1="342.6" x2="1016.0" y2="342.6" stroke="#666" stroke-width="1" />
<line x1="1011.9" y1="377.8" x2="1016.0" y2="377.8" stroke="#666" stroke-width="1" />
<line x1="1011.9" y1="412.7" x2="1016.0" y2="412.7" stroke="#666" stroke-width="1" />
<line x1="1011.9" y1="448.5" x2="1016.0" y2="448.5" stroke="#666" stroke-width="1" />
<line x1="1011.9" y1="483.6" x2="1016.0" y2="483.6" stroke="#666" stroke-width="1" />
<line x1="1011.9" y1="518.9" x2="1016.0" y2="518.9" stroke="#666" stroke-width="1" />
<line x1="1011.9" y1="553.8" x2="1016.0" y2="553.8" stroke="#666" stroke-width="1" />
<line x1="1254.1" y1="282.5" x2="1250.0" y2="282.5" stroke="#666" stroke-width="1" />
<line x1="1254.1" y1="326.0" x2="1250.0" y2="326.0" stroke="#666" stroke-width="1" />
<line x1="1254.1" y1="369.7" x2="1250.0" y2="369.7" stroke="#666" stroke-width="1" />
<line x1="1254.1" y1="413.2" x2="1250.0" y2="413.2" stroke="#666" stroke-width="1" />
<line x1="1254.1" y1="457.0" x2="1250.0" y2="457.0" stroke="#666" stroke-width="1" />
<line x1="1254.1" y1="501.0" x2="1250.0" y2="501.0" stroke="#666" stroke-width="1" />
<line x1="1254.1" y1="545.1" x2="1250.0" y2="545.1" stroke="#666" stroke-width="1" />
<line x1="1071.6" y1="365.8" x2="1045.9" y2="300.8" stroke="#000" stroke-width="1.4" />
<path d="M1043.6,294.9 L1051.8,302.9 L1046.3,301.7 L1043.1,306.4 Z" fill="#000"/>
<line x1="1071.6" y1="365.8" x2="1055.5" y2="327.7" stroke="#000" stroke-width="1.4" />
<path d="M1053.1,321.9 L1061.5,329.8 L1056.0,328.7 L1052.8,333.4 Z" fill="#000"/>
<line x1="1071.6" y1="365.8" x2="1075.4" y2="332.7" stroke="#000" stroke-width="1.4" />
<path d="M1076.1,326.4 L1079.6,337.4 L1075.3,333.7 L1070.2,336.3 Z" fill="#000"/>
<line x1="1204.1" y1="396.3" x2="1210.0" y2="351.8" stroke="#000" stroke-width="1.4" />
<path d="M1210.8,345.6 L1214.1,356.6 L1209.8,352.9 L1204.8,355.4 Z" fill="#000"/>
<line x1="1138.1" y1="479.3" x2="1131.1" y2="450.3" stroke="#000" stroke-width="1.4" />
<path d="M1129.6,444.2 L1136.6,453.3 L1131.3,451.3 L1127.5,455.5 Z" fill="#000"/>
<line x1="1138.1" y1="479.3" x2="1137.2" y2="389.1" stroke="#000" stroke-width="1.4" />
<path d="M1137.1,382.8 L1141.9,393.3 L1137.2,390.1 L1132.5,393.3 Z" fill="#000"/>
<line x1="16.0" y1="1016.3" x2="532.4" y2="1016.3" stroke="#555" stroke-width="1.3" />
<line x1="24.9" y1="1016.3" x2="24.9" y2="1021.5" stroke="#555" stroke-width="1.1" />
<line x1="75.6" y1="1016.3" x2="75.6" y2="1018.8" stroke="#555" stroke-width="1.1" />
<line x1="126.6" y1="1016.3" x2="126.6" y2="1018.8" stroke="#555" stroke-width="1.1" />
<line x1="177.3" y1="1016.3" x2="177.3" y2="1018.8" stroke="#555" stroke-width="1.1" />
<line x1="228.8" y1="1016.3" x2="228.8" y2="1021.5" stroke="#555" stroke-width="1.1" />
<line x1="279.7" y1="1016.3" x2="279.7" y2="1018.8" stroke="#555" stroke-width="1.1" />
<line x1="330.1" y1="1016.3" x2="330.1" y2="1018.8" stroke="#555" stroke-width="1.1" />
<line x1="381.7" y1="1016.3" x2="381.7" y2="1018.8" stroke="#555" stroke-width="1.1" />
<line x1="432.4" y1="1016.3" x2="432.4" y2="1021.5" stroke="#555" stroke-width="1.1" />
<line x1="484.0" y1="1016.3" x2="484.0" y2="1018.8" stroke="#555" stroke-width="1.1" />
<polyline points="16.8,1003.8 17.3,1003.7 17.8,1003.4 18.3,1004.2 18.9,1003.3 19.4,1003.8 19.9,1004.2 20.4,1003.4 20.9,1003.8 21.4,1003.9 21.9,1003.3 22.5,1003.6 23.0,1003.9 23.5,1003.7 24.0,1003.9 24.5,1003.4 25.0,1003.4 25.6,1003.3 26.1,1003.7 26.6,1004.1 27.1,1003.8 27.6,1003.9 28.1,1003.5 28.6,1003.9 29.2,1003.3 29.7,1003.4 30.2,1003.8 30.7,1003.9 31.3,1002.4 31.8,1000.9 32.4,999.9 32.9,998.7 33.5,997.6 34.0,997.0 34.6,995.3 35.1,994.8 35.6,991.1 36.1,986.6 36.6,983.2 37.1,979.6 37.6,975.4 38.1,969.1 38.6,962.9 39.1,955.3 39.6,949.1 40.1,951.4 40.7,954.5 41.3,957.6 41.8,959.6 42.3,940.8 42.9,922.2 43.4,904.0 44.0,884.9 44.5,866.3 45.1,883.3 45.7,900.4 46.3,916.4 46.8,900.4 47.4,884.6 47.9,868.1 48.5,852.6 49.0,836.2 49.6,864.3 50.2,892.4 50.7,919.2 51.3,947.4 51.9,975.1 52.4,965.4 53.0,956.4 53.6,947.9 54.1,938.6 54.6,921.2 55.2,905.2 55.8,888.8 56.3,871.5 56.9,855.3 57.4,838.2 58.0,854.7 58.6,871.3 59.1,853.6 59.7,836.2 60.3,818.0 60.8,800.6 61.4,826.7 62.0,852.1 62.5,877.5 63.1,903.0 63.6,925.4 64.2,946.7 64.8,967.9 65.3,990.4 65.9,986.4 66.4,982.9 67.0,979.2 67.6,975.8 68.1,967.2 68.7,958.5 69.2,950.5 69.8,941.5 70.3,933.7 70.8,924.4 71.4,916.7 71.9,908.2 72.5,915.1 73.0,922.5 73.6,929.3 74.2,937.0 74.7,943.9 75.3,950.9 75.8,945.7 76.4,939.2 77.0,933.2 77.5,927.7 78.1,914.6 78.6,902.3 79.2,889.2 79.8,877.2 80.3,864.0 80.9,851.2 81.4,833.5 82.0,814.0 82.5,796.1 83.1,777.5 83.6,777.1 84.2,776.5 84.8,776.6 85.3,776.7 85.9,806.0 86.5,835.3 87.1,864.8 87.6,885.2 88.2,906.0 88.7,927.4 89.2,941.1 89.8,955.1 90.3,969.6 90.9,983.8 91.4,982.8 92.0,982.8 92.5,982.6 93.0,982.2 93.5,981.4 94.1,981.5 94.6,980.4 95.1,980.4 95.6,979.8 96.1,979.3 96.6,978.3 97.1,977.3 97.6,976.7 98.2,975.0 98.8,972.5 99.4,970.8 99.9,972.8 100.5,976.1 101.0,978.2 101.6,980.6 102.1,983.3 102.6,985.4 103.2,987.2 103.8,988.8 104.3,990.4 104.8,992.4 105.4,994.6 106.0,996.0 106.5,998.2 107.1,996.7 107.6,997.1 108.2,996.4 108.8,995.6 109.3,995.0 109.9,994.4 110.4,992.7 111.0,989.7 111.5,988.1 112.1,985.8 112.6,983.4 113.2,981.7 113.8,979.5 114.3,976.7 114.8,969.9 115.4,962.1 115.9,954.7 116.5,947.3 117.0,939.3 117.6,932.3 118.2,918.5 118.8,905.3 119.3,891.0 119.9,877.9 120.4,879.5 121.0,881.0 121.5,882.9 122.1,883.7 122.6,898.9 123.2,913.6 123.7,928.4 124.3,942.9 124.8,957.2 125.4,940.5 126.0,924.0 126.5,906.7 127.1,889.7 127.7,873.1 128.3,857.3 129.0,841.5 129.6,825.1 130.2,813.7 130.7,801.1 131.2,789.4 131.8,776.5 132.3,777.5 132.9,777.1 133.4,777.5 134.0,777.5 134.5,777.4 135.1,776.6 135.6,808.4 136.1,839.8 136.6,871.9 137.1,902.8 137.6,916.4 138.1,929.8 138.6,943.3 139.1,957.6 139.6,971.1 140.1,960.9 140.6,951.7 141.1,941.8 141.6,932.3 142.2,917.4 142.8,902.9 143.4,887.7 144.0,873.0 144.5,860.6 145.1,847.6 145.6,835.2 146.2,816.3 146.8,796.0 147.4,776.6 148.0,777.3 148.5,776.6 149.0,776.8 149.6,777.4 150.1,803.8 150.6,824.7 151.1,862.7 151.6,888.5 152.1,902.8 152.6,917.6 153.1,932.0 153.7,946.1 154.2,960.5 154.7,974.8 155.2,989.1 155.7,985.1 156.3,981.1 156.8,976.2 157.4,972.5 157.9,968.4 158.5,964.7 159.0,960.6 159.5,965.3 160.0,970.5 160.5,974.9 161.0,979.5 161.5,984.4 162.0,989.4 162.5,994.3 163.0,999.1 163.6,996.9 164.1,994.6 164.7,992.7 165.2,990.6 165.8,988.3 166.3,986.6 166.8,984.2 167.4,982.7 167.9,974.6 168.4,966.0 168.9,958.5 169.5,950.1 170.0,942.2 170.5,934.3 171.0,926.4 171.5,918.5 172.0,922.1 172.5,925.3 173.1,929.4 173.6,932.9 174.1,936.3 174.6,929.6 175.1,922.2 175.6,915.4 176.2,907.6 176.7,900.8 177.2,893.2 177.7,885.5 178.2,878.9 178.8,876.4 179.3,874.6 179.8,872.0 180.4,869.9 180.9,870.8 181.4,869.9 181.9,870.0 182.5,877.0 183.0,883.8 183.6,891.5 184.2,898.5 184.7,905.1 185.3,911.8 185.8,912.1 186.4,911.5 186.9,911.0 187.5,911.4 188.0,910.9 188.6,910.6 189.2,913.5 189.8,916.5 190.3,919.1 190.9,922.4 191.5,936.1 192.0,949.3 192.5,962.3 193.1,976.4 193.6,978.4 194.1,981.5 194.6,984.5 195.1,987.0 195.6,989.9 196.1,992.4 196.6,994.5 197.1,997.0 197.6,1000.0 198.1,1000.4 198.6,1000.2 199.2,1000.5 199.7,1001.1 200.2,1000.9 200.7,1001.2 201.2,1001.3 201.8,1001.9 202.3,1001.3 202.8,1001.7 203.3,1002.5 203.8,1002.6 204.4,1002.2 204.9,1002.5 205.4,1002.8 205.9,1003.1 206.4,1003.3 206.9,1002.6 207.5,1002.5 208.0,1002.9 208.5,1002.6 209.0,1002.9 209.5,1003.0 210.0,1002.8 210.5,1002.5 211.1,1002.2 211.6,1001.7 212.1,1002.4 212.6,1001.9 213.1,1001.3 213.6,1000.8 214.1,1000.5 214.6,999.4 215.1,999.1 215.7,998.5 216.2,997.0 216.7,996.6 217.2,996.5 217.7,995.7 218.2,995.2 218.7,993.8 219.3,990.1 219.8,986.5 220.4,982.1 221.0,978.2 221.5,974.5 222.1,969.7 222.7,959.1 223.2,949.5 223.7,938.8 224.3,928.0 224.9,952.0 225.6,974.8 226.1,987.5 226.6,1000.6 227.1,1000.6 227.6,1001.3 228.1,1001.9 228.6,1001.9 229.1,1002.7 229.6,1002.0 230.1,1002.5 230.6,1002.7 231.1,1003.4 231.6,1003.3 232.1,1004.1 232.6,1004.2 233.1,1004.3 233.6,1004.7 234.1,1004.7 234.6,1004.9 235.1,1004.2 235.6,1004.5 236.1,1005.1 236.6,1004.6 237.1,1004.6 237.6,1004.9 238.1,1004.6 238.6,1005.4 239.1,1005.2 239.6,1004.8 240.1,1005.7 240.6,1005.3 241.1,1005.0 241.6,1005.4 242.1,1005.7 242.6,1005.0 243.1,1004.7 243.6,1004.8 244.1,1004.7 244.6,1005.1 245.1,1004.9 245.6,1005.4 246.1,1004.7 246.6,1004.5 247.1,1004.9 247.6,1004.6 248.1,1004.7 248.6,1004.6 249.1,1004.6 249.6,1005.0 250.1,1005.3 250.6,1004.7 251.1,1004.8 251.6,1004.3 252.1,1004.7 252.6,1004.2 253.1,1003.5 253.6,1004.1 254.1,1003.4 254.6,1003.1 255.1,1002.9 255.6,1003.6 256.1,1003.3 256.6,1002.8 257.1,1002.8 257.6,1002.8 258.1,1002.0 258.6,1002.5 259.1,1002.2 259.6,1002.0 260.1,1000.8 260.6,1001.0 261.1,1000.6 261.6,1000.5 262.1,999.7 262.6,999.7 263.1,1000.1 263.6,999.7 264.1,1000.1 264.6,1000.6 265.1,1000.0 265.6,1001.1 266.1,1000.6 266.6,1001.0 267.1,1000.5 267.6,1000.8 268.1,1000.3 268.6,1000.2 269.1,999.4 269.6,999.9 270.1,999.6 270.6,999.2 271.1,998.7 271.6,998.7 272.1,998.8 272.6,998.4 273.1,999.2 273.6,998.6 274.1,999.1 274.6,998.3 275.1,998.7 275.6,998.8 276.1,998.9 276.6,998.9 277.1,998.8 277.6,999.4 278.1,999.6 278.6,1000.4 279.1,1000.7 279.6,1001.0 280.1,1001.2 280.6,1000.7 281.1,1000.7 281.6,1001.1 282.1,1000.9 282.6,1001.1 283.1,1001.7 283.6,1001.5 284.1,1002.0 284.6,1001.9 285.1,1001.9 285.6,1002.8 286.1,1002.1 286.6,1002.9 287.1,1002.7 287.6,1003.0 288.1,1002.6 288.6,1003.3 289.1,1003.6 289.6,1003.0 290.1,1003.4 290.6,1003.8 291.1,1003.6 291.6,1003.9 292.1,1003.8 292.6,1003.5 293.1,1003.9 293.6,1004.0 294.1,1003.7 294.6,1003.9 295.1,1003.9 295.6,1003.8 296.1,1003.4 296.6,1003.7 297.1,1004.1 297.6,1004.1 298.1,1003.5 298.6,1003.9 299.1,1004.0 299.6,1004.0 300.1,1003.6 300.6,1004.1 301.1,1004.2 301.6,1004.0 302.1,1004.5 302.6,1004.1 303.1,1003.5 303.6,1003.8 304.1,1004.2 304.6,1003.6 305.1,1004.5 305.6,1004.2 306.1,1004.3 306.6,1003.7 307.1,1003.6 307.6,1004.4 308.1,1004.1 308.6,1004.0 309.1,1004.1 309.6,1004.4 310.1,1004.0 310.6,1004.4 311.1,1003.8 311.6,1004.6 312.1,1004.3 312.6,1003.9 313.1,1004.1 313.6,1004.5 314.1,1004.0 314.6,1004.3 315.1,1004.6 315.6,1004.6 316.1,1003.9 316.6,1004.5 317.1,1004.3 317.6,1004.5 318.1,1003.7 318.6,1004.1 319.1,1004.1 319.6,1004.5 320.1,1004.1 320.6,1003.7 321.1,1003.9 321.6,1004.5 322.1,1004.5 322.6,1004.2 323.1,1003.6 323.6,1004.3 324.1,1004.4 324.6,1003.7 325.1,1003.9 325.6,1003.7 326.1,1003.4 326.6,1004.1 327.1,1003.5 327.6,1003.4 328.1,1004.2 328.6,1003.3 329.1,1003.9 329.6,1004.0 330.1,1003.4 330.6,1003.5 331.1,1003.2 331.6,1003.6 332.1,1003.8 332.6,1003.5 333.1,1003.2 333.6,1003.2 334.1,1002.9 334.6,1003.2 335.1,1002.6 335.6,1002.5 336.1,1002.9 336.6,1002.4 337.1,1003.0 337.6,1002.7 338.1,1002.1 338.6,1001.8 339.1,1002.3 339.6,1001.8 340.1,1002.1 340.6,1002.1 341.1,1001.4 341.6,1000.1 342.1,999.4 342.6,998.8 343.1,997.3 343.6,996.6 344.1,996.2 344.6,994.9 345.1,993.8 345.6,991.3 346.1,989.6 346.6,988.2 347.1,986.6 347.6,984.9 348.2,983.7 348.8,982.8 349.3,982.2 349.9,981.2 350.4,982.4 351.0,983.4 351.5,985.2 352.1,986.2 352.6,987.6 353.1,990.0 353.6,991.1 354.1,992.7 354.6,995.0 355.1,996.0 355.6,997.7 356.1,998.0 356.6,999.0 357.1,999.1 357.6,998.9 358.1,999.1 358.6,1000.2 359.1,999.7 359.6,1000.6 360.1,1000.9 360.6,1001.1 361.1,1000.9 361.6,1000.8 362.2,1000.7 362.7,1001.0 363.2,1000.5 363.7,1000.8 364.2,1000.5 364.7,1000.6 365.2,1001.1 365.8,1000.7 366.3,1000.8 366.8,1000.7 367.3,1000.2 367.9,1001.1 368.4,1001.4 368.9,1001.4 369.4,1001.3 370.0,1001.7 370.5,1001.9 371.0,1001.4 371.5,1001.4 372.1,1001.7 372.6,1001.5 373.1,1001.7 373.6,1001.6 374.1,1001.5 374.6,1001.9 375.1,1001.5 375.6,1002.0 376.1,1002.4 376.6,1002.2 377.1,1001.6 377.6,1002.2 378.1,1001.7 378.6,1002.3 379.1,1002.1 379.6,1002.0 380.1,1001.9 380.6,1002.5 381.1,1001.7 381.6,1002.4 382.1,1001.7 382.6,1001.6 383.1,1001.7 383.6,1001.5 384.1,1002.4 384.6,1001.8 385.1,1002.2 385.6,1002.0 386.1,1002.2 386.6,1002.6 387.1,1002.5 387.6,1002.2 388.1,1002.8 388.6,1002.2 389.1,1002.2 389.6,1002.9 390.1,1003.1 390.6,1003.1 391.1,1003.1 391.6,1003.4 392.1,1003.4 392.6,1003.1 393.1,1002.8 393.6,1003.2 394.1,1003.2 394.6,1003.5 395.1,1003.2 395.6,1003.0 396.1,1002.9 396.6,1002.6 397.1,1002.9 397.6,1002.6 398.1,1002.2 398.6,1001.8 399.1,1001.9 399.6,1001.4 400.1,1001.2 400.6,1000.7 401.1,1001.2 401.6,1000.4 402.1,1000.2 402.6,999.7 403.1,999.6 403.6,999.3 404.1,998.9 404.7,998.9 405.2,998.2 405.7,998.2 406.2,997.9 406.8,997.5 407.3,998.3 407.9,997.8 408.4,998.1 409.0,998.8 409.5,998.3 410.1,998.6 410.6,998.9 411.1,998.3 411.6,997.2 412.1,995.3 412.6,994.6 413.1,993.7 413.6,992.3 414.1,990.9 414.6,989.7 415.1,988.2 415.6,986.9 416.1,985.5 416.6,984.9 417.1,983.4 417.6,981.6 418.1,981.8 418.7,981.1 419.2,979.9 419.8,979.1 420.3,979.0 420.9,979.9 421.5,981.0 422.0,981.6 422.6,983.2 423.1,984.4 423.6,985.6 424.1,987.0 424.6,988.8 425.1,990.2 425.6,991.8 426.1,993.2 426.6,993.5 427.1,994.1 427.6,994.8 428.1,995.6 428.6,996.7 429.1,997.5 429.6,998.0 430.1,999.2 430.6,999.8 431.1,999.7 431.6,1000.3 432.1,1000.2 432.6,1000.4 433.1,1001.2 433.6,1001.0 434.1,1001.1 434.6,1001.5 435.1,1001.9 435.6,1001.9 436.1,1002.4 436.6,1002.4 437.1,1002.2 437.6,1003.0 438.1,1002.2 438.6,1002.6 439.1,1002.7 439.6,1003.1 440.1,1003.3 440.6,1003.5 441.1,1003.6 441.6,1003.2 442.1,1003.2 442.6,1003.3 443.1,1003.5 443.6,1003.4 444.1,1002.7 444.6,1002.6 445.1,1003.1 445.6,1002.8 446.1,1002.7 446.6,1001.8 447.1,1001.9 447.6,1001.9 448.1,1000.6 448.7,999.5 449.2,998.8 449.7,997.0 450.2,995.9 450.8,994.5 451.3,993.6 451.9,995.9 452.5,997.9 453.0,1000.2 453.6,1003.3 454.1,1003.3 454.6,1002.8 455.1,1002.7 455.6,1002.6 456.1,1003.1 456.6,1003.1 457.1,1003.4 457.6,1003.2 458.1,1003.1 458.6,1003.1 459.1,1003.3 459.7,1003.1 460.2,1002.2 460.8,1002.0 461.3,1001.9 461.8,1001.6 462.4,1002.3 462.9,1002.3 463.5,1001.7 464.0,1001.8 464.5,1001.8 465.0,1002.0 465.5,1001.9 466.0,1002.6 466.5,1002.1 467.0,1002.1 467.6,1002.2 468.1,1003.1 468.6,1003.2 469.1,1003.5 469.6,1003.6 470.1,1003.2 470.6,1003.5 471.1,1003.4 471.6,1004.0 472.1,1003.2 472.6,1003.5 473.1,1003.9 473.6,1003.9 474.1,1003.3 474.6,1003.5 475.1,1003.5 475.6,1003.6 476.1,1003.9 476.6,1003.5 477.1,1004.3 477.6,1004.0 478.1,1004.2 478.6,1003.9 479.1,1004.5 479.6,1003.7 480.1,1004.5 480.6,1003.9 481.1,1004.2 481.6,1004.3 482.1,1004.4 482.6,1004.3 483.1,1004.5 483.6,1003.8 484.1,1004.3 484.6,1004.3 485.1,1004.4 485.6,1003.9 486.1,1004.5 486.6,1003.9 487.1,1003.8 487.6,1003.9 488.1,1004.8 488.6,1004.0 489.1,1004.5 489.6,1003.9 490.1,1004.4 490.6,1004.1 491.1,1004.5 491.6,1004.6 492.1,1004.5 492.6,1004.4 493.1,1004.6 493.6,1003.9 494.1,1004.0 494.6,1004.1 495.1,1004.4 495.6,1004.7 496.1,1004.0 496.6,1004.1 497.1,1004.5 497.6,1004.3 498.1,1004.0 498.6,1004.3 499.1,1004.0 499.6,1004.0 500.1,1004.8 500.6,1004.3 501.1,1004.7 501.6,1004.3 502.1,1004.8 502.6,1004.9 503.1,1004.0 503.6,1004.6 504.1,1004.9 504.6,1004.8 505.1,1004.2 505.6,1004.8 506.1,1004.8 506.6,1004.2 507.1,1004.7 507.6,1004.7 508.1,1004.3 508.6,1004.9 509.1,1004.9 509.6,1004.2 510.1,1004.6 510.6,1004.7 511.1,1004.1 511.6,1004.6 512.1,1005.0 512.6,1004.4 513.1,1004.6 513.6,1005.1 514.1,1005.0 514.6,1005.1 515.1,1004.2 515.6,1005.1 516.1,1004.5 516.6,1004.5 517.1,1004.3 517.6,1005.0 518.1,1004.8 518.6,1004.6 519.1,1004.7 519.6,1004.7 520.1,1004.8 520.6,1004.3 521.1,1004.9 521.6,1004.5 522.1,1004.2 522.6,1005.2 523.1,1004.3 523.6,1005.0 524.1,1005.0 524.6,1004.7 525.1,1004.8 525.6,1004.5 526.1,1004.5 526.6,1005.1 527.1,1005.0 527.6,1005.0 528.1,1004.7 528.6,1004.3 529.1,1005.0 529.6,1005.2 530.1,1004.6 530.6,1004.9 531.1,1004.4 531.6,1005.3" fill="none" stroke="#111" stroke-width="1.9" stroke-linejoin="round" />
<polyline points="16.2,1003.5 16.7,1004.3 17.2,1003.4 17.7,1004.0 18.3,1003.4 18.8,1003.5 19.3,1004.3 19.8,1003.5 20.3,1003.9 20.8,1003.7 21.3,1003.7 21.9,1003.7 22.4,1003.4 22.9,1004.0 23.4,1003.3 23.9,1003.4 24.4,1003.2 25.0,1003.4 25.5,1003.6 26.0,1004.1 26.5,1003.5 27.0,1003.3 27.5,1003.4 28.0,1004.1 28.6,1003.2 29.1,1003.7 29.6,1003.5 30.1,1003.8 30.7,1002.3 31.2,1001.4 31.8,1000.0 32.3,999.0 32.9,998.1 33.4,996.6 34.0,994.9 34.5,993.7 35.0,990.7 35.5,986.4 36.0,982.3 36.5,979.3 37.0,975.1 37.5,968.3 38.0,961.5 38.5,954.0 39.0,947.2 39.5,950.5 40.1,952.5 40.7,956.0 41.2,958.1 41.7,939.5 42.3,920.3 42.8,901.3 43.4,882.0 43.9,862.5 44.5,879.3 45.1,896.4 45.7,913.8 46.2,897.3 46.8,880.4 47.3,864.7 47.9,847.8 48.4,831.5 49.0,859.6 49.6,888.2 50.1,916.5 50.7,945.4 51.3,973.9 51.8,964.5 52.4,955.0 53.0,945.9 53.5,936.5 54.0,918.7 54.6,901.8 55.1,884.5 55.7,867.9 56.2,851.1 56.8,833.2 57.4,850.5 58.0,866.8 58.5,848.4 59.1,831.0 59.7,812.5 60.2,794.2 60.8,820.8 61.4,847.0 61.9,873.5 62.5,899.9 63.0,922.3 63.6,944.9 64.2,967.1 64.7,989.3 65.3,985.6 65.8,982.0 66.4,978.7 67.0,974.9 67.5,966.5 68.1,957.5 68.6,948.9 69.2,940.4 69.7,930.8 70.2,921.9 70.8,913.3 71.3,904.8 71.9,912.4 72.4,920.0 73.0,927.1 73.6,935.1 74.1,941.6 74.7,949.8 75.2,943.1 75.8,937.6 76.4,930.7 76.9,925.5 77.5,912.2 78.0,899.5 78.6,886.0 79.2,872.6 79.7,860.4 80.3,846.8 80.8,827.3 81.4,808.6 82.0,789.2 82.5,770.0 83.0,769.7 83.6,769.6 84.2,770.1 84.7,770.0 85.3,799.6 85.9,829.9 86.5,860.2 87.0,881.9 87.6,903.3 88.1,924.9 88.6,939.4 89.2,953.7 89.8,968.2 90.3,982.9 90.8,982.2 91.4,982.4 91.9,981.9 92.4,981.4 92.9,980.4 93.5,980.3 94.0,979.9 94.5,979.0 95.0,979.2 95.5,978.4 96.0,977.5 96.5,977.1 97.0,976.0 97.6,973.8 98.2,971.9 98.8,969.8 99.3,972.4 99.9,974.5 100.4,977.8 101.0,980.7 101.5,983.2 102.0,985.2 102.6,987.1 103.2,988.2 103.7,990.0 104.2,992.1 104.8,994.4 105.4,995.6 105.9,997.9 106.5,997.3 107.0,996.4 107.6,995.9 108.2,995.7 108.7,994.9 109.3,993.9 109.8,992.2 110.4,989.3 111.0,987.3 111.5,985.7 112.0,983.3 112.6,980.6 113.2,978.3 113.7,976.4 114.2,968.9 114.8,961.1 115.3,953.6 115.9,945.7 116.5,938.0 117.0,930.1 117.6,915.8 118.2,901.8 118.7,887.8 119.3,873.7 119.8,875.7 120.4,876.8 121.0,878.3 121.5,880.6 122.0,895.3 122.6,910.6 123.1,925.5 123.7,941.4 124.2,956.0 124.8,938.6 125.4,921.7 125.9,904.0 126.5,886.4 127.1,869.6 127.7,852.7 128.4,836.3 129.0,820.5 129.6,807.8 130.1,795.2 130.6,782.2 131.2,770.3 131.8,770.1 132.3,770.3 132.8,769.9 133.4,770.3 133.9,770.3 134.5,769.9 135.0,802.7 135.5,835.3 136.0,868.0 136.5,900.4 137.0,914.2 137.5,927.5 138.0,941.9 138.5,955.9 139.0,969.2 139.5,959.7 140.0,950.2 140.5,940.3 141.0,930.4 141.6,914.4 142.2,899.7 142.8,884.8 143.4,869.4 143.9,856.0 144.5,842.6 145.0,830.4 145.6,810.4 146.2,790.2 146.8,769.9 147.4,770.3 147.9,770.3 148.4,770.2 149.0,770.1 149.5,797.3 150.0,824.8 150.5,852.4 151.0,879.8 151.5,895.4 152.0,910.3 152.5,926.3 153.1,941.3 153.6,956.4 154.1,971.9 154.6,987.4 155.1,983.1 155.7,979.2 156.2,974.2 156.8,970.0 157.3,965.7 157.9,961.3 158.4,957.5 158.9,962.1 159.4,967.2 159.9,972.8 160.4,978.2 160.9,983.4 161.4,988.3 161.9,993.3 162.4,999.0 163.0,996.6 163.5,994.1 164.1,992.0 164.6,990.1 165.2,988.0 165.7,985.7 166.2,982.7 166.8,980.6 167.3,972.1 167.8,963.2 168.3,955.1 168.9,945.8 169.4,937.9 169.9,929.0 170.4,920.4 170.9,911.5 171.4,916.1 171.9,919.7 172.5,924.1 173.0,928.1 173.5,931.9 174.0,924.4 174.5,916.1 175.0,908.1 175.6,900.8 176.1,892.7 176.6,884.6 177.1,877.2 177.6,869.2 178.2,866.6 178.7,865.1 179.2,862.5 179.8,860.8 180.3,860.3 180.8,860.7 181.3,860.1 181.9,867.5 182.4,875.2 183.0,882.9 183.6,890.4 184.1,897.6 184.7,904.5 185.2,904.6 185.8,904.1 186.3,904.2 186.9,904.6 187.4,903.8 188.0,904.0 188.6,907.0 189.2,909.6 189.7,913.2 190.3,915.7 190.9,930.3 191.4,945.2 191.9,959.2 192.5,974.6 193.0,976.9 193.5,979.9 194.0,983.1 194.5,985.1 195.0,988.8 195.5,990.7 196.0,994.1 196.5,997.0 197.0,1000.2 197.5,999.8 198.0,1000.6 198.6,1000.5 199.1,1000.6 199.6,1000.5 200.1,1000.8 200.6,1001.2 201.2,1001.4 201.7,1001.6 202.2,1002.3 202.7,1002.1 203.2,1002.5 203.8,1002.2 204.3,1002.5 204.8,1003.3 205.3,1003.4 205.8,1002.8 206.3,1002.4 206.9,1002.5 207.4,1002.6 207.9,1002.5 208.4,1002.6 208.9,1002.3 209.4,1002.5 209.9,1002.6 210.5,1002.5 211.0,1002.4 211.5,1002.2 212.0,1001.8 212.5,1001.7 213.0,1000.5 213.5,1000.4 214.0,999.3 214.5,998.8 215.1,998.0 215.6,997.5 216.1,996.6 216.6,996.2 217.1,995.7 217.6,994.6 218.1,994.2 218.7,990.0 219.2,986.0 219.8,981.9 220.4,978.1 220.9,974.2 221.5,969.7 222.1,959.2 222.6,949.5 223.1,938.3 223.7,928.6 224.3,951.9 225.0,974.7 225.5,988.0 226.0,1000.6 226.5,1001.5 227.0,1001.1 227.5,1001.3 228.0,1001.5 228.5,1002.4 229.0,1002.2 229.5,1002.6 230.0,1003.5 230.5,1003.6 231.0,1003.9 231.5,1004.0 232.0,1004.3 232.5,1003.8 233.0,1004.7 233.5,1004.2 234.0,1004.8 234.5,1004.5 235.0,1005.0 235.5,1004.2 236.0,1005.2 236.5,1004.4 237.0,1004.9 237.5,1004.9 238.0,1005.5 238.5,1005.3 239.0,1005.6 239.5,1005.6 240.0,1005.2 240.5,1004.9 241.0,1004.9 241.5,1005.4 242.0,1005.7 242.5,1005.3 243.0,1005.0 243.5,1005.2 244.0,1005.3 244.5,1004.8 245.0,1005.2 245.5,1004.7 246.0,1004.5 246.5,1004.5 247.0,1004.9 247.5,1005.1 248.0,1004.6 248.5,1004.8 249.0,1005.0 249.5,1004.6 250.0,1004.8 250.5,1004.7 251.0,1004.4 251.5,1004.0 252.0,1004.4 252.5,1004.2 253.0,1003.6 253.5,1004.0 254.0,1003.7 254.5,1003.8 255.0,1003.5 255.5,1003.1 256.0,1003.1 256.5,1002.6 257.0,1002.8 257.5,1002.0 258.0,1002.1 258.5,1002.0 259.0,1002.0 259.5,1001.4 260.0,1001.3 260.5,1000.9 261.0,1000.7 261.5,1000.0 262.0,999.6 262.5,999.7 263.0,999.6 263.5,1000.4 264.0,1000.4 264.5,1000.1 265.0,1000.4 265.5,1000.5 266.0,1001.2 266.5,1000.8 267.0,1000.2 267.5,1000.4 268.0,1000.1 268.5,999.5 269.0,999.4 269.5,999.7 270.0,998.6 270.5,998.7 271.0,999.0 271.5,999.2 272.0,999.2 272.5,998.6 273.0,999.0 273.5,998.3 274.0,998.5 274.5,998.9 275.0,998.7 275.5,998.7 276.0,999.1 276.5,999.2 277.0,999.5 277.5,1000.1 278.0,1000.5 278.5,1000.0 279.0,1000.8 279.5,1001.2 280.0,1001.1 280.5,1001.1 281.0,1001.1 281.5,1001.4 282.0,1001.6 282.5,1001.8 283.0,1001.4 283.5,1002.4 284.0,1001.8 284.5,1002.2 285.0,1002.0 285.5,1002.6 286.0,1002.1 286.5,1002.5 287.0,1002.7 287.5,1002.8 288.0,1003.1 288.5,1002.9 289.0,1003.3 289.5,1003.8 290.0,1003.7 290.5,1004.1 291.0,1004.1 291.5,1003.6 292.0,1003.6 292.5,1004.0 293.0,1004.1 293.5,1003.8 294.0,1003.9 294.5,1004.0 295.0,1003.8 295.5,1003.8 296.0,1003.7 296.5,1003.8 297.0,1003.9 297.5,1004.2 298.0,1003.6 298.5,1003.6 299.0,1004.4 299.5,1004.0 300.0,1004.2 300.5,1004.4 301.0,1004.2 301.5,1004.1 302.0,1004.5 302.5,1004.1 303.0,1004.0 303.5,1003.7 304.0,1003.7 304.5,1004.3 305.0,1004.4 305.5,1003.9 306.0,1004.1 306.5,1004.2 307.0,1004.2 307.5,1003.9 308.0,1004.5 308.5,1004.1 309.0,1004.3 309.5,1004.3 310.0,1004.0 310.5,1004.3 311.0,1003.8 311.5,1004.2 312.0,1004.3 312.5,1004.3 313.0,1003.9 313.5,1003.8 314.0,1003.7 314.5,1003.8 315.0,1003.8 315.5,1004.1 316.0,1004.2 316.5,1004.4 317.0,1004.1 317.5,1004.4 318.0,1003.7 318.5,1004.0 319.0,1003.8 319.5,1004.2 320.0,1004.3 320.5,1004.3 321.0,1004.1 321.5,1004.0 322.0,1003.9 322.5,1003.7 323.0,1003.7 323.5,1004.0 324.0,1004.0 324.5,1003.5 325.0,1004.2 325.5,1003.4 326.0,1003.5 326.5,1003.8 327.0,1003.6 327.5,1003.8 328.0,1003.9 328.5,1003.8 329.0,1003.9 329.5,1003.6 330.0,1003.8 330.5,1003.4 331.0,1003.1 331.5,1002.9 332.0,1003.0 332.5,1003.1 333.0,1002.9 333.5,1003.1 334.0,1003.1 334.5,1003.3 335.0,1002.4 335.5,1003.2 336.0,1002.1 336.5,1002.9 337.0,1003.0 337.5,1002.3 338.0,1002.6 338.5,1002.2 339.0,1002.2 339.5,1002.4 340.0,1002.4 340.5,1000.9 341.0,1000.0 341.5,999.8 342.0,998.6 342.5,998.0 343.0,996.5 343.5,996.2 344.0,994.7 344.5,993.0 345.0,991.5 345.5,990.4 346.0,988.2 346.5,986.6 347.0,984.8 347.6,983.5 348.1,982.8 348.7,981.8 349.3,980.6 349.8,982.5 350.4,983.5 350.9,985.6 351.5,987.0 352.0,988.1 352.5,989.3 353.0,991.4 353.5,993.1 354.0,994.8 354.5,996.3 355.0,998.2 355.5,998.8 356.0,998.8 356.5,998.4 357.0,999.3 357.5,999.6 358.0,999.8 358.5,1000.5 359.0,1000.0 359.5,1000.2 360.0,1001.2 360.5,1000.6 361.0,1000.6 361.6,1001.2 362.1,1000.7 362.6,1001.2 363.1,1001.1 363.6,1000.9 364.1,1000.6 364.6,1000.3 365.2,1001.1 365.7,1001.0 366.2,1001.0 366.7,1000.7 367.3,1000.6 367.8,1001.1 368.3,1001.0 368.8,1000.9 369.4,1001.0 369.9,1001.4 370.4,1001.3 370.9,1001.5 371.5,1002.4 372.0,1002.4 372.5,1002.4 373.0,1002.0 373.5,1002.3 374.0,1001.7 374.5,1002.1 375.0,1002.5 375.5,1002.3 376.0,1002.5 376.5,1002.1 377.0,1001.8 377.5,1001.5 378.0,1001.8 378.5,1002.3 379.0,1002.0 379.5,1002.1 380.0,1002.3 380.5,1001.8 381.0,1001.6 381.5,1002.4 382.0,1002.1 382.5,1001.5 383.0,1002.2 383.5,1002.3 384.0,1002.4 384.5,1001.8 385.0,1002.0 385.5,1002.5 386.0,1002.5 386.5,1002.3 387.0,1002.9 387.5,1002.3 388.0,1003.0 388.5,1002.3 389.0,1002.7 389.5,1003.3 390.0,1003.0 390.5,1003.1 391.0,1003.3 391.5,1003.1 392.0,1003.1 392.5,1003.4 393.0,1003.2 393.5,1003.7 394.0,1003.5 394.5,1002.8 395.0,1003.2 395.5,1003.5 396.0,1002.5 396.5,1002.2 397.0,1002.5 397.5,1002.4 398.0,1002.4 398.5,1002.2 399.0,1001.6 399.5,1001.4 400.0,1001.0 400.5,1001.1 401.0,1000.7 401.5,999.9 402.0,1000.1 402.5,999.2 403.0,999.2 403.5,998.8 404.1,999.1 404.6,998.1 405.1,997.9 405.6,997.8 406.2,997.6 406.7,998.0 407.2,998.0 407.8,998.6 408.4,998.8 408.9,998.8 409.4,999.2 410.0,999.0 410.5,998.1 411.0,996.3 411.5,995.5 412.0,994.3 412.5,993.8 413.0,992.2 413.5,991.0 414.0,990.2 414.5,989.1 415.0,987.7 415.5,986.3 416.0,984.8 416.5,983.6 417.0,982.1 417.5,981.2 418.1,980.5 418.6,979.7 419.2,979.1 419.7,978.6 420.3,980.1 420.9,980.5 421.4,981.8 422.0,982.8 422.5,984.5 423.0,985.6 423.5,987.6 424.0,989.4 424.5,990.9 425.0,991.9 425.5,992.5 426.0,993.8 426.5,994.7 427.0,994.9 427.5,995.6 428.0,997.0 428.5,997.5 429.0,998.4 429.5,999.3 430.0,1000.4 430.5,999.8 431.0,1000.1 431.5,1000.1 432.0,1000.9 432.5,1000.5 433.0,1001.4 433.5,1001.4 434.0,1001.5 434.5,1001.4 435.0,1002.2 435.5,1001.6 436.0,1002.2 436.5,1002.7 437.0,1002.7 437.5,1002.2 438.0,1002.5 438.5,1002.8 439.0,1003.5 439.5,1003.1 440.0,1004.1 440.5,1003.9 441.0,1003.4 441.5,1003.6 442.0,1003.3 442.5,1002.7 443.0,1002.8 443.5,1002.3 444.0,1002.6 444.5,1003.1 445.0,1002.4 445.5,1002.5 446.0,1002.1 446.5,1002.3 447.0,1001.8 447.5,1001.2 448.1,999.5 448.6,998.1 449.1,997.1 449.6,995.5 450.2,994.5 450.7,993.7 451.3,995.8 451.9,998.2 452.4,1000.4 453.0,1003.3 453.5,1003.4 454.0,1002.9 454.5,1002.5 455.0,1002.9 455.5,1003.4 456.0,1003.2 456.5,1002.7 457.0,1002.6 457.5,1003.4 458.0,1002.6 458.5,1003.0 459.1,1002.8 459.6,1002.2 460.2,1002.3 460.7,1002.6 461.2,1002.6 461.8,1001.5 462.3,1001.3 462.9,1001.4 463.4,1001.1 463.9,1002.1 464.4,1001.4 464.9,1001.9 465.4,1002.5 465.9,1002.3 466.4,1002.2 467.0,1002.2 467.5,1002.5 468.0,1002.8 468.5,1003.5 469.0,1003.2 469.5,1003.5 470.0,1003.4 470.5,1003.5 471.0,1004.1 471.5,1003.3 472.0,1003.9 472.5,1003.6 473.0,1003.7 473.5,1004.0 474.0,1003.7 474.5,1003.9 475.0,1003.9 475.5,1003.9 476.0,1003.5 476.5,1003.9 477.0,1003.9 477.5,1004.0 478.0,1003.9 478.5,1004.1 479.0,1004.4 479.5,1003.7 480.0,1003.8 480.5,1004.2 481.0,1004.3 481.5,1004.5 482.0,1003.8 482.5,1003.7 483.0,1004.4 483.5,1004.0 484.0,1004.3 484.5,1004.1 485.0,1003.9 485.5,1004.3 486.0,1004.1 486.5,1004.3 487.0,1004.7 487.5,1004.3 488.0,1004.7 488.5,1004.1 489.0,1004.0 489.5,1004.2 490.0,1004.1 490.5,1004.6 491.0,1004.0 491.5,1004.6 492.0,1004.1 492.5,1004.3 493.0,1004.1 493.5,1004.0 494.0,1004.0 494.5,1004.9 495.0,1004.0 495.5,1004.9 496.0,1004.4 496.5,1004.8 497.0,1004.1 497.5,1004.5 498.0,1004.7 498.5,1004.3 499.0,1004.6 499.5,1004.9 500.0,1004.4 500.5,1004.0 501.0,1004.6 501.5,1004.8 502.0,1004.5 502.5,1004.9 503.0,1004.4 503.5,1004.5 504.0,1004.5 504.5,1004.1 505.0,1004.1 505.5,1004.7 506.0,1004.9 506.5,1004.2 507.0,1005.0 507.5,1004.4 508.0,1004.5 508.5,1004.1 509.0,1004.1 509.5,1004.7 510.0,1005.0 510.5,1004.7 511.0,1004.2 511.5,1004.8 512.0,1004.2 512.5,1004.6 513.0,1004.9 513.5,1004.5 514.0,1004.5 514.5,1004.5 515.0,1004.4 515.5,1004.2 516.0,1004.9 516.5,1004.6 517.0,1004.4 517.5,1004.5 518.0,1004.2 518.5,1004.6 519.0,1004.8 519.5,1004.8 520.0,1004.6 520.5,1005.2 521.0,1004.4 521.5,1004.4 522.0,1004.8 522.5,1004.6 523.0,1004.5 523.5,1005.0 524.0,1004.7 524.5,1004.8 525.0,1004.9 525.5,1004.7 526.0,1004.8 526.5,1005.2 527.0,1004.4 527.5,1004.7 528.0,1004.9 528.5,1005.0 529.0,1004.4 529.5,1004.4 530.0,1004.6 530.5,1005.0 531.0,1004.5" fill="none" stroke="#111" stroke-width="2.1" stroke-linejoin="round" />
<polyline points="16.0,1006.4 16.5,1006.4 17.0,1006.5 17.5,1006.4 18.0,1006.4 18.5,1006.5 19.0,1006.8 19.5,1006.7 20.0,1006.7 20.5,1006.4 21.0,1006.6 21.5,1006.4 22.0,1006.4 22.5,1006.4 23.0,1006.4 23.5,1006.8 24.0,1006.7 24.5,1006.7 25.0,1006.7 25.5,1006.4 26.0,1006.4 26.5,1006.6 27.0,1006.6 27.5,1006.7 28.0,1006.7 28.5,1006.3 29.0,1006.6 29.5,1006.6 30.0,1006.5 30.5,1006.3 31.0,1006.4 31.5,1006.2 32.0,1006.6 32.5,1006.6 33.0,1006.4 33.5,1006.2 34.0,1006.5 34.5,1006.3 35.0,1006.4 35.5,1006.3 36.0,1006.0 36.5,1005.8 37.0,1005.7 37.5,1005.3 38.0,1004.7 38.5,1004.0 39.0,1002.7 39.5,999.2 40.0,991.3 40.5,970.4 41.0,965.0 41.5,988.7 42.0,998.4 42.5,1002.1 43.0,1004.1 43.5,1004.6 44.0,1005.2 44.5,1005.4 45.0,1005.9 45.5,1005.9 46.0,1006.0 46.5,1006.3 47.0,1006.1 47.5,1006.3 48.0,1006.5 48.5,1006.2 49.0,1006.2 49.5,1006.3 50.0,1006.6 50.5,1006.5 51.0,1006.3 51.5,1006.4 52.0,1006.3 52.5,1006.5 53.0,1006.3 53.5,1006.6 54.0,1006.7 54.5,1006.8 55.0,1006.6 55.5,1006.8 56.0,1006.3 56.5,1006.4 57.0,1006.8 57.5,1006.7 58.0,1006.5 58.5,1006.8 59.0,1006.6 59.5,1006.7 60.0,1006.5 60.5,1006.4 61.0,1006.5 61.5,1006.4 62.0,1006.5 62.5,1006.8 63.0,1006.5 63.5,1006.3 64.0,1006.3 64.5,1006.4 65.0,1006.7 65.5,1006.5 66.0,1006.5 66.5,1006.4 67.0,1006.8 67.5,1006.5 68.0,1006.4 68.5,1006.4 69.0,1006.4 69.5,1006.4 70.0,1006.7 70.5,1006.4 71.0,1006.4 71.5,1006.6 72.0,1006.5 72.5,1006.8 73.0,1006.4 73.5,1006.6 74.0,1006.7 74.5,1006.5 75.0,1006.8 75.5,1006.6 76.0,1006.5 76.5,1006.5 77.0,1006.4 77.5,1006.5 78.0,1006.5 78.5,1006.8 79.0,1006.8 79.5,1006.6 80.0,1006.4 80.5,1006.5 81.0,1006.5 81.5,1006.4 82.0,1006.5 82.5,1006.8 83.0,1006.4 83.5,1006.4 84.0,1006.8 84.5,1006.6 85.0,1006.8 85.5,1006.5 86.0,1006.8 86.5,1006.7 87.0,1006.7 87.5,1006.7 88.0,1006.6 88.5,1006.4 89.0,1006.4 89.5,1006.8 90.0,1006.8 90.5,1006.8 91.0,1006.5 91.5,1006.7 92.0,1006.7 92.5,1006.7 93.0,1006.8 93.5,1006.6 94.0,1006.7 94.5,1006.7 95.0,1006.5 95.5,1006.8 96.0,1006.8 96.5,1006.4 97.0,1006.8 97.5,1006.8 98.0,1006.7 98.5,1006.4 99.0,1006.8 99.5,1006.4 100.0,1006.8 100.5,1006.7 101.0,1006.4 101.5,1006.4 102.0,1006.7 102.5,1006.6 103.0,1006.7 103.5,1006.8 104.0,1006.5 104.5,1006.3 105.0,1006.8 105.5,1006.4 106.0,1006.8 106.5,1006.4 107.0,1006.7 107.5,1006.7 108.0,1006.8 108.5,1006.6 109.0,1006.8 109.5,1006.4 110.0,1006.7 110.5,1006.5 111.0,1006.8 111.5,1006.7 112.0,1006.6 112.5,1006.6 113.0,1006.4 113.5,1006.4 114.0,1006.6 114.5,1006.6 115.0,1006.8 115.5,1006.6 116.0,1006.4 116.5,1006.5 117.0,1006.7 117.5,1006.6 118.0,1006.4 118.5,1006.8 119.0,1006.8 119.5,1006.4 120.0,1006.6 120.5,1006.5 121.0,1006.7 121.5,1006.5 122.0,1006.5 122.5,1006.6 123.0,1006.8 123.5,1006.4 124.0,1006.4 124.5,1006.7 125.0,1006.8 125.5,1006.6 126.0,1006.6 126.5,1006.8 127.0,1006.7 127.5,1006.4 128.0,1006.8 128.5,1006.4 129.0,1006.5 129.5,1006.8 130.0,1006.6 130.5,1006.7 131.0,1006.4 131.5,1006.8 132.0,1006.4 132.5,1006.4 133.0,1006.6 133.5,1006.5 134.0,1006.6 134.5,1006.8 135.0,1006.7 135.5,1006.3 136.0,1006.5 136.5,1006.6 137.0,1006.6 137.5,1006.7 138.0,1006.6 138.5,1006.4 139.0,1006.5 139.5,1006.8 140.0,1006.5 140.5,1006.7 141.0,1006.8 141.5,1006.7 142.0,1006.7 142.5,1006.6 143.0,1006.5 143.5,1006.8 144.0,1006.6 144.5,1006.8 145.0,1006.5 145.5,1006.8 146.0,1006.7 146.5,1006.7 147.0,1006.6 147.5,1006.4 148.0,1006.7 148.5,1006.5 149.0,1006.7 149.5,1006.4 150.0,1006.4 150.5,1006.4 151.0,1006.7 151.5,1006.4 152.0,1006.8 152.5,1006.5 153.0,1006.6 153.5,1006.5 154.0,1006.7 154.5,1006.4 155.0,1006.5 155.5,1006.8 156.0,1006.4 156.5,1006.7 157.0,1006.5 157.5,1006.5 158.0,1006.4 158.5,1006.4 159.0,1006.8 159.5,1006.8 160.0,1006.7 160.5,1006.7 161.0,1006.8 161.5,1006.4 162.0,1006.6 162.5,1006.6 163.0,1006.6 163.5,1006.8 164.0,1006.7 164.5,1006.8 165.0,1006.4 165.5,1006.7 166.0,1006.7 166.5,1006.7 167.0,1006.7 167.5,1006.8 168.0,1006.5 168.5,1006.8 169.0,1006.5 169.5,1006.6 170.0,1006.8 170.5,1006.7 171.0,1006.5 171.5,1006.5 172.0,1006.5 172.5,1006.7 173.0,1006.8 173.5,1006.8 174.0,1006.5 174.5,1006.5 175.0,1006.7 175.5,1006.5 176.0,1006.5 176.5,1006.3 177.0,1006.4 177.5,1006.6 178.0,1006.7 178.5,1006.6 179.0,1006.5 179.5,1006.8 180.0,1006.6 180.5,1006.4 181.0,1006.4 181.5,1006.8 182.0,1006.8 182.5,1006.8 183.0,1006.6 183.5,1006.5 184.0,1006.4 184.5,1006.5 185.0,1006.4 185.5,1006.8 186.0,1006.8 186.5,1006.7 187.0,1006.4 187.5,1006.4 188.0,1006.5 188.5,1006.8 189.0,1006.4 189.5,1006.7 190.0,1006.7 190.5,1006.6 191.0,1006.8 191.5,1006.5 192.0,1006.6 192.5,1006.4 193.0,1006.4 193.5,1006.3 194.0,1006.5 194.5,1006.4 195.0,1006.4 195.5,1006.8 196.0,1006.5 196.5,1006.8 197.0,1006.7 197.5,1006.7 198.0,1006.6 198.5,1006.8 199.0,1006.7 199.5,1006.7 200.0,1006.6 200.5,1006.7 201.0,1006.7 201.5,1006.6 202.0,1006.5 202.5,1006.4 203.0,1006.7 203.5,1006.5 204.0,1006.3 204.5,1006.4 205.0,1006.7 205.5,1006.4 206.0,1006.5 206.5,1006.6 207.0,1006.7 207.5,1006.4 208.0,1006.4 208.5,1006.5 209.0,1006.3 209.5,1006.7 210.0,1006.2 210.5,1006.7 211.0,1006.3 211.5,1006.3 212.0,1006.6 212.5,1006.6 213.0,1006.3 213.5,1006.4 214.0,1006.4 214.5,1006.4 215.0,1006.2 215.5,1006.4 216.0,1006.5 216.5,1006.3 217.0,1006.3 217.5,1006.3 218.0,1005.9 218.5,1006.0 219.0,1005.9 219.5,1005.6 220.0,1005.1 220.5,1005.0 221.0,1004.7 221.5,1003.6 222.0,1002.5 222.5,1000.4 223.0,995.6 223.5,984.5 224.0,957.5 224.5,937.4 225.0,971.3 225.5,990.4 226.0,997.7 226.5,1001.4 227.0,1003.1 227.5,1004.0 228.0,1004.8 228.5,1005.3 229.0,1005.6 229.5,1005.8 230.0,1005.9 230.5,1006.0 231.0,1006.1 231.5,1006.1 232.0,1006.4 232.5,1006.1 233.0,1006.0 233.5,1006.4 234.0,1006.3 234.5,1006.4 235.0,1006.4 235.5,1006.3 236.0,1006.3 236.5,1006.2 237.0,1006.6 237.5,1006.7 238.0,1006.6 238.5,1006.3 239.0,1006.7 239.5,1006.7 240.0,1006.5 240.5,1006.3 241.0,1006.7 241.5,1006.6 242.0,1006.6 242.5,1006.3 243.0,1006.6 243.5,1006.3 244.0,1006.5 244.5,1006.4 245.0,1006.5 245.5,1006.7 246.0,1006.7 246.5,1006.7 247.0,1006.4 247.5,1006.5 248.0,1006.6 248.5,1006.3 249.0,1006.5 249.5,1006.8 250.0,1006.7 250.5,1006.7 251.0,1006.5 251.5,1006.7 252.0,1006.7 252.5,1006.7 253.0,1006.5 253.5,1006.4 254.0,1006.3 254.5,1006.8 255.0,1006.8 255.5,1006.5 256.0,1006.7 256.5,1006.5 257.0,1006.6 257.5,1006.7 258.0,1006.5 258.5,1006.6 259.0,1006.5 259.5,1006.6 260.0,1006.3 260.5,1006.5 261.0,1006.5 261.5,1006.8 262.0,1006.4 262.5,1006.7 263.0,1006.4 263.5,1006.8 264.0,1006.4 264.5,1006.4 265.0,1006.4 265.5,1006.8 266.0,1006.7 266.5,1006.8 267.0,1006.6 267.5,1006.4 268.0,1006.5 268.5,1006.6 269.0,1006.8 269.5,1006.4 270.0,1006.5 270.5,1006.8 271.0,1006.4 271.5,1006.8 272.0,1006.5 272.5,1006.6 273.0,1006.7 273.5,1006.8 274.0,1006.4 274.5,1006.8 275.0,1006.4 275.5,1006.7 276.0,1006.4 276.5,1006.7 277.0,1006.4 277.5,1006.4 278.0,1006.4 278.5,1006.5 279.0,1006.5 279.5,1006.8 280.0,1006.6 280.5,1006.5 281.0,1006.8 281.5,1006.4 282.0,1006.4 282.5,1006.8 283.0,1006.8 283.5,1006.7 284.0,1006.8 284.5,1006.4 285.0,1006.8 285.5,1006.7 286.0,1006.7 286.5,1006.8 287.0,1006.4 287.5,1006.4 288.0,1006.4 288.5,1006.6 289.0,1006.6 289.5,1006.6 290.0,1006.5 290.5,1006.7 291.0,1006.8 291.5,1006.7 292.0,1006.4 292.5,1006.4 293.0,1006.5 293.5,1006.5 294.0,1006.6 294.5,1006.4 295.0,1006.7 295.5,1006.5 296.0,1006.5 296.5,1006.7 297.0,1006.8 297.5,1006.4 298.0,1006.5 298.5,1006.8 299.0,1006.5 299.5,1006.4 300.0,1006.4 300.5,1006.8 301.0,1006.7 301.5,1006.8 302.0,1006.6 302.5,1006.4 303.0,1006.5 303.5,1006.7 304.0,1006.5 304.5,1006.4 305.0,1006.5 305.5,1006.6 306.0,1006.5 306.5,1006.6 307.0,1006.4 307.5,1006.4 308.0,1006.7 308.5,1006.7 309.0,1006.6 309.5,1006.4 310.0,1006.5 310.5,1006.6 311.0,1006.8 311.5,1006.6 312.0,1006.8 312.5,1006.6 313.0,1006.4 313.5,1006.7 314.0,1006.6 314.5,1006.6 315.0,1006.7 315.5,1006.4 316.0,1006.6 316.5,1006.7 317.0,1006.4 317.5,1006.4 318.0,1006.4 318.5,1006.5 319.0,1006.6 319.5,1006.5 320.0,1006.7 320.5,1006.4 321.0,1006.5 321.5,1006.7 322.0,1006.6 322.5,1006.8 323.0,1006.8 323.5,1006.5 324.0,1006.5 324.5,1006.6 325.0,1006.6 325.5,1006.5 326.0,1006.8 326.5,1006.4 327.0,1006.6 327.5,1006.4 328.0,1006.8 328.5,1006.6 329.0,1006.8 329.5,1006.4 330.0,1006.7 330.5,1006.6 331.0,1006.4 331.5,1006.8 332.0,1006.8 332.5,1006.4 333.0,1006.8 333.5,1006.7 334.0,1006.6 334.5,1006.6 335.0,1006.5 335.5,1006.4 336.0,1006.6 336.5,1006.8 337.0,1006.5 337.5,1006.6 338.0,1006.5 338.5,1006.7 339.0,1006.8 339.5,1006.8 340.0,1006.5 340.5,1006.6 341.0,1006.3 341.5,1006.6 342.0,1006.8 342.5,1006.8 343.0,1006.4 343.5,1006.6 344.0,1006.4 344.5,1006.6 345.0,1006.8 345.5,1006.5 346.0,1006.8 346.5,1006.8 347.0,1006.8 347.5,1006.4 348.0,1006.8 348.5,1006.8 349.0,1006.8 349.5,1006.4 350.0,1006.4 350.5,1006.5 351.0,1006.6 351.5,1006.6 352.0,1006.4 352.5,1006.7 353.0,1006.7 353.5,1006.7 354.0,1006.6 354.5,1006.6 355.0,1006.7 355.5,1006.4 356.0,1006.6 356.5,1006.4 357.0,1006.4 357.5,1006.7 358.0,1006.5 358.5,1006.5 359.0,1006.5 359.5,1006.6 360.0,1006.4 360.5,1006.7 361.0,1006.4 361.5,1006.8 362.0,1006.4 362.5,1006.7 363.0,1006.6 363.5,1006.6 364.0,1006.5 364.5,1006.5 365.0,1006.7 365.5,1006.6 366.0,1006.6 366.5,1006.5 367.0,1006.7 367.5,1006.4 368.0,1006.6 368.5,1006.7 369.0,1006.6 369.5,1006.6 370.0,1006.6 370.5,1006.4 371.0,1006.8 371.5,1006.7 372.0,1006.7 372.5,1006.8 373.0,1006.6 373.5,1006.5 374.0,1006.5 374.5,1006.5 375.0,1006.5 375.5,1006.5 376.0,1006.5 376.5,1006.6 377.0,1006.5 377.5,1006.5 378.0,1006.7 378.5,1006.5 379.0,1006.8 379.5,1006.7 380.0,1006.5 380.5,1006.8 381.0,1006.4 381.5,1006.4 382.0,1006.8 382.5,1006.4 383.0,1006.4 383.5,1006.8 384.0,1006.4 384.5,1006.7 385.0,1006.6 385.5,1006.5 386.0,1006.5 386.5,1006.8 387.0,1006.5 387.5,1006.5 388.0,1006.6 388.5,1006.7 389.0,1006.5 389.5,1006.4 390.0,1006.7 390.5,1006.4 391.0,1006.4 391.5,1006.4 392.0,1006.8 392.5,1006.6 393.0,1006.7 393.5,1006.6 394.0,1006.8 394.5,1006.5 395.0,1006.5 395.5,1006.7 396.0,1006.3 396.5,1006.5 397.0,1006.7 397.5,1006.6 398.0,1006.6 398.5,1006.8 399.0,1006.6 399.5,1006.7 400.0,1006.5 400.5,1006.4 401.0,1006.5 401.5,1006.5 402.0,1006.4 402.5,1006.5 403.0,1006.4 403.5,1006.6 404.0,1006.7 404.5,1006.7 405.0,1006.8 405.5,1006.5 406.0,1006.7 406.5,1006.8 407.0,1006.5 407.5,1006.8 408.0,1006.4 408.5,1006.8 409.0,1006.8 409.5,1006.8 410.0,1006.8 410.5,1006.7 411.0,1006.6 411.5,1006.7 412.0,1006.8 412.5,1006.6 413.0,1006.7 413.5,1006.8 414.0,1006.5 414.5,1006.5 415.0,1006.4 415.5,1006.8 416.0,1006.7 416.5,1006.7 417.0,1006.5 417.5,1006.4 418.0,1006.6 418.5,1006.8 419.0,1006.5 419.5,1006.6 420.0,1006.6 420.5,1006.8 421.0,1006.4 421.5,1006.8 422.0,1006.4 422.5,1006.7 423.0,1006.7 423.5,1006.6 424.0,1006.7 424.5,1006.5 425.0,1006.4 425.5,1006.5 426.0,1006.5 426.5,1006.7 427.0,1006.6 427.5,1006.7 428.0,1006.8 428.5,1006.7 429.0,1006.7 429.5,1006.8 430.0,1006.8 430.5,1006.7 431.0,1006.5 431.5,1006.6 432.0,1006.7 432.5,1006.7 433.0,1006.8 433.5,1006.7 434.0,1006.7 434.5,1006.5 435.0,1006.7 435.5,1006.4 436.0,1006.7 436.5,1006.4 437.0,1006.4 437.5,1006.8 438.0,1006.8 438.5,1006.5 439.0,1006.4 439.5,1006.8 440.0,1006.7 440.5,1006.4 441.0,1006.8 441.5,1006.8 442.0,1006.6 442.5,1006.5 443.0,1006.4 443.5,1006.4 444.0,1006.6 444.5,1006.7 445.0,1006.7 445.5,1006.5 446.0,1006.7 446.5,1006.4 447.0,1006.7 447.5,1006.4 448.0,1006.4 448.5,1006.4 449.0,1006.7 449.5,1006.5 450.0,1006.4 450.5,1006.6 451.0,1006.5 451.5,1006.6 452.0,1006.6 452.5,1006.7 453.0,1006.8 453.5,1006.5 454.0,1006.7 454.5,1006.4 455.0,1006.5 455.5,1006.4 456.0,1006.8 456.5,1006.5 457.0,1006.7 457.5,1006.8 458.0,1006.5 458.5,1006.5 459.0,1006.5 459.5,1006.6 460.0,1006.5 460.5,1006.4 461.0,1006.8 461.5,1006.7 462.0,1006.8 462.5,1006.8 463.0,1006.7 463.5,1006.8 464.0,1006.7 464.5,1006.6 465.0,1006.8 465.5,1006.8 466.0,1006.4 466.5,1006.4 467.0,1006.4 467.5,1006.6 468.0,1006.8 468.5,1006.6 469.0,1006.8 469.5,1006.5 470.0,1006.6 470.5,1006.5 471.0,1006.7 471.5,1006.5 472.0,1006.4 472.5,1006.5 473.0,1006.6 473.5,1006.8 474.0,1006.5 474.5,1006.8 475.0,1006.8 475.5,1006.4 476.0,1006.7 476.5,1006.8 477.0,1006.8 477.5,1006.7 478.0,1006.5 478.5,1006.6 479.0,1006.7 479.5,1006.7 480.0,1006.4 480.5,1006.8 481.0,1006.6 481.5,1006.4 482.0,1006.5 482.5,1006.4 483.0,1006.6 483.5,1006.4 484.0,1006.6 484.5,1006.5 485.0,1006.8 485.5,1006.7 486.0,1006.4 486.5,1006.8 487.0,1006.6 487.5,1006.5 488.0,1006.8 488.5,1006.4 489.0,1006.5 489.5,1006.6 490.0,1006.4 490.5,1006.6 491.0,1006.8 491.5,1006.5 492.0,1006.7 492.5,1006.4 493.0,1006.8 493.5,1006.8 494.0,1006.4 494.5,1006.7 495.0,1006.5 495.5,1006.4 496.0,1006.5 496.5,1006.7 497.0,1006.6 497.5,1006.6 498.0,1006.4 498.5,1006.4 499.0,1006.5 499.5,1006.6 500.0,1006.8 500.5,1006.6 501.0,1006.5 501.5,1006.8 502.0,1006.7 502.5,1006.7 503.0,1006.8 503.5,1006.6 504.0,1006.5 504.5,1006.4 505.0,1006.7 505.5,1006.7 506.0,1006.8 506.5,1006.8 507.0,1006.6 507.5,1006.6 508.0,1006.8 508.5,1006.4 509.0,1006.5 509.5,1006.6 510.0,1006.7 510.5,1006.7 511.0,1006.4 511.5,1006.6 512.0,1006.4 512.5,1006.5 513.0,1006.4 513.5,1006.5 514.0,1006.7 514.5,1006.5 515.0,1006.4 515.5,1006.6 516.0,1006.7 516.5,1006.5 517.0,1006.5 517.5,1006.6 518.0,1006.7 518.5,1006.4 519.0,1006.7 519.5,1006.4 520.0,1006.8 520.5,1006.4 521.0,1006.8 521.5,1006.4 522.0,1006.6 522.5,1006.5 523.0,1006.7 523.5,1006.7 524.0,1006.4 524.5,1006.4 525.0,1006.7 525.5,1006.6 526.0,1006.5 526.5,1006.5 527.0,1006.5 527.5,1006.6 528.0,1006.5 528.5,1006.4 529.0,1006.6 529.5,1006.8 530.0,1006.7 530.5,1006.7 531.0,1006.8" fill="none" stroke="#2aa84a" stroke-width="1.6" stroke-linejoin="round" />
<line x1="156.8" y1="861.4" x2="204.8" y2="1003.0" stroke="#222" stroke-width="1.2" stroke-dasharray="6.5 5"/>
<line x1="509.8" y1="862.2" x2="247.9" y2="1002.8" stroke="#222" stroke-width="1.2" stroke-dasharray="6.5 5"/>
<line x1="157.0" y1="862.5" x2="509.8" y2="862.5" stroke="#999" stroke-width="1.0" />
<line x1="165.5" y1="862.5" x2="165.5" y2="860.6" stroke="#999" stroke-width="0.8" />
<line x1="172.9" y1="862.5" x2="172.9" y2="860.6" stroke="#999" stroke-width="0.8" />
<line x1="180.3" y1="862.5" x2="180.3" y2="860.6" stroke="#999" stroke-width="0.8" />
<line x1="187.6" y1="862.5" x2="187.6" y2="860.6" stroke="#999" stroke-width="0.8" />
<line x1="195.0" y1="862.5" x2="195.0" y2="860.6" stroke="#999" stroke-width="0.8" />
<line x1="202.4" y1="862.5" x2="202.4" y2="860.6" stroke="#999" stroke-width="0.8" />
<line x1="209.8" y1="862.5" x2="209.8" y2="860.6" stroke="#999" stroke-width="0.8" />
<line x1="217.2" y1="862.5" x2="217.2" y2="860.6" stroke="#999" stroke-width="0.8" />
<line x1="224.5" y1="862.5" x2="224.5" y2="860.6" stroke="#999" stroke-width="0.8" />
<line x1="231.9" y1="862.5" x2="231.9" y2="860.6" stroke="#999" stroke-width="0.8" />
<line x1="239.3" y1="862.5" x2="239.3" y2="860.6" stroke="#999" stroke-width="0.8" />
<line x1="246.7" y1="862.5" x2="246.7" y2="860.6" stroke="#999" stroke-width="0.8" />
<line x1="254.1" y1="862.5" x2="254.1" y2="860.6" stroke="#999" stroke-width="0.8" />
<line x1="261.4" y1="862.5" x2="261.4" y2="860.6" stroke="#999" stroke-width="0.8" />
<line x1="268.8" y1="862.5" x2="268.8" y2="860.6" stroke="#999" stroke-width="0.8" />
<line x1="276.2" y1="862.5" x2="276.2" y2="860.6" stroke="#999" stroke-width="0.8" />
<line x1="283.6" y1="862.5" x2="283.6" y2="860.6" stroke="#999" stroke-width="0.8" />
<line x1="291.0" y1="862.5" x2="291.0" y2="860.6" stroke="#999" stroke-width="0.8" />
<line x1="298.3" y1="862.5" x2="298.3" y2="860.6" stroke="#999" stroke-width="0.8" />
<line x1="305.7" y1="862.5" x2="305.7" y2="860.6" stroke="#999" stroke-width="0.8" />
<line x1="313.1" y1="862.5" x2="313.1" y2="860.6" stroke="#999" stroke-width="0.8" />
<line x1="320.5" y1="862.5" x2="320.5" y2="860.6" stroke="#999" stroke-width="0.8" />
<line x1="327.9" y1="862.5" x2="327.9" y2="860.6" stroke="#999" stroke-width="0.8" />
<line x1="335.2" y1="862.5" x2="335.2" y2="860.6" stroke="#999" stroke-width="0.8" />
<line x1="342.6" y1="862.5" x2="342.6" y2="860.6" stroke="#999" stroke-width="0.8" />
<line x1="350.0" y1="862.5" x2="350.0" y2="860.6" stroke="#999" stroke-width="0.8" />
<line x1="357.4" y1="862.5" x2="357.4" y2="860.6" stroke="#999" stroke-width="0.8" />
<line x1="364.8" y1="862.5" x2="364.8" y2="860.6" stroke="#999" stroke-width="0.8" />
<line x1="372.1" y1="862.5" x2="372.1" y2="860.6" stroke="#999" stroke-width="0.8" />
<line x1="379.5" y1="862.5" x2="379.5" y2="860.6" stroke="#999" stroke-width="0.8" />
<line x1="386.9" y1="862.5" x2="386.9" y2="860.6" stroke="#999" stroke-width="0.8" />
<line x1="394.3" y1="862.5" x2="394.3" y2="860.6" stroke="#999" stroke-width="0.8" />
<line x1="401.7" y1="862.5" x2="401.7" y2="860.6" stroke="#999" stroke-width="0.8" />
<line x1="409.0" y1="862.5" x2="409.0" y2="860.6" stroke="#999" stroke-width="0.8" />
<line x1="416.4" y1="862.5" x2="416.4" y2="860.6" stroke="#999" stroke-width="0.8" />
<line x1="423.8" y1="862.5" x2="423.8" y2="860.6" stroke="#999" stroke-width="0.8" />
<line x1="431.2" y1="862.5" x2="431.2" y2="860.6" stroke="#999" stroke-width="0.8" />
<line x1="438.6" y1="862.5" x2="438.6" y2="860.6" stroke="#999" stroke-width="0.8" />
<line x1="445.9" y1="862.5" x2="445.9" y2="860.6" stroke="#999" stroke-width="0.8" />
<line x1="453.3" y1="862.5" x2="453.3" y2="860.6" stroke="#999" stroke-width="0.8" />
<line x1="460.7" y1="862.5" x2="460.7" y2="860.6" stroke="#999" stroke-width="0.8" />
<line x1="468.1" y1="862.5" x2="468.1" y2="860.6" stroke="#999" stroke-width="0.8" />
<line x1="475.5" y1="862.5" x2="475.5" y2="860.6" stroke="#999" stroke-width="0.8" />
<line x1="482.8" y1="862.5" x2="482.8" y2="860.6" stroke="#999" stroke-width="0.8" />
<line x1="490.2" y1="862.5" x2="490.2" y2="860.6" stroke="#999" stroke-width="0.8" />
<line x1="497.6" y1="862.5" x2="497.6" y2="860.6" stroke="#999" stroke-width="0.8" />
<line x1="505.0" y1="862.5" x2="505.0" y2="860.6" stroke="#999" stroke-width="0.8" />
<polyline points="176.1,892.7 176.6,884.6 177.1,877.2 177.6,869.2 178.2,866.6 178.7,865.1 179.2,862.5 179.8,860.8 180.3,860.3 180.8,860.7 181.3,860.1 181.9,867.5 182.4,875.2" fill="none" stroke="#111" stroke-width="2.1" stroke-linejoin="round" />
<polyline points="167.8,849.5 200.0,850.5 224.3,852.5 240.0,851.5 250.0,849.6 266.3,840.6 276.1,840.6 286.6,835.0 297.2,840.6 305.4,836.6 313.5,835.8 321.7,830.1 328.2,820.3 333.9,809.7 337.9,813.8 342.8,831.7 347.7,842.3 355.9,848.0 372.1,851.2 400.0,852.2 450.0,854.0 497.9,855.0" fill="none" stroke="#3050a8" stroke-width="4.0" stroke-linejoin="round" />
<polyline points="167.8,848.3 190.0,849.0 224.3,851.5 240.0,850.0 250.0,847.2 256.5,843.9 265.5,836.6 274.4,835.0 285.8,826.8 296.4,832.5 302.1,826.8 307.0,817.0 312.7,802.4 321.7,786.1 324.9,774.7 328.2,755.1 331.4,737.2 333.9,730.7 336.3,738.9 339.6,760.0 342.8,789.3 347.7,823.6 354.2,839.8 364.0,845.5 380.3,848.0 400.0,850.4 430.0,852.2 460.0,853.5 497.9,854.6" fill="none" stroke="#e02828" stroke-width="4.0" stroke-linejoin="round" />
<polyline points="160.4,854.6 200.0,855.0 250.0,854.8 292.3,854.8 298.9,851.2 306.2,848.8 311.6,839.8 319.2,849.3 323.3,844.7 334.4,699.0 339.3,782.8 353.4,852.9 364.0,854.2 400.0,854.8 468.2,855.0" fill="none" stroke="#2aa84a" stroke-width="1.5" stroke-linejoin="round" />
<rect x="67.1" y="690.2" width="157.1" height="102.5" fill="#fff" stroke="#222" stroke-width="1.5" />
<line x1="89.5" y1="707.5" x2="116.0" y2="707.5" stroke="#2aa84a" stroke-width="3.6" />
<line x1="89.5" y1="734.3" x2="116.0" y2="734.3" stroke="#111" stroke-width="3.6" />
<line x1="89.5" y1="756.7" x2="116.0" y2="756.7" stroke="#e02828" stroke-width="3.6" />
<line x1="89.5" y1="780.1" x2="116.0" y2="780.1" stroke="#3050a8" stroke-width="3.6" />
<polyline points="564.8,1010.7 565.3,1011.4 565.8,1011.4 566.3,1009.4 566.8,1008.8 567.3,1010.3 567.8,1009.9 568.3,1012.0 568.8,1011.5 569.3,1011.2 569.8,1011.0 570.3,1011.4 570.8,1009.4 571.3,1010.5 571.8,1009.4 572.3,1012.4 572.8,1009.0 573.3,1012.0 573.8,1009.1 574.3,1011.5 574.8,1010.1 575.3,1010.4 575.8,1012.1 576.3,1008.8 576.8,1009.0 577.3,1012.4 577.8,1010.8 578.3,1009.1 578.8,1012.7 579.3,1012.5 579.8,1009.2 580.3,1010.4 580.8,1009.2 581.3,1009.9 581.8,1011.2 582.3,1009.3 582.8,1011.4 583.3,1008.8 583.8,1009.3 584.3,1011.8 584.8,1010.1 585.3,1010.1 585.8,1010.7 586.3,1010.1 586.8,1009.6 587.3,1007.9 587.8,1010.1 588.3,1008.8 588.8,995.7 589.3,951.4 589.8,896.1 590.3,904.1 590.8,962.8 591.3,998.9 591.8,1006.2 592.3,1008.3 592.8,1009.3 593.3,1010.1 593.8,1011.5 594.3,1010.4 594.8,1008.6 595.3,1011.8 595.8,1010.3 596.3,1010.7 596.8,1009.5 597.3,1010.4 597.8,1010.2 598.3,1011.8 598.8,1009.1 599.3,1010.9 599.8,1009.4 600.3,1011.5 600.8,1008.9 601.3,1009.8 601.8,1010.1 602.3,1011.3 602.8,1009.0 603.3,1010.6 603.8,1009.6 604.3,1009.9 604.8,1010.7 605.3,1012.6 605.8,1010.7 606.3,1012.6 606.8,1009.4 607.3,1012.5 607.8,1010.2 608.3,1009.5 608.8,1011.8 609.3,1012.4 609.8,1008.8 610.3,1009.8 610.8,1011.9 611.3,1010.1 611.8,1009.7 612.3,1008.8 612.8,1008.9 613.3,1011.3 613.8,1012.7 614.3,1012.8 614.8,1010.8 615.3,1008.9 615.8,1010.1 616.3,1011.9 616.8,1012.1 617.3,1011.3 617.8,1009.7 618.3,1010.9 618.8,1010.7 619.3,1011.3 619.8,1009.8 620.3,1012.6 620.8,1012.4 621.3,1009.4 621.8,1009.9 622.3,1012.3 622.8,1009.9 623.3,1012.6 623.8,1010.8 624.3,1011.6 624.8,1011.6 625.3,1009.6 625.8,1009.9 626.3,1009.8 626.8,1011.5 627.3,1011.6 627.8,1009.3 628.3,1012.3 628.8,1010.5 629.3,1009.7 629.8,1010.5 630.3,1012.7 630.8,1011.0 631.3,1011.3 631.8,1012.5 632.3,1012.6 632.8,1011.8 633.3,1010.5 633.8,1011.1 634.3,1012.4 634.8,1011.9 635.3,1011.1 635.8,1010.2 636.3,1010.3 636.8,1011.7 637.3,1011.0 637.8,1008.9 638.3,1011.6 638.8,1012.4 639.3,1012.0 639.8,1012.4 640.3,1012.4 640.8,1010.9 641.3,1011.9 641.8,1010.3 642.3,1009.2 642.8,1010.2 643.3,1010.0 643.8,1012.5 644.3,1011.5 644.8,1010.9 645.3,1011.3 645.8,1009.3 646.3,1010.9 646.8,1011.6 647.3,1010.4 647.8,1009.8 648.3,1010.4 648.8,1010.1 649.3,1011.5 649.8,1009.3 650.3,1009.1 650.8,1010.0 651.3,1011.6 651.8,1011.8 652.3,1011.4 652.8,1012.5 653.3,1010.2 653.8,1008.9 654.3,1010.7 654.8,1010.6 655.3,1009.5 655.8,1011.4 656.3,1010.1 656.8,1009.7 657.3,1010.1 657.8,1012.6 658.3,1008.8 658.8,1010.2 659.3,1009.9 659.8,1009.6 660.3,1010.5 660.8,1009.7 661.3,1012.5 661.8,1010.8 662.3,1011.6 662.8,1009.4 663.3,1010.6 663.8,1011.2 664.3,1012.1 664.8,1009.8 665.3,1010.6 665.8,1012.2 666.3,1012.1 666.8,1009.7 667.3,1010.9 667.8,1011.8 668.3,1010.4 668.8,1011.5 669.3,1011.4 669.8,1012.7 670.3,1011.0 670.8,1011.5 671.3,1010.2 671.8,1011.7 672.3,1010.1 672.8,1010.8 673.3,1010.2 673.8,1010.0 674.3,1009.3 674.8,1009.7 675.3,1010.9 675.8,1009.8 676.3,1008.9 676.8,1012.0 677.3,1009.9 677.8,1012.5 678.3,1011.2 678.8,1010.3 679.3,1012.2 679.8,1012.3 680.3,1010.0 680.8,1009.3 681.3,1011.3 681.8,1012.1 682.3,1011.2 682.8,1011.9 683.3,1010.4 683.8,1011.2 684.3,1009.8 684.8,1010.4 685.3,1010.3 685.8,1010.3 686.3,1010.3 686.8,1012.0 687.3,1009.4 687.8,1009.6 688.3,1009.7 688.8,1012.6 689.3,1010.8 689.8,1008.9 690.3,1012.1 690.8,1012.2 691.3,1012.0 691.8,1010.1 692.3,1011.6 692.8,1009.9 693.3,1009.2 693.8,1012.2 694.3,1012.0 694.8,1009.5 695.3,1012.2 695.8,1008.8 696.3,1009.9 696.8,1008.7 697.3,1009.3 697.8,1009.3 698.3,1011.5 698.8,1009.8 699.3,1009.4 699.8,1009.3 700.3,1009.9 700.8,1012.0 701.3,1011.0 701.8,1009.0 702.3,1011.3 702.8,1010.7 703.3,1010.3 703.8,1010.6 704.3,1011.1 704.8,1011.6 705.3,1010.4 705.8,1010.9 706.3,1010.2 706.8,1010.8 707.3,1009.8 707.8,1009.8 708.3,1010.1 708.8,1010.8 709.3,1008.9 709.8,1011.3 710.3,1009.4 710.8,1010.5 711.3,1009.5 711.8,1010.0 712.3,1008.0 712.8,1005.2 713.3,997.1 713.8,962.3 714.3,870.7 714.8,850.0 715.3,850.0 715.8,850.0 716.3,850.0 716.8,850.0 717.3,850.0 717.8,890.3 718.3,971.9 718.8,998.6 719.3,1006.7 719.8,1007.9 720.3,1010.0 720.8,1010.5 721.3,1010.0 721.8,1011.0 722.3,1007.5 722.8,1008.4 723.3,1011.3 723.8,1009.5 724.3,1008.5 724.8,1010.6 725.3,1009.2 725.8,1009.5 726.3,1008.3 726.8,1007.5 727.3,1006.1 727.8,1005.5 728.3,987.8 728.8,904.9 729.3,850.0 729.8,850.0 730.3,926.1 730.8,992.3 731.3,1007.8 731.8,1008.5 732.3,1009.5 732.8,1007.3 733.3,1008.4 733.8,1009.6 734.3,1010.8 734.8,1011.2 735.3,1011.0 735.8,1009.3 736.3,1009.4 736.8,1011.3 737.3,1011.6 737.8,1009.3 738.3,1007.4 738.8,1003.6 739.3,968.6 739.8,901.7 740.3,912.3 740.8,979.0 741.3,1005.7 741.8,1007.4 742.3,1009.6 742.8,1011.5 743.3,1010.8 743.8,1008.9 744.3,1009.6 744.8,1008.3 745.3,1010.7 745.8,1010.2 746.3,1008.1 746.8,1009.3 747.3,1008.9 747.8,1007.6 748.3,1001.0 748.8,962.8 749.3,850.0 749.8,850.0 750.3,850.0 750.8,963.6 751.3,1001.3 751.8,1006.0 752.3,1008.1 752.8,1007.9 753.3,1008.8 753.8,1009.2 754.3,1009.3 754.8,1011.7 755.3,1009.2 755.8,1009.4 756.3,1010.8 756.8,1009.7 757.3,1010.2 757.8,1010.7 758.3,1008.4 758.8,1010.7 759.3,1008.3 759.8,1008.7 760.3,1010.8 760.8,1011.2 761.3,1009.5 761.8,1006.6 762.3,1005.3 762.8,990.7 763.3,932.2 763.8,850.0 764.3,850.0 764.8,862.3 765.3,964.2 765.8,1000.5 766.3,1006.9 766.8,1010.2 767.3,1008.8 767.8,1011.1 768.3,1009.2 768.8,1009.7 769.3,1009.4 769.8,1010.9 770.3,1011.0 770.8,1009.0 771.3,1009.9 771.8,1009.6 772.3,997.4 772.8,968.1 773.3,973.5 773.8,1002.3 774.3,1008.7 774.8,1009.2 775.3,1008.1 775.8,1010.6 776.3,1007.7 776.8,1003.4 777.3,1006.1 777.8,1008.9 778.3,1007.9 778.8,1010.6 779.3,1006.9 779.8,1004.1 780.3,1004.3 780.8,1007.5 781.3,1008.0 781.8,1008.6 782.3,1009.1 782.8,1009.9 783.3,1009.3 783.8,1009.1 784.3,1012.0 784.8,1010.2 785.3,1010.7 785.8,1011.1 786.3,1012.4 786.8,1009.3 787.3,1009.6 787.8,1012.2 788.3,1012.4 788.8,1012.5 789.3,1010.8 789.8,1010.2 790.3,1009.5 790.8,1012.4 791.3,1011.8 791.8,1010.9 792.3,1011.9 792.8,1009.8 793.3,1010.9 793.8,1012.4 794.3,1009.2 794.8,1011.2 795.3,1009.5 795.8,1012.1 796.3,1012.1 796.8,1011.3 797.3,1010.5 797.8,1008.8 798.3,1010.7 798.8,1010.2 799.3,1010.4 799.8,1009.1 800.3,1012.4 800.8,1010.8 801.3,1011.0 801.8,1012.1 802.3,1012.3 802.8,1011.0 803.3,1010.9 803.8,1012.1 804.3,1010.2 804.8,1012.4 805.3,1008.9 805.8,1011.9 806.3,1010.9 806.8,1011.2 807.3,1012.7 807.8,1009.6 808.3,1010.4 808.8,1011.9 809.3,1011.7 809.8,1010.8 810.3,1011.9 810.8,1011.5 811.3,1012.2 811.8,1011.3 812.3,1010.2 812.8,1009.9 813.3,1009.1 813.8,1009.2 814.3,1008.9 814.8,1012.6 815.3,1009.3 815.8,1011.1 816.3,1009.2 816.8,1012.5 817.3,1010.8 817.8,1009.3 818.3,1011.1 818.8,1006.6 819.3,1001.6 819.8,1004.0 820.3,1009.4 820.8,1011.2 821.3,1009.7 821.8,1010.9 822.3,1011.4 822.8,1011.6 823.3,1011.7 823.8,1010.0 824.3,1004.4 824.8,1006.9 825.3,1009.2 825.8,1009.1 826.3,1008.5 826.8,1010.9 827.3,1009.8 827.8,1008.7 828.3,1010.3 828.8,1009.9 829.3,1009.4 829.8,1010.1 830.3,1009.8 830.8,1009.3 831.3,1010.5 831.8,1008.7 832.3,997.5 832.8,948.7 833.3,850.0 833.8,850.0 834.3,875.1 834.8,975.9 835.3,1005.6 835.8,1008.5 836.3,1009.7 836.8,1008.2 837.3,1008.2 837.8,1011.8 838.3,1008.4 838.8,1009.0 839.3,1010.1 839.8,1011.7 840.3,1011.2 840.8,1012.5 841.3,1011.7 841.8,1010.3 842.3,1012.2 842.8,1009.9 843.3,1008.8 843.8,1012.5 844.3,1012.2 844.8,1011.3 845.3,1010.6 845.8,1009.5 846.3,1009.6 846.8,1009.0 847.3,1009.1 847.8,1010.6 848.3,1012.3 848.8,1012.5 849.3,1010.8 849.8,1011.4 850.3,1010.6 850.8,1011.8 851.3,1011.6 851.8,1012.7 852.3,1012.1 852.8,1011.5 853.3,1011.1 853.8,1009.4 854.3,1010.6 854.8,1010.5 855.3,1009.4 855.8,1009.6 856.3,1010.4 856.8,1009.5 857.3,1011.3 857.8,1010.1 858.3,1012.7 858.8,1011.5 859.3,1010.8 859.8,1010.5 860.3,1010.3 860.8,1009.6 861.3,1012.6 861.8,1012.4 862.3,1011.4 862.8,1011.4 863.3,1009.3 863.8,1010.9 864.3,1009.4 864.8,1010.1 865.3,1011.1 865.8,1009.5 866.3,1009.7 866.8,1011.7 867.3,1010.7 867.8,1012.3 868.3,1009.4 868.8,1009.1 869.3,1012.5 869.8,1011.2 870.3,1011.5 870.8,1011.0 871.3,1009.4 871.8,1012.7 872.3,1010.8 872.8,1012.4 873.3,1009.4 873.8,1009.9 874.3,1011.0 874.8,1009.8 875.3,1012.2 875.8,1009.8 876.3,1009.1 876.8,1009.4 877.3,1009.8 877.8,1012.5 878.3,1012.2 878.8,1011.4 879.3,1010.4 879.8,1008.9 880.3,1012.0 880.8,1009.1 881.3,1009.4 881.8,1010.3 882.3,1011.9 882.8,1009.0 883.3,1007.5 883.8,1003.2 884.3,974.2 884.8,963.8 885.3,986.6 885.8,1005.5 886.3,1008.7 886.8,1010.1 887.3,1012.2 887.8,1011.9 888.3,1010.8 888.8,1009.0 889.3,1009.4 889.8,1009.9 890.3,1011.9 890.8,1012.4 891.3,1008.8 891.8,1010.1 892.3,1012.6 892.8,1009.4 893.3,1009.1 893.8,1009.8 894.3,1012.3 894.8,1009.8 895.3,1011.7 895.8,1009.2 896.3,1011.4 896.8,1009.5 897.3,1011.2 897.8,1011.7 898.3,1012.3 898.8,1010.5 899.3,1012.7 899.8,1010.4 900.3,1012.6 900.8,1012.4 901.3,1012.8 901.8,1009.2 902.3,1009.9 902.8,1011.6 903.3,1012.3 903.8,1009.8 904.3,1011.9 904.8,1010.7 905.3,1008.8 905.8,1009.1 906.3,1008.8 906.8,1009.7 907.3,1012.5 907.8,1011.5 908.3,1012.2 908.8,1012.5 909.3,1010.4 909.8,1011.6 910.3,1011.4 910.8,1011.6 911.3,1009.2 911.8,1012.3 912.3,1009.4 912.8,1010.6 913.3,1011.5 913.8,1011.8 914.3,1012.1 914.8,1010.0 915.3,1010.0 915.8,1011.7 916.3,1009.0 916.8,1012.3 917.3,1010.1 917.8,1010.4 918.3,1010.0 918.8,1011.6 919.3,1009.5 919.8,1009.3 920.3,1009.1 920.8,1009.3 921.3,1011.3 921.8,1012.7 922.3,1008.8 922.8,1010.6 923.3,1010.2 923.8,1010.0 924.3,1010.2 924.8,1009.2 925.3,1010.5 925.8,1009.9 926.3,1009.0 926.8,1009.3 927.3,1012.5 927.8,1011.7 928.3,1012.7 928.8,1012.0 929.3,1011.7 929.8,1009.7 930.3,1009.2 930.8,1012.7 931.3,1011.5 931.8,1011.7 932.3,1009.4 932.8,1012.0 933.3,1010.9 933.8,1009.1 934.3,1009.6 934.8,1012.7 935.3,1011.3 935.8,1009.2 936.3,1009.1 936.8,1011.8 937.3,1010.2 937.8,1010.7 938.3,1009.3 938.8,1009.5 939.3,1010.8 939.8,1010.5 940.3,1009.5 940.8,1009.4 941.3,1010.6 941.8,1009.2 942.3,1009.0 942.8,1010.7 943.3,1009.0 943.8,1011.7 944.3,1011.9 944.8,1011.6 945.3,1012.6 945.8,1009.5 946.3,1010.5 946.8,1010.5 947.3,1009.1 947.8,1012.2 948.3,1009.0 948.8,1012.7 949.3,1011.5 949.8,1012.7 950.3,1009.0 950.8,1012.4 951.3,1012.7 951.8,1011.9 952.3,1011.1 952.8,1011.4 953.3,1010.7 953.8,1012.2 954.3,1011.1 954.8,1011.0 955.3,1010.4 955.8,1011.3 956.3,1011.1 956.8,1012.6 957.3,1011.9 957.8,1010.1 958.3,1011.7 958.8,1009.7 959.3,1010.7 959.8,1010.9 960.3,1011.7 960.8,1009.1 961.3,1009.4 961.8,1009.5 962.3,1011.3 962.8,1009.5 963.3,1011.0 963.8,1012.3 964.3,1010.5 964.8,1009.7 965.3,1011.2 965.8,1010.4 966.3,1010.5 966.8,1009.5 967.3,1011.5 967.8,1010.2 968.3,1012.7 968.8,1010.8 969.3,1011.5 969.8,1012.5 970.3,1012.7 970.8,1008.9 971.3,1012.5 971.8,1009.2 972.3,1012.6 972.8,1012.0 973.3,1009.8 973.8,1011.7 974.3,1011.0 974.8,1010.6 975.3,1011.3 975.8,1010.6 976.3,1011.4 976.8,1011.6 977.3,1008.8 977.8,1011.4 978.3,1011.6 978.8,1012.3 979.3,1010.9 979.8,1011.0 980.3,1009.4 980.8,1009.6 981.3,1012.4 981.8,1009.0 982.3,1012.4 982.8,1009.3 983.3,1010.3 983.8,1011.3 984.3,1008.9 984.8,1010.6 985.3,1012.0 985.8,1010.3 986.3,1009.5 986.8,1009.0 987.3,1012.6 987.8,1009.2 988.3,1011.5 988.8,1011.3 989.3,1009.9 989.8,1011.0 990.3,1011.5 990.8,1009.6 991.3,1009.8 991.8,1012.5 992.3,1009.6 992.8,1010.7 993.3,1010.6 993.8,1011.9 994.3,1012.2 994.8,1011.8 995.3,1011.3 995.8,1010.9 996.3,1009.1 996.8,1011.1 997.3,1010.5 997.8,1011.8 998.3,1010.2 998.8,1009.2 999.3,1010.0 999.8,1010.4 1000.3,1005.0 1000.8,1002.5 1001.3,1003.2 1001.8,1008.0 1002.3,1009.5 1002.8,1010.6 1003.3,1009.2 1003.8,1012.5 1004.3,1010.1 1004.8,1008.8 1005.3,1009.7 1005.8,1010.8 1006.3,1011.2 1006.8,1012.0 1007.3,1009.1 1007.8,1012.7 1008.3,1012.2 1008.8,1010.8 1009.3,1011.4 1009.8,1010.0 1010.3,1009.4 1010.8,1008.8 1011.3,1012.6 1011.8,1012.4 1012.3,1010.6 1012.8,1011.2 1013.3,1010.7 1013.8,1011.5 1014.3,1009.2 1014.8,1011.8 1015.3,1009.5 1015.8,1011.2 1016.3,1011.3 1016.8,1012.2 1017.3,1011.2 1017.8,1009.5 1018.3,1012.1 1018.8,1010.3 1019.3,1011.0 1019.8,1012.0 1020.3,1012.7 1020.8,1009.2 1021.3,1010.6 1021.8,1010.0 1022.3,1012.2 1022.8,1010.4 1023.3,1012.4 1023.8,1012.0 1024.3,1010.5 1024.8,1011.8 1025.3,1011.5 1025.8,1009.3 1026.3,1010.0 1026.8,1009.3 1027.3,1012.1 1027.8,1010.4 1028.3,1010.0 1028.8,1011.7 1029.3,1012.7 1029.8,1009.3 1030.3,1011.6 1030.8,1009.7 1031.3,1011.9 1031.8,1011.8 1032.3,1011.9 1032.8,1011.1 1033.3,1009.3 1033.8,1012.2 1034.3,1009.2 1034.8,1011.1 1035.3,1012.6 1035.8,1009.8 1036.3,1010.7 1036.8,1011.5 1037.3,1011.3 1037.8,1010.0 1038.3,1010.4 1038.8,1012.3 1039.3,1011.6 1039.8,1009.4 1040.3,1011.4 1040.8,1012.0 1041.3,1010.7 1041.8,1009.8 1042.3,999.9 1042.8,991.7 1043.3,998.2 1043.8,1005.1 1044.3,1008.4 1044.8,1009.1 1045.3,1012.1 1045.8,1011.9 1046.3,1009.5 1046.8,1011.7 1047.3,1009.5 1047.8,1011.2 1048.3,1008.8 1048.8,1011.0 1049.3,1011.7 1049.8,1010.7 1050.3,1011.2 1050.8,1009.2 1051.3,1010.5 1051.8,1011.8 1052.3,1010.2 1052.8,1011.6 1053.3,1010.9 1053.8,1011.6 1054.3,1009.9 1054.8,998.9 1055.3,990.3 1055.8,1000.9 1056.3,1008.5 1056.8,1011.1 1057.3,1009.8 1057.8,1009.6 1058.3,1001.7 1058.8,984.5 1059.3,980.9 1059.8,1001.0 1060.3,1009.2 1060.8,1010.7 1061.3,1010.6 1061.8,1010.4 1062.3,1009.3 1062.8,1011.2 1063.3,1010.4 1063.8,1010.0 1064.3,1010.7 1064.8,1009.2 1065.3,1011.3 1065.8,1011.8 1066.3,1010.1 1066.8,1009.3 1067.3,1012.5 1067.8,1011.1 1068.3,1009.9 1068.8,1008.9 1069.3,1010.8 1069.8,1009.3 1070.3,1011.8 1070.8,1010.3 1071.3,1002.4 1071.8,982.4 1072.3,970.4 1072.8,991.2 1073.3,1007.1 1073.8,1011.1 1074.3,1009.4 1074.8,1009.5 1075.3,989.4 1075.8,957.6 1076.3,977.7 1076.8,1003.3 1077.3,1007.7 1077.8,1002.1 1078.3,990.6 1078.8,996.0 1079.3,1006.4 1079.8,1010.6 1080.3,1011.1 1080.8,1010.8 1081.3,1009.2 1081.8,1012.1 1082.3,1010.4 1082.8,1010.8 1083.3,1012.2 1083.8,1009.2 1084.3,1010.7 1084.8,1010.4 1085.3,1011.2 1085.8,1009.6 1086.3,1009.6 1086.8,1009.6 1087.3,1010.9 1087.8,1009.9 1088.3,1012.3 1088.8,1012.1 1089.3,1011.5 1089.8,1010.2 1090.3,1011.8 1090.8,1010.6 1091.3,1011.3 1091.8,1011.6 1092.3,1005.9 1092.8,991.7 1093.3,949.2 1093.8,940.0 1094.3,982.9 1094.8,1004.1 1095.3,1011.2 1095.8,1008.9 1096.3,1008.3 1096.8,1008.8 1097.3,1010.6 1097.8,1011.3 1098.3,1012.2 1098.8,1011.3 1099.3,1009.1 1099.8,1012.4 1100.3,1012.2 1100.8,1011.9 1101.3,1012.3 1101.8,1012.0 1102.3,1011.4 1102.8,1011.7 1103.3,1008.7 1103.8,1012.5 1104.3,1008.4 1104.8,1009.6 1105.3,1004.9 1105.8,985.3 1106.3,980.9 1106.8,1001.9 1107.3,1008.8 1107.8,1011.0 1108.3,1008.6 1108.8,1009.9 1109.3,1011.1 1109.8,1010.3 1110.3,1008.2 1110.8,1006.9 1111.3,993.6 1111.8,982.4 1112.3,1000.5 1112.8,1008.7 1113.3,1012.3 1113.8,1010.6 1114.3,1011.9 1114.8,1011.2 1115.3,1011.9 1115.8,1010.3 1116.3,1012.4 1116.8,1012.7 1117.3,1012.3 1117.8,1012.4 1118.3,1010.2 1118.8,1010.1 1119.3,1012.3 1119.8,1012.0 1120.3,1011.1 1120.8,1011.0 1121.3,1008.8 1121.8,1011.0 1122.3,1008.9 1122.8,1010.8 1123.3,1009.6 1123.8,1011.1 1124.3,1009.3 1124.8,1009.9 1125.3,1011.6 1125.8,1010.7 1126.3,1008.4 1126.8,1008.1 1127.3,990.8 1127.8,977.2 1128.3,986.1 1128.8,1002.5 1129.3,1009.7 1129.8,1011.9 1130.3,1008.9 1130.8,1010.6 1131.3,1009.6 1131.8,1011.1 1132.3,1010.5 1132.8,1011.2 1133.3,1011.9 1133.8,1010.7 1134.3,1010.4 1134.8,1011.0 1135.3,1009.4 1135.8,1012.4 1136.3,1010.3 1136.8,1010.7 1137.3,1012.1 1137.8,1012.1 1138.3,1012.7 1138.8,1011.6 1139.3,1010.9 1139.8,1010.5 1140.3,1011.8 1140.8,1011.2 1141.3,1008.8 1141.8,1011.0 1142.3,1011.4 1142.8,1010.1 1143.3,1012.0 1143.8,1011.6 1144.3,1012.2 1144.8,1009.8 1145.3,1011.2 1145.8,1010.7 1146.3,1009.7 1146.8,1009.3 1147.3,1007.5 1147.8,1003.0 1148.3,969.5 1148.8,941.2 1149.3,969.4 1149.8,1001.9 1150.3,1009.1 1150.8,1011.5 1151.3,1008.4 1151.8,1008.9 1152.3,1009.1 1152.8,1007.0 1153.3,1004.4 1153.8,1008.1 1154.3,1011.9 1154.8,1012.4 1155.3,1009.9 1155.8,1011.7 1156.3,1010.0 1156.8,1009.0 1157.3,1012.3 1157.8,1009.2 1158.3,1012.7 1158.8,1010.6 1159.3,1012.2 1159.8,1010.7 1160.3,1012.4 1160.8,1011.8 1161.3,1009.5 1161.8,1008.9 1162.3,1009.5 1162.8,1011.2 1163.3,1009.2 1163.8,1009.1 1164.3,1010.3 1164.8,1009.0 1165.3,1010.0 1165.8,1011.3 1166.3,1009.7 1166.8,1011.9 1167.3,1009.8 1167.8,1010.2 1168.3,1010.4 1168.8,1012.2 1169.3,1009.0 1169.8,1012.0 1170.3,1009.2 1170.8,1012.7 1171.3,1011.0 1171.8,1011.8 1172.3,1010.8 1172.8,1011.5 1173.3,1011.5 1173.8,1009.4 1174.3,1009.6 1174.8,1012.4 1175.3,1009.7 1175.8,1009.8 1176.3,1009.0 1176.8,1011.6 1177.3,1011.9 1177.8,1008.9 1178.3,1012.2 1178.8,1009.2 1179.3,1010.8 1179.8,1010.8 1180.3,1009.8 1180.8,1010.1 1181.3,1010.7 1181.8,1011.9 1182.3,1009.8 1182.8,1009.7 1183.3,1012.7 1183.8,1009.8 1184.3,1009.2 1184.8,1012.5 1185.3,1012.5 1185.8,1009.6 1186.3,1010.9 1186.8,1012.3 1187.3,1010.1 1187.8,1010.1 1188.3,1008.8 1188.8,1009.3 1189.3,1011.2 1189.8,1010.7 1190.3,1012.2 1190.8,1010.5 1191.3,1009.8 1191.8,1010.2 1192.3,1009.2 1192.8,1010.5 1193.3,1011.2 1193.8,1008.9 1194.3,1008.5 1194.8,998.0 1195.3,973.5 1195.8,975.9 1196.3,1000.5 1196.8,1007.4 1197.3,1008.7 1197.8,1011.7 1198.3,1011.4 1198.8,1011.1 1199.3,1010.9 1199.8,1010.1 1200.3,1012.1 1200.8,1010.8 1201.3,1012.0 1201.8,1011.7 1202.3,1010.1 1202.8,1012.0 1203.3,1010.2 1203.8,1011.2 1204.3,1012.1 1204.8,1012.6 1205.3,1011.3 1205.8,1009.6 1206.3,1009.4 1206.8,1012.1 1207.3,1010.0 1207.8,1009.4 1208.3,1011.1 1208.8,1010.5 1209.3,1011.7 1209.8,1009.5 1210.3,1010.8 1210.8,1012.6 1211.3,1009.5 1211.8,1010.3 1212.3,1010.4 1212.8,1009.3 1213.3,1009.4 1213.8,1010.0 1214.3,1011.0 1214.8,1009.3 1215.3,1011.3 1215.8,1010.3 1216.3,1010.0 1216.8,1012.2 1217.3,1011.8 1217.8,1010.6 1218.3,1009.8 1218.8,1010.8 1219.3,1011.4 1219.8,1011.8 1220.3,1011.4 1220.8,1008.8 1221.3,1009.4 1221.8,1012.8 1222.3,1011.0 1222.8,1010.8 1223.3,1009.3 1223.8,1011.9 1224.3,1012.1 1224.8,1010.0 1225.3,1009.9 1225.8,1009.1 1226.3,1010.0 1226.8,1010.8 1227.3,1010.6 1227.8,1008.8 1228.3,1009.2 1228.8,1009.7 1229.3,1012.1 1229.8,1012.7 1230.3,1012.2 1230.8,1010.8 1231.3,1010.2 1231.8,1012.4 1232.3,1011.8 1232.8,1011.4 1233.3,1011.6 1233.8,1012.5 1234.3,1010.9 1234.8,1009.8 1235.3,1011.7 1235.8,1012.5 1236.3,1009.7 1236.8,1010.3 1237.3,1011.8 1237.8,1012.0 1238.3,1009.0 1238.8,1012.0 1239.3,1009.8 1239.8,1009.3 1240.3,1009.0 1240.8,1010.6 1241.3,1010.6 1241.8,1009.5 1242.3,1011.6 1242.8,1009.5 1243.3,1012.5" fill="none" stroke="#111" stroke-width="1.7" stroke-linejoin="round" />
<polyline points="564.8,1009.4 565.3,1009.0 565.8,1008.8 566.3,1008.8 566.8,1009.1 567.3,1009.0 567.8,1009.3 568.3,1009.0 568.8,1009.0 569.3,1008.9 569.8,1009.4 570.3,1009.3 570.8,1009.2 571.3,1008.9 571.8,1009.1 572.3,1009.3 572.8,1009.2 573.3,1009.0 573.8,1009.0 574.3,1009.3 574.8,1008.8 575.3,1009.2 575.8,1009.2 576.3,1009.1 576.8,1009.1 577.3,1009.4 577.8,1009.0 578.3,1009.3 578.8,1009.2 579.3,1009.2 579.8,1008.8 580.3,1009.2 580.8,1009.0 581.3,1008.9 581.8,1009.3 582.3,1009.0 582.8,1009.1 583.3,1009.0 583.8,1008.9 584.3,1009.0 584.8,1009.2 585.3,1009.2 585.8,1009.2 586.3,1008.9 586.8,1009.0 587.3,1009.3 587.8,1009.1 588.3,1009.2 588.8,1009.1 589.3,1009.1 589.8,1008.8 590.3,1009.3 590.8,1009.3 591.3,1009.2 591.8,1008.9 592.3,1009.2 592.8,1009.2 593.3,1009.0 593.8,1009.0 594.3,1009.3 594.8,1009.0 595.3,1009.2 595.8,1008.8 596.3,1008.8 596.8,1008.8 597.3,1009.0 597.8,1009.4 598.3,1009.1 598.8,1009.1 599.3,1008.9 599.8,1009.1 600.3,1008.9 600.8,1008.8 601.3,1009.0 601.8,1009.0 602.3,1009.3 602.8,1009.1 603.3,1009.2 603.8,1009.0 604.3,1009.0 604.8,1008.9 605.3,1009.0 605.8,1009.4 606.3,1009.2 606.8,1009.0 607.3,1009.2 607.8,1009.3 608.3,1009.3 608.8,1009.1 609.3,1008.9 609.8,1008.8 610.3,1008.8 610.8,1009.3 611.3,1009.3 611.8,1009.2 612.3,1009.2 612.8,1008.9 613.3,1009.1 613.8,1008.8 614.3,1008.8 614.8,1009.2 615.3,1008.8 615.8,1009.0 616.3,1009.0 616.8,1009.3 617.3,1009.0 617.8,1008.9 618.3,1009.2 618.8,1008.9 619.3,1009.4 619.8,1009.4 620.3,1009.4 620.8,1009.2 621.3,1008.9 621.8,1008.9 622.3,1009.2 622.8,1009.1 623.3,1009.2 623.8,1008.9 624.3,1009.1 624.8,1009.3 625.3,1009.0 625.8,1009.3 626.3,1008.9 626.8,1009.2 627.3,1008.8 627.8,1008.9 628.3,1008.8 628.8,1008.9 629.3,1009.1 629.8,1009.3 630.3,1009.3 630.8,1009.3 631.3,1008.9 631.8,1009.4 632.3,1009.1 632.8,1009.2 633.3,1009.2 633.8,1009.0 634.3,1009.0 634.8,1009.1 635.3,1009.0 635.8,1009.2 636.3,1009.3 636.8,1009.2 637.3,1008.8 637.8,1009.3 638.3,1009.3 638.8,1009.4 639.3,1008.9 639.8,1009.4 640.3,1009.0 640.8,1009.1 641.3,1008.9 641.8,1009.0 642.3,1009.1 642.8,1009.1 643.3,1009.0 643.8,1009.1 644.3,1009.1 644.8,1008.9 645.3,1009.2 645.8,1009.0 646.3,1008.8 646.8,1008.9 647.3,1009.1 647.8,1009.2 648.3,1008.8 648.8,1009.3 649.3,1008.8 649.8,1009.4 650.3,1008.8 650.8,1009.0 651.3,1009.0 651.8,1009.2 652.3,1008.9 652.8,1008.9 653.3,1009.3 653.8,1009.4 654.3,1008.8 654.8,1008.9 655.3,1009.0 655.8,1009.0 656.3,1009.2 656.8,1009.4 657.3,1009.2 657.8,1009.0 658.3,1008.9 658.8,1008.8 659.3,1008.8 659.8,1009.3 660.3,1009.3 660.8,1009.0 661.3,1008.9 661.8,1009.3 662.3,1008.9 662.8,1009.0 663.3,1009.3 663.8,1008.8 664.3,1009.0 664.8,1008.9 665.3,1009.1 665.8,1009.4 666.3,1009.4 666.8,1009.3 667.3,1009.3 667.8,1009.0 668.3,1009.2 668.8,1009.2 669.3,1009.3 669.8,1009.0 670.3,1009.3 670.8,1008.9 671.3,1009.2 671.8,1009.4 672.3,1009.2 672.8,1009.3 673.3,1008.9 673.8,1009.0 674.3,1009.1 674.8,1009.3 675.3,1008.9 675.8,1009.1 676.3,1009.2 676.8,1009.2 677.3,1009.0 677.8,1008.9 678.3,1009.0 678.8,1008.9 679.3,1009.1 679.8,1009.1 680.3,1008.8 680.8,1009.4 681.3,1009.3 681.8,1008.9 682.3,1009.0 682.8,1009.4 683.3,1008.8 683.8,1008.9 684.3,1009.0 684.8,1009.3 685.3,1008.8 685.8,1009.1 686.3,1009.3 686.8,1009.2 687.3,1009.1 687.8,1009.2 688.3,1009.2 688.8,1009.1 689.3,1009.0 689.8,1009.2 690.3,1009.3 690.8,1008.9 691.3,1009.2 691.8,1009.1 692.3,1008.9 692.8,1009.0 693.3,1008.8 693.8,1009.3 694.3,1009.1 694.8,1009.1 695.3,1009.3 695.8,1009.3 696.3,1009.0 696.8,1008.8 697.3,1009.2 697.8,1008.9 698.3,1009.2 698.8,1008.9 699.3,1009.3 699.8,1009.3 700.3,1008.9 700.8,1009.3 701.3,1008.9 701.8,1008.9 702.3,1009.1 702.8,1008.9 703.3,1009.0 703.8,1009.0 704.3,1009.3 704.8,1009.3 705.3,1009.3 705.8,1008.9 706.3,1009.0 706.8,1009.3 707.3,1009.0 707.8,1008.9 708.3,1009.1 708.8,1008.9 709.3,1009.2 709.8,1009.0 710.3,1008.9 710.8,1009.3 711.3,1009.3 711.8,1008.9 712.3,1008.9 712.8,1009.1 713.3,1008.9 713.8,1009.4 714.3,1009.1 714.8,1008.8 715.3,1008.9 715.8,1008.9 716.3,1009.0 716.8,1009.2 717.3,1009.3 717.8,1009.0 718.3,1009.1 718.8,1009.4 719.3,1009.1 719.8,1009.0 720.3,1009.3 720.8,1009.2 721.3,1009.0 721.8,1009.3 722.3,1008.9 722.8,1008.9 723.3,1008.9 723.8,1009.0 724.3,1009.3 724.8,1009.0 725.3,1008.8 725.8,1008.9 726.3,1009.3 726.8,1009.1 727.3,1009.4 727.8,1009.0 728.3,1008.9 728.8,1008.9 729.3,1009.3 729.8,1009.1 730.3,1009.3 730.8,1009.4 731.3,1009.1 731.8,1008.9 732.3,1009.3 732.8,1009.3 733.3,1009.1 733.8,1009.1 734.3,1009.3 734.8,1009.0 735.3,1008.8 735.8,1009.4 736.3,1009.1 736.8,1009.0 737.3,1009.3 737.8,1009.3 738.3,1009.1 738.8,1009.2 739.3,1009.4 739.8,1009.1 740.3,1009.1 740.8,1009.4 741.3,1008.9 741.8,1009.2 742.3,1008.9 742.8,1009.0 743.3,1009.3 743.8,1008.8 744.3,1009.3 744.8,1009.2 745.3,1009.4 745.8,1009.3 746.3,1009.2 746.8,1009.0 747.3,1008.9 747.8,1009.3 748.3,1009.3 748.8,1009.0 749.3,1009.0 749.8,1009.4 750.3,1009.0 750.8,1008.9 751.3,1008.9 751.8,1009.2 752.3,1009.3 752.8,1009.0 753.3,1009.2 753.8,1009.2 754.3,1009.2 754.8,1008.9 755.3,1009.3 755.8,1008.9 756.3,1008.9 756.8,1009.2 757.3,1009.3 757.8,1009.2 758.3,1009.3 758.8,1009.3 759.3,1009.2 759.8,1009.4 760.3,1009.4 760.8,1009.3 761.3,1008.9 761.8,1009.0 762.3,1009.1 762.8,1009.1 763.3,1009.1 763.8,1009.3 764.3,1009.2 764.8,1009.4 765.3,1009.4 765.8,1008.8 766.3,1009.0 766.8,1009.4 767.3,1008.9 767.8,1009.0 768.3,1008.9 768.8,1009.2 769.3,1009.1 769.8,1009.3 770.3,1009.4 770.8,1009.3 771.3,1009.0 771.8,1009.2 772.3,1009.4 772.8,1009.1 773.3,1009.1 773.8,1009.4 774.3,1009.1 774.8,1008.8 775.3,1009.1 775.8,1008.9 776.3,1008.8 776.8,1009.3 777.3,1009.3 777.8,1009.0 778.3,1009.4 778.8,1008.9 779.3,1008.8 779.8,1008.8 780.3,1009.1 780.8,1009.0 781.3,1009.2 781.8,1009.4 782.3,1009.1 782.8,1009.3 783.3,1008.9 783.8,1009.2 784.3,1008.9 784.8,1009.3 785.3,1009.1 785.8,1009.0 786.3,1009.0 786.8,1008.9 787.3,1009.2 787.8,1009.1 788.3,1008.9 788.8,1009.0 789.3,1009.0 789.8,1009.0 790.3,1008.9 790.8,1009.1 791.3,1009.2 791.8,1008.8 792.3,1009.2 792.8,1008.9 793.3,1009.1 793.8,1009.3 794.3,1009.0 794.8,1009.3 795.3,1008.9 795.8,1009.0 796.3,1008.8 796.8,1008.9 797.3,1009.2 797.8,1009.4 798.3,1009.3 798.8,1008.9 799.3,1009.2 799.8,1009.2 800.3,1009.0 800.8,1008.8 801.3,1009.3 801.8,1009.4 802.3,1009.0 802.8,1008.9 803.3,1009.3 803.8,1008.9 804.3,1008.8 804.8,1009.4 805.3,1008.9 805.8,1008.9 806.3,1009.2 806.8,1009.2 807.3,1009.2 807.8,1008.9 808.3,1009.3 808.8,1009.0 809.3,1008.9 809.8,1009.3 810.3,1008.9 810.8,1009.1 811.3,1009.0 811.8,1009.1 812.3,1009.3 812.8,1008.9 813.3,1009.4 813.8,1009.1 814.3,1009.3 814.8,1009.1 815.3,1009.0 815.8,1009.1 816.3,1008.8 816.8,1008.9 817.3,1008.9 817.8,1008.9 818.3,1009.0 818.8,1008.9 819.3,1009.4 819.8,1008.8 820.3,1009.0 820.8,1008.8 821.3,1009.2 821.8,1009.3 822.3,1009.1 822.8,1009.0 823.3,1009.3 823.8,1009.2 824.3,1009.2 824.8,1009.2 825.3,1009.0 825.8,1008.8 826.3,1009.0 826.8,1008.9 827.3,1009.2 827.8,1009.3 828.3,1008.8 828.8,1009.1 829.3,1009.1 829.8,1009.1 830.3,1008.9 830.8,1009.4 831.3,1009.3 831.8,1009.3 832.3,1009.3 832.8,1009.4 833.3,1009.3 833.8,1009.3 834.3,1009.2 834.8,1008.8 835.3,1009.0 835.8,1009.0 836.3,1009.3 836.8,1008.8 837.3,1009.2 837.8,1009.1 838.3,1008.9 838.8,1009.0 839.3,1009.0 839.8,1009.2 840.3,1009.0 840.8,1008.9 841.3,1009.3 841.8,1009.0 842.3,1009.3 842.8,1008.9 843.3,1009.0 843.8,1008.9 844.3,1008.9 844.8,1009.1 845.3,1009.3 845.8,1009.1 846.3,1009.3 846.8,1009.0 847.3,1008.8 847.8,1009.3 848.3,1009.0 848.8,1009.0 849.3,1009.2 849.8,1009.4 850.3,1009.1 850.8,1009.1 851.3,1008.9 851.8,1008.8 852.3,1009.0 852.8,1008.9 853.3,1009.1 853.8,1008.9 854.3,1009.0 854.8,1009.0 855.3,1008.8 855.8,1009.3 856.3,1009.0 856.8,1009.2 857.3,1009.2 857.8,1009.2 858.3,1009.1 858.8,1008.9 859.3,1009.2 859.8,1009.0 860.3,1009.0 860.8,1009.3 861.3,1009.3 861.8,1009.3 862.3,1009.3 862.8,1009.2 863.3,1009.3 863.8,1009.2 864.3,1009.3 864.8,1008.9 865.3,1008.9 865.8,1008.9 866.3,1009.0 866.8,1009.4 867.3,1009.1 867.8,1009.0 868.3,1009.2 868.8,1009.0 869.3,1009.2 869.8,1009.2 870.3,1009.2 870.8,1009.2 871.3,1009.0 871.8,1008.9 872.3,1008.9 872.8,1008.9 873.3,1009.0 873.8,1009.3 874.3,1009.3 874.8,1008.9 875.3,1009.2 875.8,1009.0 876.3,1009.0 876.8,1009.3 877.3,1009.2 877.8,1009.1 878.3,1009.4 878.8,1009.0 879.3,1009.0 879.8,1008.9 880.3,1009.0 880.8,1009.2 881.3,1008.8 881.8,1009.1 882.3,1008.9 882.8,1009.1 883.3,1008.8 883.8,1009.2 884.3,1009.1 884.8,1009.0 885.3,1004.3 885.8,982.7 886.3,955.7 886.8,969.7 887.3,998.9 887.8,1008.2 888.3,1009.3 888.8,1009.2 889.3,1009.2 889.8,1009.0 890.3,1009.1 890.8,1008.9 891.3,1009.2 891.8,1009.1 892.3,1009.4 892.8,1009.2 893.3,1009.2 893.8,1008.9 894.3,1009.4 894.8,1009.3 895.3,1009.0 895.8,1009.2 896.3,1009.2 896.8,1009.0 897.3,1009.0 897.8,1008.8 898.3,1008.9 898.8,1009.0 899.3,1009.0 899.8,1008.9 900.3,1009.3 900.8,1008.9 901.3,1009.0 901.8,1008.9 902.3,1009.0 902.8,1008.8 903.3,1008.9 903.8,1009.3 904.3,1009.2 904.8,1009.2 905.3,1009.1 905.8,1009.2 906.3,1008.9 906.8,1008.8 907.3,1009.1 907.8,1008.9 908.3,1008.8 908.8,1009.3 909.3,1009.2 909.8,1009.3 910.3,1009.0 910.8,1008.9 911.3,1009.3 911.8,1008.9 912.3,1009.0 912.8,1009.4 913.3,1009.2 913.8,1009.3 914.3,1009.3 914.8,1008.9 915.3,1008.9 915.8,1009.0 916.3,1009.3 916.8,1009.3 917.3,1008.9 917.8,1009.1 918.3,1008.8 918.8,1009.1 919.3,1009.3 919.8,1009.1 920.3,1009.0 920.8,1008.9 921.3,1009.3 921.8,1009.1 922.3,1008.8 922.8,1008.9 923.3,1008.9 923.8,1009.1 924.3,1008.9 924.8,1009.0 925.3,1008.9 925.8,1009.4 926.3,1009.2 926.8,1008.8 927.3,1009.2 927.8,1008.9 928.3,1009.3 928.8,1009.1 929.3,1009.3 929.8,1009.1 930.3,1009.2 930.8,1009.0 931.3,1009.2 931.8,1009.0 932.3,1008.9 932.8,1009.2 933.3,1009.4 933.8,1009.2 934.3,1008.9 934.8,1008.9 935.3,1008.9 935.8,1009.1 936.3,1009.0 936.8,1009.0 937.3,1009.2 937.8,1009.1 938.3,1008.9 938.8,1008.9 939.3,1009.2 939.8,1008.9 940.3,1009.2 940.8,1008.9 941.3,1009.0 941.8,1009.0 942.3,1009.3 942.8,1008.9 943.3,1009.3 943.8,1009.0 944.3,1008.9 944.8,1009.1 945.3,1009.3 945.8,1009.1 946.3,1008.9 946.8,1009.4 947.3,1008.9 947.8,1009.3 948.3,1009.3 948.8,1009.4 949.3,1009.4 949.8,1009.2 950.3,1009.2 950.8,1009.3 951.3,1009.3 951.8,1009.0 952.3,1009.3 952.8,1009.1 953.3,1009.2 953.8,1009.0 954.3,1009.2 954.8,1009.1 955.3,1008.9 955.8,1009.2 956.3,1008.9 956.8,1009.1 957.3,1009.3 957.8,1009.2 958.3,1008.9 958.8,1009.4 959.3,1008.9 959.8,1008.9 960.3,1008.8 960.8,1009.3 961.3,1009.0 961.8,1008.8 962.3,1009.0 962.8,1009.2 963.3,1009.0 963.8,1008.8 964.3,1009.0 964.8,1009.2 965.3,1009.3 965.8,1009.4 966.3,1009.4 966.8,1009.1 967.3,1008.9 967.8,1009.0 968.3,1009.3 968.8,1009.2 969.3,1009.1 969.8,1009.3 970.3,1009.0 970.8,1009.0 971.3,1009.1 971.8,1008.9 972.3,1009.3 972.8,1009.3 973.3,1009.0 973.8,1009.2 974.3,1009.0 974.8,1008.9 975.3,1008.8 975.8,1009.0 976.3,1009.0 976.8,1009.3 977.3,1009.1 977.8,1009.4 978.3,1009.2 978.8,1009.0 979.3,1009.1 979.8,1009.3 980.3,1008.9 980.8,1008.9 981.3,1008.9 981.8,1009.2 982.3,1009.4 982.8,1009.3 983.3,1009.3 983.8,1009.0 984.3,1009.4 984.8,1009.0 985.3,1009.0 985.8,1009.0 986.3,1009.3 986.8,1009.0 987.3,1009.3 987.8,1008.9 988.3,1009.2 988.8,1009.4 989.3,1009.1 989.8,1009.2 990.3,1009.3 990.8,1008.9 991.3,1009.2 991.8,1009.0 992.3,1008.8 992.8,1008.8 993.3,1009.1 993.8,1008.9 994.3,1009.1 994.8,1009.2 995.3,1009.0 995.8,1009.3 996.3,1008.9 996.8,1009.3 997.3,1009.2 997.8,1008.9 998.3,1009.1 998.8,1008.8 999.3,1009.2 999.8,1008.9 1000.3,1009.4 1000.8,1008.8 1001.3,1009.2 1001.8,1009.0 1002.3,1009.0 1002.8,1009.3 1003.3,1009.1 1003.8,1009.2 1004.3,1009.3 1004.8,1009.3 1005.3,1009.2 1005.8,1009.4 1006.3,1009.3 1006.8,1009.1 1007.3,1008.9 1007.8,1008.9 1008.3,1008.9 1008.8,1009.2 1009.3,1009.1 1009.8,1009.1 1010.3,1008.9 1010.8,1009.0 1011.3,1009.0 1011.8,1008.8 1012.3,1009.1 1012.8,1008.9 1013.3,1009.0 1013.8,1009.1 1014.3,1009.0 1014.8,1008.9 1015.3,1009.2 1015.8,1009.3 1016.3,1008.2 1016.8,999.5 1017.3,972.3 1017.8,958.6 1018.3,984.6 1018.8,1005.0 1019.3,1008.7 1019.8,1009.2 1020.3,1009.1 1020.8,1009.4 1021.3,1009.1 1021.8,1009.3 1022.3,1009.1 1022.8,1008.8 1023.3,1009.1 1023.8,1009.0 1024.3,1008.8 1024.8,1009.0 1025.3,1008.9 1025.8,1009.3 1026.3,1009.3 1026.8,1009.1 1027.3,1009.3 1027.8,1009.0 1028.3,1009.2 1028.8,1009.2 1029.3,1009.4 1029.8,1009.2 1030.3,1009.0 1030.8,1009.1 1031.3,1009.3 1031.8,1009.3 1032.3,1008.9 1032.8,1009.4 1033.3,1009.1 1033.8,1009.3 1034.3,1009.4 1034.8,1009.3 1035.3,1008.9 1035.8,1009.1 1036.3,1008.9 1036.8,1008.9 1037.3,1008.9 1037.8,1008.9 1038.3,1008.9 1038.8,1009.2 1039.3,1009.4 1039.8,1009.2 1040.3,1009.3 1040.8,1009.2 1041.3,1009.1 1041.8,1009.1 1042.3,1008.8 1042.8,1009.3 1043.3,1008.9 1043.8,1009.3 1044.3,1009.0 1044.8,1009.1 1045.3,1009.2 1045.8,1009.1 1046.3,1009.1 1046.8,1009.4 1047.3,1009.3 1047.8,1008.9 1048.3,1009.2 1048.8,1009.2 1049.3,1009.0 1049.8,1008.9 1050.3,1009.1 1050.8,1009.0 1051.3,1009.1 1051.8,1009.2 1052.3,1008.9 1052.8,1009.2 1053.3,1009.3 1053.8,1009.3 1054.3,1009.2 1054.8,1008.9 1055.3,1009.0 1055.8,1009.0 1056.3,1009.4 1056.8,1009.3 1057.3,1009.1 1057.8,1008.9 1058.3,1009.2 1058.8,1009.4 1059.3,1009.4 1059.8,1009.3 1060.3,1008.9 1060.8,1009.4 1061.3,1009.2 1061.8,1009.3 1062.3,1008.9 1062.8,1009.4 1063.3,1009.3 1063.8,1009.2 1064.3,1009.2 1064.8,1009.1 1065.3,1009.0 1065.8,1009.3 1066.3,1009.2 1066.8,1009.2 1067.3,1009.2 1067.8,1009.3 1068.3,1009.1 1068.8,1009.3 1069.3,1009.2 1069.8,1009.3 1070.3,1009.1 1070.8,1009.4 1071.3,1008.9 1071.8,1009.1 1072.3,1009.1 1072.8,1009.4 1073.3,1009.2 1073.8,1009.0 1074.3,1008.9 1074.8,1009.1 1075.3,1009.0 1075.8,1009.0 1076.3,1009.0 1076.8,1009.2 1077.3,1009.2 1077.8,1008.9 1078.3,1008.9 1078.8,1009.2 1079.3,1009.1 1079.8,1009.3 1080.3,1008.9 1080.8,1009.3 1081.3,1009.2 1081.8,1009.2 1082.3,1009.4 1082.8,1008.9 1083.3,1009.2 1083.8,1009.4 1084.3,1008.9 1084.8,1009.0 1085.3,1009.2 1085.8,1009.0 1086.3,1009.2 1086.8,1008.8 1087.3,1008.9 1087.8,1009.2 1088.3,1009.0 1088.8,1009.2 1089.3,1009.2 1089.8,1009.1 1090.3,1008.8 1090.8,1009.0 1091.3,1008.9 1091.8,1009.1 1092.3,1009.0 1092.8,1008.9 1093.3,1009.0 1093.8,1009.4 1094.3,1009.0 1094.8,1009.3 1095.3,1008.9 1095.8,1009.2 1096.3,1009.0 1096.8,1009.0 1097.3,1008.9 1097.8,1009.2 1098.3,1009.0 1098.8,1009.0 1099.3,1009.0 1099.8,1009.1 1100.3,1008.9 1100.8,1008.9 1101.3,1009.3 1101.8,1009.2 1102.3,1009.3 1102.8,1009.2 1103.3,1009.0 1103.8,1009.4 1104.3,1009.1 1104.8,1008.8 1105.3,1009.2 1105.8,1009.3 1106.3,1008.8 1106.8,1009.2 1107.3,1009.0 1107.8,1008.9 1108.3,1009.1 1108.8,1009.2 1109.3,1009.3 1109.8,1009.4 1110.3,1009.1 1110.8,1008.9 1111.3,1009.2 1111.8,1009.0 1112.3,1009.2 1112.8,1009.1 1113.3,1009.1 1113.8,1009.2 1114.3,1009.2 1114.8,1009.4 1115.3,1009.1 1115.8,1009.0 1116.3,1009.2 1116.8,1009.4 1117.3,1009.0 1117.8,1008.8 1118.3,1008.8 1118.8,1009.3 1119.3,1009.4 1119.8,1009.1 1120.3,1008.9 1120.8,1009.0 1121.3,1009.1 1121.8,1009.3 1122.3,1009.2 1122.8,1009.3 1123.3,1009.4 1123.8,1009.0 1124.3,1009.0 1124.8,1008.8 1125.3,1009.4 1125.8,1009.4 1126.3,1009.0 1126.8,1009.4 1127.3,1009.3 1127.8,1009.3 1128.3,1009.2 1128.8,1009.2 1129.3,1009.1 1129.8,1009.0 1130.3,1009.0 1130.8,1009.0 1131.3,1009.2 1131.8,1008.9 1132.3,1009.3 1132.8,1009.0 1133.3,1008.9 1133.8,1009.1 1134.3,1009.4 1134.8,1009.2 1135.3,1009.0 1135.8,1008.8 1136.3,1008.8 1136.8,1008.9 1137.3,1009.3 1137.8,1009.2 1138.3,1009.2 1138.8,1008.8 1139.3,1009.0 1139.8,1009.0 1140.3,1009.3 1140.8,1009.0 1141.3,1008.9 1141.8,1009.4 1142.3,1008.8 1142.8,1008.9 1143.3,1009.2 1143.8,1009.3 1144.3,1009.0 1144.8,1009.0 1145.3,1008.9 1145.8,1009.1 1146.3,1009.2 1146.8,1009.1 1147.3,1008.8 1147.8,1009.0 1148.3,1009.2 1148.8,1009.0 1149.3,1009.2 1149.8,1009.4 1150.3,1009.1 1150.8,1009.4 1151.3,1008.8 1151.8,1009.0 1152.3,1008.8 1152.8,1009.3 1153.3,1009.0 1153.8,1009.0 1154.3,1008.9 1154.8,1009.2 1155.3,1008.8 1155.8,1009.2 1156.3,1008.9 1156.8,1009.4 1157.3,1009.2 1157.8,1009.1 1158.3,1008.8 1158.8,1008.8 1159.3,1009.0 1159.8,1009.2 1160.3,1009.2 1160.8,1009.1 1161.3,1009.0 1161.8,1009.3 1162.3,1009.2 1162.8,1009.3 1163.3,1009.3 1163.8,1009.3 1164.3,1008.9 1164.8,1009.2 1165.3,1009.3 1165.8,1009.2 1166.3,1009.1 1166.8,1009.1 1167.3,1008.8 1167.8,1009.2 1168.3,1009.3 1168.8,1009.3 1169.3,1009.0 1169.8,1009.3 1170.3,1009.1 1170.8,1009.3 1171.3,1009.3 1171.8,1009.1 1172.3,1009.2 1172.8,1009.1 1173.3,1009.3 1173.8,1008.8 1174.3,1008.9 1174.8,1009.4 1175.3,1009.3 1175.8,1009.4 1176.3,1009.2 1176.8,1009.4 1177.3,1009.2 1177.8,1008.9 1178.3,1009.2 1178.8,1009.4 1179.3,1009.4 1179.8,1009.2 1180.3,1009.3 1180.8,1009.3 1181.3,1008.8 1181.8,1008.9 1182.3,1009.4 1182.8,1009.4 1183.3,1009.0 1183.8,1008.8 1184.3,1009.3 1184.8,1009.1 1185.3,1009.4 1185.8,1009.3 1186.3,1008.9 1186.8,1009.1 1187.3,1009.1 1187.8,1008.8 1188.3,1009.3 1188.8,1009.1 1189.3,1009.0 1189.8,1009.0 1190.3,1009.3 1190.8,1009.4 1191.3,1008.9 1191.8,1009.3 1192.3,1009.1 1192.8,1009.1 1193.3,1008.8 1193.8,1008.9 1194.3,1009.3 1194.8,1009.3 1195.3,1009.1 1195.8,1009.2 1196.3,1008.9 1196.8,1009.3 1197.3,1009.3 1197.8,1009.3 1198.3,1009.1 1198.8,1008.9 1199.3,1009.2 1199.8,1009.3 1200.3,1009.2 1200.8,1009.2 1201.3,1009.3 1201.8,1009.2 1202.3,1008.9 1202.8,1008.8 1203.3,1009.1 1203.8,1009.3 1204.3,1009.0 1204.8,1009.1 1205.3,1009.0 1205.8,1009.2 1206.3,1009.0 1206.8,1009.0 1207.3,1009.1 1207.8,1009.0 1208.3,1009.4 1208.8,1009.4 1209.3,1009.0 1209.8,1008.9 1210.3,1009.3 1210.8,1009.1 1211.3,1009.3 1211.8,1008.8 1212.3,1009.3 1212.8,1009.2 1213.3,1009.3 1213.8,1008.8 1214.3,1008.9 1214.8,1009.3 1215.3,1009.3 1215.8,1008.9 1216.3,1009.2 1216.8,1009.3 1217.3,1009.1 1217.8,1009.2 1218.3,1008.9 1218.8,1008.9 1219.3,1009.4 1219.8,1009.1 1220.3,1008.8 1220.8,1008.9 1221.3,1008.9 1221.8,1009.2 1222.3,1008.9 1222.8,1009.0 1223.3,1009.0 1223.8,1009.4 1224.3,1009.0 1224.8,1009.0 1225.3,1009.1 1225.8,1009.3 1226.3,1009.4 1226.8,1009.1 1227.3,1008.8 1227.8,1009.3 1228.3,1008.8 1228.8,1009.1 1229.3,1009.0 1229.8,1009.3 1230.3,1009.0 1230.8,1009.1 1231.3,1008.8 1231.8,1009.0 1232.3,1009.4 1232.8,1008.8 1233.3,1008.8 1233.8,1009.2 1234.3,1009.1 1234.8,1008.9 1235.3,1008.9 1235.8,1009.2 1236.3,1008.9 1236.8,1009.0 1237.3,1008.9 1237.8,1009.3 1238.3,1009.3 1238.8,1009.3 1239.3,1009.1 1239.8,1009.0 1240.3,1009.1 1240.8,1008.9 1241.3,1009.4 1241.8,1008.9 1242.3,1009.3 1242.8,1009.2 1243.3,1008.9" fill="none" stroke="#2aa84a" stroke-width="1.5" stroke-linejoin="round" />
<line x1="557.2" y1="1017.8" x2="1242.8" y2="1017.8" stroke="#777" stroke-width="1.8" />
<line x1="587.0" y1="1017.8" x2="587.0" y2="1019.6" stroke="#777" stroke-width="1.1" />
<line x1="625.9" y1="1017.8" x2="625.9" y2="1019.6" stroke="#777" stroke-width="1.1" />
<line x1="665.0" y1="1017.8" x2="665.0" y2="1019.6" stroke="#777" stroke-width="1.1" />
<line x1="703.0" y1="1017.8" x2="703.0" y2="1021.0" stroke="#777" stroke-width="1.1" />
<line x1="742.5" y1="1017.8" x2="742.5" y2="1019.6" stroke="#777" stroke-width="1.1" />
<line x1="781.6" y1="1017.8" x2="781.6" y2="1019.6" stroke="#777" stroke-width="1.1" />
<line x1="820.7" y1="1017.8" x2="820.7" y2="1019.6" stroke="#777" stroke-width="1.1" />
<line x1="859.2" y1="1017.8" x2="859.2" y2="1021.0" stroke="#777" stroke-width="1.1" />
<line x1="898.7" y1="1017.8" x2="898.7" y2="1019.6" stroke="#777" stroke-width="1.1" />
<line x1="937.6" y1="1017.8" x2="937.6" y2="1019.6" stroke="#777" stroke-width="1.1" />
<line x1="976.5" y1="1017.8" x2="976.5" y2="1019.6" stroke="#777" stroke-width="1.1" />
<line x1="1015.5" y1="1017.8" x2="1015.5" y2="1021.0" stroke="#777" stroke-width="1.1" />
<line x1="1054.4" y1="1017.8" x2="1054.4" y2="1019.6" stroke="#777" stroke-width="1.1" />
<line x1="1093.3" y1="1017.8" x2="1093.3" y2="1019.6" stroke="#777" stroke-width="1.1" />
<line x1="1132.3" y1="1017.8" x2="1132.3" y2="1019.6" stroke="#777" stroke-width="1.1" />
<line x1="1171.2" y1="1017.8" x2="1171.2" y2="1021.0" stroke="#777" stroke-width="1.1" />
<line x1="1209.5" y1="1017.8" x2="1209.5" y2="1019.6" stroke="#777" stroke-width="1.1" />
<line x1="558.7" y1="875.0" x2="862.7" y2="1007.7" stroke="#222" stroke-width="1.2" stroke-dasharray="6.5 5"/>
<line x1="1253.7" y1="875.6" x2="1138.5" y2="1004.8" stroke="#222" stroke-width="1.2" stroke-dasharray="6.5 5"/>
<rect x="558.2" y="695.5" width="695.8" height="179.2" fill="#fff" stroke="#333" stroke-width="1.5" />
<polyline points="567.5,782.3 568.0,781.7 568.5,782.1 569.0,781.8 569.5,782.3 570.0,781.7 570.5,782.2 571.0,782.1 571.5,782.2 572.0,782.3 572.5,781.8 573.0,781.9 573.5,782.1 574.0,781.9 574.5,781.9 575.0,781.8 575.5,782.2 576.0,782.2 576.5,782.2 577.0,781.8 577.5,782.3 578.0,782.0 578.5,781.8 579.0,782.0 579.5,782.0 580.0,781.7 580.5,782.0 581.0,781.9 581.5,782.0 582.0,782.3 582.5,782.1 583.0,781.9 583.5,782.2 584.0,782.3 584.5,782.0 585.0,782.3 585.5,781.7 586.0,781.8 586.5,781.8 587.0,782.3 587.5,782.1 588.0,782.1 588.5,781.9 589.0,782.0 589.5,782.2 590.0,781.8 590.5,781.8 591.0,781.7 591.5,782.0 592.0,782.2 592.5,782.0 593.0,781.9 593.5,782.0 594.0,781.8 594.5,782.3 595.0,781.9 595.5,781.8 596.0,781.9 596.5,782.2 597.0,781.9 597.5,782.2 598.0,781.9 598.5,782.0 599.0,781.7 599.5,782.2 600.0,782.2 600.5,782.0 601.0,781.8 601.5,782.0 602.0,781.9 602.5,782.2 603.0,782.3 603.5,782.1 604.0,781.9 604.5,781.7 605.0,782.2 605.5,782.3 606.0,781.8 606.5,782.0 607.0,782.0 607.5,782.3 608.0,781.7 608.5,781.7 609.0,782.2 609.5,782.0 610.0,782.0 610.5,782.2 611.0,782.1 611.5,782.1 612.0,781.8 612.5,781.7 613.0,781.7 613.5,781.9 614.0,782.1 614.5,781.9 615.0,781.9 615.5,782.1 616.0,782.1 616.5,782.0 617.0,781.9 617.5,782.2 618.0,782.2 618.5,782.2 619.0,782.2 619.5,781.7 620.0,782.1 620.5,781.9 621.0,781.9 621.5,782.0 622.0,781.8 622.5,781.8 623.0,782.3 623.5,781.9 624.0,782.2 624.5,782.1 625.0,781.9 625.5,781.9 626.0,782.0 626.5,782.1 627.0,781.9 627.5,781.7 628.0,781.7 628.5,782.1 629.0,782.0 629.5,781.6 630.0,782.1 630.5,781.9 631.0,781.7 631.5,781.9 632.0,781.3 632.5,781.0 633.0,778.6 633.5,762.7 634.0,723.1 634.5,705.4 635.0,740.5 635.5,771.9 636.0,780.5 636.5,781.1 637.0,781.8 637.5,781.5 638.0,781.9 638.5,782.0 639.0,782.0 639.5,781.9 640.0,781.9 640.5,782.1 641.0,781.9 641.5,781.8 642.0,782.0 642.5,782.0 643.0,781.7 643.5,782.0 644.0,781.9 644.5,781.8 645.0,782.1 645.5,782.1 646.0,781.9 646.5,782.2 647.0,782.3 647.5,782.1 648.0,781.9 648.5,781.8 649.0,781.8 649.5,781.9 650.0,782.3 650.5,781.7 651.0,782.2 651.5,782.1 652.0,782.2 652.5,781.8 653.0,782.1 653.5,781.8 654.0,782.1 654.5,782.2 655.0,782.1 655.5,782.0 656.0,782.2 656.5,781.8 657.0,781.8 657.5,782.2 658.0,781.7 658.5,781.9 659.0,781.9 659.5,782.2 660.0,781.9 660.5,782.0 661.0,782.0 661.5,782.0 662.0,782.0 662.5,782.0 663.0,782.1 663.5,782.0 664.0,782.0 664.5,782.3 665.0,782.3 665.5,781.8 666.0,782.3 666.5,781.7 667.0,781.9 667.5,782.2 668.0,781.8 668.5,782.1 669.0,782.3 669.5,782.1 670.0,782.0 670.5,781.7 671.0,782.0 671.5,782.0 672.0,782.2 672.5,781.9 673.0,782.2 673.5,781.9 674.0,782.1 674.5,782.2 675.0,781.8 675.5,782.3 676.0,782.0 676.5,782.0 677.0,782.3 677.5,782.0 678.0,782.0 678.5,781.8 679.0,781.8 679.5,782.2 680.0,782.0 680.5,782.1 681.0,782.1 681.5,782.1 682.0,781.9 682.5,782.2 683.0,782.0 683.5,781.8 684.0,782.2 684.5,782.2 685.0,781.8 685.5,782.2 686.0,782.1 686.5,781.9 687.0,782.0 687.5,782.3 688.0,781.8 688.5,782.1 689.0,781.8 689.5,781.8 690.0,782.3 690.5,782.3 691.0,782.1 691.5,782.2 692.0,781.9 692.5,782.0 693.0,782.1 693.5,782.2 694.0,782.1 694.5,782.0 695.0,782.1 695.5,781.9 696.0,782.2 696.5,782.2 697.0,782.2 697.5,781.9 698.0,781.9 698.5,782.3 699.0,781.9 699.5,782.1 700.0,781.8 700.5,781.8 701.0,781.8 701.5,782.1 702.0,781.8 702.5,782.1 703.0,781.7 703.5,782.1 704.0,782.1 704.5,781.9 705.0,781.8 705.5,781.8 706.0,782.0 706.5,781.8 707.0,781.8 707.5,782.2 708.0,782.3 708.5,781.8 709.0,782.0 709.5,782.1 710.0,782.3 710.5,782.0 711.0,782.0 711.5,782.2 712.0,782.2 712.5,782.1 713.0,782.1 713.5,782.2 714.0,781.7 714.5,782.2 715.0,781.8 715.5,781.9 716.0,781.9 716.5,782.0 717.0,782.1 717.5,782.1 718.0,781.9 718.5,781.9 719.0,782.1 719.5,782.3 720.0,781.9 720.5,781.7 721.0,782.2 721.5,782.2 722.0,782.2 722.5,782.1 723.0,781.9 723.5,781.7 724.0,782.3 724.5,782.0 725.0,781.8 725.5,782.1 726.0,781.7 726.5,781.9 727.0,782.1 727.5,782.2 728.0,781.9 728.5,781.8 729.0,781.9 729.5,782.2 730.0,781.8 730.5,781.8 731.0,781.9 731.5,782.3 732.0,782.2 732.5,782.3 733.0,781.7 733.5,782.0 734.0,781.8 734.5,782.1 735.0,782.2 735.5,782.0 736.0,782.1 736.5,782.1 737.0,782.0 737.5,781.9 738.0,781.8 738.5,782.1 739.0,782.3 739.5,782.3 740.0,782.3 740.5,782.2 741.0,782.1 741.5,782.0 742.0,781.8 742.5,782.2 743.0,781.8 743.5,782.3 744.0,782.2 744.5,781.9 745.0,782.2 745.5,782.2 746.0,782.2 746.5,781.8 747.0,781.9 747.5,781.8 748.0,782.3 748.5,781.8 749.0,782.0 749.5,782.2 750.0,781.9 750.5,782.1 751.0,782.1 751.5,781.9 752.0,782.3 752.5,782.1 753.0,782.1 753.5,782.1 754.0,782.1 754.5,781.8 755.0,782.2 755.5,782.3 756.0,781.8 756.5,781.9 757.0,781.8 757.5,781.8 758.0,782.0 758.5,782.0 759.0,781.8 759.5,782.0 760.0,782.1 760.5,781.8 761.0,782.1 761.5,782.1 762.0,782.2 762.5,782.3 763.0,782.2 763.5,781.9 764.0,781.7 764.5,781.9 765.0,781.8 765.5,782.2 766.0,781.9 766.5,782.0 767.0,782.1 767.5,782.0 768.0,782.3 768.5,782.1 769.0,782.1 769.5,781.8 770.0,781.8 770.5,782.1 771.0,782.0 771.5,782.0 772.0,782.2 772.5,782.1 773.0,782.2 773.5,781.9 774.0,781.7 774.5,781.9 775.0,782.2 775.5,781.8 776.0,781.8 776.5,781.7 777.0,782.3 777.5,781.8 778.0,781.7 778.5,781.9 779.0,781.7 779.5,782.1 780.0,782.1 780.5,782.0 781.0,782.1 781.5,781.7 782.0,782.2 782.5,782.1 783.0,782.2 783.5,781.8 784.0,782.3 784.5,782.3 785.0,782.0 785.5,781.9 786.0,782.0 786.5,782.1 787.0,782.0 787.5,782.0 788.0,782.3 788.5,782.1 789.0,781.9 789.5,782.2 790.0,782.2 790.5,781.7 791.0,782.0 791.5,781.9 792.0,781.9 792.5,781.9 793.0,782.2 793.5,782.1 794.0,781.8 794.5,781.7 795.0,781.8 795.5,781.9 796.0,782.0 796.5,782.0 797.0,782.0 797.5,782.0 798.0,781.9 798.5,782.3 799.0,781.8 799.5,781.9 800.0,782.1 800.5,782.2 801.0,781.9 801.5,782.1 802.0,781.9 802.5,781.7 803.0,782.3 803.5,781.7 804.0,782.2 804.5,781.7 805.0,781.9 805.5,782.0 806.0,782.2 806.5,782.2 807.0,781.9 807.5,781.7 808.0,782.2 808.5,782.1 809.0,782.3 809.5,781.8 810.0,782.1 810.5,782.1 811.0,782.2 811.5,782.2 812.0,782.2 812.5,782.2 813.0,781.7 813.5,782.3 814.0,782.1 814.5,782.2 815.0,781.8 815.5,782.0 816.0,782.2 816.5,782.3 817.0,782.1 817.5,782.2 818.0,781.7 818.5,781.8 819.0,781.9 819.5,782.2 820.0,782.1 820.5,782.0 821.0,782.2 821.5,782.0 822.0,781.8 822.5,782.3 823.0,782.1 823.5,782.3 824.0,782.2 824.5,782.0 825.0,782.2 825.5,781.8 826.0,781.7 826.5,781.9 827.0,782.3 827.5,781.8 828.0,782.2 828.5,782.0 829.0,781.8 829.5,781.8 830.0,782.1 830.5,781.9 831.0,782.2 831.5,781.7 832.0,782.0 832.5,782.2 833.0,781.8 833.5,781.9 834.0,782.0 834.5,781.8 835.0,782.1 835.5,782.3 836.0,781.9 836.5,781.8 837.0,782.2 837.5,781.7 838.0,782.2 838.5,782.0 839.0,782.2 839.5,781.9 840.0,782.3 840.5,782.1 841.0,782.1 841.5,781.7 842.0,782.0 842.5,781.8 843.0,782.1 843.5,781.9 844.0,781.8 844.5,781.8 845.0,781.9 845.5,781.8 846.0,781.9 846.5,782.0 847.0,782.2 847.5,782.2 848.0,781.9 848.5,782.3 849.0,781.9 849.5,782.0 850.0,782.0 850.5,782.1 851.0,782.0 851.5,782.1 852.0,781.8 852.5,781.8 853.0,781.9 853.5,782.0 854.0,781.9 854.5,782.0 855.0,781.7 855.5,782.0 856.0,782.0 856.5,782.1 857.0,781.8 857.5,782.1 858.0,782.0 858.5,782.3 859.0,781.8 859.5,781.9 860.0,782.2 860.5,782.3 861.0,782.2 861.5,782.2 862.0,782.0 862.5,781.8 863.0,781.9 863.5,782.1 864.0,782.1 864.5,782.0 865.0,781.8 865.5,782.2 866.0,781.9 866.5,781.8 867.0,782.2 867.5,782.2 868.0,782.1 868.5,782.2 869.0,782.1 869.5,782.1 870.0,781.9 870.5,781.8 871.0,782.3 871.5,781.8 872.0,782.2 872.5,781.9 873.0,782.1 873.5,782.2 874.0,782.2 874.5,781.7 875.0,782.2 875.5,781.8 876.0,781.9 876.5,782.3 877.0,782.2 877.5,781.8 878.0,782.2 878.5,781.9 879.0,782.1 879.5,782.2 880.0,781.7 880.5,781.8 881.0,781.8 881.5,781.8 882.0,782.2 882.5,781.7 883.0,781.9 883.5,782.2 884.0,781.7 884.5,782.0 885.0,782.2 885.5,782.2 886.0,782.2 886.5,781.7 887.0,781.7 887.5,782.1 888.0,782.0 888.5,782.0 889.0,782.1 889.5,782.2 890.0,781.9 890.5,782.3 891.0,781.9 891.5,782.2 892.0,781.7 892.5,781.7 893.0,782.1 893.5,782.1 894.0,782.1 894.5,781.7 895.0,782.3 895.5,782.3 896.0,782.2 896.5,782.1 897.0,781.7 897.5,782.0 898.0,781.8 898.5,781.8 899.0,782.0 899.5,782.2 900.0,782.1 900.5,782.3 901.0,781.9 901.5,781.8 902.0,782.2 902.5,782.2 903.0,782.0 903.5,781.8 904.0,782.1 904.5,781.8 905.0,781.9 905.5,782.0 906.0,782.1 906.5,782.1 907.0,781.8 907.5,781.9 908.0,782.0 908.5,781.9 909.0,781.7 909.5,781.8 910.0,782.0 910.5,782.1 911.0,782.3 911.5,781.8 912.0,782.0 912.5,781.8 913.0,781.8 913.5,781.9 914.0,781.9 914.5,782.2 915.0,781.9 915.5,782.3 916.0,782.2 916.5,781.9 917.0,782.2 917.5,781.8 918.0,781.7 918.5,782.0 919.0,782.1 919.5,782.1 920.0,781.7 920.5,781.7 921.0,782.1 921.5,782.2 922.0,782.0 922.5,782.1 923.0,781.8 923.5,781.7 924.0,781.9 924.5,782.2 925.0,781.7 925.5,781.9 926.0,782.0 926.5,781.5 927.0,782.0 927.5,781.5 928.0,781.8 928.5,781.4 929.0,779.5 929.5,768.1 930.0,733.2 930.5,706.4 931.0,733.4 931.5,768.2 932.0,779.5 932.5,781.2 933.0,781.7 933.5,781.7 934.0,781.8 934.5,781.6 935.0,781.7 935.5,781.7 936.0,781.9 936.5,781.7 937.0,781.6 937.5,782.2 938.0,782.2 938.5,781.7 939.0,782.2 939.5,781.8 940.0,782.0 940.5,782.0 941.0,781.7 941.5,781.9 942.0,781.9 942.5,782.0 943.0,782.0 943.5,781.9 944.0,782.0 944.5,781.8 945.0,782.1 945.5,782.0 946.0,781.8 946.5,782.0 947.0,782.0 947.5,782.0 948.0,781.8 948.5,782.0 949.0,782.0 949.5,782.3 950.0,782.2 950.5,782.2 951.0,781.9 951.5,782.0 952.0,781.9 952.5,782.1 953.0,782.2 953.5,782.2 954.0,782.3 954.5,782.2 955.0,782.2 955.5,782.0 956.0,781.8 956.5,781.9 957.0,782.0 957.5,782.0 958.0,782.0 958.5,781.7 959.0,782.3 959.5,781.9 960.0,781.9 960.5,782.2 961.0,781.9 961.5,782.2 962.0,781.8 962.5,782.0 963.0,781.7 963.5,782.0 964.0,782.2 964.5,781.9 965.0,782.1 965.5,782.1 966.0,781.9 966.5,781.8 967.0,782.1 967.5,782.2 968.0,782.3 968.5,782.3 969.0,782.2 969.5,781.9 970.0,782.2 970.5,782.2 971.0,782.0 971.5,782.2 972.0,781.8 972.5,782.1 973.0,782.1 973.5,781.8 974.0,781.8 974.5,782.1 975.0,781.8 975.5,781.9 976.0,782.2 976.5,782.1 977.0,781.9 977.5,782.0 978.0,781.9 978.5,782.1 979.0,782.0 979.5,782.1 980.0,781.8 980.5,782.3 981.0,781.9 981.5,782.1 982.0,782.3 982.5,782.2 983.0,781.7 983.5,782.0 984.0,782.1 984.5,782.0 985.0,781.9 985.5,781.8 986.0,781.9 986.5,782.1 987.0,782.0 987.5,782.2 988.0,781.9 988.5,782.1 989.0,782.3 989.5,781.9 990.0,781.9 990.5,781.9 991.0,781.7 991.5,781.8 992.0,782.2 992.5,781.9 993.0,781.9 993.5,782.2 994.0,781.7 994.5,781.9 995.0,781.8 995.5,781.9 996.0,781.8 996.5,782.1 997.0,781.9 997.5,782.1 998.0,781.8 998.5,782.2 999.0,781.8 999.5,782.2 1000.0,781.8 1000.5,782.0 1001.0,782.1 1001.5,781.8 1002.0,782.0 1002.5,782.1 1003.0,782.0 1003.5,782.1 1004.0,782.0 1004.5,781.7 1005.0,782.2 1005.5,782.3 1006.0,781.8 1006.5,781.8 1007.0,782.1 1007.5,782.1 1008.0,782.0 1008.5,781.8 1009.0,782.0 1009.5,781.9 1010.0,782.0 1010.5,782.3 1011.0,782.0 1011.5,782.3 1012.0,782.3 1012.5,781.8 1013.0,782.0 1013.5,781.8 1014.0,781.8 1014.5,782.0 1015.0,781.7 1015.5,782.2 1016.0,782.1 1016.5,782.3 1017.0,782.2 1017.5,782.2 1018.0,781.9 1018.5,782.3 1019.0,781.8 1019.5,782.2 1020.0,782.3 1020.5,782.2 1021.0,782.2 1021.5,781.8 1022.0,782.2 1022.5,781.8 1023.0,781.8 1023.5,781.8 1024.0,782.2 1024.5,782.2 1025.0,782.0 1025.5,781.7 1026.0,781.8 1026.5,782.2 1027.0,782.1 1027.5,781.9 1028.0,782.3 1028.5,782.0 1029.0,781.7 1029.5,782.3 1030.0,781.9 1030.5,782.0 1031.0,782.2 1031.5,782.3 1032.0,781.9 1032.5,782.2 1033.0,781.9 1033.5,781.7 1034.0,781.7 1034.5,781.8 1035.0,782.0 1035.5,781.9 1036.0,782.2 1036.5,781.9 1037.0,781.7 1037.5,782.0 1038.0,781.8 1038.5,781.7 1039.0,782.3 1039.5,781.8 1040.0,781.8 1040.5,781.9 1041.0,781.8 1041.5,782.0 1042.0,782.1 1042.5,781.9 1043.0,782.0 1043.5,781.7 1044.0,781.8 1044.5,781.9 1045.0,782.1 1045.5,782.1 1046.0,782.3 1046.5,782.0 1047.0,781.8 1047.5,781.9 1048.0,781.9 1048.5,782.2 1049.0,782.1 1049.5,782.0 1050.0,782.0 1050.5,782.1 1051.0,782.1 1051.5,782.2 1052.0,782.0 1052.5,782.2 1053.0,782.3 1053.5,782.2 1054.0,781.8 1054.5,782.3 1055.0,782.0 1055.5,782.2 1056.0,782.2 1056.5,782.2 1057.0,782.2 1057.5,782.1 1058.0,782.3 1058.5,782.0 1059.0,781.9 1059.5,782.0 1060.0,782.1 1060.5,782.2 1061.0,782.1 1061.5,782.0 1062.0,782.1 1062.5,782.0 1063.0,781.8 1063.5,782.3 1064.0,782.1 1064.5,782.1 1065.0,782.2 1065.5,782.0 1066.0,782.0 1066.5,781.7 1067.0,782.1 1067.5,781.9 1068.0,782.1 1068.5,782.2 1069.0,782.1 1069.5,782.1 1070.0,781.8 1070.5,782.1 1071.0,782.2 1071.5,782.0 1072.0,782.1 1072.5,781.9 1073.0,782.1 1073.5,781.9 1074.0,782.0 1074.5,782.2 1075.0,782.0 1075.5,782.1 1076.0,781.8 1076.5,782.0 1077.0,782.1 1077.5,782.1 1078.0,781.8 1078.5,782.0 1079.0,782.0 1079.5,782.0 1080.0,781.8 1080.5,782.2 1081.0,782.1 1081.5,781.9 1082.0,782.3 1082.5,782.1 1083.0,781.9 1083.5,781.9 1084.0,781.9 1084.5,781.8 1085.0,781.8 1085.5,781.8 1086.0,781.7 1086.5,782.1 1087.0,781.9 1087.5,781.9 1088.0,781.9 1088.5,782.3 1089.0,782.3 1089.5,781.9 1090.0,782.1 1090.5,782.3 1091.0,782.2 1091.5,782.0 1092.0,782.2 1092.5,781.8 1093.0,782.1 1093.5,781.9 1094.0,782.1 1094.5,781.9 1095.0,782.2 1095.5,781.8 1096.0,781.9 1096.5,781.8 1097.0,782.0 1097.5,781.7 1098.0,781.8 1098.5,781.8 1099.0,781.7 1099.5,782.1 1100.0,782.2 1100.5,782.3 1101.0,782.0 1101.5,781.9 1102.0,782.1 1102.5,781.9 1103.0,781.7 1103.5,781.9 1104.0,782.2 1104.5,781.9 1105.0,781.9 1105.5,781.9 1106.0,782.2 1106.5,781.9 1107.0,781.9 1107.5,781.8 1108.0,781.8 1108.5,782.2 1109.0,782.3 1109.5,782.2 1110.0,782.0 1110.5,781.9 1111.0,782.1 1111.5,782.0 1112.0,781.9 1112.5,782.1 1113.0,782.2 1113.5,782.1 1114.0,781.9 1114.5,782.3 1115.0,782.2 1115.5,782.1 1116.0,781.9 1116.5,781.8 1117.0,782.2 1117.5,781.9 1118.0,781.8 1118.5,781.9 1119.0,782.2 1119.5,782.2 1120.0,782.2 1120.5,782.2 1121.0,782.1 1121.5,782.1 1122.0,782.2 1122.5,782.0 1123.0,782.3 1123.5,781.9 1124.0,781.7 1124.5,782.2 1125.0,782.0 1125.5,782.2 1126.0,782.0 1126.5,782.1 1127.0,781.8 1127.5,782.0 1128.0,781.8 1128.5,781.7 1129.0,781.8 1129.5,782.1 1130.0,782.2 1130.5,781.7 1131.0,782.2 1131.5,782.0 1132.0,782.0 1132.5,781.7 1133.0,782.3 1133.5,782.1 1134.0,781.8 1134.5,782.0 1135.0,781.9 1135.5,781.9 1136.0,781.7 1136.5,782.3 1137.0,782.0 1137.5,781.8 1138.0,781.8 1138.5,781.9 1139.0,782.3 1139.5,782.0 1140.0,781.9 1140.5,782.2 1141.0,781.7 1141.5,782.1 1142.0,781.7 1142.5,782.0 1143.0,782.1 1143.5,782.1 1144.0,782.1 1144.5,782.0 1145.0,782.3 1145.5,782.2 1146.0,781.7 1146.5,781.7 1147.0,781.8 1147.5,781.9 1148.0,781.8 1148.5,781.9 1149.0,781.7 1149.5,781.9 1150.0,781.8 1150.5,781.8 1151.0,782.2 1151.5,782.1 1152.0,782.2 1152.5,781.9 1153.0,781.8 1153.5,781.8 1154.0,782.1 1154.5,781.8 1155.0,781.8 1155.5,781.9 1156.0,781.9 1156.5,781.9 1157.0,782.0 1157.5,782.2 1158.0,782.1 1158.5,781.9 1159.0,781.9 1159.5,782.3 1160.0,782.3 1160.5,781.9 1161.0,781.8 1161.5,781.8 1162.0,781.9 1162.5,782.2 1163.0,781.8 1163.5,782.0 1164.0,782.1 1164.5,781.7 1165.0,782.1 1165.5,781.8 1166.0,781.9 1166.5,782.0 1167.0,781.9 1167.5,781.9 1168.0,781.8 1168.5,781.9 1169.0,782.2 1169.5,782.2 1170.0,781.9 1170.5,781.8 1171.0,782.1 1171.5,782.0 1172.0,782.2 1172.5,782.0 1173.0,781.9 1173.5,781.7 1174.0,782.0 1174.5,781.8 1175.0,781.8 1175.5,781.9 1176.0,782.0 1176.5,781.9 1177.0,781.9 1177.5,781.7 1178.0,781.8 1178.5,781.8 1179.0,781.8 1179.5,781.9 1180.0,782.0 1180.5,782.1 1181.0,781.7 1181.5,781.8 1182.0,782.3 1182.5,782.1 1183.0,781.8 1183.5,782.2 1184.0,782.2 1184.5,782.1 1185.0,782.3 1185.5,781.9 1186.0,782.0 1186.5,781.8 1187.0,782.2 1187.5,781.8 1188.0,782.1 1188.5,782.2 1189.0,782.3 1189.5,782.0 1190.0,781.9 1190.5,781.8 1191.0,781.9 1191.5,781.8 1192.0,782.3 1192.5,781.8 1193.0,782.2 1193.5,781.9 1194.0,781.8 1194.5,782.2 1195.0,782.3 1195.5,781.8 1196.0,782.3 1196.5,781.8 1197.0,782.0 1197.5,781.9 1198.0,781.8 1198.5,781.8 1199.0,782.2 1199.5,782.0 1200.0,782.0 1200.5,781.8 1201.0,782.1 1201.5,782.0 1202.0,782.1 1202.5,782.1 1203.0,782.3 1203.5,782.1 1204.0,782.1 1204.5,781.9 1205.0,781.8 1205.5,782.3 1206.0,781.9 1206.5,782.2 1207.0,782.2 1207.5,781.8 1208.0,782.2 1208.5,781.8 1209.0,781.9 1209.5,781.8 1210.0,781.9 1210.5,782.1 1211.0,782.0 1211.5,782.2 1212.0,782.2 1212.5,781.9 1213.0,782.1 1213.5,782.0 1214.0,782.3 1214.5,782.2 1215.0,781.8 1215.5,782.1 1216.0,781.7 1216.5,782.1 1217.0,781.7 1217.5,781.8 1218.0,782.2 1218.5,782.0 1219.0,782.2 1219.5,781.7 1220.0,782.0 1220.5,781.7 1221.0,782.2 1221.5,781.9 1222.0,781.9 1222.5,782.0 1223.0,781.8 1223.5,782.0 1224.0,782.1 1224.5,782.2 1225.0,782.1 1225.5,781.9 1226.0,782.3 1226.5,782.3 1227.0,782.1 1227.5,782.2 1228.0,781.8 1228.5,782.2 1229.0,782.1 1229.5,781.7 1230.0,781.9 1230.5,782.1 1231.0,782.3 1231.5,782.3 1232.0,782.3 1232.5,782.3 1233.0,781.8 1233.5,782.2 1234.0,782.0 1234.5,782.2 1235.0,782.0 1235.5,782.0 1236.0,781.8 1236.5,782.3 1237.0,782.2 1237.5,781.9 1238.0,782.0 1238.5,782.2 1239.0,782.0 1239.5,781.8 1240.0,781.8 1240.5,781.8 1241.0,782.1 1241.5,782.1 1242.0,782.2 1242.5,782.0 1243.0,782.1 1243.5,782.0 1244.0,782.2 1244.5,782.1 1245.0,782.1 1245.5,782.2 1246.0,781.9 1246.5,782.3 1247.0,782.0 1247.5,781.7 1248.0,782.3 1248.5,781.7 1249.0,782.1" fill="none" stroke="#2aa84a" stroke-width="1.6" stroke-linejoin="round" />
<polyline points="567.5,839.5 568.0,838.6 568.5,837.4 569.0,837.3 569.5,838.8 570.0,839.0 570.5,839.7 571.0,839.7 571.5,838.5 572.0,839.5 572.5,838.5 573.0,838.3 573.5,838.6 574.0,837.7 574.5,838.5 575.0,839.0 575.5,837.7 576.0,837.5 576.5,838.8 577.0,839.9 577.5,839.7 578.0,839.9 578.5,839.1 579.0,839.3 579.5,839.3 580.0,838.8 580.5,838.7 581.0,838.5 581.5,839.3 582.0,838.1 582.5,839.5 583.0,839.6 583.5,839.3 584.0,838.3 584.5,838.8 585.0,838.1 585.5,838.6 586.0,837.5 586.5,837.3 587.0,838.0 587.5,837.8 588.0,839.9 588.5,838.4 589.0,838.6 589.5,839.6 590.0,838.7 590.5,837.6 591.0,837.9 591.5,837.6 592.0,838.1 592.5,837.8 593.0,838.0 593.5,838.0 594.0,839.4 594.5,839.4 595.0,839.2 595.5,838.0 596.0,837.6 596.5,838.5 597.0,837.9 597.5,839.8 598.0,839.1 598.5,838.5 599.0,839.7 599.5,837.7 600.0,837.4 600.5,838.7 601.0,839.8 601.5,838.1 602.0,838.6 602.5,837.8 603.0,838.4 603.5,838.8 604.0,837.3 604.5,837.4 605.0,839.7 605.5,839.6 606.0,838.0 606.5,839.5 607.0,838.6 607.5,837.4 608.0,837.5 608.5,837.7 609.0,838.8 609.5,837.5 610.0,838.7 610.5,838.7 611.0,838.6 611.5,837.8 612.0,837.7 612.5,838.1 613.0,838.6 613.5,838.2 614.0,839.5 614.5,839.8 615.0,837.9 615.5,839.6 616.0,839.0 616.5,838.7 617.0,838.2 617.5,839.8 618.0,839.2 618.5,839.2 619.0,838.5 619.5,838.6 620.0,838.1 620.5,838.2 621.0,839.0 621.5,839.2 622.0,837.5 622.5,837.7 623.0,837.5 623.5,839.2 624.0,839.2 624.5,838.3 625.0,837.6 625.5,839.6 626.0,838.5 626.5,839.4 627.0,837.9 627.5,838.2 628.0,838.8 628.5,838.0 629.0,836.9 629.5,838.2 630.0,836.5 630.5,837.8 631.0,836.2 631.5,831.8 632.0,816.5 632.5,801.7 633.0,806.9 633.5,821.7 634.0,826.0 634.5,824.8 635.0,825.5 635.5,827.6 636.0,830.4 636.5,831.1 637.0,831.9 637.5,835.1 638.0,834.4 638.5,835.6 639.0,836.5 639.5,838.3 640.0,838.8 640.5,837.9 641.0,839.4 641.5,837.1 642.0,839.2 642.5,839.5 643.0,837.5 643.5,837.8 644.0,837.6 644.5,838.0 645.0,837.5 645.5,837.7 646.0,837.3 646.5,839.2 647.0,839.4 647.5,838.7 648.0,839.1 648.5,838.7 649.0,838.7 649.5,839.5 650.0,839.7 650.5,838.0 651.0,838.6 651.5,838.9 652.0,839.4 652.5,839.8 653.0,837.8 653.5,838.1 654.0,839.4 654.5,838.6 655.0,839.9 655.5,838.0 656.0,838.2 656.5,837.8 657.0,838.5 657.5,838.8 658.0,838.2 658.5,839.9 659.0,839.8 659.5,838.0 660.0,838.0 660.5,837.4 661.0,838.0 661.5,839.5 662.0,837.9 662.5,839.1 663.0,838.3 663.5,839.1 664.0,839.5 664.5,838.0 665.0,839.8 665.5,837.7 666.0,837.6 666.5,837.6 667.0,839.6 667.5,839.8 668.0,839.9 668.5,839.6 669.0,838.8 669.5,839.4 670.0,838.1 670.5,838.5 671.0,839.3 671.5,839.4 672.0,838.5 672.5,838.9 673.0,838.9 673.5,838.3 674.0,838.2 674.5,838.4 675.0,837.5 675.5,837.5 676.0,839.9 676.5,837.8 677.0,838.8 677.5,837.8 678.0,837.7 678.5,839.1 679.0,839.3 679.5,839.1 680.0,838.1 680.5,837.5 681.0,839.4 681.5,838.4 682.0,839.9 682.5,839.8 683.0,838.8 683.5,837.7 684.0,839.8 684.5,839.6 685.0,837.8 685.5,837.7 686.0,838.1 686.5,839.5 687.0,838.0 687.5,839.7 688.0,837.6 688.5,839.4 689.0,838.5 689.5,838.3 690.0,838.2 690.5,839.5 691.0,839.1 691.5,837.3 692.0,838.8 692.5,839.7 693.0,838.0 693.5,837.4 694.0,839.5 694.5,839.8 695.0,839.3 695.5,839.4 696.0,837.5 696.5,838.5 697.0,839.3 697.5,838.7 698.0,839.6 698.5,837.8 699.0,838.9 699.5,839.1 700.0,838.0 700.5,839.7 701.0,838.4 701.5,839.3 702.0,838.3 702.5,837.4 703.0,839.5 703.5,837.5 704.0,839.1 704.5,839.8 705.0,838.1 705.5,839.5 706.0,839.1 706.5,839.6 707.0,837.5 707.5,838.4 708.0,837.7 708.5,838.1 709.0,837.9 709.5,838.6 710.0,839.5 710.5,838.5 711.0,837.9 711.5,839.9 712.0,839.5 712.5,838.7 713.0,839.5 713.5,838.8 714.0,838.3 714.5,838.7 715.0,837.6 715.5,839.9 716.0,838.2 716.5,839.2 717.0,838.9 717.5,839.8 718.0,839.0 718.5,837.5 719.0,837.4 719.5,838.4 720.0,837.7 720.5,838.0 721.0,839.5 721.5,838.9 722.0,838.0 722.5,838.9 723.0,838.1 723.5,839.2 724.0,838.0 724.5,839.4 725.0,839.3 725.5,838.3 726.0,837.4 726.5,838.8 727.0,838.4 727.5,839.1 728.0,837.8 728.5,838.6 729.0,839.2 729.5,838.8 730.0,839.1 730.5,837.9 731.0,839.8 731.5,838.0 732.0,839.4 732.5,837.9 733.0,838.0 733.5,839.8 734.0,838.7 734.5,838.0 735.0,837.8 735.5,837.4 736.0,837.6 736.5,838.0 737.0,838.1 737.5,838.9 738.0,839.9 738.5,837.3 739.0,838.1 739.5,839.6 740.0,837.4 740.5,839.8 741.0,837.4 741.5,837.8 742.0,838.5 742.5,837.9 743.0,839.3 743.5,839.2 744.0,837.5 744.5,839.9 745.0,839.6 745.5,838.0 746.0,839.2 746.5,838.3 747.0,838.0 747.5,839.4 748.0,839.8 748.5,838.3 749.0,838.8 749.5,839.5 750.0,839.4 750.5,837.9 751.0,839.0 751.5,838.1 752.0,837.7 752.5,838.4 753.0,838.2 753.5,838.8 754.0,837.7 754.5,839.9 755.0,838.1 755.5,839.4 756.0,837.6 756.5,838.6 757.0,839.2 757.5,838.4 758.0,839.2 758.5,838.3 759.0,838.0 759.5,838.5 760.0,838.6 760.5,839.6 761.0,837.7 761.5,839.0 762.0,839.9 762.5,838.9 763.0,838.6 763.5,838.7 764.0,838.1 764.5,838.0 765.0,838.1 765.5,837.4 766.0,839.6 766.5,839.8 767.0,839.5 767.5,839.8 768.0,839.4 768.5,837.9 769.0,838.5 769.5,838.7 770.0,838.9 770.5,838.8 771.0,838.0 771.5,838.4 772.0,839.1 772.5,838.7 773.0,837.9 773.5,839.9 774.0,837.4 774.5,839.6 775.0,837.4 775.5,837.8 776.0,837.9 776.5,838.8 777.0,838.8 777.5,839.5 778.0,839.7 778.5,838.5 779.0,838.6 779.5,837.8 780.0,837.6 780.5,838.2 781.0,839.9 781.5,838.5 782.0,837.6 782.5,839.0 783.0,837.8 783.5,838.8 784.0,838.6 784.5,839.3 785.0,837.8 785.5,838.8 786.0,839.3 786.5,838.9 787.0,837.8 787.5,838.0 788.0,837.7 788.5,837.3 789.0,838.8 789.5,838.3 790.0,838.2 790.5,838.6 791.0,839.2 791.5,837.5 792.0,839.5 792.5,839.6 793.0,838.1 793.5,838.8 794.0,838.4 794.5,838.8 795.0,837.7 795.5,837.9 796.0,839.7 796.5,837.5 797.0,837.6 797.5,837.5 798.0,838.3 798.5,839.4 799.0,837.8 799.5,837.9 800.0,838.6 800.5,838.8 801.0,838.3 801.5,839.7 802.0,837.9 802.5,839.5 803.0,839.0 803.5,838.9 804.0,838.2 804.5,839.9 805.0,839.6 805.5,837.9 806.0,839.0 806.5,838.1 807.0,838.9 807.5,838.6 808.0,837.8 808.5,838.4 809.0,838.0 809.5,839.8 810.0,839.1 810.5,838.3 811.0,838.4 811.5,838.0 812.0,839.1 812.5,837.8 813.0,838.3 813.5,838.4 814.0,838.6 814.5,839.3 815.0,837.4 815.5,838.1 816.0,838.3 816.5,838.4 817.0,838.8 817.5,837.5 818.0,839.7 818.5,838.2 819.0,839.2 819.5,838.6 820.0,838.6 820.5,837.5 821.0,838.1 821.5,839.3 822.0,839.7 822.5,839.8 823.0,838.4 823.5,837.7 824.0,838.2 824.5,837.7 825.0,837.6 825.5,839.7 826.0,839.1 826.5,837.4 827.0,839.6 827.5,838.3 828.0,837.8 828.5,839.0 829.0,838.2 829.5,837.7 830.0,839.5 830.5,837.8 831.0,837.8 831.5,838.5 832.0,838.7 832.5,838.3 833.0,839.7 833.5,837.4 834.0,839.7 834.5,838.4 835.0,838.3 835.5,838.6 836.0,837.6 836.5,838.4 837.0,838.2 837.5,838.6 838.0,838.3 838.5,837.4 839.0,838.9 839.5,838.1 840.0,838.1 840.5,837.4 841.0,837.5 841.5,837.9 842.0,838.3 842.5,837.9 843.0,838.1 843.5,838.3 844.0,838.8 844.5,838.5 845.0,839.1 845.5,839.4 846.0,839.7 846.5,839.4 847.0,839.8 847.5,838.2 848.0,837.8 848.5,839.3 849.0,838.5 849.5,839.6 850.0,838.4 850.5,839.2 851.0,839.0 851.5,839.2 852.0,838.1 852.5,837.4 853.0,839.5 853.5,838.2 854.0,838.4 854.5,837.4 855.0,839.4 855.5,838.3 856.0,837.4 856.5,837.8 857.0,838.8 857.5,837.7 858.0,839.8 858.5,838.4 859.0,839.3 859.5,839.0 860.0,837.7 860.5,837.9 861.0,837.7 861.5,839.6 862.0,838.7 862.5,838.6 863.0,839.3 863.5,837.4 864.0,839.1 864.5,837.5 865.0,838.8 865.5,839.7 866.0,837.3 866.5,837.9 867.0,838.3 867.5,838.0 868.0,838.5 868.5,839.1 869.0,837.5 869.5,838.0 870.0,837.4 870.5,837.8 871.0,839.6 871.5,837.4 872.0,839.3 872.5,839.0 873.0,838.7 873.5,838.3 874.0,839.6 874.5,838.6 875.0,838.6 875.5,839.7 876.0,839.1 876.5,839.0 877.0,839.5 877.5,839.3 878.0,838.2 878.5,839.5 879.0,838.6 879.5,838.3 880.0,839.3 880.5,838.9 881.0,839.7 881.5,839.6 882.0,839.8 882.5,837.3 883.0,838.5 883.5,838.2 884.0,838.7 884.5,838.9 885.0,838.2 885.5,839.1 886.0,839.1 886.5,839.2 887.0,838.5 887.5,838.0 888.0,837.3 888.5,838.1 889.0,838.2 889.5,836.2 890.0,835.1 890.5,833.6 891.0,833.5 891.5,833.0 892.0,833.4 892.5,833.4 893.0,835.4 893.5,834.5 894.0,836.2 894.5,838.3 895.0,837.2 895.5,837.8 896.0,837.7 896.5,839.7 897.0,839.4 897.5,837.5 898.0,838.2 898.5,837.9 899.0,837.8 899.5,839.1 900.0,837.5 900.5,839.6 901.0,837.9 901.5,837.7 902.0,837.9 902.5,837.8 903.0,839.3 903.5,839.6 904.0,838.9 904.5,838.3 905.0,838.2 905.5,838.1 906.0,839.3 906.5,839.1 907.0,839.7 907.5,837.6 908.0,838.9 908.5,838.2 909.0,837.3 909.5,838.8 910.0,839.1 910.5,839.4 911.0,839.3 911.5,837.6 912.0,838.1 912.5,837.8 913.0,838.0 913.5,837.3 914.0,839.5 914.5,839.0 915.0,838.5 915.5,837.8 916.0,839.1 916.5,839.1 917.0,839.8 917.5,839.2 918.0,839.4 918.5,838.5 919.0,838.5 919.5,837.5 920.0,839.8 920.5,838.2 921.0,839.1 921.5,839.1 922.0,838.7 922.5,837.5 923.0,839.4 923.5,838.2 924.0,838.8 924.5,839.8 925.0,839.0 925.5,839.7 926.0,839.1 926.5,839.3 927.0,838.1 927.5,838.8 928.0,837.9 928.5,837.7 929.0,837.7 929.5,837.4 930.0,839.5 930.5,839.2 931.0,839.6 931.5,838.3 932.0,837.8 932.5,838.6 933.0,838.2 933.5,838.8 934.0,837.5 934.5,837.6 935.0,839.6 935.5,839.4 936.0,838.6 936.5,838.9 937.0,838.8 937.5,838.4 938.0,837.7 938.5,837.4 939.0,837.9 939.5,837.4 940.0,837.4 940.5,838.7 941.0,837.8 941.5,839.7 942.0,838.7 942.5,839.0 943.0,837.9 943.5,839.8 944.0,838.5 944.5,838.6 945.0,838.6 945.5,838.2 946.0,838.4 946.5,839.3 947.0,838.3 947.5,837.9 948.0,839.9 948.5,839.9 949.0,838.9 949.5,837.3 950.0,838.9 950.5,838.3 951.0,837.4 951.5,839.0 952.0,839.2 952.5,838.8 953.0,837.7 953.5,837.4 954.0,838.4 954.5,838.5 955.0,839.3 955.5,837.5 956.0,838.8 956.5,837.5 957.0,837.6 957.5,837.6 958.0,839.4 958.5,839.6 959.0,837.5 959.5,839.8 960.0,839.3 960.5,838.1 961.0,839.1 961.5,838.4 962.0,837.3 962.5,837.6 963.0,838.3 963.5,837.5 964.0,837.6 964.5,839.8 965.0,839.4 965.5,838.0 966.0,837.6 966.5,837.7 967.0,839.6 967.5,839.3 968.0,838.1 968.5,837.4 969.0,838.4 969.5,839.0 970.0,838.5 970.5,838.2 971.0,838.4 971.5,837.7 972.0,838.0 972.5,839.2 973.0,838.5 973.5,839.8 974.0,838.3 974.5,838.8 975.0,838.4 975.5,837.7 976.0,838.8 976.5,837.5 977.0,839.5 977.5,838.1 978.0,838.7 978.5,838.7 979.0,839.1 979.5,838.2 980.0,839.0 980.5,837.8 981.0,839.1 981.5,838.4 982.0,838.8 982.5,837.6 983.0,838.5 983.5,836.3 984.0,835.1 984.5,834.4 985.0,835.6 985.5,835.9 986.0,835.9 986.5,837.4 987.0,838.0 987.5,836.4 988.0,831.0 988.5,828.6 989.0,828.8 989.5,833.3 990.0,835.1 990.5,838.7 991.0,839.2 991.5,839.3 992.0,838.3 992.5,837.5 993.0,837.2 993.5,837.9 994.0,839.1 994.5,837.3 995.0,839.2 995.5,839.3 996.0,838.3 996.5,837.6 997.0,839.0 997.5,837.7 998.0,839.7 998.5,838.0 999.0,839.4 999.5,839.6 1000.0,837.8 1000.5,837.8 1001.0,839.7 1001.5,839.8 1002.0,839.8 1002.5,838.4 1003.0,838.4 1003.5,838.1 1004.0,838.6 1004.5,838.7 1005.0,837.6 1005.5,839.8 1006.0,839.6 1006.5,837.8 1007.0,837.8 1007.5,839.6 1008.0,838.4 1008.5,839.6 1009.0,839.8 1009.5,838.2 1010.0,839.4 1010.5,838.6 1011.0,837.9 1011.5,838.6 1012.0,839.2 1012.5,838.9 1013.0,839.5 1013.5,837.5 1014.0,836.7 1014.5,833.4 1015.0,826.3 1015.5,824.2 1016.0,830.6 1016.5,836.9 1017.0,837.4 1017.5,837.4 1018.0,839.4 1018.5,837.1 1019.0,837.3 1019.5,837.2 1020.0,837.3 1020.5,839.5 1021.0,837.9 1021.5,837.6 1022.0,837.9 1022.5,837.9 1023.0,836.4 1023.5,827.2 1024.0,819.1 1024.5,820.3 1025.0,829.9 1025.5,836.9 1026.0,838.0 1026.5,837.7 1027.0,838.7 1027.5,838.7 1028.0,838.5 1028.5,838.5 1029.0,837.7 1029.5,838.1 1030.0,838.5 1030.5,839.5 1031.0,837.3 1031.5,838.1 1032.0,837.7 1032.5,837.3 1033.0,837.3 1033.5,837.5 1034.0,838.6 1034.5,838.5 1035.0,837.6 1035.5,838.3 1036.0,838.2 1036.5,837.6 1037.0,837.3 1037.5,838.1 1038.0,838.2 1038.5,838.4 1039.0,838.6 1039.5,837.9 1040.0,838.5 1040.5,838.8 1041.0,839.3 1041.5,839.3 1042.0,838.9 1042.5,837.4 1043.0,839.1 1043.5,839.7 1044.0,839.0 1044.5,838.4 1045.0,838.0 1045.5,837.5 1046.0,839.3 1046.5,839.6 1047.0,838.0 1047.5,837.8 1048.0,839.5 1048.5,838.8 1049.0,838.8 1049.5,838.5 1050.0,838.1 1050.5,835.4 1051.0,832.0 1051.5,825.0 1052.0,815.1 1052.5,812.7 1053.0,822.9 1053.5,830.3 1054.0,835.8 1054.5,836.2 1055.0,838.0 1055.5,836.3 1056.0,828.2 1056.5,816.8 1057.0,815.1 1057.5,827.1 1058.0,833.9 1058.5,835.7 1059.0,837.8 1059.5,836.7 1060.0,836.1 1060.5,834.7 1061.0,823.6 1061.5,807.3 1062.0,804.5 1062.5,819.8 1063.0,831.2 1063.5,831.2 1064.0,824.0 1064.5,819.4 1065.0,818.4 1065.5,824.1 1066.0,828.0 1066.5,827.9 1067.0,828.1 1067.5,828.6 1068.0,831.3 1068.5,836.6 1069.0,835.9 1069.5,837.3 1070.0,838.3 1070.5,837.1 1071.0,837.2 1071.5,837.4 1072.0,838.1 1072.5,838.1 1073.0,838.7 1073.5,839.1 1074.0,837.5 1074.5,839.1 1075.0,839.2 1075.5,839.0 1076.0,837.7 1076.5,838.7 1077.0,839.7 1077.5,838.4 1078.0,838.3 1078.5,837.4 1079.0,838.1 1079.5,839.4 1080.0,838.0 1080.5,837.4 1081.0,838.1 1081.5,839.1 1082.0,838.3 1082.5,837.7 1083.0,838.2 1083.5,839.8 1084.0,837.7 1084.5,837.3 1085.0,839.6 1085.5,838.4 1086.0,839.6 1086.5,839.0 1087.0,838.0 1087.5,838.1 1088.0,839.6 1088.5,839.8 1089.0,839.1 1089.5,837.8 1090.0,838.1 1090.5,837.2 1091.0,838.8 1091.5,839.6 1092.0,839.3 1092.5,839.7 1093.0,839.0 1093.5,838.4 1094.0,838.3 1094.5,837.4 1095.0,838.4 1095.5,837.7 1096.0,838.7 1096.5,838.8 1097.0,839.3 1097.5,837.5 1098.0,837.5 1098.5,837.9 1099.0,838.5 1099.5,838.2 1100.0,837.3 1100.5,831.7 1101.0,813.2 1101.5,787.0 1102.0,791.0 1102.5,818.6 1103.0,833.8 1103.5,836.7 1104.0,838.3 1104.5,838.2 1105.0,839.0 1105.5,838.1 1106.0,838.7 1106.5,838.4 1107.0,839.6 1107.5,838.8 1108.0,838.8 1108.5,839.7 1109.0,838.8 1109.5,838.6 1110.0,837.3 1110.5,838.0 1111.0,837.8 1111.5,839.0 1112.0,839.5 1112.5,837.3 1113.0,839.0 1113.5,839.8 1114.0,838.7 1114.5,838.8 1115.0,839.4 1115.5,839.4 1116.0,839.2 1116.5,838.6 1117.0,839.1 1117.5,839.6 1118.0,839.4 1118.5,837.4 1119.0,839.1 1119.5,839.6 1120.0,838.3 1120.5,837.2 1121.0,837.6 1121.5,837.9 1122.0,837.8 1122.5,839.2 1123.0,839.8 1123.5,838.5 1124.0,837.5 1124.5,839.1 1125.0,839.0 1125.5,838.7 1126.0,839.5 1126.5,839.5 1127.0,838.8 1127.5,838.4 1128.0,837.0 1128.5,836.0 1129.0,830.6 1129.5,822.8 1130.0,816.2 1130.5,819.1 1131.0,828.5 1131.5,834.0 1132.0,838.0 1132.5,837.2 1133.0,837.4 1133.5,838.6 1134.0,838.9 1134.5,839.3 1135.0,837.3 1135.5,838.3 1136.0,837.9 1136.5,838.6 1137.0,839.6 1137.5,839.7 1138.0,838.1 1138.5,839.6 1139.0,838.5 1139.5,838.7 1140.0,837.1 1140.5,839.1 1141.0,837.9 1141.5,832.8 1142.0,825.4 1142.5,817.6 1143.0,824.5 1143.5,833.9 1144.0,837.0 1144.5,838.4 1145.0,839.0 1145.5,838.5 1146.0,839.6 1146.5,838.7 1147.0,839.0 1147.5,838.1 1148.0,839.0 1148.5,837.6 1149.0,838.0 1149.5,839.2 1150.0,838.9 1150.5,839.2 1151.0,838.4 1151.5,839.6 1152.0,839.4 1152.5,838.2 1153.0,838.0 1153.5,837.9 1154.0,838.9 1154.5,838.3 1155.0,839.1 1155.5,839.3 1156.0,838.5 1156.5,837.5 1157.0,838.8 1157.5,838.1 1158.0,837.5 1158.5,838.9 1159.0,838.2 1159.5,837.7 1160.0,838.6 1160.5,838.4 1161.0,839.3 1161.5,837.7 1162.0,839.6 1162.5,839.5 1163.0,837.9 1163.5,839.4 1164.0,837.6 1164.5,838.1 1165.0,837.7 1165.5,839.4 1166.0,838.4 1166.5,839.4 1167.0,839.7 1167.5,839.7 1168.0,838.2 1168.5,837.7 1169.0,839.8 1169.5,839.1 1170.0,838.1 1170.5,839.4 1171.0,839.4 1171.5,838.5 1172.0,837.4 1172.5,837.4 1173.0,837.4 1173.5,839.5 1174.0,838.8 1174.5,837.2 1175.0,836.9 1175.5,837.7 1176.0,838.3 1176.5,834.3 1177.0,830.7 1177.5,821.5 1178.0,814.7 1178.5,821.0 1179.0,826.8 1179.5,827.3 1180.0,822.0 1180.5,818.6 1181.0,823.1 1181.5,828.9 1182.0,830.7 1182.5,831.3 1183.0,830.9 1183.5,830.6 1184.0,833.1 1184.5,835.4 1185.0,837.4 1185.5,835.8 1186.0,837.5 1186.5,837.0 1187.0,837.7 1187.5,838.5 1188.0,836.9 1188.5,838.3 1189.0,838.8 1189.5,837.5 1190.0,838.0 1190.5,837.1 1191.0,837.2 1191.5,837.1 1192.0,837.6 1192.5,837.4 1193.0,839.0 1193.5,837.4 1194.0,837.6 1194.5,837.3 1195.0,837.0 1195.5,838.5 1196.0,836.5 1196.5,838.2 1197.0,837.1 1197.5,838.7 1198.0,837.8 1198.5,836.4 1199.0,838.6 1199.5,837.0 1200.0,837.0 1200.5,838.1 1201.0,836.7 1201.5,836.2 1202.0,837.0 1202.5,837.2 1203.0,837.2 1203.5,838.0 1204.0,836.4 1204.5,838.1 1205.0,836.6 1205.5,836.5 1206.0,836.1 1206.5,838.4 1207.0,837.5 1207.5,837.2 1208.0,838.1 1208.5,837.2 1209.0,836.1 1209.5,836.8 1210.0,836.8 1210.5,836.9 1211.0,836.3 1211.5,837.9 1212.0,838.3 1212.5,836.5 1213.0,836.0 1213.5,837.8 1214.0,835.7 1214.5,837.7 1215.0,836.9 1215.5,837.5 1216.0,838.0 1216.5,836.5 1217.0,837.4 1217.5,835.4 1218.0,837.7 1218.5,836.4 1219.0,837.7 1219.5,836.3 1220.0,837.2 1220.5,835.6 1221.0,835.1 1221.5,836.6 1222.0,836.2 1222.5,835.4 1223.0,835.3 1223.5,834.8 1224.0,834.2 1224.5,833.8 1225.0,832.0 1225.5,815.7 1226.0,791.5 1226.5,795.2 1227.0,819.2 1227.5,833.1 1228.0,835.4 1228.5,834.1 1229.0,836.4 1229.5,836.3 1230.0,834.7 1230.5,836.5 1231.0,836.0 1231.5,836.5 1232.0,835.5 1232.5,835.3 1233.0,835.7 1233.5,836.5 1234.0,836.3 1234.5,834.5 1235.0,836.5 1235.5,837.0 1236.0,835.0 1236.5,835.3 1237.0,835.5 1237.5,835.0 1238.0,834.5 1238.5,835.0 1239.0,834.4 1239.5,836.5 1240.0,835.1 1240.5,834.9 1241.0,835.8 1241.5,834.8 1242.0,835.8 1242.5,834.2 1243.0,835.5 1243.5,835.1 1244.0,834.5 1244.5,834.2 1245.0,835.1 1245.5,834.1 1246.0,835.9 1246.5,834.4 1247.0,836.5 1247.5,834.0 1248.0,834.0 1248.5,834.6 1249.0,836.3" fill="none" stroke="#111" stroke-width="1.8" stroke-linejoin="round" />
<line x1="567.2" y1="850.3" x2="1249.0" y2="850.3" stroke="#888" stroke-width="1.1" />
<line x1="574.3" y1="850.3" x2="574.3" y2="853.8" stroke="#888" stroke-width="1.0" />
<line x1="618.2" y1="850.3" x2="618.2" y2="852.3" stroke="#888" stroke-width="1.0" />
<line x1="662.2" y1="850.3" x2="662.2" y2="852.3" stroke="#888" stroke-width="1.0" />
<line x1="705.6" y1="850.3" x2="705.6" y2="852.3" stroke="#888" stroke-width="1.0" />
<line x1="749.6" y1="850.3" x2="749.6" y2="853.8" stroke="#888" stroke-width="1.0" />
<line x1="793.3" y1="850.3" x2="793.3" y2="852.3" stroke="#888" stroke-width="1.0" />
<line x1="836.8" y1="850.3" x2="836.8" y2="852.3" stroke="#888" stroke-width="1.0" />
<line x1="881.0" y1="850.3" x2="881.0" y2="852.3" stroke="#888" stroke-width="1.0" />
<line x1="925.1" y1="850.3" x2="925.1" y2="853.8" stroke="#888" stroke-width="1.0" />
<line x1="968.6" y1="850.3" x2="968.6" y2="852.3" stroke="#888" stroke-width="1.0" />
<line x1="1012.4" y1="850.3" x2="1012.4" y2="852.3" stroke="#888" stroke-width="1.0" />
<line x1="1056.8" y1="850.3" x2="1056.8" y2="852.3" stroke="#888" stroke-width="1.0" />
<line x1="1100.2" y1="850.3" x2="1100.2" y2="853.8" stroke="#888" stroke-width="1.0" />
<line x1="1144.0" y1="850.3" x2="1144.0" y2="852.3" stroke="#888" stroke-width="1.0" />
<line x1="1187.5" y1="850.3" x2="1187.5" y2="852.3" stroke="#888" stroke-width="1.0" />
<line x1="1231.9" y1="850.3" x2="1231.9" y2="852.3" stroke="#888" stroke-width="1.0" />
<text x="14.97" y="66.52" font-size="22.06" fill="#000" font-weight="bold" textLength="15.1" lengthAdjust="spacingAndGlyphs">A</text>
<text x="615.43" y="65.8" font-size="21.01" fill="#000" font-weight="bold" textLength="14.09" lengthAdjust="spacingAndGlyphs">B</text>
<text x="14.49" y="728.51" font-size="19.3" fill="#000" font-weight="bold" textLength="14.67" lengthAdjust="spacingAndGlyphs">C</text>
<text x="137.31" y="47.69" font-size="11.41" fill="#231f20" textLength="15.17" lengthAdjust="spacingAndGlyphs">13</text>
<text x="151.71" y="55.52" font-size="23.1" fill="#231f20" textLength="23.08" lengthAdjust="spacingAndGlyphs">C-</text>
<text x="174.97" y="47.69" font-size="11.41" fill="#231f20" textLength="14.38" lengthAdjust="spacingAndGlyphs">13</text>
<text x="188.7" y="55.42" font-size="23.1" fill="#231f20" textLength="111.92" lengthAdjust="spacingAndGlyphs">C STOCSY</text>
<text x="427.27" y="47.39" font-size="11.41" fill="#231f20" textLength="14.27" lengthAdjust="spacingAndGlyphs">13</text>
<text x="440.91" y="55.0" font-size="22.89" fill="#231f20" textLength="23.08" lengthAdjust="spacingAndGlyphs">C-</text>
<text x="464.98" y="47.39" font-size="11.41" fill="#231f20">1</text>
<text x="471.55" y="55.15" font-size="22.89" fill="#231f20" textLength="66.93" lengthAdjust="spacingAndGlyphs">H SHY</text>
<text x="41.95" y="124.04" font-size="21.27" fill="#231f20" textLength="36.49" lengthAdjust="spacingAndGlyphs">100</text>
<text x="41.75" y="199.09" font-size="21.27" fill="#231f20" textLength="36.49" lengthAdjust="spacingAndGlyphs">120</text>
<text x="41.75" y="273.44" font-size="21.27" fill="#231f20" textLength="36.49" lengthAdjust="spacingAndGlyphs">140</text>
<text x="90.45" y="606.38" font-size="21.69" fill="#231f20" textLength="36.49" lengthAdjust="spacingAndGlyphs">140</text>
<text x="180.35" y="606.18" font-size="21.69" fill="#231f20" textLength="36.6" lengthAdjust="spacingAndGlyphs">120</text>
<text x="272.35" y="606.18" font-size="21.69" fill="#231f20" textLength="36.6" lengthAdjust="spacingAndGlyphs">100</text>
<text x="145.98" y="623.74" font-size="11.41" fill="#231f20" textLength="14.16" lengthAdjust="spacingAndGlyphs">13</text>
<text x="159.6" y="630.71" font-size="21.38" fill="#231f20" textLength="79.14" lengthAdjust="spacingAndGlyphs">C (ppm)</text>
<text x="408.43" y="606.88" font-size="21.69" fill="#231f20" textLength="13.06" lengthAdjust="spacingAndGlyphs">9</text>
<text x="485.7" y="606.88" font-size="21.69" fill="#231f20" textLength="12.55" lengthAdjust="spacingAndGlyphs">8</text>
<text x="562.96" y="606.99" font-size="21.69" fill="#231f20" textLength="11.1" lengthAdjust="spacingAndGlyphs">7</text>
<text x="452.23" y="623.79" font-size="11.41" fill="#231f20">1</text>
<text x="458.91" y="630.71" font-size="21.38" fill="#231f20" textLength="76.18" lengthAdjust="spacingAndGlyphs">H (ppm)</text>
<text x="42.5" y="556.7" font-size="19.13" fill="#231f20" textLength="54.23" lengthAdjust="spacingAndGlyphs" transform="rotate(-90 42.5 556.7)">BMRB</text>
<text x="63.58" y="578.97" font-size="18.19" fill="#231f20" textLength="93.82" lengthAdjust="spacingAndGlyphs" transform="rotate(-90 63.58 578.97)">Tryptophan</text>
<text x="745.55" y="34.14" font-size="11.41" fill="#231f20" textLength="14.61" lengthAdjust="spacingAndGlyphs">13</text>
<text x="759.2" y="41.01" font-size="21.76" fill="#231f20" textLength="175.63" lengthAdjust="spacingAndGlyphs">C PLS-DA Scores</text>
<text x="1059.48" y="35.49" font-size="11.41" fill="#231f20">1</text>
<text x="1065.43" y="42.86" font-size="21.76" fill="#231f20" textLength="176.3" lengthAdjust="spacingAndGlyphs">H PLS-DA Scores</text>
<text x="708.11" y="71.61" font-size="13.73" fill="#231f20" textLength="8.07" lengthAdjust="spacingAndGlyphs">4</text>
<text x="707.99" y="110.54" font-size="13.73" fill="#231f20" textLength="8.56" lengthAdjust="spacingAndGlyphs">0</text>
<text x="699.68" y="148.76" font-size="13.73" fill="#231f20" textLength="16.46" lengthAdjust="spacingAndGlyphs">−4</text>
<text x="701.44" y="167.29" font-size="13.73" fill="#231f20" textLength="15.09" lengthAdjust="spacingAndGlyphs">−8</text>
<text x="740.27" y="211.38" font-size="12.25" fill="#231f20" textLength="24.76" lengthAdjust="spacingAndGlyphs">−10</text>
<text x="809.46" y="211.38" font-size="12.25" fill="#231f20" textLength="7.63" lengthAdjust="spacingAndGlyphs">0</text>
<text x="871.25" y="211.38" font-size="12.25" fill="#231f20" textLength="13.26" lengthAdjust="spacingAndGlyphs">10</text>
<text x="799.38" y="229.09" font-size="16.34" fill="#231f20" textLength="21.02" lengthAdjust="spacingAndGlyphs">C1</text>
<text x="1025.01" y="103.26" font-size="12.5" fill="#231f20">1</text>
<text x="1026.18" y="138.86" font-size="12.5" fill="#231f20" textLength="7.79" lengthAdjust="spacingAndGlyphs">0</text>
<text x="1018.23" y="201.91" font-size="12.5" fill="#231f20" textLength="15.35" lengthAdjust="spacingAndGlyphs">−1</text>
<text x="1051.91" y="212.93" font-size="12.5" fill="#231f20" textLength="15.7" lengthAdjust="spacingAndGlyphs">−4</text>
<text x="1143.78" y="212.86" font-size="12.5" fill="#231f20" textLength="7.79" lengthAdjust="spacingAndGlyphs">0</text>
<text x="1223.85" y="212.93" font-size="12.5" fill="#231f20" textLength="7.79" lengthAdjust="spacingAndGlyphs">4</text>
<text x="1136.74" y="229.69" font-size="16.34" fill="#231f20" textLength="21.99" lengthAdjust="spacingAndGlyphs">C1</text>
<text x="939.95" y="82.33" font-size="15.69" fill="#231f20" textLength="77.14" lengthAdjust="spacingAndGlyphs" stroke="#231f20" stroke-width="0.3">Susceptible</text>
<text x="940.5" y="110.78" font-size="15.69" fill="#231f20" textLength="40.01" lengthAdjust="spacingAndGlyphs" stroke="#231f20" stroke-width="0.3">Hardy</text>
<text x="664.21" y="382.93" font-size="22.11" fill="#231f20" textLength="12.4" lengthAdjust="spacingAndGlyphs">0</text>
<text x="716.0" y="603.06" font-size="21.2" fill="#231f20" textLength="25.05" lengthAdjust="spacingAndGlyphs">80</text>
<text x="783.57" y="603.76" font-size="21.2" fill="#231f20" textLength="25.19" lengthAdjust="spacingAndGlyphs">60</text>
<text x="850.67" y="604.21" font-size="21.2" fill="#231f20" textLength="24.05" lengthAdjust="spacingAndGlyphs">40</text>
<text x="918.78" y="604.21" font-size="21.2" fill="#231f20" textLength="24.86" lengthAdjust="spacingAndGlyphs">20</text>
<text x="758.66" y="623.34" font-size="11.41" fill="#231f20" textLength="14.49" lengthAdjust="spacingAndGlyphs">13</text>
<text x="772.71" y="630.75" font-size="21.17" fill="#231f20" textLength="78.63" lengthAdjust="spacingAndGlyphs">C (ppm)</text>
<text x="652.4" y="568.69" font-size="21.91" fill="#231f20" textLength="331.8" lengthAdjust="spacingAndGlyphs" transform="rotate(-90 652.4 568.69)">Loading Intensities of Component 1</text>
<text x="685.63" y="254.44" font-size="14.0" fill="#231f20" textLength="104.46" lengthAdjust="spacingAndGlyphs" stroke="#231f20" stroke-width="0.3">Phosphocholine</text>
<text x="686.2" y="300.83" font-size="14.0" fill="#231f20" textLength="30.5" lengthAdjust="spacingAndGlyphs" stroke="#231f20" stroke-width="0.3">AMP</text>
<text x="881.16" y="254.09" font-size="14.0" fill="#231f20" textLength="75.59" lengthAdjust="spacingAndGlyphs" stroke="#231f20" stroke-width="0.3">Methionine</text>
<text x="881.68" y="271.24" font-size="14.0" fill="#231f20" textLength="59.46" lengthAdjust="spacingAndGlyphs" stroke="#231f20" stroke-width="0.3">Sulfoxide</text>
<text x="833.19" y="282.84" font-size="14.0" fill="#231f20" textLength="57.99" lengthAdjust="spacingAndGlyphs" stroke="#231f20" stroke-width="0.3">Histidine</text>
<text x="840.31" y="313.49" font-size="14.0" fill="#231f20" textLength="46.9" lengthAdjust="spacingAndGlyphs" stroke="#231f20" stroke-width="0.3">Taurine</text>
<text x="684.6" y="507.2" font-size="14.0" fill="#231f20" stroke="#231f20" stroke-width="0.3">Glucose, Maltose</text>
<text x="799.5" y="481.44" font-size="14.0" fill="#231f20" textLength="54.73" lengthAdjust="spacingAndGlyphs" stroke="#231f20" stroke-width="0.3">Arginine</text>
<text x="851.54" y="517.79" font-size="14.0" fill="#231f20" textLength="45.08" lengthAdjust="spacingAndGlyphs" stroke="#231f20" stroke-width="0.3">Proline</text>
<text x="905.9" y="465.74" font-size="14.0" fill="#231f20" textLength="48.16" lengthAdjust="spacingAndGlyphs" stroke="#231f20" stroke-width="0.3">Alanine</text>
<text x="997.43" y="278.43" font-size="22.11" fill="#231f20" textLength="12.05" lengthAdjust="spacingAndGlyphs">0</text>
<text x="1055.01" y="604.4" font-size="20.14" fill="#231f20" textLength="12.43" lengthAdjust="spacingAndGlyphs">5</text>
<text x="1141.2" y="604.5" font-size="20.14" fill="#231f20" textLength="12.55" lengthAdjust="spacingAndGlyphs">3</text>
<text x="1226.91" y="604.5" font-size="20.14" fill="#231f20">1</text>
<text x="1095.93" y="625.34" font-size="11.41" fill="#231f20">1</text>
<text x="1102.23" y="632.75" font-size="21.17" fill="#231f20" textLength="79.83" lengthAdjust="spacingAndGlyphs">H (ppm)</text>
<text x="1029.89" y="382.69" font-size="14.0" fill="#231f20" textLength="52.1" lengthAdjust="spacingAndGlyphs" stroke="#231f20" stroke-width="0.3">Glucose</text>
<text x="1029.4" y="400.59" font-size="14.0" fill="#231f20" textLength="52.52" lengthAdjust="spacingAndGlyphs" stroke="#231f20" stroke-width="0.3">Maltose</text>
<text x="1189.4" y="410.79" font-size="14.0" fill="#231f20" textLength="48.06" lengthAdjust="spacingAndGlyphs" stroke="#231f20" stroke-width="0.3">Alanine</text>
<text x="1123.71" y="494.04" font-size="14.0" fill="#231f20" textLength="47.0" lengthAdjust="spacingAndGlyphs" stroke="#231f20" stroke-width="0.3">Taurine</text>
<text x="232.24" y="678.03" font-size="21.39" fill="#231f20" textLength="28.13" lengthAdjust="spacingAndGlyphs">1D</text>
<text x="263.13" y="670.19" font-size="11.41" fill="#231f20">1</text>
<text x="269.43" y="677.63" font-size="21.39" fill="#231f20" textLength="113.25" lengthAdjust="spacingAndGlyphs">H spectrum</text>
<text x="870.64" y="675.14" font-size="20.84" fill="#231f20" textLength="28.13" lengthAdjust="spacingAndGlyphs">1D</text>
<text x="902.41" y="668.14" font-size="11.41" fill="#231f20" textLength="13.71" lengthAdjust="spacingAndGlyphs">13</text>
<text x="915.9" y="675.21" font-size="20.84" fill="#231f20" textLength="112.37" lengthAdjust="spacingAndGlyphs">C spectrum</text>
<text x="123.15" y="711.84" font-size="15.93" fill="#231f20" textLength="56.39" lengthAdjust="spacingAndGlyphs" stroke="#231f20" stroke-width="0.3">Creatine</text>
<text x="122.92" y="739.2" font-size="15.93" fill="#231f20" textLength="91.73" lengthAdjust="spacingAndGlyphs" stroke="#231f20" stroke-width="0.3">Mouse Serum</text>
<text x="119.68" y="764.7" font-size="15.93" fill="#231f20" textLength="33.75" lengthAdjust="spacingAndGlyphs" stroke="#231f20" stroke-width="0.3">MDX</text>
<text x="120.12" y="787.19" font-size="15.93" fill="#231f20" textLength="50.17" lengthAdjust="spacingAndGlyphs" stroke="#231f20" stroke-width="0.3">Control</text>
<text x="14.56" y="1041.2" font-size="21.29" fill="#231f20" textLength="12.32" lengthAdjust="spacingAndGlyphs">4</text>
<text x="219.89" y="1041.09" font-size="21.29" fill="#231f20" textLength="13.26" lengthAdjust="spacingAndGlyphs">3</text>
<text x="424.47" y="1041.2" font-size="21.29" fill="#231f20" textLength="13.26" lengthAdjust="spacingAndGlyphs">2</text>
<text x="207.23" y="1056.49" font-size="11.41" fill="#231f20">1</text>
<text x="214.44" y="1063.87" font-size="21.81" fill="#231f20" textLength="79.31" lengthAdjust="spacingAndGlyphs">H (ppm)</text>
<text x="317.61" y="887.07" font-size="22.82" fill="#231f20" textLength="43.22" lengthAdjust="spacingAndGlyphs">3.02</text>
<text x="562.23" y="871.29" font-size="21.13" fill="#231f20" textLength="25.95" lengthAdjust="spacingAndGlyphs">60</text>
<text x="739.0" y="871.29" font-size="21.13" fill="#231f20" textLength="25.05" lengthAdjust="spacingAndGlyphs">50</text>
<text x="912.26" y="871.29" font-size="21.13" fill="#231f20" textLength="24.58" lengthAdjust="spacingAndGlyphs">40</text>
<text x="1087.1" y="871.29" font-size="21.13" fill="#231f20" textLength="25.05" lengthAdjust="spacingAndGlyphs">30</text>
<text x="690.1" y="1037.68" font-size="22.11" fill="#231f20" textLength="25.16" lengthAdjust="spacingAndGlyphs">80</text>
<text x="846.46" y="1037.68" font-size="22.11" fill="#231f20" textLength="25.41" lengthAdjust="spacingAndGlyphs">60</text>
<text x="1001.86" y="1037.68" font-size="22.11" fill="#231f20" textLength="24.68" lengthAdjust="spacingAndGlyphs">40</text>
<text x="1154.36" y="1037.68" font-size="22.11" fill="#231f20" textLength="25.41" lengthAdjust="spacingAndGlyphs">20</text>
<text x="892.16" y="1055.54" font-size="11.41" fill="#231f20" textLength="14.49" lengthAdjust="spacingAndGlyphs">13</text>
<text x="906.1" y="1062.97" font-size="21.81" fill="#231f20" textLength="79.24" lengthAdjust="spacingAndGlyphs">C (ppm)</text>
</svg></body></html>
